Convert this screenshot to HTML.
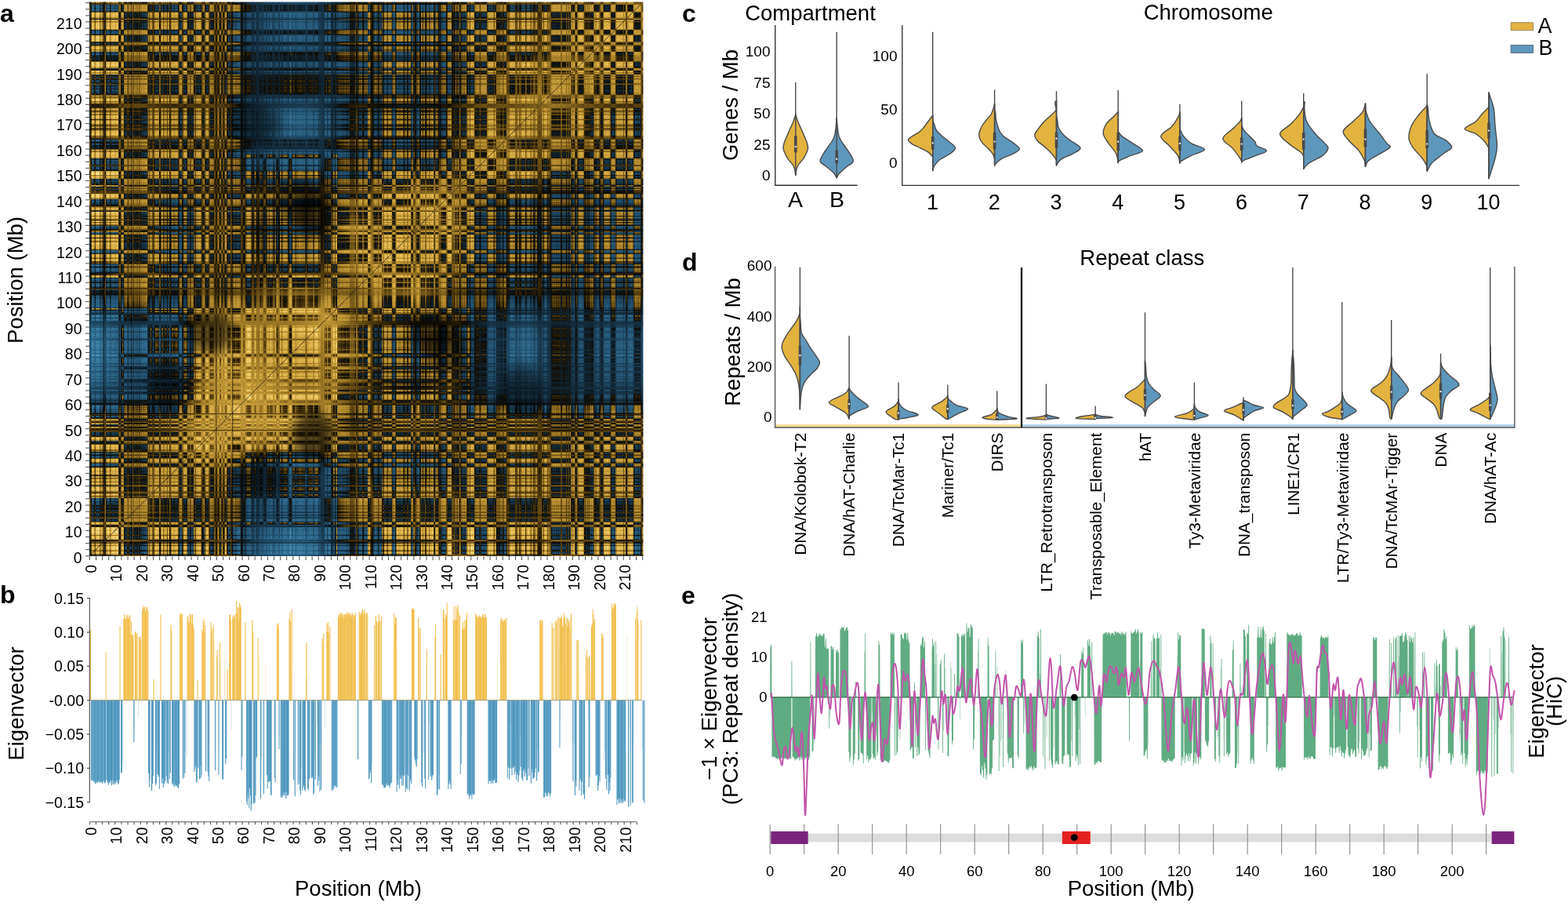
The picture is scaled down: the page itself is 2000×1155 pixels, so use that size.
<!DOCTYPE html><html><head><meta charset="utf-8"><title>Figure</title><style>html,body{margin:0;padding:0;background:#fff;}svg{display:block;}text{font-family:"Liberation Sans", Arial, Helvetica, sans-serif;}</style></head><body>
<svg width="2000" height="1155" viewBox="0 0 2000 1155">
<defs><filter id="f1" filterUnits="userSpaceOnUse" x="83.9" y="-27.4" width="766.5" height="766.5" color-interpolation-filters="sRGB">
<feColorMatrix in="SourceGraphic" type="matrix" values="1 0 0 0 0 1 0 0 0 0 1 0 0 0 0 0 0 0 0 1" result="R"/>
<feColorMatrix in="SourceGraphic" type="matrix" values="0 1 0 0 0 0 1 0 0 0 0 1 0 0 0 0 0 0 0 1" result="C"/>
<feColorMatrix in="SourceGraphic" type="matrix" values="0 0 1 0 0 0 0 1 0 0 0 0 1 0 0 0 0 0 0 1" result="H0"/>
<feGaussianBlur in="H0" stdDeviation="14" result="H"/>
<feComposite in="R" in2="C" operator="arithmetic" k1="2" k2="-1" k3="-1" k4="1" result="P"/>
<feComposite in="P" in2="H" operator="arithmetic" k1="2" k2="-1" k3="-1" k4="1" result="V"/>
<feColorMatrix in="V" type="matrix" values="1 0 0 0 0 0 0 0 0 0 0 0 0 0 0 0 0 0 0 1"/>
</filter>
<filter id="f2" filterUnits="userSpaceOnUse" x="83.9" y="-27.4" width="766.5" height="766.5" color-interpolation-filters="sRGB">
<feColorMatrix in="SourceGraphic" type="matrix" values="1 0 0 0 0 1 0 0 0 0 1 0 0 0 0 0 0 0 0 1" result="V"/>
<feColorMatrix in="SourceGraphic" type="matrix" values="0 1 0 0 0 0 1 0 0 0 0 1 0 0 0 0 0 0 0 1" result="G0"/>
<feGaussianBlur in="G0" stdDeviation="14" result="G"/>
<feComposite in="V" in2="G" operator="arithmetic" k1="0" k2="1" k3="1" k4="-0.5" result="VV"/>
<feComponentTransfer in="VV" result="CM">
<feFuncR type="table" tableValues="0.267 0.256 0.246 0.235 0.225 0.214 0.204 0.193 0.183 0.173 0.162 0.152 0.141 0.127 0.113 0.099 0.085 0.071 0.063 0.055 0.047 0.136 0.225 0.314 0.388 0.463 0.537 0.612 0.686 0.719 0.752 0.784 0.817 0.850 0.882 0.899 0.915 0.931 0.948 0.964 0.980"/>
<feFuncG type="table" tableValues="0.557 0.540 0.523 0.506 0.489 0.472 0.455 0.434 0.413 0.392 0.371 0.350 0.329 0.295 0.260 0.226 0.191 0.157 0.118 0.078 0.039 0.102 0.165 0.227 0.288 0.348 0.409 0.469 0.529 0.560 0.591 0.622 0.652 0.683 0.714 0.742 0.770 0.798 0.826 0.854 0.882"/>
<feFuncB type="table" tableValues="0.714 0.694 0.675 0.655 0.635 0.616 0.596 0.572 0.548 0.524 0.499 0.475 0.451 0.404 0.357 0.310 0.263 0.216 0.150 0.085 0.020 0.031 0.043 0.055 0.078 0.102 0.125 0.149 0.173 0.195 0.217 0.239 0.261 0.284 0.306 0.346 0.387 0.427 0.468 0.508 0.549"/>
</feComponentTransfer>
<feTurbulence type="fractalNoise" baseFrequency="0.9" numOctaves="2" seed="5" result="N"/>
<feColorMatrix in="N" type="matrix" values="1 0 0 0 0 1 0 0 0 0 1 0 0 0 0 0 0 0 0 1" result="NG"/>
<feComposite in="CM" in2="NG" operator="arithmetic" k1="0.5" k2="0.75" k3="0" k4="0"/>
</filter>
<filter id="fb" x="-0.1" y="-0.1" width="1.2" height="1.2"><feGaussianBlur stdDeviation="7"/></filter>
<clipPath id="hmclip"><rect x="113.9" y="2.6" width="706.5" height="706.5"/></clipPath></defs>
<rect width="2000" height="1155" fill="#fff"/>
<g clip-path="url(#hmclip)">
<g filter="url(#f2)">
<g filter="url(#f1)">
<rect x="83.9" y="707.5" width="766.5" height="31.9" fill="rgb(164,0,0)"/>
<rect x="83.9" y="705.9" width="766.5" height="1.9" fill="rgb(103,0,0)"/>
<rect x="83.9" y="704.2" width="766.5" height="1.9" fill="rgb(11,0,0)"/>
<rect x="83.9" y="702.6" width="766.5" height="1.9" fill="rgb(32,0,0)"/>
<rect x="83.9" y="701" width="766.5" height="1.9" fill="rgb(96,0,0)"/>
<rect x="83.9" y="699.4" width="766.5" height="1.9" fill="rgb(25,0,0)"/>
<rect x="83.9" y="697.8" width="766.5" height="1.9" fill="rgb(20,0,0)"/>
<rect x="83.9" y="696.1" width="766.5" height="1.9" fill="rgb(4,0,0)"/>
<rect x="83.9" y="694.5" width="766.5" height="1.9" fill="rgb(87,0,0)"/>
<rect x="83.9" y="692.9" width="766.5" height="1.9" fill="rgb(39,0,0)"/>
<rect x="83.9" y="691.3" width="766.5" height="1.9" fill="rgb(80,0,0)"/>
<rect x="83.9" y="689.6" width="766.5" height="1.9" fill="rgb(104,0,0)"/>
<rect x="83.9" y="688" width="766.5" height="1.9" fill="rgb(161,0,0)"/>
<rect x="83.9" y="686.4" width="766.5" height="1.9" fill="rgb(64,0,0)"/>
<rect x="83.9" y="684.8" width="766.5" height="1.9" fill="rgb(20,0,0)"/>
<rect x="83.9" y="683.2" width="766.5" height="1.9" fill="rgb(12,0,0)"/>
<rect x="83.9" y="681.5" width="766.5" height="1.9" fill="rgb(93,0,0)"/>
<rect x="83.9" y="679.9" width="766.5" height="1.9" fill="rgb(28,0,0)"/>
<rect x="83.9" y="678.3" width="766.5" height="1.9" fill="rgb(13,0,0)"/>
<rect x="83.9" y="676.7" width="766.5" height="1.9" fill="rgb(8,0,0)"/>
<rect x="83.9" y="675.1" width="766.5" height="1.9" fill="rgb(34,0,0)"/>
<rect x="83.9" y="673.4" width="766.5" height="1.9" fill="rgb(7,0,0)"/>
<rect x="83.9" y="671.8" width="766.5" height="1.9" fill="rgb(14,0,0)"/>
<rect x="83.9" y="670.2" width="766.5" height="1.9" fill="rgb(167,0,0)"/>
<rect x="83.9" y="668.6" width="766.5" height="1.9" fill="rgb(166,0,0)"/>
<rect x="83.9" y="666.9" width="766.5" height="1.9" fill="rgb(70,0,0)"/>
<rect x="83.9" y="665.3" width="766.5" height="1.9" fill="rgb(21,0,0)"/>
<rect x="83.9" y="663.7" width="766.5" height="1.9" fill="rgb(183,0,0)"/>
<rect x="83.9" y="662.1" width="766.5" height="1.9" fill="rgb(221,0,0)"/>
<rect x="83.9" y="660.5" width="766.5" height="1.9" fill="rgb(210,0,0)"/>
<rect x="83.9" y="658.8" width="766.5" height="1.9" fill="rgb(145,0,0)"/>
<rect x="83.9" y="657.2" width="766.5" height="1.9" fill="rgb(201,0,0)"/>
<rect x="83.9" y="655.6" width="766.5" height="1.9" fill="rgb(226,0,0)"/>
<rect x="83.9" y="654" width="766.5" height="1.9" fill="rgb(216,0,0)"/>
<rect x="83.9" y="652.4" width="766.5" height="1.9" fill="rgb(142,0,0)"/>
<rect x="83.9" y="650.7" width="766.5" height="1.9" fill="rgb(204,0,0)"/>
<rect x="83.9" y="649.1" width="766.5" height="1.9" fill="rgb(211,0,0)"/>
<rect x="83.9" y="647.5" width="766.5" height="1.9" fill="rgb(168,0,0)"/>
<rect x="83.9" y="645.9" width="766.5" height="1.9" fill="rgb(211,0,0)"/>
<rect x="83.9" y="644.2" width="766.5" height="1.9" fill="rgb(160,0,0)"/>
<rect x="83.9" y="642.6" width="766.5" height="1.9" fill="rgb(206,0,0)"/>
<rect x="83.9" y="641" width="766.5" height="1.9" fill="rgb(220,0,0)"/>
<rect x="83.9" y="639.4" width="766.5" height="1.9" fill="rgb(212,0,0)"/>
<rect x="83.9" y="637.8" width="766.5" height="1.9" fill="rgb(222,0,0)"/>
<rect x="83.9" y="636.1" width="766.5" height="1.9" fill="rgb(235,0,0)"/>
<rect x="83.9" y="634.5" width="766.5" height="1.9" fill="rgb(216,0,0)"/>
<rect x="83.9" y="632.9" width="766.5" height="1.9" fill="rgb(64,0,0)"/>
<rect x="83.9" y="631.3" width="766.5" height="1.9" fill="rgb(113,0,0)"/>
<rect x="83.9" y="629.7" width="766.5" height="1.9" fill="rgb(4,0,0)"/>
<rect x="83.9" y="628" width="766.5" height="1.9" fill="rgb(93,0,0)"/>
<rect x="83.9" y="626.4" width="766.5" height="1.9" fill="rgb(128,0,0)"/>
<rect x="83.9" y="624.8" width="766.5" height="1.9" fill="rgb(63,0,0)"/>
<rect x="83.9" y="623.2" width="766.5" height="1.9" fill="rgb(4,0,0)"/>
<rect x="83.9" y="621.6" width="766.5" height="1.9" fill="rgb(27,0,0)"/>
<rect x="83.9" y="619.9" width="766.5" height="1.9" fill="rgb(28,0,0)"/>
<rect x="83.9" y="618.3" width="766.5" height="1.9" fill="rgb(176,0,0)"/>
<rect x="83.9" y="616.7" width="766.5" height="1.9" fill="rgb(66,0,0)"/>
<rect x="83.9" y="615.1" width="766.5" height="1.9" fill="rgb(2,0,0)"/>
<rect x="83.9" y="613.4" width="766.5" height="1.9" fill="rgb(87,0,0)"/>
<rect x="83.9" y="611.8" width="766.5" height="1.9" fill="rgb(27,0,0)"/>
<rect x="83.9" y="610.2" width="766.5" height="1.9" fill="rgb(31,0,0)"/>
<rect x="83.9" y="608.6" width="766.5" height="1.9" fill="rgb(93,0,0)"/>
<rect x="83.9" y="607" width="766.5" height="1.9" fill="rgb(19,0,0)"/>
<rect x="83.9" y="605.3" width="766.5" height="1.9" fill="rgb(143,0,0)"/>
<rect x="83.9" y="603.7" width="766.5" height="1.9" fill="rgb(64,0,0)"/>
<rect x="83.9" y="602.1" width="766.5" height="1.9" fill="rgb(1,0,0)"/>
<rect x="83.9" y="600.5" width="766.5" height="1.9" fill="rgb(37,0,0)"/>
<rect x="83.9" y="598.9" width="766.5" height="1.9" fill="rgb(22,0,0)"/>
<rect x="83.9" y="597.2" width="766.5" height="1.9" fill="rgb(5,0,0)"/>
<rect x="83.9" y="595.6" width="766.5" height="1.9" fill="rgb(27,0,0)"/>
<rect x="83.9" y="594" width="766.5" height="1.9" fill="rgb(144,0,0)"/>
<rect x="83.9" y="592.4" width="766.5" height="1.9" fill="rgb(213,0,0)"/>
<rect x="83.9" y="590.7" width="766.5" height="1.9" fill="rgb(230,0,0)"/>
<rect x="83.9" y="589.1" width="766.5" height="1.9" fill="rgb(110,0,0)"/>
<rect x="83.9" y="587.5" width="766.5" height="1.9" fill="rgb(32,0,0)"/>
<rect x="83.9" y="585.9" width="766.5" height="1.9" fill="rgb(12,0,0)"/>
<rect x="83.9" y="584.3" width="766.5" height="1.9" fill="rgb(20,0,0)"/>
<rect x="83.9" y="582.6" width="766.5" height="1.9" fill="rgb(183,0,0)"/>
<rect x="83.9" y="581" width="766.5" height="1.9" fill="rgb(214,0,0)"/>
<rect x="83.9" y="579.4" width="766.5" height="1.9" fill="rgb(141,0,0)"/>
<rect x="83.9" y="577.8" width="766.5" height="1.9" fill="rgb(210,0,0)"/>
<rect x="83.9" y="576.2" width="766.5" height="1.9" fill="rgb(221,0,0)"/>
<rect x="83.9" y="574.5" width="766.5" height="1.9" fill="rgb(69,0,0)"/>
<rect x="83.9" y="572.9" width="766.5" height="1.9" fill="rgb(108,0,0)"/>
<rect x="83.9" y="571.3" width="766.5" height="1.9" fill="rgb(26,0,0)"/>
<rect x="83.9" y="569.7" width="766.5" height="1.9" fill="rgb(27,0,0)"/>
<rect x="83.9" y="568.1" width="766.5" height="1.9" fill="rgb(15,0,0)"/>
<rect x="83.9" y="566.4" width="766.5" height="1.9" fill="rgb(22,0,0)"/>
<rect x="83.9" y="564.8" width="766.5" height="1.9" fill="rgb(139,0,0)"/>
<rect x="83.9" y="563.2" width="766.5" height="1.9" fill="rgb(169,0,0)"/>
<rect x="83.9" y="561.6" width="766.5" height="1.9" fill="rgb(208,0,0)"/>
<rect x="83.9" y="559.9" width="766.5" height="1.9" fill="rgb(77,0,0)"/>
<rect x="83.9" y="558.3" width="766.5" height="1.9" fill="rgb(22,0,0)"/>
<rect x="83.9" y="556.7" width="766.5" height="1.9" fill="rgb(44,0,0)"/>
<rect x="83.9" y="555.1" width="766.5" height="1.9" fill="rgb(142,0,0)"/>
<rect x="83.9" y="553.5" width="766.5" height="1.9" fill="rgb(214,0,0)"/>
<rect x="83.9" y="551.8" width="766.5" height="1.9" fill="rgb(206,0,0)"/>
<rect x="83.9" y="550.2" width="766.5" height="1.9" fill="rgb(207,0,0)"/>
<rect x="83.9" y="548.6" width="766.5" height="1.9" fill="rgb(112,0,0)"/>
<rect x="83.9" y="547" width="766.5" height="1.9" fill="rgb(132,0,0)"/>
<rect x="83.9" y="545.4" width="766.5" height="1.9" fill="rgb(156,0,0)"/>
<rect x="83.9" y="543.7" width="766.5" height="1.9" fill="rgb(66,0,0)"/>
<rect x="83.9" y="542.1" width="766.5" height="1.9" fill="rgb(167,0,0)"/>
<rect x="83.9" y="540.5" width="766.5" height="1.9" fill="rgb(208,0,0)"/>
<rect x="83.9" y="538.9" width="766.5" height="1.9" fill="rgb(71,0,0)"/>
<rect x="83.9" y="537.2" width="766.5" height="1.9" fill="rgb(163,0,0)"/>
<rect x="83.9" y="535.6" width="766.5" height="1.9" fill="rgb(120,0,0)"/>
<rect x="83.9" y="534" width="766.5" height="1.9" fill="rgb(36,0,0)"/>
<rect x="83.9" y="532.4" width="766.5" height="1.9" fill="rgb(149,0,0)"/>
<rect x="83.9" y="530.8" width="766.5" height="1.9" fill="rgb(222,0,0)"/>
<rect x="83.9" y="529.1" width="766.5" height="1.9" fill="rgb(221,0,0)"/>
<rect x="83.9" y="527.5" width="766.5" height="1.9" fill="rgb(123,0,0)"/>
<rect x="83.9" y="525.9" width="766.5" height="1.9" fill="rgb(182,0,0)"/>
<rect x="83.9" y="524.3" width="766.5" height="1.9" fill="rgb(224,0,0)"/>
<rect x="83.9" y="522.7" width="766.5" height="1.9" fill="rgb(228,0,0)"/>
<rect x="83.9" y="521" width="766.5" height="1.9" fill="rgb(211,0,0)"/>
<rect x="83.9" y="519.4" width="766.5" height="1.9" fill="rgb(220,0,0)"/>
<rect x="83.9" y="517.8" width="766.5" height="1.9" fill="rgb(229,0,0)"/>
<rect x="83.9" y="516.2" width="766.5" height="1.9" fill="rgb(221,0,0)"/>
<rect x="83.9" y="514.5" width="766.5" height="1.9" fill="rgb(120,0,0)"/>
<rect x="83.9" y="512.9" width="766.5" height="1.9" fill="rgb(128,0,0)"/>
<rect x="83.9" y="511.3" width="766.5" height="1.9" fill="rgb(177,0,0)"/>
<rect x="83.9" y="509.7" width="766.5" height="1.9" fill="rgb(146,0,0)"/>
<rect x="83.9" y="508.1" width="766.5" height="1.9" fill="rgb(68,0,0)"/>
<rect x="83.9" y="506.4" width="766.5" height="1.9" fill="rgb(14,0,0)"/>
<rect x="83.9" y="504.8" width="766.5" height="1.9" fill="rgb(11,0,0)"/>
<rect x="83.9" y="503.2" width="766.5" height="1.9" fill="rgb(5,0,0)"/>
<rect x="83.9" y="501.6" width="766.5" height="1.9" fill="rgb(80,0,0)"/>
<rect x="83.9" y="500" width="766.5" height="1.9" fill="rgb(144,0,0)"/>
<rect x="83.9" y="498.3" width="766.5" height="1.9" fill="rgb(118,0,0)"/>
<rect x="83.9" y="496.7" width="766.5" height="1.9" fill="rgb(20,0,0)"/>
<rect x="83.9" y="495.1" width="766.5" height="1.9" fill="rgb(116,0,0)"/>
<rect x="83.9" y="493.5" width="766.5" height="1.9" fill="rgb(128,0,0)"/>
<rect x="83.9" y="491.9" width="766.5" height="1.9" fill="rgb(138,0,0)"/>
<rect x="83.9" y="490.2" width="766.5" height="1.9" fill="rgb(65,0,0)"/>
<rect x="83.9" y="488.6" width="766.5" height="1.9" fill="rgb(80,0,0)"/>
<rect x="83.9" y="487" width="766.5" height="1.9" fill="rgb(107,0,0)"/>
<rect x="83.9" y="485.4" width="766.5" height="1.9" fill="rgb(155,0,0)"/>
<rect x="83.9" y="483.7" width="766.5" height="1.9" fill="rgb(175,0,0)"/>
<rect x="83.9" y="482.1" width="766.5" height="1.9" fill="rgb(112,0,0)"/>
<rect x="83.9" y="480.5" width="766.5" height="1.9" fill="rgb(13,0,0)"/>
<rect x="83.9" y="478.9" width="766.5" height="1.9" fill="rgb(81,0,0)"/>
<rect x="83.9" y="477.3" width="766.5" height="1.9" fill="rgb(26,0,0)"/>
<rect x="83.9" y="475.6" width="766.5" height="1.9" fill="rgb(29,0,0)"/>
<rect x="83.9" y="474" width="766.5" height="1.9" fill="rgb(82,0,0)"/>
<rect x="83.9" y="472.4" width="766.5" height="1.9" fill="rgb(113,0,0)"/>
<rect x="83.9" y="470.8" width="766.5" height="1.9" fill="rgb(28,0,0)"/>
<rect x="83.9" y="469.2" width="766.5" height="1.9" fill="rgb(168,0,0)"/>
<rect x="83.9" y="467.5" width="766.5" height="1.9" fill="rgb(170,0,0)"/>
<rect x="83.9" y="465.9" width="766.5" height="1.9" fill="rgb(116,0,0)"/>
<rect x="83.9" y="464.3" width="766.5" height="1.9" fill="rgb(7,0,0)"/>
<rect x="83.9" y="462.7" width="766.5" height="1.9" fill="rgb(104,0,0)"/>
<rect x="83.9" y="461" width="766.5" height="1.9" fill="rgb(28,0,0)"/>
<rect x="83.9" y="459.4" width="766.5" height="1.9" fill="rgb(11,0,0)"/>
<rect x="83.9" y="457.8" width="766.5" height="1.9" fill="rgb(7,0,0)"/>
<rect x="83.9" y="456.2" width="766.5" height="1.9" fill="rgb(20,0,0)"/>
<rect x="83.9" y="454.6" width="766.5" height="1.9" fill="rgb(95,0,0)"/>
<rect x="83.9" y="452.9" width="766.5" height="1.9" fill="rgb(182,0,0)"/>
<rect x="83.9" y="451.3" width="766.5" height="1.9" fill="rgb(229,0,0)"/>
<rect x="83.9" y="449.7" width="766.5" height="1.9" fill="rgb(102,0,0)"/>
<rect x="83.9" y="448.1" width="766.5" height="1.9" fill="rgb(9,0,0)"/>
<rect x="83.9" y="446.5" width="766.5" height="1.9" fill="rgb(13,0,0)"/>
<rect x="83.9" y="444.8" width="766.5" height="1.9" fill="rgb(78,0,0)"/>
<rect x="83.9" y="443.2" width="766.5" height="1.9" fill="rgb(24,0,0)"/>
<rect x="83.9" y="441.6" width="766.5" height="1.9" fill="rgb(30,0,0)"/>
<rect x="83.9" y="440" width="766.5" height="1.9" fill="rgb(6,0,0)"/>
<rect x="83.9" y="438.4" width="766.5" height="1.9" fill="rgb(14,0,0)"/>
<rect x="83.9" y="436.7" width="766.5" height="1.9" fill="rgb(23,0,0)"/>
<rect x="83.9" y="435.1" width="766.5" height="1.9" fill="rgb(28,0,0)"/>
<rect x="83.9" y="433.5" width="766.5" height="1.9" fill="rgb(23,0,0)"/>
<rect x="83.9" y="431.9" width="766.5" height="1.9" fill="rgb(133,0,0)"/>
<rect x="83.9" y="430.2" width="766.5" height="1.9" fill="rgb(71,0,0)"/>
<rect x="83.9" y="428.6" width="766.5" height="1.9" fill="rgb(30,0,0)"/>
<rect x="83.9" y="425.4" width="766.5" height="3.5" fill="rgb(21,0,0)"/>
<rect x="83.9" y="423.8" width="766.5" height="1.9" fill="rgb(10,0,0)"/>
<rect x="83.9" y="422.1" width="766.5" height="1.9" fill="rgb(100,0,0)"/>
<rect x="83.9" y="420.5" width="766.5" height="1.9" fill="rgb(17,0,0)"/>
<rect x="83.9" y="418.9" width="766.5" height="1.9" fill="rgb(1,0,0)"/>
<rect x="83.9" y="417.3" width="766.5" height="1.9" fill="rgb(5,0,0)"/>
<rect x="83.9" y="415.7" width="766.5" height="1.9" fill="rgb(97,0,0)"/>
<rect x="83.9" y="414" width="766.5" height="1.9" fill="rgb(84,0,0)"/>
<rect x="83.9" y="412.4" width="766.5" height="1.9" fill="rgb(133,0,0)"/>
<rect x="83.9" y="410.8" width="766.5" height="1.9" fill="rgb(137,0,0)"/>
<rect x="83.9" y="409.2" width="766.5" height="1.9" fill="rgb(126,0,0)"/>
<rect x="83.9" y="407.5" width="766.5" height="1.9" fill="rgb(183,0,0)"/>
<rect x="83.9" y="405.9" width="766.5" height="1.9" fill="rgb(206,0,0)"/>
<rect x="83.9" y="404.3" width="766.5" height="1.9" fill="rgb(146,0,0)"/>
<rect x="83.9" y="402.7" width="766.5" height="1.9" fill="rgb(212,0,0)"/>
<rect x="83.9" y="401.1" width="766.5" height="1.9" fill="rgb(214,0,0)"/>
<rect x="83.9" y="399.4" width="766.5" height="1.9" fill="rgb(115,0,0)"/>
<rect x="83.9" y="397.8" width="766.5" height="1.9" fill="rgb(96,0,0)"/>
<rect x="83.9" y="396.2" width="766.5" height="1.9" fill="rgb(9,0,0)"/>
<rect x="83.9" y="394.6" width="766.5" height="1.9" fill="rgb(106,0,0)"/>
<rect x="83.9" y="393" width="766.5" height="1.9" fill="rgb(7,0,0)"/>
<rect x="83.9" y="391.3" width="766.5" height="1.9" fill="rgb(178,0,0)"/>
<rect x="83.9" y="389.7" width="766.5" height="1.9" fill="rgb(216,0,0)"/>
<rect x="83.9" y="388.1" width="766.5" height="1.9" fill="rgb(205,0,0)"/>
<rect x="83.9" y="386.5" width="766.5" height="1.9" fill="rgb(220,0,0)"/>
<rect x="83.9" y="384.9" width="766.5" height="1.9" fill="rgb(214,0,0)"/>
<rect x="83.9" y="383.2" width="766.5" height="1.9" fill="rgb(212,0,0)"/>
<rect x="83.9" y="381.6" width="766.5" height="1.9" fill="rgb(231,0,0)"/>
<rect x="83.9" y="380" width="766.5" height="1.9" fill="rgb(209,0,0)"/>
<rect x="83.9" y="378.4" width="766.5" height="1.9" fill="rgb(206,0,0)"/>
<rect x="83.9" y="376.7" width="766.5" height="1.9" fill="rgb(225,0,0)"/>
<rect x="83.9" y="375.1" width="766.5" height="1.9" fill="rgb(163,0,0)"/>
<rect x="83.9" y="373.5" width="766.5" height="1.9" fill="rgb(158,0,0)"/>
<rect x="83.9" y="371.9" width="766.5" height="1.9" fill="rgb(169,0,0)"/>
<rect x="83.9" y="370.3" width="766.5" height="1.9" fill="rgb(160,0,0)"/>
<rect x="83.9" y="368.6" width="766.5" height="1.9" fill="rgb(206,0,0)"/>
<rect x="83.9" y="367" width="766.5" height="1.9" fill="rgb(121,0,0)"/>
<rect x="83.9" y="365.4" width="766.5" height="1.9" fill="rgb(173,0,0)"/>
<rect x="83.9" y="363.8" width="766.5" height="1.9" fill="rgb(227,0,0)"/>
<rect x="83.9" y="362.2" width="766.5" height="1.9" fill="rgb(234,0,0)"/>
<rect x="83.9" y="360.5" width="766.5" height="1.9" fill="rgb(230,0,0)"/>
<rect x="83.9" y="358.9" width="766.5" height="1.9" fill="rgb(153,0,0)"/>
<rect x="83.9" y="357.3" width="766.5" height="1.9" fill="rgb(211,0,0)"/>
<rect x="83.9" y="355.7" width="766.5" height="1.9" fill="rgb(220,0,0)"/>
<rect x="83.9" y="354" width="766.5" height="1.9" fill="rgb(229,0,0)"/>
<rect x="83.9" y="352.4" width="766.5" height="1.9" fill="rgb(60,0,0)"/>
<rect x="83.9" y="350.8" width="766.5" height="1.9" fill="rgb(19,0,0)"/>
<rect x="83.9" y="349.2" width="766.5" height="1.9" fill="rgb(113,0,0)"/>
<rect x="83.9" y="347.6" width="766.5" height="1.9" fill="rgb(128,0,0)"/>
<rect x="83.9" y="345.9" width="766.5" height="1.9" fill="rgb(176,0,0)"/>
<rect x="83.9" y="344.3" width="766.5" height="1.9" fill="rgb(210,0,0)"/>
<rect x="83.9" y="342.7" width="766.5" height="1.9" fill="rgb(233,0,0)"/>
<rect x="83.9" y="341.1" width="766.5" height="1.9" fill="rgb(215,0,0)"/>
<rect x="83.9" y="339.5" width="766.5" height="1.9" fill="rgb(144,0,0)"/>
<rect x="83.9" y="337.8" width="766.5" height="1.9" fill="rgb(209,0,0)"/>
<rect x="83.9" y="336.2" width="766.5" height="1.9" fill="rgb(230,0,0)"/>
<rect x="83.9" y="334.6" width="766.5" height="1.9" fill="rgb(68,0,0)"/>
<rect x="83.9" y="333" width="766.5" height="1.9" fill="rgb(106,0,0)"/>
<rect x="83.9" y="331.3" width="766.5" height="1.9" fill="rgb(11,0,0)"/>
<rect x="83.9" y="329.7" width="766.5" height="1.9" fill="rgb(9,0,0)"/>
<rect x="83.9" y="328.1" width="766.5" height="1.9" fill="rgb(81,0,0)"/>
<rect x="83.9" y="326.5" width="766.5" height="1.9" fill="rgb(16,0,0)"/>
<rect x="83.9" y="324.9" width="766.5" height="1.9" fill="rgb(10,0,0)"/>
<rect x="83.9" y="323.2" width="766.5" height="1.9" fill="rgb(19,0,0)"/>
<rect x="83.9" y="321.6" width="766.5" height="1.9" fill="rgb(178,0,0)"/>
<rect x="83.9" y="320" width="766.5" height="1.9" fill="rgb(235,0,0)"/>
<rect x="83.9" y="318.4" width="766.5" height="1.9" fill="rgb(222,0,0)"/>
<rect x="83.9" y="316.8" width="766.5" height="1.9" fill="rgb(70,0,0)"/>
<rect x="83.9" y="315.1" width="766.5" height="1.9" fill="rgb(6,0,0)"/>
<rect x="83.9" y="313.5" width="766.5" height="1.9" fill="rgb(29,0,0)"/>
<rect x="83.9" y="311.9" width="766.5" height="1.9" fill="rgb(22,0,0)"/>
<rect x="83.9" y="310.3" width="766.5" height="1.9" fill="rgb(10,0,0)"/>
<rect x="83.9" y="308.7" width="766.5" height="1.9" fill="rgb(6,0,0)"/>
<rect x="83.9" y="307" width="766.5" height="1.9" fill="rgb(90,0,0)"/>
<rect x="83.9" y="305.4" width="766.5" height="1.9" fill="rgb(36,0,0)"/>
<rect x="83.9" y="303.8" width="766.5" height="1.9" fill="rgb(13,0,0)"/>
<rect x="83.9" y="302.2" width="766.5" height="1.9" fill="rgb(111,0,0)"/>
<rect x="83.9" y="300.5" width="766.5" height="1.9" fill="rgb(9,0,0)"/>
<rect x="83.9" y="298.9" width="766.5" height="1.9" fill="rgb(26,0,0)"/>
<rect x="83.9" y="297.3" width="766.5" height="1.9" fill="rgb(183,0,0)"/>
<rect x="83.9" y="295.7" width="766.5" height="1.9" fill="rgb(230,0,0)"/>
<rect x="83.9" y="294.1" width="766.5" height="1.9" fill="rgb(72,0,0)"/>
<rect x="83.9" y="292.4" width="766.5" height="1.9" fill="rgb(115,0,0)"/>
<rect x="83.9" y="290.8" width="766.5" height="1.9" fill="rgb(182,0,0)"/>
<rect x="83.9" y="289.2" width="766.5" height="1.9" fill="rgb(215,0,0)"/>
<rect x="83.9" y="287.6" width="766.5" height="1.9" fill="rgb(229,0,0)"/>
<rect x="83.9" y="286" width="766.5" height="1.9" fill="rgb(110,0,0)"/>
<rect x="83.9" y="284.3" width="766.5" height="1.9" fill="rgb(11,0,0)"/>
<rect x="83.9" y="282.7" width="766.5" height="1.9" fill="rgb(85,0,0)"/>
<rect x="83.9" y="281.1" width="766.5" height="1.9" fill="rgb(7,0,0)"/>
<rect x="83.9" y="279.5" width="766.5" height="1.9" fill="rgb(131,0,0)"/>
<rect x="83.9" y="277.8" width="766.5" height="1.9" fill="rgb(72,0,0)"/>
<rect x="83.9" y="276.2" width="766.5" height="1.9" fill="rgb(2,0,0)"/>
<rect x="83.9" y="274.6" width="766.5" height="1.9" fill="rgb(84,0,0)"/>
<rect x="83.9" y="273" width="766.5" height="1.9" fill="rgb(27,0,0)"/>
<rect x="83.9" y="271.4" width="766.5" height="1.9" fill="rgb(19,0,0)"/>
<rect x="83.9" y="269.7" width="766.5" height="1.9" fill="rgb(6,0,0)"/>
<rect x="83.9" y="268.1" width="766.5" height="1.9" fill="rgb(181,0,0)"/>
<rect x="83.9" y="266.5" width="766.5" height="1.9" fill="rgb(66,0,0)"/>
<rect x="83.9" y="264.9" width="766.5" height="1.9" fill="rgb(29,0,0)"/>
<rect x="83.9" y="263.3" width="766.5" height="1.9" fill="rgb(83,0,0)"/>
<rect x="83.9" y="261.6" width="766.5" height="1.9" fill="rgb(158,0,0)"/>
<rect x="83.9" y="260" width="766.5" height="1.9" fill="rgb(176,0,0)"/>
<rect x="83.9" y="258.4" width="766.5" height="1.9" fill="rgb(210,0,0)"/>
<rect x="83.9" y="255.1" width="766.5" height="3.5" fill="rgb(228,0,0)"/>
<rect x="83.9" y="253.5" width="766.5" height="1.9" fill="rgb(221,0,0)"/>
<rect x="83.9" y="251.9" width="766.5" height="1.9" fill="rgb(101,0,0)"/>
<rect x="83.9" y="250.3" width="766.5" height="1.9" fill="rgb(27,0,0)"/>
<rect x="83.9" y="248.7" width="766.5" height="1.9" fill="rgb(28,0,0)"/>
<rect x="83.9" y="247" width="766.5" height="1.9" fill="rgb(20,0,0)"/>
<rect x="83.9" y="245.4" width="766.5" height="1.9" fill="rgb(142,0,0)"/>
<rect x="83.9" y="243.8" width="766.5" height="1.9" fill="rgb(160,0,0)"/>
<rect x="83.9" y="242.2" width="766.5" height="1.9" fill="rgb(141,0,0)"/>
<rect x="83.9" y="240.6" width="766.5" height="1.9" fill="rgb(226,0,0)"/>
<rect x="83.9" y="238.9" width="766.5" height="1.9" fill="rgb(160,0,0)"/>
<rect x="83.9" y="237.3" width="766.5" height="1.9" fill="rgb(219,0,0)"/>
<rect x="83.9" y="235.7" width="766.5" height="1.9" fill="rgb(73,0,0)"/>
<rect x="83.9" y="234.1" width="766.5" height="1.9" fill="rgb(173,0,0)"/>
<rect x="83.9" y="232.5" width="766.5" height="1.9" fill="rgb(214,0,0)"/>
<rect x="83.9" y="230.8" width="766.5" height="1.9" fill="rgb(226,0,0)"/>
<rect x="83.9" y="229.2" width="766.5" height="1.9" fill="rgb(219,0,0)"/>
<rect x="83.9" y="227.6" width="766.5" height="1.9" fill="rgb(223,0,0)"/>
<rect x="83.9" y="226" width="766.5" height="1.9" fill="rgb(74,0,0)"/>
<rect x="83.9" y="224.3" width="766.5" height="1.9" fill="rgb(22,0,0)"/>
<rect x="83.9" y="222.7" width="766.5" height="1.9" fill="rgb(95,0,0)"/>
<rect x="83.9" y="221.1" width="766.5" height="1.9" fill="rgb(2,0,0)"/>
<rect x="83.9" y="219.5" width="766.5" height="1.9" fill="rgb(6,0,0)"/>
<rect x="83.9" y="217.9" width="766.5" height="1.9" fill="rgb(30,0,0)"/>
<rect x="83.9" y="216.2" width="766.5" height="1.9" fill="rgb(173,0,0)"/>
<rect x="83.9" y="214.6" width="766.5" height="1.9" fill="rgb(215,0,0)"/>
<rect x="83.9" y="213" width="766.5" height="1.9" fill="rgb(225,0,0)"/>
<rect x="83.9" y="211.4" width="766.5" height="1.9" fill="rgb(214,0,0)"/>
<rect x="83.9" y="209.8" width="766.5" height="1.9" fill="rgb(143,0,0)"/>
<rect x="83.9" y="208.1" width="766.5" height="1.9" fill="rgb(213,0,0)"/>
<rect x="83.9" y="206.5" width="766.5" height="1.9" fill="rgb(229,0,0)"/>
<rect x="83.9" y="204.9" width="766.5" height="1.9" fill="rgb(223,0,0)"/>
<rect x="83.9" y="203.3" width="766.5" height="1.9" fill="rgb(227,0,0)"/>
<rect x="83.9" y="201.6" width="766.5" height="1.9" fill="rgb(202,0,0)"/>
<rect x="83.9" y="200" width="766.5" height="1.9" fill="rgb(80,0,0)"/>
<rect x="83.9" y="198.4" width="766.5" height="1.9" fill="rgb(10,0,0)"/>
<rect x="83.9" y="196.8" width="766.5" height="1.9" fill="rgb(35,0,0)"/>
<rect x="83.9" y="195.2" width="766.5" height="1.9" fill="rgb(17,0,0)"/>
<rect x="83.9" y="193.5" width="766.5" height="1.9" fill="rgb(22,0,0)"/>
<rect x="83.9" y="191.9" width="766.5" height="1.9" fill="rgb(108,0,0)"/>
<rect x="83.9" y="190.3" width="766.5" height="1.9" fill="rgb(27,0,0)"/>
<rect x="83.9" y="188.7" width="766.5" height="1.9" fill="rgb(165,0,0)"/>
<rect x="83.9" y="187.1" width="766.5" height="1.9" fill="rgb(177,0,0)"/>
<rect x="83.9" y="185.4" width="766.5" height="1.9" fill="rgb(158,0,0)"/>
<rect x="83.9" y="183.8" width="766.5" height="1.9" fill="rgb(198,0,0)"/>
<rect x="83.9" y="182.2" width="766.5" height="1.9" fill="rgb(212,0,0)"/>
<rect x="83.9" y="180.6" width="766.5" height="1.9" fill="rgb(144,0,0)"/>
<rect x="83.9" y="179" width="766.5" height="1.9" fill="rgb(209,0,0)"/>
<rect x="83.9" y="177.3" width="766.5" height="1.9" fill="rgb(228,0,0)"/>
<rect x="83.9" y="175.7" width="766.5" height="1.9" fill="rgb(115,0,0)"/>
<rect x="83.9" y="174.1" width="766.5" height="1.9" fill="rgb(104,0,0)"/>
<rect x="83.9" y="172.5" width="766.5" height="1.9" fill="rgb(88,0,0)"/>
<rect x="83.9" y="170.8" width="766.5" height="1.9" fill="rgb(17,0,0)"/>
<rect x="83.9" y="169.2" width="766.5" height="1.9" fill="rgb(7,0,0)"/>
<rect x="83.9" y="167.6" width="766.5" height="1.9" fill="rgb(24,0,0)"/>
<rect x="83.9" y="166" width="766.5" height="1.9" fill="rgb(19,0,0)"/>
<rect x="83.9" y="164.4" width="766.5" height="1.9" fill="rgb(110,0,0)"/>
<rect x="83.9" y="162.7" width="766.5" height="1.9" fill="rgb(112,0,0)"/>
<rect x="83.9" y="161.1" width="766.5" height="1.9" fill="rgb(27,0,0)"/>
<rect x="83.9" y="159.5" width="766.5" height="1.9" fill="rgb(111,0,0)"/>
<rect x="83.9" y="157.9" width="766.5" height="1.9" fill="rgb(89,0,0)"/>
<rect x="83.9" y="156.3" width="766.5" height="1.9" fill="rgb(21,0,0)"/>
<rect x="83.9" y="154.6" width="766.5" height="1.9" fill="rgb(9,0,0)"/>
<rect x="83.9" y="153" width="766.5" height="1.9" fill="rgb(19,0,0)"/>
<rect x="83.9" y="151.4" width="766.5" height="1.9" fill="rgb(114,0,0)"/>
<rect x="83.9" y="149.8" width="766.5" height="1.9" fill="rgb(26,0,0)"/>
<rect x="83.9" y="148.1" width="766.5" height="1.9" fill="rgb(6,0,0)"/>
<rect x="83.9" y="146.5" width="766.5" height="1.9" fill="rgb(15,0,0)"/>
<rect x="83.9" y="144.9" width="766.5" height="1.9" fill="rgb(94,0,0)"/>
<rect x="83.9" y="143.3" width="766.5" height="1.9" fill="rgb(15,0,0)"/>
<rect x="83.9" y="141.7" width="766.5" height="1.9" fill="rgb(99,0,0)"/>
<rect x="83.9" y="140" width="766.5" height="1.9" fill="rgb(102,0,0)"/>
<rect x="83.9" y="138.4" width="766.5" height="1.9" fill="rgb(23,0,0)"/>
<rect x="83.9" y="136.8" width="766.5" height="1.9" fill="rgb(102,0,0)"/>
<rect x="83.9" y="135.2" width="766.5" height="1.9" fill="rgb(143,0,0)"/>
<rect x="83.9" y="133.6" width="766.5" height="1.9" fill="rgb(140,0,0)"/>
<rect x="83.9" y="131.9" width="766.5" height="1.9" fill="rgb(149,0,0)"/>
<rect x="83.9" y="130.3" width="766.5" height="1.9" fill="rgb(66,0,0)"/>
<rect x="83.9" y="128.7" width="766.5" height="1.9" fill="rgb(99,0,0)"/>
<rect x="83.9" y="127.1" width="766.5" height="1.9" fill="rgb(26,0,0)"/>
<rect x="83.9" y="125.5" width="766.5" height="1.9" fill="rgb(12,0,0)"/>
<rect x="83.9" y="123.8" width="766.5" height="1.9" fill="rgb(109,0,0)"/>
<rect x="83.9" y="122.2" width="766.5" height="1.9" fill="rgb(95,0,0)"/>
<rect x="83.9" y="120.6" width="766.5" height="1.9" fill="rgb(103,0,0)"/>
<rect x="83.9" y="119" width="766.5" height="1.9" fill="rgb(174,0,0)"/>
<rect x="83.9" y="117.3" width="766.5" height="1.9" fill="rgb(215,0,0)"/>
<rect x="83.9" y="115.7" width="766.5" height="1.9" fill="rgb(220,0,0)"/>
<rect x="83.9" y="114.1" width="766.5" height="1.9" fill="rgb(232,0,0)"/>
<rect x="83.9" y="112.5" width="766.5" height="1.9" fill="rgb(205,0,0)"/>
<rect x="83.9" y="110.9" width="766.5" height="1.9" fill="rgb(224,0,0)"/>
<rect x="83.9" y="109.2" width="766.5" height="1.9" fill="rgb(210,0,0)"/>
<rect x="83.9" y="107.6" width="766.5" height="1.9" fill="rgb(219,0,0)"/>
<rect x="83.9" y="106" width="766.5" height="1.9" fill="rgb(140,0,0)"/>
<rect x="83.9" y="104.4" width="766.5" height="1.9" fill="rgb(213,0,0)"/>
<rect x="83.9" y="102.8" width="766.5" height="1.9" fill="rgb(220,0,0)"/>
<rect x="83.9" y="101.1" width="766.5" height="1.9" fill="rgb(218,0,0)"/>
<rect x="83.9" y="99.5" width="766.5" height="1.9" fill="rgb(143,0,0)"/>
<rect x="83.9" y="97.9" width="766.5" height="1.9" fill="rgb(225,0,0)"/>
<rect x="83.9" y="96.3" width="766.5" height="1.9" fill="rgb(149,0,0)"/>
<rect x="83.9" y="94.6" width="766.5" height="1.9" fill="rgb(229,0,0)"/>
<rect x="83.9" y="93" width="766.5" height="1.9" fill="rgb(71,0,0)"/>
<rect x="83.9" y="91.4" width="766.5" height="1.9" fill="rgb(89,0,0)"/>
<rect x="83.9" y="89.8" width="766.5" height="1.9" fill="rgb(27,0,0)"/>
<rect x="83.9" y="88.2" width="766.5" height="1.9" fill="rgb(172,0,0)"/>
<rect x="83.9" y="86.5" width="766.5" height="1.9" fill="rgb(201,0,0)"/>
<rect x="83.9" y="84.9" width="766.5" height="1.9" fill="rgb(75,0,0)"/>
<rect x="83.9" y="83.3" width="766.5" height="1.9" fill="rgb(29,0,0)"/>
<rect x="83.9" y="81.7" width="766.5" height="1.9" fill="rgb(9,0,0)"/>
<rect x="83.9" y="80.1" width="766.5" height="1.9" fill="rgb(24,0,0)"/>
<rect x="83.9" y="78.4" width="766.5" height="1.9" fill="rgb(23,0,0)"/>
<rect x="83.9" y="76.8" width="766.5" height="1.9" fill="rgb(162,0,0)"/>
<rect x="83.9" y="75.2" width="766.5" height="1.9" fill="rgb(176,0,0)"/>
<rect x="83.9" y="73.6" width="766.5" height="1.9" fill="rgb(191,0,0)"/>
<rect x="83.9" y="71.9" width="766.5" height="1.9" fill="rgb(181,0,0)"/>
<rect x="83.9" y="70.3" width="766.5" height="1.9" fill="rgb(175,0,0)"/>
<rect x="83.9" y="68.7" width="766.5" height="1.9" fill="rgb(233,0,0)"/>
<rect x="83.9" y="67.1" width="766.5" height="1.9" fill="rgb(219,0,0)"/>
<rect x="83.9" y="65.5" width="766.5" height="1.9" fill="rgb(217,0,0)"/>
<rect x="83.9" y="63.8" width="766.5" height="1.9" fill="rgb(63,0,0)"/>
<rect x="83.9" y="62.2" width="766.5" height="1.9" fill="rgb(84,0,0)"/>
<rect x="83.9" y="60.6" width="766.5" height="1.9" fill="rgb(30,0,0)"/>
<rect x="83.9" y="59" width="766.5" height="1.9" fill="rgb(28,0,0)"/>
<rect x="83.9" y="57.4" width="766.5" height="1.9" fill="rgb(96,0,0)"/>
<rect x="83.9" y="55.7" width="766.5" height="1.9" fill="rgb(175,0,0)"/>
<rect x="83.9" y="54.1" width="766.5" height="1.9" fill="rgb(213,0,0)"/>
<rect x="83.9" y="52.5" width="766.5" height="1.9" fill="rgb(120,0,0)"/>
<rect x="83.9" y="50.9" width="766.5" height="1.9" fill="rgb(5,0,0)"/>
<rect x="83.9" y="49.3" width="766.5" height="1.9" fill="rgb(18,0,0)"/>
<rect x="83.9" y="47.6" width="766.5" height="1.9" fill="rgb(10,0,0)"/>
<rect x="83.9" y="46" width="766.5" height="1.9" fill="rgb(15,0,0)"/>
<rect x="83.9" y="44.4" width="766.5" height="1.9" fill="rgb(29,0,0)"/>
<rect x="83.9" y="42.8" width="766.5" height="1.9" fill="rgb(180,0,0)"/>
<rect x="83.9" y="41.1" width="766.5" height="1.9" fill="rgb(232,0,0)"/>
<rect x="83.9" y="39.5" width="766.5" height="1.9" fill="rgb(223,0,0)"/>
<rect x="83.9" y="37.9" width="766.5" height="1.9" fill="rgb(219,0,0)"/>
<rect x="83.9" y="36.3" width="766.5" height="1.9" fill="rgb(74,0,0)"/>
<rect x="83.9" y="34.7" width="766.5" height="1.9" fill="rgb(10,0,0)"/>
<rect x="83.9" y="33" width="766.5" height="1.9" fill="rgb(19,0,0)"/>
<rect x="83.9" y="31.4" width="766.5" height="1.9" fill="rgb(22,0,0)"/>
<rect x="83.9" y="29.8" width="766.5" height="1.9" fill="rgb(20,0,0)"/>
<rect x="83.9" y="28.2" width="766.5" height="1.9" fill="rgb(19,0,0)"/>
<rect x="83.9" y="26.6" width="766.5" height="1.9" fill="rgb(92,0,0)"/>
<rect x="83.9" y="24.9" width="766.5" height="1.9" fill="rgb(23,0,0)"/>
<rect x="83.9" y="23.3" width="766.5" height="1.9" fill="rgb(179,0,0)"/>
<rect x="83.9" y="21.7" width="766.5" height="1.9" fill="rgb(74,0,0)"/>
<rect x="83.9" y="20.1" width="766.5" height="1.9" fill="rgb(25,0,0)"/>
<rect x="83.9" y="18.4" width="766.5" height="1.9" fill="rgb(18,0,0)"/>
<rect x="83.9" y="16.8" width="766.5" height="1.9" fill="rgb(4,0,0)"/>
<rect x="83.9" y="15.2" width="766.5" height="1.9" fill="rgb(18,0,0)"/>
<rect x="83.9" y="13.6" width="766.5" height="1.9" fill="rgb(180,0,0)"/>
<rect x="83.9" y="12" width="766.5" height="1.9" fill="rgb(233,0,0)"/>
<rect x="83.9" y="10.3" width="766.5" height="1.9" fill="rgb(231,0,0)"/>
<rect x="83.9" y="8.7" width="766.5" height="1.9" fill="rgb(228,0,0)"/>
<rect x="83.9" y="7.1" width="766.5" height="1.9" fill="rgb(226,0,0)"/>
<rect x="83.9" y="5.5" width="766.5" height="1.9" fill="rgb(225,0,0)"/>
<rect x="83.9" y="3.9" width="766.5" height="1.9" fill="rgb(119,0,0)"/>
<rect x="83.9" y="-27.8" width="766.5" height="31.9" fill="rgb(80,0,0)"/>
<rect x="600.3" y="525.9" width="250.2" height="1.9" fill="rgb(185,0,0)"/>
<rect x="600.3" y="524.3" width="250.2" height="1.9" fill="rgb(230,0,0)"/>
<rect x="600.3" y="522.7" width="250.2" height="1.9" fill="rgb(234,0,0)"/>
<rect x="600.3" y="521" width="250.2" height="1.9" fill="rgb(216,0,0)"/>
<rect x="600.3" y="519.4" width="250.2" height="1.9" fill="rgb(226,0,0)"/>
<rect x="600.3" y="517.8" width="250.2" height="1.9" fill="rgb(235,0,0)"/>
<rect x="600.3" y="516.2" width="250.2" height="1.9" fill="rgb(226,0,0)"/>
<rect x="600.3" y="514.5" width="250.2" height="1.9" fill="rgb(132,0,0)"/>
<rect x="600.3" y="512.9" width="250.2" height="1.9" fill="rgb(128,0,0)"/>
<rect x="600.3" y="511.3" width="250.2" height="1.9" fill="rgb(180,0,0)"/>
<rect x="600.3" y="509.7" width="250.2" height="1.9" fill="rgb(147,0,0)"/>
<rect x="600.3" y="508.1" width="250.2" height="1.9" fill="rgb(160,0,0)"/>
<rect x="600.3" y="506.4" width="250.2" height="1.9" fill="rgb(189,0,0)"/>
<rect x="600.3" y="504.8" width="250.2" height="1.9" fill="rgb(190,0,0)"/>
<rect x="600.3" y="503.2" width="250.2" height="1.9" fill="rgb(194,0,0)"/>
<rect x="600.3" y="501.6" width="250.2" height="1.9" fill="rgb(153,0,0)"/>
<rect x="600.3" y="500" width="250.2" height="1.9" fill="rgb(145,0,0)"/>
<rect x="600.3" y="498.3" width="250.2" height="1.9" fill="rgb(133,0,0)"/>
<rect x="600.3" y="496.7" width="250.2" height="1.9" fill="rgb(185,0,0)"/>
<rect x="600.3" y="495.1" width="250.2" height="1.9" fill="rgb(134,0,0)"/>
<rect x="600.3" y="493.5" width="250.2" height="1.9" fill="rgb(128,0,0)"/>
<rect x="600.3" y="491.9" width="250.2" height="1.9" fill="rgb(139,0,0)"/>
<rect x="600.3" y="490.2" width="250.2" height="1.9" fill="rgb(161,0,0)"/>
<rect x="600.3" y="488.6" width="250.2" height="1.9" fill="rgb(153,0,0)"/>
<rect x="600.3" y="487" width="250.2" height="1.9" fill="rgb(138,0,0)"/>
<rect x="600.3" y="485.4" width="250.2" height="1.9" fill="rgb(157,0,0)"/>
<rect x="600.3" y="483.7" width="250.2" height="1.9" fill="rgb(178,0,0)"/>
<rect x="600.3" y="482.1" width="250.2" height="1.9" fill="rgb(136,0,0)"/>
<rect x="600.3" y="480.5" width="250.2" height="1.9" fill="rgb(189,0,0)"/>
<rect x="600.3" y="478.9" width="250.2" height="1.9" fill="rgb(152,0,0)"/>
<rect x="600.3" y="477.3" width="250.2" height="1.9" fill="rgb(182,0,0)"/>
<rect x="600.3" y="475.6" width="250.2" height="1.9" fill="rgb(181,0,0)"/>
<rect x="600.3" y="474" width="250.2" height="1.9" fill="rgb(152,0,0)"/>
<rect x="600.3" y="472.4" width="250.2" height="1.9" fill="rgb(135,0,0)"/>
<rect x="600.3" y="470.8" width="250.2" height="1.9" fill="rgb(181,0,0)"/>
<rect x="600.3" y="469.2" width="250.2" height="1.9" fill="rgb(171,0,0)"/>
<rect x="600.3" y="467.5" width="250.2" height="1.9" fill="rgb(172,0,0)"/>
<rect x="600.3" y="465.9" width="250.2" height="1.9" fill="rgb(134,0,0)"/>
<rect x="600.3" y="464.3" width="250.2" height="1.9" fill="rgb(192,0,0)"/>
<rect x="600.3" y="462.7" width="250.2" height="1.9" fill="rgb(140,0,0)"/>
<rect x="600.3" y="461" width="250.2" height="1.9" fill="rgb(181,0,0)"/>
<rect x="600.3" y="459.4" width="250.2" height="1.9" fill="rgb(190,0,0)"/>
<rect x="600.3" y="457.8" width="250.2" height="1.9" fill="rgb(193,0,0)"/>
<rect x="600.3" y="456.2" width="250.2" height="1.9" fill="rgb(185,0,0)"/>
<rect x="600.3" y="454.6" width="250.2" height="1.9" fill="rgb(145,0,0)"/>
<rect x="600.3" y="452.9" width="250.2" height="1.9" fill="rgb(185,0,0)"/>
<rect x="600.3" y="451.3" width="250.2" height="1.9" fill="rgb(235,0,0)"/>
<rect x="600.3" y="449.7" width="250.2" height="1.9" fill="rgb(141,0,0)"/>
<rect x="600.3" y="448.1" width="250.2" height="1.9" fill="rgb(191,0,0)"/>
<rect x="600.3" y="446.5" width="250.2" height="1.9" fill="rgb(189,0,0)"/>
<rect x="600.3" y="444.8" width="250.2" height="1.9" fill="rgb(154,0,0)"/>
<rect x="600.3" y="443.2" width="250.2" height="1.9" fill="rgb(183,0,0)"/>
<rect x="600.3" y="441.6" width="250.2" height="1.9" fill="rgb(180,0,0)"/>
<rect x="600.3" y="440" width="250.2" height="1.9" fill="rgb(193,0,0)"/>
<rect x="600.3" y="438.4" width="250.2" height="1.9" fill="rgb(189,0,0)"/>
<rect x="600.3" y="436.7" width="250.2" height="1.9" fill="rgb(184,0,0)"/>
<rect x="600.3" y="435.1" width="250.2" height="1.9" fill="rgb(181,0,0)"/>
<rect x="600.3" y="433.5" width="250.2" height="1.9" fill="rgb(184,0,0)"/>
<rect x="600.3" y="431.9" width="250.2" height="1.9" fill="rgb(133,0,0)"/>
<rect x="600.3" y="430.2" width="250.2" height="1.9" fill="rgb(158,0,0)"/>
<rect x="600.3" y="428.6" width="250.2" height="1.9" fill="rgb(180,0,0)"/>
<rect x="600.3" y="425.4" width="250.2" height="3.5" fill="rgb(185,0,0)"/>
<rect x="600.3" y="423.8" width="250.2" height="1.9" fill="rgb(191,0,0)"/>
<rect x="600.3" y="422.1" width="250.2" height="1.9" fill="rgb(143,0,0)"/>
<rect x="600.3" y="420.5" width="250.2" height="1.9" fill="rgb(187,0,0)"/>
<rect x="600.3" y="418.9" width="250.2" height="1.9" fill="rgb(196,0,0)"/>
<rect x="600.3" y="417.3" width="250.2" height="1.9" fill="rgb(194,0,0)"/>
<rect x="600.3" y="415.7" width="250.2" height="1.9" fill="rgb(144,0,0)"/>
<rect x="600.3" y="414" width="250.2" height="1.9" fill="rgb(151,0,0)"/>
<rect x="600.3" y="412.4" width="250.2" height="1.9" fill="rgb(133,0,0)"/>
<rect x="600.3" y="410.8" width="250.2" height="1.9" fill="rgb(137,0,0)"/>
<rect x="600.3" y="409.2" width="250.2" height="1.9" fill="rgb(128,0,0)"/>
<rect x="600.3" y="407.5" width="250.2" height="1.9" fill="rgb(187,0,0)"/>
<rect x="600.3" y="405.9" width="250.2" height="1.9" fill="rgb(210,0,0)"/>
<rect x="600.3" y="404.3" width="250.2" height="1.9" fill="rgb(147,0,0)"/>
<rect x="600.3" y="402.7" width="250.2" height="1.9" fill="rgb(217,0,0)"/>
<rect x="600.3" y="401.1" width="250.2" height="1.9" fill="rgb(219,0,0)"/>
<rect x="600.3" y="399.4" width="250.2" height="1.9" fill="rgb(134,0,0)"/>
<rect x="600.3" y="397.8" width="250.2" height="1.9" fill="rgb(144,0,0)"/>
<rect x="600.3" y="396.2" width="250.2" height="1.9" fill="rgb(191,0,0)"/>
<rect x="600.3" y="394.6" width="250.2" height="1.9" fill="rgb(139,0,0)"/>
<rect x="600.3" y="393" width="250.2" height="1.9" fill="rgb(192,0,0)"/>
<rect x="600.3" y="391.3" width="250.2" height="1.9" fill="rgb(181,0,0)"/>
<rect x="600.3" y="389.7" width="250.2" height="1.9" fill="rgb(221,0,0)"/>
<rect x="600.3" y="388.1" width="250.2" height="1.9" fill="rgb(209,0,0)"/>
<rect x="83.9" y="519.4" width="68.9" height="1.9" fill="rgb(226,0,0)"/>
<rect x="83.9" y="517.8" width="68.9" height="1.9" fill="rgb(235,0,0)"/>
<rect x="83.9" y="516.2" width="68.9" height="1.9" fill="rgb(226,0,0)"/>
<rect x="83.9" y="514.5" width="68.9" height="1.9" fill="rgb(132,0,0)"/>
<rect x="83.9" y="512.9" width="68.9" height="1.9" fill="rgb(128,0,0)"/>
<rect x="83.9" y="511.3" width="68.9" height="1.9" fill="rgb(180,0,0)"/>
<rect x="83.9" y="509.7" width="68.9" height="1.9" fill="rgb(147,0,0)"/>
<rect x="83.9" y="508.1" width="68.9" height="1.9" fill="rgb(160,0,0)"/>
<rect x="83.9" y="506.4" width="68.9" height="1.9" fill="rgb(189,0,0)"/>
<rect x="83.9" y="504.8" width="68.9" height="1.9" fill="rgb(190,0,0)"/>
<rect x="83.9" y="503.2" width="68.9" height="1.9" fill="rgb(194,0,0)"/>
<rect x="83.9" y="501.6" width="68.9" height="1.9" fill="rgb(153,0,0)"/>
<rect x="83.9" y="500" width="68.9" height="1.9" fill="rgb(145,0,0)"/>
<rect x="83.9" y="498.3" width="68.9" height="1.9" fill="rgb(133,0,0)"/>
<rect x="83.9" y="496.7" width="68.9" height="1.9" fill="rgb(185,0,0)"/>
<rect x="83.9" y="495.1" width="68.9" height="1.9" fill="rgb(134,0,0)"/>
<rect x="83.9" y="493.5" width="68.9" height="1.9" fill="rgb(128,0,0)"/>
<rect x="83.9" y="491.9" width="68.9" height="1.9" fill="rgb(139,0,0)"/>
<rect x="83.9" y="490.2" width="68.9" height="1.9" fill="rgb(161,0,0)"/>
<rect x="83.9" y="488.6" width="68.9" height="1.9" fill="rgb(153,0,0)"/>
<rect x="83.9" y="487" width="68.9" height="1.9" fill="rgb(138,0,0)"/>
<rect x="83.9" y="485.4" width="68.9" height="1.9" fill="rgb(157,0,0)"/>
<rect x="83.9" y="483.7" width="68.9" height="1.9" fill="rgb(178,0,0)"/>
<rect x="83.9" y="482.1" width="68.9" height="1.9" fill="rgb(136,0,0)"/>
<rect x="83.9" y="480.5" width="68.9" height="1.9" fill="rgb(189,0,0)"/>
<rect x="83.9" y="478.9" width="68.9" height="1.9" fill="rgb(152,0,0)"/>
<rect x="83.9" y="477.3" width="68.9" height="1.9" fill="rgb(182,0,0)"/>
<rect x="83.9" y="475.6" width="68.9" height="1.9" fill="rgb(181,0,0)"/>
<rect x="83.9" y="474" width="68.9" height="1.9" fill="rgb(152,0,0)"/>
<rect x="83.9" y="472.4" width="68.9" height="1.9" fill="rgb(135,0,0)"/>
<rect x="83.9" y="470.8" width="68.9" height="1.9" fill="rgb(181,0,0)"/>
<rect x="83.9" y="469.2" width="68.9" height="1.9" fill="rgb(171,0,0)"/>
<rect x="83.9" y="467.5" width="68.9" height="1.9" fill="rgb(172,0,0)"/>
<rect x="83.9" y="465.9" width="68.9" height="1.9" fill="rgb(134,0,0)"/>
<rect x="83.9" y="464.3" width="68.9" height="1.9" fill="rgb(192,0,0)"/>
<rect x="83.9" y="462.7" width="68.9" height="1.9" fill="rgb(140,0,0)"/>
<rect x="83.9" y="461" width="68.9" height="1.9" fill="rgb(181,0,0)"/>
<rect x="83.9" y="459.4" width="68.9" height="1.9" fill="rgb(190,0,0)"/>
<rect x="83.9" y="457.8" width="68.9" height="1.9" fill="rgb(193,0,0)"/>
<rect x="83.9" y="456.2" width="68.9" height="1.9" fill="rgb(185,0,0)"/>
<rect x="83.9" y="454.6" width="68.9" height="1.9" fill="rgb(145,0,0)"/>
<rect x="83.9" y="452.9" width="68.9" height="1.9" fill="rgb(185,0,0)"/>
<rect x="83.9" y="451.3" width="68.9" height="1.9" fill="rgb(235,0,0)"/>
<rect x="83.9" y="449.7" width="68.9" height="1.9" fill="rgb(141,0,0)"/>
<rect x="83.9" y="448.1" width="68.9" height="1.9" fill="rgb(191,0,0)"/>
<rect x="83.9" y="446.5" width="68.9" height="1.9" fill="rgb(189,0,0)"/>
<rect x="83.9" y="444.8" width="68.9" height="1.9" fill="rgb(154,0,0)"/>
<rect x="83.9" y="443.2" width="68.9" height="1.9" fill="rgb(183,0,0)"/>
<rect x="83.9" y="441.6" width="68.9" height="1.9" fill="rgb(180,0,0)"/>
<rect x="83.9" y="440" width="68.9" height="1.9" fill="rgb(193,0,0)"/>
<rect x="83.9" y="438.4" width="68.9" height="1.9" fill="rgb(189,0,0)"/>
<rect x="83.9" y="436.7" width="68.9" height="1.9" fill="rgb(184,0,0)"/>
<rect x="83.9" y="435.1" width="68.9" height="1.9" fill="rgb(181,0,0)"/>
<rect x="83.9" y="433.5" width="68.9" height="1.9" fill="rgb(184,0,0)"/>
<rect x="83.9" y="431.9" width="68.9" height="1.9" fill="rgb(133,0,0)"/>
<rect x="83.9" y="430.2" width="68.9" height="1.9" fill="rgb(158,0,0)"/>
<rect x="83.9" y="428.6" width="68.9" height="1.9" fill="rgb(180,0,0)"/>
<rect x="83.9" y="425.4" width="68.9" height="3.5" fill="rgb(185,0,0)"/>
<rect x="83.9" y="423.8" width="68.9" height="1.9" fill="rgb(191,0,0)"/>
<rect x="83.9" y="422.1" width="68.9" height="1.9" fill="rgb(143,0,0)"/>
<rect x="83.9" y="420.5" width="68.9" height="1.9" fill="rgb(187,0,0)"/>
<rect x="83.9" y="418.9" width="68.9" height="1.9" fill="rgb(196,0,0)"/>
<rect x="83.9" y="417.3" width="68.9" height="1.9" fill="rgb(194,0,0)"/>
<rect x="83.9" y="415.7" width="68.9" height="1.9" fill="rgb(144,0,0)"/>
<rect x="83.9" y="414" width="68.9" height="1.9" fill="rgb(151,0,0)"/>
<rect x="83.9" y="412.4" width="68.9" height="1.9" fill="rgb(133,0,0)"/>
<rect x="83.9" y="410.8" width="68.9" height="1.9" fill="rgb(137,0,0)"/>
<rect x="83.9" y="409.2" width="68.9" height="1.9" fill="rgb(128,0,0)"/>
<rect x="83.9" y="407.5" width="68.9" height="1.9" fill="rgb(187,0,0)"/>
<rect x="83.9" y="405.9" width="68.9" height="1.9" fill="rgb(210,0,0)"/>
<rect x="83.9" y="404.3" width="68.9" height="1.9" fill="rgb(147,0,0)"/>
<rect x="83.9" y="402.7" width="68.9" height="1.9" fill="rgb(217,0,0)"/>
<rect x="83.9" y="401.1" width="68.9" height="1.9" fill="rgb(219,0,0)"/>
<rect x="83.9" y="399.4" width="68.9" height="1.9" fill="rgb(134,0,0)"/>
<rect x="83.9" y="397.8" width="68.9" height="1.9" fill="rgb(144,0,0)"/>
<rect x="83.9" y="396.2" width="68.9" height="1.9" fill="rgb(191,0,0)"/>
<rect x="83.9" y="394.6" width="68.9" height="1.9" fill="rgb(139,0,0)"/>
<g style="mix-blend-mode:lighten">
<rect x="83.9" y="-27.4" width="31.9" height="766.5" fill="rgb(0,164,0)"/>
<rect x="115.5" y="-27.4" width="1.9" height="766.5" fill="rgb(0,103,0)"/>
<rect x="117.1" y="-27.4" width="1.9" height="766.5" fill="rgb(0,11,0)"/>
<rect x="118.8" y="-27.4" width="1.9" height="766.5" fill="rgb(0,32,0)"/>
<rect x="120.4" y="-27.4" width="1.9" height="766.5" fill="rgb(0,96,0)"/>
<rect x="122" y="-27.4" width="1.9" height="766.5" fill="rgb(0,25,0)"/>
<rect x="123.6" y="-27.4" width="1.9" height="766.5" fill="rgb(0,20,0)"/>
<rect x="125.2" y="-27.4" width="1.9" height="766.5" fill="rgb(0,4,0)"/>
<rect x="126.9" y="-27.4" width="1.9" height="766.5" fill="rgb(0,87,0)"/>
<rect x="128.5" y="-27.4" width="1.9" height="766.5" fill="rgb(0,39,0)"/>
<rect x="130.1" y="-27.4" width="1.9" height="766.5" fill="rgb(0,80,0)"/>
<rect x="131.7" y="-27.4" width="1.9" height="766.5" fill="rgb(0,104,0)"/>
<rect x="133.4" y="-27.4" width="1.9" height="766.5" fill="rgb(0,161,0)"/>
<rect x="135" y="-27.4" width="1.9" height="766.5" fill="rgb(0,64,0)"/>
<rect x="136.6" y="-27.4" width="1.9" height="766.5" fill="rgb(0,20,0)"/>
<rect x="138.2" y="-27.4" width="1.9" height="766.5" fill="rgb(0,12,0)"/>
<rect x="139.8" y="-27.4" width="1.9" height="766.5" fill="rgb(0,93,0)"/>
<rect x="141.5" y="-27.4" width="1.9" height="766.5" fill="rgb(0,28,0)"/>
<rect x="143.1" y="-27.4" width="1.9" height="766.5" fill="rgb(0,13,0)"/>
<rect x="144.7" y="-27.4" width="1.9" height="766.5" fill="rgb(0,8,0)"/>
<rect x="146.3" y="-27.4" width="1.9" height="766.5" fill="rgb(0,34,0)"/>
<rect x="147.9" y="-27.4" width="1.9" height="766.5" fill="rgb(0,7,0)"/>
<rect x="149.6" y="-27.4" width="1.9" height="766.5" fill="rgb(0,14,0)"/>
<rect x="151.2" y="-27.4" width="1.9" height="766.5" fill="rgb(0,167,0)"/>
<rect x="152.8" y="-27.4" width="1.9" height="766.5" fill="rgb(0,166,0)"/>
<rect x="154.4" y="-27.4" width="1.9" height="766.5" fill="rgb(0,70,0)"/>
<rect x="156.1" y="-27.4" width="1.9" height="766.5" fill="rgb(0,21,0)"/>
<rect x="157.7" y="-27.4" width="1.9" height="766.5" fill="rgb(0,183,0)"/>
<rect x="159.3" y="-27.4" width="1.9" height="766.5" fill="rgb(0,221,0)"/>
<rect x="160.9" y="-27.4" width="1.9" height="766.5" fill="rgb(0,210,0)"/>
<rect x="162.5" y="-27.4" width="1.9" height="766.5" fill="rgb(0,145,0)"/>
<rect x="164.2" y="-27.4" width="1.9" height="766.5" fill="rgb(0,201,0)"/>
<rect x="165.8" y="-27.4" width="1.9" height="766.5" fill="rgb(0,226,0)"/>
<rect x="167.4" y="-27.4" width="1.9" height="766.5" fill="rgb(0,216,0)"/>
<rect x="169" y="-27.4" width="1.9" height="766.5" fill="rgb(0,142,0)"/>
<rect x="170.6" y="-27.4" width="1.9" height="766.5" fill="rgb(0,204,0)"/>
<rect x="172.3" y="-27.4" width="1.9" height="766.5" fill="rgb(0,211,0)"/>
<rect x="173.9" y="-27.4" width="1.9" height="766.5" fill="rgb(0,168,0)"/>
<rect x="175.5" y="-27.4" width="1.9" height="766.5" fill="rgb(0,211,0)"/>
<rect x="177.1" y="-27.4" width="1.9" height="766.5" fill="rgb(0,160,0)"/>
<rect x="178.8" y="-27.4" width="1.9" height="766.5" fill="rgb(0,206,0)"/>
<rect x="180.4" y="-27.4" width="1.9" height="766.5" fill="rgb(0,220,0)"/>
<rect x="182" y="-27.4" width="1.9" height="766.5" fill="rgb(0,212,0)"/>
<rect x="183.6" y="-27.4" width="1.9" height="766.5" fill="rgb(0,222,0)"/>
<rect x="185.2" y="-27.4" width="1.9" height="766.5" fill="rgb(0,235,0)"/>
<rect x="186.9" y="-27.4" width="1.9" height="766.5" fill="rgb(0,216,0)"/>
<rect x="188.5" y="-27.4" width="1.9" height="766.5" fill="rgb(0,64,0)"/>
<rect x="190.1" y="-27.4" width="1.9" height="766.5" fill="rgb(0,113,0)"/>
<rect x="191.7" y="-27.4" width="1.9" height="766.5" fill="rgb(0,4,0)"/>
<rect x="193.3" y="-27.4" width="1.9" height="766.5" fill="rgb(0,93,0)"/>
<rect x="195" y="-27.4" width="1.9" height="766.5" fill="rgb(0,128,0)"/>
<rect x="196.6" y="-27.4" width="1.9" height="766.5" fill="rgb(0,63,0)"/>
<rect x="198.2" y="-27.4" width="1.9" height="766.5" fill="rgb(0,4,0)"/>
<rect x="199.8" y="-27.4" width="1.9" height="766.5" fill="rgb(0,27,0)"/>
<rect x="201.4" y="-27.4" width="1.9" height="766.5" fill="rgb(0,28,0)"/>
<rect x="203.1" y="-27.4" width="1.9" height="766.5" fill="rgb(0,176,0)"/>
<rect x="204.7" y="-27.4" width="1.9" height="766.5" fill="rgb(0,66,0)"/>
<rect x="206.3" y="-27.4" width="1.9" height="766.5" fill="rgb(0,2,0)"/>
<rect x="207.9" y="-27.4" width="1.9" height="766.5" fill="rgb(0,87,0)"/>
<rect x="209.6" y="-27.4" width="1.9" height="766.5" fill="rgb(0,27,0)"/>
<rect x="211.2" y="-27.4" width="1.9" height="766.5" fill="rgb(0,31,0)"/>
<rect x="212.8" y="-27.4" width="1.9" height="766.5" fill="rgb(0,93,0)"/>
<rect x="214.4" y="-27.4" width="1.9" height="766.5" fill="rgb(0,19,0)"/>
<rect x="216" y="-27.4" width="1.9" height="766.5" fill="rgb(0,143,0)"/>
<rect x="217.7" y="-27.4" width="1.9" height="766.5" fill="rgb(0,64,0)"/>
<rect x="219.3" y="-27.4" width="1.9" height="766.5" fill="rgb(0,1,0)"/>
<rect x="220.9" y="-27.4" width="1.9" height="766.5" fill="rgb(0,37,0)"/>
<rect x="222.5" y="-27.4" width="1.9" height="766.5" fill="rgb(0,22,0)"/>
<rect x="224.1" y="-27.4" width="1.9" height="766.5" fill="rgb(0,5,0)"/>
<rect x="225.8" y="-27.4" width="1.9" height="766.5" fill="rgb(0,27,0)"/>
<rect x="227.4" y="-27.4" width="1.9" height="766.5" fill="rgb(0,144,0)"/>
<rect x="229" y="-27.4" width="1.9" height="766.5" fill="rgb(0,213,0)"/>
<rect x="230.6" y="-27.4" width="1.9" height="766.5" fill="rgb(0,230,0)"/>
<rect x="232.3" y="-27.4" width="1.9" height="766.5" fill="rgb(0,110,0)"/>
<rect x="233.9" y="-27.4" width="1.9" height="766.5" fill="rgb(0,32,0)"/>
<rect x="235.5" y="-27.4" width="1.9" height="766.5" fill="rgb(0,12,0)"/>
<rect x="237.1" y="-27.4" width="1.9" height="766.5" fill="rgb(0,20,0)"/>
<rect x="238.7" y="-27.4" width="1.9" height="766.5" fill="rgb(0,183,0)"/>
<rect x="240.4" y="-27.4" width="1.9" height="766.5" fill="rgb(0,214,0)"/>
<rect x="242" y="-27.4" width="1.9" height="766.5" fill="rgb(0,141,0)"/>
<rect x="243.6" y="-27.4" width="1.9" height="766.5" fill="rgb(0,210,0)"/>
<rect x="245.2" y="-27.4" width="1.9" height="766.5" fill="rgb(0,221,0)"/>
<rect x="246.8" y="-27.4" width="1.9" height="766.5" fill="rgb(0,69,0)"/>
<rect x="248.5" y="-27.4" width="1.9" height="766.5" fill="rgb(0,108,0)"/>
<rect x="250.1" y="-27.4" width="1.9" height="766.5" fill="rgb(0,26,0)"/>
<rect x="251.7" y="-27.4" width="1.9" height="766.5" fill="rgb(0,27,0)"/>
<rect x="253.3" y="-27.4" width="1.9" height="766.5" fill="rgb(0,15,0)"/>
<rect x="254.9" y="-27.4" width="1.9" height="766.5" fill="rgb(0,22,0)"/>
<rect x="256.6" y="-27.4" width="1.9" height="766.5" fill="rgb(0,139,0)"/>
<rect x="258.2" y="-27.4" width="1.9" height="766.5" fill="rgb(0,169,0)"/>
<rect x="259.8" y="-27.4" width="1.9" height="766.5" fill="rgb(0,208,0)"/>
<rect x="261.4" y="-27.4" width="1.9" height="766.5" fill="rgb(0,77,0)"/>
<rect x="263.1" y="-27.4" width="1.9" height="766.5" fill="rgb(0,22,0)"/>
<rect x="264.7" y="-27.4" width="1.9" height="766.5" fill="rgb(0,44,0)"/>
<rect x="266.3" y="-27.4" width="1.9" height="766.5" fill="rgb(0,142,0)"/>
<rect x="267.9" y="-27.4" width="1.9" height="766.5" fill="rgb(0,214,0)"/>
<rect x="269.5" y="-27.4" width="1.9" height="766.5" fill="rgb(0,206,0)"/>
<rect x="271.2" y="-27.4" width="1.9" height="766.5" fill="rgb(0,207,0)"/>
<rect x="272.8" y="-27.4" width="1.9" height="766.5" fill="rgb(0,112,0)"/>
<rect x="274.4" y="-27.4" width="1.9" height="766.5" fill="rgb(0,132,0)"/>
<rect x="276" y="-27.4" width="1.9" height="766.5" fill="rgb(0,156,0)"/>
<rect x="277.6" y="-27.4" width="1.9" height="766.5" fill="rgb(0,66,0)"/>
<rect x="279.3" y="-27.4" width="1.9" height="766.5" fill="rgb(0,167,0)"/>
<rect x="280.9" y="-27.4" width="1.9" height="766.5" fill="rgb(0,208,0)"/>
<rect x="282.5" y="-27.4" width="1.9" height="766.5" fill="rgb(0,71,0)"/>
<rect x="284.1" y="-27.4" width="1.9" height="766.5" fill="rgb(0,163,0)"/>
<rect x="285.8" y="-27.4" width="1.9" height="766.5" fill="rgb(0,120,0)"/>
<rect x="287.4" y="-27.4" width="1.9" height="766.5" fill="rgb(0,36,0)"/>
<rect x="289" y="-27.4" width="1.9" height="766.5" fill="rgb(0,149,0)"/>
<rect x="290.6" y="-27.4" width="1.9" height="766.5" fill="rgb(0,222,0)"/>
<rect x="292.2" y="-27.4" width="1.9" height="766.5" fill="rgb(0,221,0)"/>
<rect x="293.9" y="-27.4" width="1.9" height="766.5" fill="rgb(0,123,0)"/>
<rect x="295.5" y="-27.4" width="1.9" height="766.5" fill="rgb(0,182,0)"/>
<rect x="297.1" y="-27.4" width="1.9" height="766.5" fill="rgb(0,224,0)"/>
<rect x="298.7" y="-27.4" width="1.9" height="766.5" fill="rgb(0,228,0)"/>
<rect x="300.3" y="-27.4" width="1.9" height="766.5" fill="rgb(0,211,0)"/>
<rect x="302" y="-27.4" width="1.9" height="766.5" fill="rgb(0,220,0)"/>
<rect x="303.6" y="-27.4" width="1.9" height="766.5" fill="rgb(0,229,0)"/>
<rect x="305.2" y="-27.4" width="1.9" height="766.5" fill="rgb(0,221,0)"/>
<rect x="306.8" y="-27.4" width="1.9" height="766.5" fill="rgb(0,120,0)"/>
<rect x="308.5" y="-27.4" width="1.9" height="766.5" fill="rgb(0,128,0)"/>
<rect x="310.1" y="-27.4" width="1.9" height="766.5" fill="rgb(0,177,0)"/>
<rect x="311.7" y="-27.4" width="1.9" height="766.5" fill="rgb(0,146,0)"/>
<rect x="313.3" y="-27.4" width="1.9" height="766.5" fill="rgb(0,68,0)"/>
<rect x="314.9" y="-27.4" width="1.9" height="766.5" fill="rgb(0,14,0)"/>
<rect x="316.6" y="-27.4" width="1.9" height="766.5" fill="rgb(0,11,0)"/>
<rect x="318.2" y="-27.4" width="1.9" height="766.5" fill="rgb(0,5,0)"/>
<rect x="319.8" y="-27.4" width="1.9" height="766.5" fill="rgb(0,80,0)"/>
<rect x="321.4" y="-27.4" width="1.9" height="766.5" fill="rgb(0,144,0)"/>
<rect x="323" y="-27.4" width="1.9" height="766.5" fill="rgb(0,118,0)"/>
<rect x="324.7" y="-27.4" width="1.9" height="766.5" fill="rgb(0,20,0)"/>
<rect x="326.3" y="-27.4" width="1.9" height="766.5" fill="rgb(0,116,0)"/>
<rect x="327.9" y="-27.4" width="1.9" height="766.5" fill="rgb(0,128,0)"/>
<rect x="329.5" y="-27.4" width="1.9" height="766.5" fill="rgb(0,138,0)"/>
<rect x="331.1" y="-27.4" width="1.9" height="766.5" fill="rgb(0,65,0)"/>
<rect x="332.8" y="-27.4" width="1.9" height="766.5" fill="rgb(0,80,0)"/>
<rect x="334.4" y="-27.4" width="1.9" height="766.5" fill="rgb(0,107,0)"/>
<rect x="336" y="-27.4" width="1.9" height="766.5" fill="rgb(0,155,0)"/>
<rect x="337.6" y="-27.4" width="1.9" height="766.5" fill="rgb(0,175,0)"/>
<rect x="339.3" y="-27.4" width="1.9" height="766.5" fill="rgb(0,112,0)"/>
<rect x="340.9" y="-27.4" width="1.9" height="766.5" fill="rgb(0,13,0)"/>
<rect x="342.5" y="-27.4" width="1.9" height="766.5" fill="rgb(0,81,0)"/>
<rect x="344.1" y="-27.4" width="1.9" height="766.5" fill="rgb(0,26,0)"/>
<rect x="345.7" y="-27.4" width="1.9" height="766.5" fill="rgb(0,29,0)"/>
<rect x="347.4" y="-27.4" width="1.9" height="766.5" fill="rgb(0,82,0)"/>
<rect x="349" y="-27.4" width="1.9" height="766.5" fill="rgb(0,113,0)"/>
<rect x="350.6" y="-27.4" width="1.9" height="766.5" fill="rgb(0,28,0)"/>
<rect x="352.2" y="-27.4" width="1.9" height="766.5" fill="rgb(0,168,0)"/>
<rect x="353.8" y="-27.4" width="1.9" height="766.5" fill="rgb(0,170,0)"/>
<rect x="355.5" y="-27.4" width="1.9" height="766.5" fill="rgb(0,116,0)"/>
<rect x="357.1" y="-27.4" width="1.9" height="766.5" fill="rgb(0,7,0)"/>
<rect x="358.7" y="-27.4" width="1.9" height="766.5" fill="rgb(0,104,0)"/>
<rect x="360.3" y="-27.4" width="1.9" height="766.5" fill="rgb(0,28,0)"/>
<rect x="362" y="-27.4" width="1.9" height="766.5" fill="rgb(0,11,0)"/>
<rect x="363.6" y="-27.4" width="1.9" height="766.5" fill="rgb(0,7,0)"/>
<rect x="365.2" y="-27.4" width="1.9" height="766.5" fill="rgb(0,20,0)"/>
<rect x="366.8" y="-27.4" width="1.9" height="766.5" fill="rgb(0,95,0)"/>
<rect x="368.4" y="-27.4" width="1.9" height="766.5" fill="rgb(0,182,0)"/>
<rect x="370.1" y="-27.4" width="1.9" height="766.5" fill="rgb(0,229,0)"/>
<rect x="371.7" y="-27.4" width="1.9" height="766.5" fill="rgb(0,102,0)"/>
<rect x="373.3" y="-27.4" width="1.9" height="766.5" fill="rgb(0,9,0)"/>
<rect x="374.9" y="-27.4" width="1.9" height="766.5" fill="rgb(0,13,0)"/>
<rect x="376.5" y="-27.4" width="1.9" height="766.5" fill="rgb(0,78,0)"/>
<rect x="378.2" y="-27.4" width="1.9" height="766.5" fill="rgb(0,24,0)"/>
<rect x="379.8" y="-27.4" width="1.9" height="766.5" fill="rgb(0,30,0)"/>
<rect x="381.4" y="-27.4" width="1.9" height="766.5" fill="rgb(0,6,0)"/>
<rect x="383" y="-27.4" width="1.9" height="766.5" fill="rgb(0,14,0)"/>
<rect x="384.6" y="-27.4" width="1.9" height="766.5" fill="rgb(0,23,0)"/>
<rect x="386.3" y="-27.4" width="1.9" height="766.5" fill="rgb(0,28,0)"/>
<rect x="387.9" y="-27.4" width="1.9" height="766.5" fill="rgb(0,23,0)"/>
<rect x="389.5" y="-27.4" width="1.9" height="766.5" fill="rgb(0,133,0)"/>
<rect x="391.1" y="-27.4" width="1.9" height="766.5" fill="rgb(0,71,0)"/>
<rect x="392.8" y="-27.4" width="1.9" height="766.5" fill="rgb(0,30,0)"/>
<rect x="394.4" y="-27.4" width="3.5" height="766.5" fill="rgb(0,21,0)"/>
<rect x="397.6" y="-27.4" width="1.9" height="766.5" fill="rgb(0,10,0)"/>
<rect x="399.2" y="-27.4" width="1.9" height="766.5" fill="rgb(0,100,0)"/>
<rect x="400.9" y="-27.4" width="1.9" height="766.5" fill="rgb(0,17,0)"/>
<rect x="402.5" y="-27.4" width="1.9" height="766.5" fill="rgb(0,1,0)"/>
<rect x="404.1" y="-27.4" width="1.9" height="766.5" fill="rgb(0,5,0)"/>
<rect x="405.7" y="-27.4" width="1.9" height="766.5" fill="rgb(0,97,0)"/>
<rect x="407.3" y="-27.4" width="1.9" height="766.5" fill="rgb(0,84,0)"/>
<rect x="409" y="-27.4" width="1.9" height="766.5" fill="rgb(0,133,0)"/>
<rect x="410.6" y="-27.4" width="1.9" height="766.5" fill="rgb(0,137,0)"/>
<rect x="412.2" y="-27.4" width="1.9" height="766.5" fill="rgb(0,126,0)"/>
<rect x="413.8" y="-27.4" width="1.9" height="766.5" fill="rgb(0,183,0)"/>
<rect x="415.5" y="-27.4" width="1.9" height="766.5" fill="rgb(0,206,0)"/>
<rect x="417.1" y="-27.4" width="1.9" height="766.5" fill="rgb(0,146,0)"/>
<rect x="418.7" y="-27.4" width="1.9" height="766.5" fill="rgb(0,212,0)"/>
<rect x="420.3" y="-27.4" width="1.9" height="766.5" fill="rgb(0,214,0)"/>
<rect x="421.9" y="-27.4" width="1.9" height="766.5" fill="rgb(0,115,0)"/>
<rect x="423.6" y="-27.4" width="1.9" height="766.5" fill="rgb(0,96,0)"/>
<rect x="425.2" y="-27.4" width="1.9" height="766.5" fill="rgb(0,9,0)"/>
<rect x="426.8" y="-27.4" width="1.9" height="766.5" fill="rgb(0,106,0)"/>
<rect x="428.4" y="-27.4" width="1.9" height="766.5" fill="rgb(0,7,0)"/>
<rect x="430" y="-27.4" width="1.9" height="766.5" fill="rgb(0,178,0)"/>
<rect x="431.7" y="-27.4" width="1.9" height="766.5" fill="rgb(0,216,0)"/>
<rect x="433.3" y="-27.4" width="1.9" height="766.5" fill="rgb(0,205,0)"/>
<rect x="434.9" y="-27.4" width="1.9" height="766.5" fill="rgb(0,220,0)"/>
<rect x="436.5" y="-27.4" width="1.9" height="766.5" fill="rgb(0,214,0)"/>
<rect x="438.1" y="-27.4" width="1.9" height="766.5" fill="rgb(0,212,0)"/>
<rect x="439.8" y="-27.4" width="1.9" height="766.5" fill="rgb(0,231,0)"/>
<rect x="441.4" y="-27.4" width="1.9" height="766.5" fill="rgb(0,209,0)"/>
<rect x="443" y="-27.4" width="1.9" height="766.5" fill="rgb(0,206,0)"/>
<rect x="444.6" y="-27.4" width="1.9" height="766.5" fill="rgb(0,225,0)"/>
<rect x="446.3" y="-27.4" width="1.9" height="766.5" fill="rgb(0,163,0)"/>
<rect x="447.9" y="-27.4" width="1.9" height="766.5" fill="rgb(0,158,0)"/>
<rect x="449.5" y="-27.4" width="1.9" height="766.5" fill="rgb(0,169,0)"/>
<rect x="451.1" y="-27.4" width="1.9" height="766.5" fill="rgb(0,160,0)"/>
<rect x="452.7" y="-27.4" width="1.9" height="766.5" fill="rgb(0,206,0)"/>
<rect x="454.4" y="-27.4" width="1.9" height="766.5" fill="rgb(0,121,0)"/>
<rect x="456" y="-27.4" width="1.9" height="766.5" fill="rgb(0,173,0)"/>
<rect x="457.6" y="-27.4" width="1.9" height="766.5" fill="rgb(0,227,0)"/>
<rect x="459.2" y="-27.4" width="1.9" height="766.5" fill="rgb(0,234,0)"/>
<rect x="460.8" y="-27.4" width="1.9" height="766.5" fill="rgb(0,230,0)"/>
<rect x="462.5" y="-27.4" width="1.9" height="766.5" fill="rgb(0,153,0)"/>
<rect x="464.1" y="-27.4" width="1.9" height="766.5" fill="rgb(0,211,0)"/>
<rect x="465.7" y="-27.4" width="1.9" height="766.5" fill="rgb(0,220,0)"/>
<rect x="467.3" y="-27.4" width="1.9" height="766.5" fill="rgb(0,229,0)"/>
<rect x="469" y="-27.4" width="1.9" height="766.5" fill="rgb(0,60,0)"/>
<rect x="470.6" y="-27.4" width="1.9" height="766.5" fill="rgb(0,19,0)"/>
<rect x="472.2" y="-27.4" width="1.9" height="766.5" fill="rgb(0,113,0)"/>
<rect x="473.8" y="-27.4" width="1.9" height="766.5" fill="rgb(0,128,0)"/>
<rect x="475.4" y="-27.4" width="1.9" height="766.5" fill="rgb(0,176,0)"/>
<rect x="477.1" y="-27.4" width="1.9" height="766.5" fill="rgb(0,210,0)"/>
<rect x="478.7" y="-27.4" width="1.9" height="766.5" fill="rgb(0,233,0)"/>
<rect x="480.3" y="-27.4" width="1.9" height="766.5" fill="rgb(0,215,0)"/>
<rect x="481.9" y="-27.4" width="1.9" height="766.5" fill="rgb(0,144,0)"/>
<rect x="483.5" y="-27.4" width="1.9" height="766.5" fill="rgb(0,209,0)"/>
<rect x="485.2" y="-27.4" width="1.9" height="766.5" fill="rgb(0,230,0)"/>
<rect x="486.8" y="-27.4" width="1.9" height="766.5" fill="rgb(0,68,0)"/>
<rect x="488.4" y="-27.4" width="1.9" height="766.5" fill="rgb(0,106,0)"/>
<rect x="490" y="-27.4" width="1.9" height="766.5" fill="rgb(0,11,0)"/>
<rect x="491.7" y="-27.4" width="1.9" height="766.5" fill="rgb(0,9,0)"/>
<rect x="493.3" y="-27.4" width="1.9" height="766.5" fill="rgb(0,81,0)"/>
<rect x="494.9" y="-27.4" width="1.9" height="766.5" fill="rgb(0,16,0)"/>
<rect x="496.5" y="-27.4" width="1.9" height="766.5" fill="rgb(0,10,0)"/>
<rect x="498.1" y="-27.4" width="1.9" height="766.5" fill="rgb(0,19,0)"/>
<rect x="499.8" y="-27.4" width="1.9" height="766.5" fill="rgb(0,178,0)"/>
<rect x="501.4" y="-27.4" width="1.9" height="766.5" fill="rgb(0,235,0)"/>
<rect x="503" y="-27.4" width="1.9" height="766.5" fill="rgb(0,222,0)"/>
<rect x="504.6" y="-27.4" width="1.9" height="766.5" fill="rgb(0,70,0)"/>
<rect x="506.2" y="-27.4" width="1.9" height="766.5" fill="rgb(0,6,0)"/>
<rect x="507.9" y="-27.4" width="1.9" height="766.5" fill="rgb(0,29,0)"/>
<rect x="509.5" y="-27.4" width="1.9" height="766.5" fill="rgb(0,22,0)"/>
<rect x="511.1" y="-27.4" width="1.9" height="766.5" fill="rgb(0,10,0)"/>
<rect x="512.7" y="-27.4" width="1.9" height="766.5" fill="rgb(0,6,0)"/>
<rect x="514.3" y="-27.4" width="1.9" height="766.5" fill="rgb(0,90,0)"/>
<rect x="516" y="-27.4" width="1.9" height="766.5" fill="rgb(0,36,0)"/>
<rect x="517.6" y="-27.4" width="1.9" height="766.5" fill="rgb(0,13,0)"/>
<rect x="519.2" y="-27.4" width="1.9" height="766.5" fill="rgb(0,111,0)"/>
<rect x="520.8" y="-27.4" width="1.9" height="766.5" fill="rgb(0,9,0)"/>
<rect x="522.5" y="-27.4" width="1.9" height="766.5" fill="rgb(0,26,0)"/>
<rect x="524.1" y="-27.4" width="1.9" height="766.5" fill="rgb(0,183,0)"/>
<rect x="525.7" y="-27.4" width="1.9" height="766.5" fill="rgb(0,230,0)"/>
<rect x="527.3" y="-27.4" width="1.9" height="766.5" fill="rgb(0,72,0)"/>
<rect x="528.9" y="-27.4" width="1.9" height="766.5" fill="rgb(0,115,0)"/>
<rect x="530.6" y="-27.4" width="1.9" height="766.5" fill="rgb(0,182,0)"/>
<rect x="532.2" y="-27.4" width="1.9" height="766.5" fill="rgb(0,215,0)"/>
<rect x="533.8" y="-27.4" width="1.9" height="766.5" fill="rgb(0,229,0)"/>
<rect x="535.4" y="-27.4" width="1.9" height="766.5" fill="rgb(0,110,0)"/>
<rect x="537" y="-27.4" width="1.9" height="766.5" fill="rgb(0,11,0)"/>
<rect x="538.7" y="-27.4" width="1.9" height="766.5" fill="rgb(0,85,0)"/>
<rect x="540.3" y="-27.4" width="1.9" height="766.5" fill="rgb(0,7,0)"/>
<rect x="541.9" y="-27.4" width="1.9" height="766.5" fill="rgb(0,131,0)"/>
<rect x="543.5" y="-27.4" width="1.9" height="766.5" fill="rgb(0,72,0)"/>
<rect x="545.2" y="-27.4" width="1.9" height="766.5" fill="rgb(0,2,0)"/>
<rect x="546.8" y="-27.4" width="1.9" height="766.5" fill="rgb(0,84,0)"/>
<rect x="548.4" y="-27.4" width="1.9" height="766.5" fill="rgb(0,27,0)"/>
<rect x="550" y="-27.4" width="1.9" height="766.5" fill="rgb(0,19,0)"/>
<rect x="551.6" y="-27.4" width="1.9" height="766.5" fill="rgb(0,6,0)"/>
<rect x="553.3" y="-27.4" width="1.9" height="766.5" fill="rgb(0,181,0)"/>
<rect x="554.9" y="-27.4" width="1.9" height="766.5" fill="rgb(0,66,0)"/>
<rect x="556.5" y="-27.4" width="1.9" height="766.5" fill="rgb(0,29,0)"/>
<rect x="558.1" y="-27.4" width="1.9" height="766.5" fill="rgb(0,83,0)"/>
<rect x="559.7" y="-27.4" width="1.9" height="766.5" fill="rgb(0,158,0)"/>
<rect x="561.4" y="-27.4" width="1.9" height="766.5" fill="rgb(0,176,0)"/>
<rect x="563" y="-27.4" width="1.9" height="766.5" fill="rgb(0,210,0)"/>
<rect x="564.6" y="-27.4" width="3.5" height="766.5" fill="rgb(0,228,0)"/>
<rect x="567.9" y="-27.4" width="1.9" height="766.5" fill="rgb(0,221,0)"/>
<rect x="569.5" y="-27.4" width="1.9" height="766.5" fill="rgb(0,101,0)"/>
<rect x="571.1" y="-27.4" width="1.9" height="766.5" fill="rgb(0,27,0)"/>
<rect x="572.7" y="-27.4" width="1.9" height="766.5" fill="rgb(0,28,0)"/>
<rect x="574.3" y="-27.4" width="1.9" height="766.5" fill="rgb(0,20,0)"/>
<rect x="576" y="-27.4" width="1.9" height="766.5" fill="rgb(0,142,0)"/>
<rect x="577.6" y="-27.4" width="1.9" height="766.5" fill="rgb(0,160,0)"/>
<rect x="579.2" y="-27.4" width="1.9" height="766.5" fill="rgb(0,141,0)"/>
<rect x="580.8" y="-27.4" width="1.9" height="766.5" fill="rgb(0,226,0)"/>
<rect x="582.4" y="-27.4" width="1.9" height="766.5" fill="rgb(0,160,0)"/>
<rect x="584.1" y="-27.4" width="1.9" height="766.5" fill="rgb(0,219,0)"/>
<rect x="585.7" y="-27.4" width="1.9" height="766.5" fill="rgb(0,73,0)"/>
<rect x="587.3" y="-27.4" width="1.9" height="766.5" fill="rgb(0,173,0)"/>
<rect x="588.9" y="-27.4" width="1.9" height="766.5" fill="rgb(0,214,0)"/>
<rect x="590.5" y="-27.4" width="1.9" height="766.5" fill="rgb(0,226,0)"/>
<rect x="592.2" y="-27.4" width="1.9" height="766.5" fill="rgb(0,219,0)"/>
<rect x="593.8" y="-27.4" width="1.9" height="766.5" fill="rgb(0,223,0)"/>
<rect x="595.4" y="-27.4" width="1.9" height="766.5" fill="rgb(0,74,0)"/>
<rect x="597" y="-27.4" width="1.9" height="766.5" fill="rgb(0,22,0)"/>
<rect x="598.7" y="-27.4" width="1.9" height="766.5" fill="rgb(0,95,0)"/>
<rect x="600.3" y="-27.4" width="1.9" height="766.5" fill="rgb(0,2,0)"/>
<rect x="601.9" y="-27.4" width="1.9" height="766.5" fill="rgb(0,6,0)"/>
<rect x="603.5" y="-27.4" width="1.9" height="766.5" fill="rgb(0,30,0)"/>
<rect x="605.1" y="-27.4" width="1.9" height="766.5" fill="rgb(0,173,0)"/>
<rect x="606.8" y="-27.4" width="1.9" height="766.5" fill="rgb(0,215,0)"/>
<rect x="608.4" y="-27.4" width="1.9" height="766.5" fill="rgb(0,225,0)"/>
<rect x="610" y="-27.4" width="1.9" height="766.5" fill="rgb(0,214,0)"/>
<rect x="611.6" y="-27.4" width="1.9" height="766.5" fill="rgb(0,143,0)"/>
<rect x="613.2" y="-27.4" width="1.9" height="766.5" fill="rgb(0,213,0)"/>
<rect x="614.9" y="-27.4" width="1.9" height="766.5" fill="rgb(0,229,0)"/>
<rect x="616.5" y="-27.4" width="1.9" height="766.5" fill="rgb(0,223,0)"/>
<rect x="618.1" y="-27.4" width="1.9" height="766.5" fill="rgb(0,227,0)"/>
<rect x="619.7" y="-27.4" width="1.9" height="766.5" fill="rgb(0,202,0)"/>
<rect x="621.4" y="-27.4" width="1.9" height="766.5" fill="rgb(0,80,0)"/>
<rect x="623" y="-27.4" width="1.9" height="766.5" fill="rgb(0,10,0)"/>
<rect x="624.6" y="-27.4" width="1.9" height="766.5" fill="rgb(0,35,0)"/>
<rect x="626.2" y="-27.4" width="1.9" height="766.5" fill="rgb(0,17,0)"/>
<rect x="627.8" y="-27.4" width="1.9" height="766.5" fill="rgb(0,22,0)"/>
<rect x="629.5" y="-27.4" width="1.9" height="766.5" fill="rgb(0,108,0)"/>
<rect x="631.1" y="-27.4" width="1.9" height="766.5" fill="rgb(0,27,0)"/>
<rect x="632.7" y="-27.4" width="1.9" height="766.5" fill="rgb(0,165,0)"/>
<rect x="634.3" y="-27.4" width="1.9" height="766.5" fill="rgb(0,177,0)"/>
<rect x="635.9" y="-27.4" width="1.9" height="766.5" fill="rgb(0,158,0)"/>
<rect x="637.6" y="-27.4" width="1.9" height="766.5" fill="rgb(0,198,0)"/>
<rect x="639.2" y="-27.4" width="1.9" height="766.5" fill="rgb(0,212,0)"/>
<rect x="640.8" y="-27.4" width="1.9" height="766.5" fill="rgb(0,144,0)"/>
<rect x="642.4" y="-27.4" width="1.9" height="766.5" fill="rgb(0,209,0)"/>
<rect x="644" y="-27.4" width="1.9" height="766.5" fill="rgb(0,228,0)"/>
<rect x="645.7" y="-27.4" width="1.9" height="766.5" fill="rgb(0,115,0)"/>
<rect x="647.3" y="-27.4" width="1.9" height="766.5" fill="rgb(0,104,0)"/>
<rect x="648.9" y="-27.4" width="1.9" height="766.5" fill="rgb(0,88,0)"/>
<rect x="650.5" y="-27.4" width="1.9" height="766.5" fill="rgb(0,17,0)"/>
<rect x="652.2" y="-27.4" width="1.9" height="766.5" fill="rgb(0,7,0)"/>
<rect x="653.8" y="-27.4" width="1.9" height="766.5" fill="rgb(0,24,0)"/>
<rect x="655.4" y="-27.4" width="1.9" height="766.5" fill="rgb(0,19,0)"/>
<rect x="657" y="-27.4" width="1.9" height="766.5" fill="rgb(0,110,0)"/>
<rect x="658.6" y="-27.4" width="1.9" height="766.5" fill="rgb(0,112,0)"/>
<rect x="660.3" y="-27.4" width="1.9" height="766.5" fill="rgb(0,27,0)"/>
<rect x="661.9" y="-27.4" width="1.9" height="766.5" fill="rgb(0,111,0)"/>
<rect x="663.5" y="-27.4" width="1.9" height="766.5" fill="rgb(0,89,0)"/>
<rect x="665.1" y="-27.4" width="1.9" height="766.5" fill="rgb(0,21,0)"/>
<rect x="666.7" y="-27.4" width="1.9" height="766.5" fill="rgb(0,9,0)"/>
<rect x="668.4" y="-27.4" width="1.9" height="766.5" fill="rgb(0,19,0)"/>
<rect x="670" y="-27.4" width="1.9" height="766.5" fill="rgb(0,114,0)"/>
<rect x="671.6" y="-27.4" width="1.9" height="766.5" fill="rgb(0,26,0)"/>
<rect x="673.2" y="-27.4" width="1.9" height="766.5" fill="rgb(0,6,0)"/>
<rect x="674.9" y="-27.4" width="1.9" height="766.5" fill="rgb(0,15,0)"/>
<rect x="676.5" y="-27.4" width="1.9" height="766.5" fill="rgb(0,94,0)"/>
<rect x="678.1" y="-27.4" width="1.9" height="766.5" fill="rgb(0,15,0)"/>
<rect x="679.7" y="-27.4" width="1.9" height="766.5" fill="rgb(0,99,0)"/>
<rect x="681.3" y="-27.4" width="1.9" height="766.5" fill="rgb(0,102,0)"/>
<rect x="683" y="-27.4" width="1.9" height="766.5" fill="rgb(0,23,0)"/>
<rect x="684.6" y="-27.4" width="1.9" height="766.5" fill="rgb(0,102,0)"/>
<rect x="686.2" y="-27.4" width="1.9" height="766.5" fill="rgb(0,143,0)"/>
<rect x="687.8" y="-27.4" width="1.9" height="766.5" fill="rgb(0,140,0)"/>
<rect x="689.4" y="-27.4" width="1.9" height="766.5" fill="rgb(0,149,0)"/>
<rect x="691.1" y="-27.4" width="1.9" height="766.5" fill="rgb(0,66,0)"/>
<rect x="692.7" y="-27.4" width="1.9" height="766.5" fill="rgb(0,99,0)"/>
<rect x="694.3" y="-27.4" width="1.9" height="766.5" fill="rgb(0,26,0)"/>
<rect x="695.9" y="-27.4" width="1.9" height="766.5" fill="rgb(0,12,0)"/>
<rect x="697.5" y="-27.4" width="1.9" height="766.5" fill="rgb(0,109,0)"/>
<rect x="699.2" y="-27.4" width="1.9" height="766.5" fill="rgb(0,95,0)"/>
<rect x="700.8" y="-27.4" width="1.9" height="766.5" fill="rgb(0,103,0)"/>
<rect x="702.4" y="-27.4" width="1.9" height="766.5" fill="rgb(0,174,0)"/>
<rect x="704" y="-27.4" width="1.9" height="766.5" fill="rgb(0,215,0)"/>
<rect x="705.7" y="-27.4" width="1.9" height="766.5" fill="rgb(0,220,0)"/>
<rect x="707.3" y="-27.4" width="1.9" height="766.5" fill="rgb(0,232,0)"/>
<rect x="708.9" y="-27.4" width="1.9" height="766.5" fill="rgb(0,205,0)"/>
<rect x="710.5" y="-27.4" width="1.9" height="766.5" fill="rgb(0,224,0)"/>
<rect x="712.1" y="-27.4" width="1.9" height="766.5" fill="rgb(0,210,0)"/>
<rect x="713.8" y="-27.4" width="1.9" height="766.5" fill="rgb(0,219,0)"/>
<rect x="715.4" y="-27.4" width="1.9" height="766.5" fill="rgb(0,140,0)"/>
<rect x="717" y="-27.4" width="1.9" height="766.5" fill="rgb(0,213,0)"/>
<rect x="718.6" y="-27.4" width="1.9" height="766.5" fill="rgb(0,220,0)"/>
<rect x="720.2" y="-27.4" width="1.9" height="766.5" fill="rgb(0,218,0)"/>
<rect x="721.9" y="-27.4" width="1.9" height="766.5" fill="rgb(0,143,0)"/>
<rect x="723.5" y="-27.4" width="1.9" height="766.5" fill="rgb(0,225,0)"/>
<rect x="725.1" y="-27.4" width="1.9" height="766.5" fill="rgb(0,149,0)"/>
<rect x="726.7" y="-27.4" width="1.9" height="766.5" fill="rgb(0,229,0)"/>
<rect x="728.4" y="-27.4" width="1.9" height="766.5" fill="rgb(0,71,0)"/>
<rect x="730" y="-27.4" width="1.9" height="766.5" fill="rgb(0,89,0)"/>
<rect x="731.6" y="-27.4" width="1.9" height="766.5" fill="rgb(0,27,0)"/>
<rect x="733.2" y="-27.4" width="1.9" height="766.5" fill="rgb(0,172,0)"/>
<rect x="734.8" y="-27.4" width="1.9" height="766.5" fill="rgb(0,201,0)"/>
<rect x="736.5" y="-27.4" width="1.9" height="766.5" fill="rgb(0,75,0)"/>
<rect x="738.1" y="-27.4" width="1.9" height="766.5" fill="rgb(0,29,0)"/>
<rect x="739.7" y="-27.4" width="1.9" height="766.5" fill="rgb(0,9,0)"/>
<rect x="741.3" y="-27.4" width="1.9" height="766.5" fill="rgb(0,24,0)"/>
<rect x="742.9" y="-27.4" width="1.9" height="766.5" fill="rgb(0,23,0)"/>
<rect x="744.6" y="-27.4" width="1.9" height="766.5" fill="rgb(0,162,0)"/>
<rect x="746.2" y="-27.4" width="1.9" height="766.5" fill="rgb(0,176,0)"/>
<rect x="747.8" y="-27.4" width="1.9" height="766.5" fill="rgb(0,191,0)"/>
<rect x="749.4" y="-27.4" width="1.9" height="766.5" fill="rgb(0,181,0)"/>
<rect x="751.1" y="-27.4" width="1.9" height="766.5" fill="rgb(0,175,0)"/>
<rect x="752.7" y="-27.4" width="1.9" height="766.5" fill="rgb(0,233,0)"/>
<rect x="754.3" y="-27.4" width="1.9" height="766.5" fill="rgb(0,219,0)"/>
<rect x="755.9" y="-27.4" width="1.9" height="766.5" fill="rgb(0,217,0)"/>
<rect x="757.5" y="-27.4" width="1.9" height="766.5" fill="rgb(0,63,0)"/>
<rect x="759.2" y="-27.4" width="1.9" height="766.5" fill="rgb(0,84,0)"/>
<rect x="760.8" y="-27.4" width="1.9" height="766.5" fill="rgb(0,30,0)"/>
<rect x="762.4" y="-27.4" width="1.9" height="766.5" fill="rgb(0,28,0)"/>
<rect x="764" y="-27.4" width="1.9" height="766.5" fill="rgb(0,96,0)"/>
<rect x="765.6" y="-27.4" width="1.9" height="766.5" fill="rgb(0,175,0)"/>
<rect x="767.3" y="-27.4" width="1.9" height="766.5" fill="rgb(0,213,0)"/>
<rect x="768.9" y="-27.4" width="1.9" height="766.5" fill="rgb(0,120,0)"/>
<rect x="770.5" y="-27.4" width="1.9" height="766.5" fill="rgb(0,5,0)"/>
<rect x="772.1" y="-27.4" width="1.9" height="766.5" fill="rgb(0,18,0)"/>
<rect x="773.7" y="-27.4" width="1.9" height="766.5" fill="rgb(0,10,0)"/>
<rect x="775.4" y="-27.4" width="1.9" height="766.5" fill="rgb(0,15,0)"/>
<rect x="777" y="-27.4" width="1.9" height="766.5" fill="rgb(0,29,0)"/>
<rect x="778.6" y="-27.4" width="1.9" height="766.5" fill="rgb(0,180,0)"/>
<rect x="780.2" y="-27.4" width="1.9" height="766.5" fill="rgb(0,232,0)"/>
<rect x="781.9" y="-27.4" width="1.9" height="766.5" fill="rgb(0,223,0)"/>
<rect x="783.5" y="-27.4" width="1.9" height="766.5" fill="rgb(0,219,0)"/>
<rect x="785.1" y="-27.4" width="1.9" height="766.5" fill="rgb(0,74,0)"/>
<rect x="786.7" y="-27.4" width="1.9" height="766.5" fill="rgb(0,10,0)"/>
<rect x="788.3" y="-27.4" width="1.9" height="766.5" fill="rgb(0,19,0)"/>
<rect x="790" y="-27.4" width="1.9" height="766.5" fill="rgb(0,22,0)"/>
<rect x="791.6" y="-27.4" width="1.9" height="766.5" fill="rgb(0,20,0)"/>
<rect x="793.2" y="-27.4" width="1.9" height="766.5" fill="rgb(0,19,0)"/>
<rect x="794.8" y="-27.4" width="1.9" height="766.5" fill="rgb(0,92,0)"/>
<rect x="796.4" y="-27.4" width="1.9" height="766.5" fill="rgb(0,23,0)"/>
<rect x="798.1" y="-27.4" width="1.9" height="766.5" fill="rgb(0,179,0)"/>
<rect x="799.7" y="-27.4" width="1.9" height="766.5" fill="rgb(0,74,0)"/>
<rect x="801.3" y="-27.4" width="1.9" height="766.5" fill="rgb(0,25,0)"/>
<rect x="802.9" y="-27.4" width="1.9" height="766.5" fill="rgb(0,18,0)"/>
<rect x="804.6" y="-27.4" width="1.9" height="766.5" fill="rgb(0,4,0)"/>
<rect x="806.2" y="-27.4" width="1.9" height="766.5" fill="rgb(0,18,0)"/>
<rect x="807.8" y="-27.4" width="1.9" height="766.5" fill="rgb(0,180,0)"/>
<rect x="809.4" y="-27.4" width="1.9" height="766.5" fill="rgb(0,233,0)"/>
<rect x="811" y="-27.4" width="1.9" height="766.5" fill="rgb(0,231,0)"/>
<rect x="812.7" y="-27.4" width="1.9" height="766.5" fill="rgb(0,228,0)"/>
<rect x="814.3" y="-27.4" width="1.9" height="766.5" fill="rgb(0,226,0)"/>
<rect x="815.9" y="-27.4" width="1.9" height="766.5" fill="rgb(0,225,0)"/>
<rect x="817.5" y="-27.4" width="1.9" height="766.5" fill="rgb(0,119,0)"/>
<rect x="819.1" y="-27.4" width="31.9" height="766.5" fill="rgb(0,80,0)"/>
<rect x="295.5" y="-27.4" width="1.9" height="224.2" fill="rgb(0,185,0)"/>
<rect x="297.1" y="-27.4" width="1.9" height="224.2" fill="rgb(0,230,0)"/>
<rect x="298.7" y="-27.4" width="1.9" height="224.2" fill="rgb(0,234,0)"/>
<rect x="300.3" y="-27.4" width="1.9" height="224.2" fill="rgb(0,216,0)"/>
<rect x="302" y="-27.4" width="1.9" height="224.2" fill="rgb(0,226,0)"/>
<rect x="303.6" y="-27.4" width="1.9" height="224.2" fill="rgb(0,235,0)"/>
<rect x="305.2" y="-27.4" width="1.9" height="224.2" fill="rgb(0,226,0)"/>
<rect x="306.8" y="-27.4" width="1.9" height="224.2" fill="rgb(0,132,0)"/>
<rect x="308.5" y="-27.4" width="1.9" height="224.2" fill="rgb(0,128,0)"/>
<rect x="310.1" y="-27.4" width="1.9" height="224.2" fill="rgb(0,180,0)"/>
<rect x="311.7" y="-27.4" width="1.9" height="224.2" fill="rgb(0,147,0)"/>
<rect x="313.3" y="-27.4" width="1.9" height="224.2" fill="rgb(0,160,0)"/>
<rect x="314.9" y="-27.4" width="1.9" height="224.2" fill="rgb(0,189,0)"/>
<rect x="316.6" y="-27.4" width="1.9" height="224.2" fill="rgb(0,190,0)"/>
<rect x="318.2" y="-27.4" width="1.9" height="224.2" fill="rgb(0,194,0)"/>
<rect x="319.8" y="-27.4" width="1.9" height="224.2" fill="rgb(0,153,0)"/>
<rect x="321.4" y="-27.4" width="1.9" height="224.2" fill="rgb(0,145,0)"/>
<rect x="323" y="-27.4" width="1.9" height="224.2" fill="rgb(0,133,0)"/>
<rect x="324.7" y="-27.4" width="1.9" height="224.2" fill="rgb(0,185,0)"/>
<rect x="326.3" y="-27.4" width="1.9" height="224.2" fill="rgb(0,134,0)"/>
<rect x="327.9" y="-27.4" width="1.9" height="224.2" fill="rgb(0,128,0)"/>
<rect x="329.5" y="-27.4" width="1.9" height="224.2" fill="rgb(0,139,0)"/>
<rect x="331.1" y="-27.4" width="1.9" height="224.2" fill="rgb(0,161,0)"/>
<rect x="332.8" y="-27.4" width="1.9" height="224.2" fill="rgb(0,153,0)"/>
<rect x="334.4" y="-27.4" width="1.9" height="224.2" fill="rgb(0,138,0)"/>
<rect x="336" y="-27.4" width="1.9" height="224.2" fill="rgb(0,157,0)"/>
<rect x="337.6" y="-27.4" width="1.9" height="224.2" fill="rgb(0,178,0)"/>
<rect x="339.3" y="-27.4" width="1.9" height="224.2" fill="rgb(0,136,0)"/>
<rect x="340.9" y="-27.4" width="1.9" height="224.2" fill="rgb(0,189,0)"/>
<rect x="342.5" y="-27.4" width="1.9" height="224.2" fill="rgb(0,152,0)"/>
<rect x="344.1" y="-27.4" width="1.9" height="224.2" fill="rgb(0,182,0)"/>
<rect x="345.7" y="-27.4" width="1.9" height="224.2" fill="rgb(0,181,0)"/>
<rect x="347.4" y="-27.4" width="1.9" height="224.2" fill="rgb(0,152,0)"/>
<rect x="349" y="-27.4" width="1.9" height="224.2" fill="rgb(0,135,0)"/>
<rect x="350.6" y="-27.4" width="1.9" height="224.2" fill="rgb(0,181,0)"/>
<rect x="352.2" y="-27.4" width="1.9" height="224.2" fill="rgb(0,171,0)"/>
<rect x="353.8" y="-27.4" width="1.9" height="224.2" fill="rgb(0,172,0)"/>
<rect x="355.5" y="-27.4" width="1.9" height="224.2" fill="rgb(0,134,0)"/>
<rect x="357.1" y="-27.4" width="1.9" height="224.2" fill="rgb(0,192,0)"/>
<rect x="358.7" y="-27.4" width="1.9" height="224.2" fill="rgb(0,140,0)"/>
<rect x="360.3" y="-27.4" width="1.9" height="224.2" fill="rgb(0,181,0)"/>
<rect x="362" y="-27.4" width="1.9" height="224.2" fill="rgb(0,190,0)"/>
<rect x="363.6" y="-27.4" width="1.9" height="224.2" fill="rgb(0,193,0)"/>
<rect x="365.2" y="-27.4" width="1.9" height="224.2" fill="rgb(0,185,0)"/>
<rect x="366.8" y="-27.4" width="1.9" height="224.2" fill="rgb(0,145,0)"/>
<rect x="368.4" y="-27.4" width="1.9" height="224.2" fill="rgb(0,185,0)"/>
<rect x="370.1" y="-27.4" width="1.9" height="224.2" fill="rgb(0,235,0)"/>
<rect x="371.7" y="-27.4" width="1.9" height="224.2" fill="rgb(0,141,0)"/>
<rect x="373.3" y="-27.4" width="1.9" height="224.2" fill="rgb(0,191,0)"/>
<rect x="374.9" y="-27.4" width="1.9" height="224.2" fill="rgb(0,189,0)"/>
<rect x="376.5" y="-27.4" width="1.9" height="224.2" fill="rgb(0,154,0)"/>
<rect x="378.2" y="-27.4" width="1.9" height="224.2" fill="rgb(0,183,0)"/>
<rect x="379.8" y="-27.4" width="1.9" height="224.2" fill="rgb(0,180,0)"/>
<rect x="381.4" y="-27.4" width="1.9" height="224.2" fill="rgb(0,193,0)"/>
<rect x="383" y="-27.4" width="1.9" height="224.2" fill="rgb(0,189,0)"/>
<rect x="384.6" y="-27.4" width="1.9" height="224.2" fill="rgb(0,184,0)"/>
<rect x="386.3" y="-27.4" width="1.9" height="224.2" fill="rgb(0,181,0)"/>
<rect x="387.9" y="-27.4" width="1.9" height="224.2" fill="rgb(0,184,0)"/>
<rect x="389.5" y="-27.4" width="1.9" height="224.2" fill="rgb(0,133,0)"/>
<rect x="391.1" y="-27.4" width="1.9" height="224.2" fill="rgb(0,158,0)"/>
<rect x="392.8" y="-27.4" width="1.9" height="224.2" fill="rgb(0,180,0)"/>
<rect x="394.4" y="-27.4" width="3.5" height="224.2" fill="rgb(0,185,0)"/>
<rect x="397.6" y="-27.4" width="1.9" height="224.2" fill="rgb(0,191,0)"/>
<rect x="399.2" y="-27.4" width="1.9" height="224.2" fill="rgb(0,143,0)"/>
<rect x="400.9" y="-27.4" width="1.9" height="224.2" fill="rgb(0,187,0)"/>
<rect x="402.5" y="-27.4" width="1.9" height="224.2" fill="rgb(0,196,0)"/>
<rect x="404.1" y="-27.4" width="1.9" height="224.2" fill="rgb(0,194,0)"/>
<rect x="405.7" y="-27.4" width="1.9" height="224.2" fill="rgb(0,144,0)"/>
<rect x="407.3" y="-27.4" width="1.9" height="224.2" fill="rgb(0,151,0)"/>
<rect x="409" y="-27.4" width="1.9" height="224.2" fill="rgb(0,133,0)"/>
<rect x="410.6" y="-27.4" width="1.9" height="224.2" fill="rgb(0,137,0)"/>
<rect x="412.2" y="-27.4" width="1.9" height="224.2" fill="rgb(0,128,0)"/>
<rect x="413.8" y="-27.4" width="1.9" height="224.2" fill="rgb(0,187,0)"/>
<rect x="415.5" y="-27.4" width="1.9" height="224.2" fill="rgb(0,210,0)"/>
<rect x="417.1" y="-27.4" width="1.9" height="224.2" fill="rgb(0,147,0)"/>
<rect x="418.7" y="-27.4" width="1.9" height="224.2" fill="rgb(0,217,0)"/>
<rect x="420.3" y="-27.4" width="1.9" height="224.2" fill="rgb(0,219,0)"/>
<rect x="421.9" y="-27.4" width="1.9" height="224.2" fill="rgb(0,134,0)"/>
<rect x="423.6" y="-27.4" width="1.9" height="224.2" fill="rgb(0,144,0)"/>
<rect x="425.2" y="-27.4" width="1.9" height="224.2" fill="rgb(0,191,0)"/>
<rect x="426.8" y="-27.4" width="1.9" height="224.2" fill="rgb(0,139,0)"/>
<rect x="428.4" y="-27.4" width="1.9" height="224.2" fill="rgb(0,192,0)"/>
<rect x="430" y="-27.4" width="1.9" height="224.2" fill="rgb(0,181,0)"/>
<rect x="431.7" y="-27.4" width="1.9" height="224.2" fill="rgb(0,221,0)"/>
<rect x="433.3" y="-27.4" width="1.9" height="224.2" fill="rgb(0,209,0)"/>
<rect x="302" y="670.2" width="1.9" height="68.9" fill="rgb(0,226,0)"/>
<rect x="303.6" y="670.2" width="1.9" height="68.9" fill="rgb(0,235,0)"/>
<rect x="305.2" y="670.2" width="1.9" height="68.9" fill="rgb(0,226,0)"/>
<rect x="306.8" y="670.2" width="1.9" height="68.9" fill="rgb(0,132,0)"/>
<rect x="308.5" y="670.2" width="1.9" height="68.9" fill="rgb(0,128,0)"/>
<rect x="310.1" y="670.2" width="1.9" height="68.9" fill="rgb(0,180,0)"/>
<rect x="311.7" y="670.2" width="1.9" height="68.9" fill="rgb(0,147,0)"/>
<rect x="313.3" y="670.2" width="1.9" height="68.9" fill="rgb(0,160,0)"/>
<rect x="314.9" y="670.2" width="1.9" height="68.9" fill="rgb(0,189,0)"/>
<rect x="316.6" y="670.2" width="1.9" height="68.9" fill="rgb(0,190,0)"/>
<rect x="318.2" y="670.2" width="1.9" height="68.9" fill="rgb(0,194,0)"/>
<rect x="319.8" y="670.2" width="1.9" height="68.9" fill="rgb(0,153,0)"/>
<rect x="321.4" y="670.2" width="1.9" height="68.9" fill="rgb(0,145,0)"/>
<rect x="323" y="670.2" width="1.9" height="68.9" fill="rgb(0,133,0)"/>
<rect x="324.7" y="670.2" width="1.9" height="68.9" fill="rgb(0,185,0)"/>
<rect x="326.3" y="670.2" width="1.9" height="68.9" fill="rgb(0,134,0)"/>
<rect x="327.9" y="670.2" width="1.9" height="68.9" fill="rgb(0,128,0)"/>
<rect x="329.5" y="670.2" width="1.9" height="68.9" fill="rgb(0,139,0)"/>
<rect x="331.1" y="670.2" width="1.9" height="68.9" fill="rgb(0,161,0)"/>
<rect x="332.8" y="670.2" width="1.9" height="68.9" fill="rgb(0,153,0)"/>
<rect x="334.4" y="670.2" width="1.9" height="68.9" fill="rgb(0,138,0)"/>
<rect x="336" y="670.2" width="1.9" height="68.9" fill="rgb(0,157,0)"/>
<rect x="337.6" y="670.2" width="1.9" height="68.9" fill="rgb(0,178,0)"/>
<rect x="339.3" y="670.2" width="1.9" height="68.9" fill="rgb(0,136,0)"/>
<rect x="340.9" y="670.2" width="1.9" height="68.9" fill="rgb(0,189,0)"/>
<rect x="342.5" y="670.2" width="1.9" height="68.9" fill="rgb(0,152,0)"/>
<rect x="344.1" y="670.2" width="1.9" height="68.9" fill="rgb(0,182,0)"/>
<rect x="345.7" y="670.2" width="1.9" height="68.9" fill="rgb(0,181,0)"/>
<rect x="347.4" y="670.2" width="1.9" height="68.9" fill="rgb(0,152,0)"/>
<rect x="349" y="670.2" width="1.9" height="68.9" fill="rgb(0,135,0)"/>
<rect x="350.6" y="670.2" width="1.9" height="68.9" fill="rgb(0,181,0)"/>
<rect x="352.2" y="670.2" width="1.9" height="68.9" fill="rgb(0,171,0)"/>
<rect x="353.8" y="670.2" width="1.9" height="68.9" fill="rgb(0,172,0)"/>
<rect x="355.5" y="670.2" width="1.9" height="68.9" fill="rgb(0,134,0)"/>
<rect x="357.1" y="670.2" width="1.9" height="68.9" fill="rgb(0,192,0)"/>
<rect x="358.7" y="670.2" width="1.9" height="68.9" fill="rgb(0,140,0)"/>
<rect x="360.3" y="670.2" width="1.9" height="68.9" fill="rgb(0,181,0)"/>
<rect x="362" y="670.2" width="1.9" height="68.9" fill="rgb(0,190,0)"/>
<rect x="363.6" y="670.2" width="1.9" height="68.9" fill="rgb(0,193,0)"/>
<rect x="365.2" y="670.2" width="1.9" height="68.9" fill="rgb(0,185,0)"/>
<rect x="366.8" y="670.2" width="1.9" height="68.9" fill="rgb(0,145,0)"/>
<rect x="368.4" y="670.2" width="1.9" height="68.9" fill="rgb(0,185,0)"/>
<rect x="370.1" y="670.2" width="1.9" height="68.9" fill="rgb(0,235,0)"/>
<rect x="371.7" y="670.2" width="1.9" height="68.9" fill="rgb(0,141,0)"/>
<rect x="373.3" y="670.2" width="1.9" height="68.9" fill="rgb(0,191,0)"/>
<rect x="374.9" y="670.2" width="1.9" height="68.9" fill="rgb(0,189,0)"/>
<rect x="376.5" y="670.2" width="1.9" height="68.9" fill="rgb(0,154,0)"/>
<rect x="378.2" y="670.2" width="1.9" height="68.9" fill="rgb(0,183,0)"/>
<rect x="379.8" y="670.2" width="1.9" height="68.9" fill="rgb(0,180,0)"/>
<rect x="381.4" y="670.2" width="1.9" height="68.9" fill="rgb(0,193,0)"/>
<rect x="383" y="670.2" width="1.9" height="68.9" fill="rgb(0,189,0)"/>
<rect x="384.6" y="670.2" width="1.9" height="68.9" fill="rgb(0,184,0)"/>
<rect x="386.3" y="670.2" width="1.9" height="68.9" fill="rgb(0,181,0)"/>
<rect x="387.9" y="670.2" width="1.9" height="68.9" fill="rgb(0,184,0)"/>
<rect x="389.5" y="670.2" width="1.9" height="68.9" fill="rgb(0,133,0)"/>
<rect x="391.1" y="670.2" width="1.9" height="68.9" fill="rgb(0,158,0)"/>
<rect x="392.8" y="670.2" width="1.9" height="68.9" fill="rgb(0,180,0)"/>
<rect x="394.4" y="670.2" width="3.5" height="68.9" fill="rgb(0,185,0)"/>
<rect x="397.6" y="670.2" width="1.9" height="68.9" fill="rgb(0,191,0)"/>
<rect x="399.2" y="670.2" width="1.9" height="68.9" fill="rgb(0,143,0)"/>
<rect x="400.9" y="670.2" width="1.9" height="68.9" fill="rgb(0,187,0)"/>
<rect x="402.5" y="670.2" width="1.9" height="68.9" fill="rgb(0,196,0)"/>
<rect x="404.1" y="670.2" width="1.9" height="68.9" fill="rgb(0,194,0)"/>
<rect x="405.7" y="670.2" width="1.9" height="68.9" fill="rgb(0,144,0)"/>
<rect x="407.3" y="670.2" width="1.9" height="68.9" fill="rgb(0,151,0)"/>
<rect x="409" y="670.2" width="1.9" height="68.9" fill="rgb(0,133,0)"/>
<rect x="410.6" y="670.2" width="1.9" height="68.9" fill="rgb(0,137,0)"/>
<rect x="412.2" y="670.2" width="1.9" height="68.9" fill="rgb(0,128,0)"/>
<rect x="413.8" y="670.2" width="1.9" height="68.9" fill="rgb(0,187,0)"/>
<rect x="415.5" y="670.2" width="1.9" height="68.9" fill="rgb(0,210,0)"/>
<rect x="417.1" y="670.2" width="1.9" height="68.9" fill="rgb(0,147,0)"/>
<rect x="418.7" y="670.2" width="1.9" height="68.9" fill="rgb(0,217,0)"/>
<rect x="420.3" y="670.2" width="1.9" height="68.9" fill="rgb(0,219,0)"/>
<rect x="421.9" y="670.2" width="1.9" height="68.9" fill="rgb(0,134,0)"/>
<rect x="423.6" y="670.2" width="1.9" height="68.9" fill="rgb(0,144,0)"/>
<rect x="425.2" y="670.2" width="1.9" height="68.9" fill="rgb(0,191,0)"/>
<rect x="426.8" y="670.2" width="1.9" height="68.9" fill="rgb(0,139,0)"/>
</g>
<g style="mix-blend-mode:lighten">
<rect x="83.9" y="677" width="62.5" height="62.5" fill="rgb(0,0,249)"/>
<rect x="146" y="677" width="32.5" height="62.5" fill="rgb(0,0,249)"/>
<rect x="178.1" y="677" width="32.5" height="62.5" fill="rgb(0,0,249)"/>
<rect x="210.2" y="677" width="32.5" height="62.5" fill="rgb(0,0,249)"/>
<rect x="242.4" y="677" width="32.5" height="62.5" fill="rgb(0,0,249)"/>
<rect x="274.5" y="677" width="32.5" height="62.5" fill="rgb(0,0,249)"/>
<rect x="306.6" y="677" width="32.5" height="62.5" fill="rgb(0,0,249)"/>
<rect x="338.7" y="677" width="32.5" height="62.5" fill="rgb(0,0,249)"/>
<rect x="370.8" y="677" width="32.5" height="62.5" fill="rgb(0,0,249)"/>
<rect x="402.9" y="677" width="32.5" height="62.5" fill="rgb(0,0,249)"/>
<rect x="435.1" y="677" width="32.5" height="62.5" fill="rgb(0,0,249)"/>
<rect x="467.2" y="677" width="32.5" height="62.5" fill="rgb(0,0,249)"/>
<rect x="499.3" y="677" width="32.5" height="62.5" fill="rgb(0,0,249)"/>
<rect x="531.4" y="677" width="32.5" height="62.5" fill="rgb(0,0,249)"/>
<rect x="563.5" y="677" width="32.5" height="62.5" fill="rgb(0,0,249)"/>
<rect x="595.6" y="677" width="32.5" height="62.5" fill="rgb(0,0,249)"/>
<rect x="627.7" y="677" width="32.5" height="62.5" fill="rgb(0,0,249)"/>
<rect x="659.9" y="677" width="32.5" height="62.5" fill="rgb(0,0,249)"/>
<rect x="692" y="677" width="32.5" height="62.5" fill="rgb(0,0,249)"/>
<rect x="724.1" y="677" width="32.5" height="62.5" fill="rgb(0,0,249)"/>
<rect x="756.2" y="677" width="32.5" height="62.5" fill="rgb(0,0,249)"/>
<rect x="788.3" y="677" width="62.5" height="62.5" fill="rgb(0,0,249)"/>
<rect x="83.9" y="644.9" width="62.5" height="32.5" fill="rgb(0,0,249)"/>
<rect x="146" y="644.9" width="32.5" height="32.5" fill="rgb(0,0,191)"/>
<rect x="178.1" y="644.9" width="32.5" height="32.5" fill="rgb(0,0,197)"/>
<rect x="210.2" y="644.9" width="32.5" height="32.5" fill="rgb(0,0,201)"/>
<rect x="242.4" y="644.9" width="32.5" height="32.5" fill="rgb(0,0,202)"/>
<rect x="274.5" y="644.9" width="32.5" height="32.5" fill="rgb(0,0,203)"/>
<rect x="306.6" y="644.9" width="32.5" height="32.5" fill="rgb(0,0,204)"/>
<rect x="338.7" y="644.9" width="32.5" height="32.5" fill="rgb(0,0,204)"/>
<rect x="370.8" y="644.9" width="32.5" height="32.5" fill="rgb(0,0,204)"/>
<rect x="402.9" y="644.9" width="32.5" height="32.5" fill="rgb(0,0,204)"/>
<rect x="435.1" y="644.9" width="32.5" height="32.5" fill="rgb(0,0,204)"/>
<rect x="467.2" y="644.9" width="32.5" height="32.5" fill="rgb(0,0,204)"/>
<rect x="499.3" y="644.9" width="32.5" height="32.5" fill="rgb(0,0,204)"/>
<rect x="531.4" y="644.9" width="32.5" height="32.5" fill="rgb(0,0,204)"/>
<rect x="563.5" y="644.9" width="32.5" height="32.5" fill="rgb(0,0,204)"/>
<rect x="595.6" y="644.9" width="32.5" height="32.5" fill="rgb(0,0,204)"/>
<rect x="627.7" y="644.9" width="32.5" height="32.5" fill="rgb(0,0,204)"/>
<rect x="659.9" y="644.9" width="32.5" height="32.5" fill="rgb(0,0,204)"/>
<rect x="692" y="644.9" width="32.5" height="32.5" fill="rgb(0,0,204)"/>
<rect x="724.1" y="644.9" width="32.5" height="32.5" fill="rgb(0,0,204)"/>
<rect x="756.2" y="644.9" width="32.5" height="32.5" fill="rgb(0,0,204)"/>
<rect x="788.3" y="644.9" width="62.5" height="32.5" fill="rgb(0,0,204)"/>
<rect x="83.9" y="612.8" width="62.5" height="32.5" fill="rgb(0,0,249)"/>
<rect x="146" y="612.8" width="32.5" height="32.5" fill="rgb(0,0,197)"/>
<rect x="178.1" y="612.8" width="32.5" height="32.5" fill="rgb(0,0,191)"/>
<rect x="210.2" y="612.8" width="32.5" height="32.5" fill="rgb(0,0,197)"/>
<rect x="242.4" y="612.8" width="32.5" height="32.5" fill="rgb(0,0,201)"/>
<rect x="274.5" y="612.8" width="32.5" height="32.5" fill="rgb(0,0,202)"/>
<rect x="306.6" y="612.8" width="32.5" height="32.5" fill="rgb(0,0,203)"/>
<rect x="338.7" y="612.8" width="32.5" height="32.5" fill="rgb(0,0,204)"/>
<rect x="370.8" y="612.8" width="32.5" height="32.5" fill="rgb(0,0,204)"/>
<rect x="402.9" y="612.8" width="32.5" height="32.5" fill="rgb(0,0,204)"/>
<rect x="435.1" y="612.8" width="32.5" height="32.5" fill="rgb(0,0,204)"/>
<rect x="467.2" y="612.8" width="32.5" height="32.5" fill="rgb(0,0,204)"/>
<rect x="499.3" y="612.8" width="32.5" height="32.5" fill="rgb(0,0,204)"/>
<rect x="531.4" y="612.8" width="32.5" height="32.5" fill="rgb(0,0,204)"/>
<rect x="563.5" y="612.8" width="32.5" height="32.5" fill="rgb(0,0,204)"/>
<rect x="595.6" y="612.8" width="32.5" height="32.5" fill="rgb(0,0,204)"/>
<rect x="627.7" y="612.8" width="32.5" height="32.5" fill="rgb(0,0,204)"/>
<rect x="659.9" y="612.8" width="32.5" height="32.5" fill="rgb(0,0,204)"/>
<rect x="692" y="612.8" width="32.5" height="32.5" fill="rgb(0,0,204)"/>
<rect x="724.1" y="612.8" width="32.5" height="32.5" fill="rgb(0,0,204)"/>
<rect x="756.2" y="612.8" width="32.5" height="32.5" fill="rgb(0,0,204)"/>
<rect x="788.3" y="612.8" width="62.5" height="32.5" fill="rgb(0,0,204)"/>
<rect x="83.9" y="580.6" width="62.5" height="32.5" fill="rgb(0,0,249)"/>
<rect x="146" y="580.6" width="32.5" height="32.5" fill="rgb(0,0,201)"/>
<rect x="178.1" y="580.6" width="32.5" height="32.5" fill="rgb(0,0,197)"/>
<rect x="210.2" y="580.6" width="32.5" height="32.5" fill="rgb(0,0,191)"/>
<rect x="242.4" y="580.6" width="32.5" height="32.5" fill="rgb(0,0,197)"/>
<rect x="274.5" y="580.6" width="32.5" height="32.5" fill="rgb(0,0,201)"/>
<rect x="306.6" y="580.6" width="32.5" height="32.5" fill="rgb(0,0,202)"/>
<rect x="338.7" y="580.6" width="32.5" height="32.5" fill="rgb(0,0,203)"/>
<rect x="370.8" y="580.6" width="32.5" height="32.5" fill="rgb(0,0,204)"/>
<rect x="402.9" y="580.6" width="32.5" height="32.5" fill="rgb(0,0,204)"/>
<rect x="435.1" y="580.6" width="32.5" height="32.5" fill="rgb(0,0,204)"/>
<rect x="467.2" y="580.6" width="32.5" height="32.5" fill="rgb(0,0,204)"/>
<rect x="499.3" y="580.6" width="32.5" height="32.5" fill="rgb(0,0,204)"/>
<rect x="531.4" y="580.6" width="32.5" height="32.5" fill="rgb(0,0,204)"/>
<rect x="563.5" y="580.6" width="32.5" height="32.5" fill="rgb(0,0,204)"/>
<rect x="595.6" y="580.6" width="32.5" height="32.5" fill="rgb(0,0,204)"/>
<rect x="627.7" y="580.6" width="32.5" height="32.5" fill="rgb(0,0,204)"/>
<rect x="659.9" y="580.6" width="32.5" height="32.5" fill="rgb(0,0,204)"/>
<rect x="692" y="580.6" width="32.5" height="32.5" fill="rgb(0,0,204)"/>
<rect x="724.1" y="580.6" width="32.5" height="32.5" fill="rgb(0,0,204)"/>
<rect x="756.2" y="580.6" width="32.5" height="32.5" fill="rgb(0,0,204)"/>
<rect x="788.3" y="580.6" width="62.5" height="32.5" fill="rgb(0,0,204)"/>
<rect x="83.9" y="548.5" width="62.5" height="32.5" fill="rgb(0,0,249)"/>
<rect x="146" y="548.5" width="32.5" height="32.5" fill="rgb(0,0,202)"/>
<rect x="178.1" y="548.5" width="32.5" height="32.5" fill="rgb(0,0,201)"/>
<rect x="210.2" y="548.5" width="32.5" height="32.5" fill="rgb(0,0,197)"/>
<rect x="242.4" y="548.5" width="32.5" height="32.5" fill="rgb(0,0,191)"/>
<rect x="274.5" y="548.5" width="32.5" height="32.5" fill="rgb(0,0,197)"/>
<rect x="306.6" y="548.5" width="32.5" height="32.5" fill="rgb(0,0,201)"/>
<rect x="338.7" y="548.5" width="32.5" height="32.5" fill="rgb(0,0,202)"/>
<rect x="370.8" y="548.5" width="32.5" height="32.5" fill="rgb(0,0,203)"/>
<rect x="402.9" y="548.5" width="32.5" height="32.5" fill="rgb(0,0,204)"/>
<rect x="435.1" y="548.5" width="32.5" height="32.5" fill="rgb(0,0,204)"/>
<rect x="467.2" y="548.5" width="32.5" height="32.5" fill="rgb(0,0,204)"/>
<rect x="499.3" y="548.5" width="32.5" height="32.5" fill="rgb(0,0,204)"/>
<rect x="531.4" y="548.5" width="32.5" height="32.5" fill="rgb(0,0,204)"/>
<rect x="563.5" y="548.5" width="32.5" height="32.5" fill="rgb(0,0,204)"/>
<rect x="595.6" y="548.5" width="32.5" height="32.5" fill="rgb(0,0,204)"/>
<rect x="627.7" y="548.5" width="32.5" height="32.5" fill="rgb(0,0,204)"/>
<rect x="659.9" y="548.5" width="32.5" height="32.5" fill="rgb(0,0,204)"/>
<rect x="692" y="548.5" width="32.5" height="32.5" fill="rgb(0,0,204)"/>
<rect x="724.1" y="548.5" width="32.5" height="32.5" fill="rgb(0,0,204)"/>
<rect x="756.2" y="548.5" width="32.5" height="32.5" fill="rgb(0,0,204)"/>
<rect x="788.3" y="548.5" width="62.5" height="32.5" fill="rgb(0,0,204)"/>
<rect x="83.9" y="516.4" width="62.5" height="32.5" fill="rgb(0,0,249)"/>
<rect x="146" y="516.4" width="32.5" height="32.5" fill="rgb(0,0,203)"/>
<rect x="178.1" y="516.4" width="32.5" height="32.5" fill="rgb(0,0,202)"/>
<rect x="210.2" y="516.4" width="32.5" height="32.5" fill="rgb(0,0,201)"/>
<rect x="242.4" y="516.4" width="32.5" height="32.5" fill="rgb(0,0,197)"/>
<rect x="274.5" y="516.4" width="32.5" height="32.5" fill="rgb(0,0,191)"/>
<rect x="306.6" y="516.4" width="32.5" height="32.5" fill="rgb(0,0,197)"/>
<rect x="338.7" y="516.4" width="32.5" height="32.5" fill="rgb(0,0,201)"/>
<rect x="370.8" y="516.4" width="32.5" height="32.5" fill="rgb(0,0,202)"/>
<rect x="402.9" y="516.4" width="32.5" height="32.5" fill="rgb(0,0,203)"/>
<rect x="435.1" y="516.4" width="32.5" height="32.5" fill="rgb(0,0,204)"/>
<rect x="467.2" y="516.4" width="32.5" height="32.5" fill="rgb(0,0,204)"/>
<rect x="499.3" y="516.4" width="32.5" height="32.5" fill="rgb(0,0,204)"/>
<rect x="531.4" y="516.4" width="32.5" height="32.5" fill="rgb(0,0,204)"/>
<rect x="563.5" y="516.4" width="32.5" height="32.5" fill="rgb(0,0,204)"/>
<rect x="595.6" y="516.4" width="32.5" height="32.5" fill="rgb(0,0,204)"/>
<rect x="627.7" y="516.4" width="32.5" height="32.5" fill="rgb(0,0,204)"/>
<rect x="659.9" y="516.4" width="32.5" height="32.5" fill="rgb(0,0,204)"/>
<rect x="692" y="516.4" width="32.5" height="32.5" fill="rgb(0,0,204)"/>
<rect x="724.1" y="516.4" width="32.5" height="32.5" fill="rgb(0,0,204)"/>
<rect x="756.2" y="516.4" width="32.5" height="32.5" fill="rgb(0,0,204)"/>
<rect x="788.3" y="516.4" width="62.5" height="32.5" fill="rgb(0,0,204)"/>
<rect x="83.9" y="484.3" width="62.5" height="32.5" fill="rgb(0,0,249)"/>
<rect x="146" y="484.3" width="32.5" height="32.5" fill="rgb(0,0,204)"/>
<rect x="178.1" y="484.3" width="32.5" height="32.5" fill="rgb(0,0,203)"/>
<rect x="210.2" y="484.3" width="32.5" height="32.5" fill="rgb(0,0,202)"/>
<rect x="242.4" y="484.3" width="32.5" height="32.5" fill="rgb(0,0,201)"/>
<rect x="274.5" y="484.3" width="32.5" height="32.5" fill="rgb(0,0,197)"/>
<rect x="306.6" y="484.3" width="32.5" height="32.5" fill="rgb(0,0,191)"/>
<rect x="338.7" y="484.3" width="32.5" height="32.5" fill="rgb(0,0,197)"/>
<rect x="370.8" y="484.3" width="32.5" height="32.5" fill="rgb(0,0,201)"/>
<rect x="402.9" y="484.3" width="32.5" height="32.5" fill="rgb(0,0,202)"/>
<rect x="435.1" y="484.3" width="32.5" height="32.5" fill="rgb(0,0,203)"/>
<rect x="467.2" y="484.3" width="32.5" height="32.5" fill="rgb(0,0,204)"/>
<rect x="499.3" y="484.3" width="32.5" height="32.5" fill="rgb(0,0,204)"/>
<rect x="531.4" y="484.3" width="32.5" height="32.5" fill="rgb(0,0,204)"/>
<rect x="563.5" y="484.3" width="32.5" height="32.5" fill="rgb(0,0,204)"/>
<rect x="595.6" y="484.3" width="32.5" height="32.5" fill="rgb(0,0,204)"/>
<rect x="627.7" y="484.3" width="32.5" height="32.5" fill="rgb(0,0,204)"/>
<rect x="659.9" y="484.3" width="32.5" height="32.5" fill="rgb(0,0,204)"/>
<rect x="692" y="484.3" width="32.5" height="32.5" fill="rgb(0,0,204)"/>
<rect x="724.1" y="484.3" width="32.5" height="32.5" fill="rgb(0,0,204)"/>
<rect x="756.2" y="484.3" width="32.5" height="32.5" fill="rgb(0,0,204)"/>
<rect x="788.3" y="484.3" width="62.5" height="32.5" fill="rgb(0,0,204)"/>
<rect x="83.9" y="452.2" width="62.5" height="32.5" fill="rgb(0,0,249)"/>
<rect x="146" y="452.2" width="32.5" height="32.5" fill="rgb(0,0,204)"/>
<rect x="178.1" y="452.2" width="32.5" height="32.5" fill="rgb(0,0,204)"/>
<rect x="210.2" y="452.2" width="32.5" height="32.5" fill="rgb(0,0,203)"/>
<rect x="242.4" y="452.2" width="32.5" height="32.5" fill="rgb(0,0,202)"/>
<rect x="274.5" y="452.2" width="32.5" height="32.5" fill="rgb(0,0,201)"/>
<rect x="306.6" y="452.2" width="32.5" height="32.5" fill="rgb(0,0,197)"/>
<rect x="338.7" y="452.2" width="32.5" height="32.5" fill="rgb(0,0,191)"/>
<rect x="370.8" y="452.2" width="32.5" height="32.5" fill="rgb(0,0,197)"/>
<rect x="402.9" y="452.2" width="32.5" height="32.5" fill="rgb(0,0,201)"/>
<rect x="435.1" y="452.2" width="32.5" height="32.5" fill="rgb(0,0,202)"/>
<rect x="467.2" y="452.2" width="32.5" height="32.5" fill="rgb(0,0,203)"/>
<rect x="499.3" y="452.2" width="32.5" height="32.5" fill="rgb(0,0,204)"/>
<rect x="531.4" y="452.2" width="32.5" height="32.5" fill="rgb(0,0,204)"/>
<rect x="563.5" y="452.2" width="32.5" height="32.5" fill="rgb(0,0,204)"/>
<rect x="595.6" y="452.2" width="32.5" height="32.5" fill="rgb(0,0,204)"/>
<rect x="627.7" y="452.2" width="32.5" height="32.5" fill="rgb(0,0,204)"/>
<rect x="659.9" y="452.2" width="32.5" height="32.5" fill="rgb(0,0,204)"/>
<rect x="692" y="452.2" width="32.5" height="32.5" fill="rgb(0,0,204)"/>
<rect x="724.1" y="452.2" width="32.5" height="32.5" fill="rgb(0,0,204)"/>
<rect x="756.2" y="452.2" width="32.5" height="32.5" fill="rgb(0,0,204)"/>
<rect x="788.3" y="452.2" width="62.5" height="32.5" fill="rgb(0,0,204)"/>
<rect x="83.9" y="420.1" width="62.5" height="32.5" fill="rgb(0,0,249)"/>
<rect x="146" y="420.1" width="32.5" height="32.5" fill="rgb(0,0,204)"/>
<rect x="178.1" y="420.1" width="32.5" height="32.5" fill="rgb(0,0,204)"/>
<rect x="210.2" y="420.1" width="32.5" height="32.5" fill="rgb(0,0,204)"/>
<rect x="242.4" y="420.1" width="32.5" height="32.5" fill="rgb(0,0,203)"/>
<rect x="274.5" y="420.1" width="32.5" height="32.5" fill="rgb(0,0,202)"/>
<rect x="306.6" y="420.1" width="32.5" height="32.5" fill="rgb(0,0,201)"/>
<rect x="338.7" y="420.1" width="32.5" height="32.5" fill="rgb(0,0,197)"/>
<rect x="370.8" y="420.1" width="32.5" height="32.5" fill="rgb(0,0,191)"/>
<rect x="402.9" y="420.1" width="32.5" height="32.5" fill="rgb(0,0,197)"/>
<rect x="435.1" y="420.1" width="32.5" height="32.5" fill="rgb(0,0,201)"/>
<rect x="467.2" y="420.1" width="32.5" height="32.5" fill="rgb(0,0,202)"/>
<rect x="499.3" y="420.1" width="32.5" height="32.5" fill="rgb(0,0,203)"/>
<rect x="531.4" y="420.1" width="32.5" height="32.5" fill="rgb(0,0,204)"/>
<rect x="563.5" y="420.1" width="32.5" height="32.5" fill="rgb(0,0,204)"/>
<rect x="595.6" y="420.1" width="32.5" height="32.5" fill="rgb(0,0,204)"/>
<rect x="627.7" y="420.1" width="32.5" height="32.5" fill="rgb(0,0,204)"/>
<rect x="659.9" y="420.1" width="32.5" height="32.5" fill="rgb(0,0,204)"/>
<rect x="692" y="420.1" width="32.5" height="32.5" fill="rgb(0,0,204)"/>
<rect x="724.1" y="420.1" width="32.5" height="32.5" fill="rgb(0,0,204)"/>
<rect x="756.2" y="420.1" width="32.5" height="32.5" fill="rgb(0,0,204)"/>
<rect x="788.3" y="420.1" width="62.5" height="32.5" fill="rgb(0,0,204)"/>
<rect x="83.9" y="387.9" width="62.5" height="32.5" fill="rgb(0,0,249)"/>
<rect x="146" y="387.9" width="32.5" height="32.5" fill="rgb(0,0,204)"/>
<rect x="178.1" y="387.9" width="32.5" height="32.5" fill="rgb(0,0,204)"/>
<rect x="210.2" y="387.9" width="32.5" height="32.5" fill="rgb(0,0,204)"/>
<rect x="242.4" y="387.9" width="32.5" height="32.5" fill="rgb(0,0,204)"/>
<rect x="274.5" y="387.9" width="32.5" height="32.5" fill="rgb(0,0,203)"/>
<rect x="306.6" y="387.9" width="32.5" height="32.5" fill="rgb(0,0,202)"/>
<rect x="338.7" y="387.9" width="32.5" height="32.5" fill="rgb(0,0,201)"/>
<rect x="370.8" y="387.9" width="32.5" height="32.5" fill="rgb(0,0,197)"/>
<rect x="402.9" y="387.9" width="32.5" height="32.5" fill="rgb(0,0,191)"/>
<rect x="435.1" y="387.9" width="32.5" height="32.5" fill="rgb(0,0,197)"/>
<rect x="467.2" y="387.9" width="32.5" height="32.5" fill="rgb(0,0,201)"/>
<rect x="499.3" y="387.9" width="32.5" height="32.5" fill="rgb(0,0,202)"/>
<rect x="531.4" y="387.9" width="32.5" height="32.5" fill="rgb(0,0,203)"/>
<rect x="563.5" y="387.9" width="32.5" height="32.5" fill="rgb(0,0,204)"/>
<rect x="595.6" y="387.9" width="32.5" height="32.5" fill="rgb(0,0,204)"/>
<rect x="627.7" y="387.9" width="32.5" height="32.5" fill="rgb(0,0,204)"/>
<rect x="659.9" y="387.9" width="32.5" height="32.5" fill="rgb(0,0,204)"/>
<rect x="692" y="387.9" width="32.5" height="32.5" fill="rgb(0,0,204)"/>
<rect x="724.1" y="387.9" width="32.5" height="32.5" fill="rgb(0,0,204)"/>
<rect x="756.2" y="387.9" width="32.5" height="32.5" fill="rgb(0,0,204)"/>
<rect x="788.3" y="387.9" width="62.5" height="32.5" fill="rgb(0,0,204)"/>
<rect x="83.9" y="355.8" width="62.5" height="32.5" fill="rgb(0,0,249)"/>
<rect x="146" y="355.8" width="32.5" height="32.5" fill="rgb(0,0,204)"/>
<rect x="178.1" y="355.8" width="32.5" height="32.5" fill="rgb(0,0,204)"/>
<rect x="210.2" y="355.8" width="32.5" height="32.5" fill="rgb(0,0,204)"/>
<rect x="242.4" y="355.8" width="32.5" height="32.5" fill="rgb(0,0,204)"/>
<rect x="274.5" y="355.8" width="32.5" height="32.5" fill="rgb(0,0,204)"/>
<rect x="306.6" y="355.8" width="32.5" height="32.5" fill="rgb(0,0,203)"/>
<rect x="338.7" y="355.8" width="32.5" height="32.5" fill="rgb(0,0,202)"/>
<rect x="370.8" y="355.8" width="32.5" height="32.5" fill="rgb(0,0,201)"/>
<rect x="402.9" y="355.8" width="32.5" height="32.5" fill="rgb(0,0,197)"/>
<rect x="435.1" y="355.8" width="32.5" height="32.5" fill="rgb(0,0,191)"/>
<rect x="467.2" y="355.8" width="32.5" height="32.5" fill="rgb(0,0,197)"/>
<rect x="499.3" y="355.8" width="32.5" height="32.5" fill="rgb(0,0,201)"/>
<rect x="531.4" y="355.8" width="32.5" height="32.5" fill="rgb(0,0,202)"/>
<rect x="563.5" y="355.8" width="32.5" height="32.5" fill="rgb(0,0,203)"/>
<rect x="595.6" y="355.8" width="32.5" height="32.5" fill="rgb(0,0,204)"/>
<rect x="627.7" y="355.8" width="32.5" height="32.5" fill="rgb(0,0,204)"/>
<rect x="659.9" y="355.8" width="32.5" height="32.5" fill="rgb(0,0,204)"/>
<rect x="692" y="355.8" width="32.5" height="32.5" fill="rgb(0,0,204)"/>
<rect x="724.1" y="355.8" width="32.5" height="32.5" fill="rgb(0,0,204)"/>
<rect x="756.2" y="355.8" width="32.5" height="32.5" fill="rgb(0,0,204)"/>
<rect x="788.3" y="355.8" width="62.5" height="32.5" fill="rgb(0,0,204)"/>
<rect x="83.9" y="323.7" width="62.5" height="32.5" fill="rgb(0,0,249)"/>
<rect x="146" y="323.7" width="32.5" height="32.5" fill="rgb(0,0,204)"/>
<rect x="178.1" y="323.7" width="32.5" height="32.5" fill="rgb(0,0,204)"/>
<rect x="210.2" y="323.7" width="32.5" height="32.5" fill="rgb(0,0,204)"/>
<rect x="242.4" y="323.7" width="32.5" height="32.5" fill="rgb(0,0,204)"/>
<rect x="274.5" y="323.7" width="32.5" height="32.5" fill="rgb(0,0,204)"/>
<rect x="306.6" y="323.7" width="32.5" height="32.5" fill="rgb(0,0,204)"/>
<rect x="338.7" y="323.7" width="32.5" height="32.5" fill="rgb(0,0,203)"/>
<rect x="370.8" y="323.7" width="32.5" height="32.5" fill="rgb(0,0,202)"/>
<rect x="402.9" y="323.7" width="32.5" height="32.5" fill="rgb(0,0,201)"/>
<rect x="435.1" y="323.7" width="32.5" height="32.5" fill="rgb(0,0,197)"/>
<rect x="467.2" y="323.7" width="32.5" height="32.5" fill="rgb(0,0,191)"/>
<rect x="499.3" y="323.7" width="32.5" height="32.5" fill="rgb(0,0,197)"/>
<rect x="531.4" y="323.7" width="32.5" height="32.5" fill="rgb(0,0,201)"/>
<rect x="563.5" y="323.7" width="32.5" height="32.5" fill="rgb(0,0,202)"/>
<rect x="595.6" y="323.7" width="32.5" height="32.5" fill="rgb(0,0,203)"/>
<rect x="627.7" y="323.7" width="32.5" height="32.5" fill="rgb(0,0,204)"/>
<rect x="659.9" y="323.7" width="32.5" height="32.5" fill="rgb(0,0,204)"/>
<rect x="692" y="323.7" width="32.5" height="32.5" fill="rgb(0,0,204)"/>
<rect x="724.1" y="323.7" width="32.5" height="32.5" fill="rgb(0,0,204)"/>
<rect x="756.2" y="323.7" width="32.5" height="32.5" fill="rgb(0,0,204)"/>
<rect x="788.3" y="323.7" width="62.5" height="32.5" fill="rgb(0,0,204)"/>
<rect x="83.9" y="291.6" width="62.5" height="32.5" fill="rgb(0,0,249)"/>
<rect x="146" y="291.6" width="32.5" height="32.5" fill="rgb(0,0,204)"/>
<rect x="178.1" y="291.6" width="32.5" height="32.5" fill="rgb(0,0,204)"/>
<rect x="210.2" y="291.6" width="32.5" height="32.5" fill="rgb(0,0,204)"/>
<rect x="242.4" y="291.6" width="32.5" height="32.5" fill="rgb(0,0,204)"/>
<rect x="274.5" y="291.6" width="32.5" height="32.5" fill="rgb(0,0,204)"/>
<rect x="306.6" y="291.6" width="32.5" height="32.5" fill="rgb(0,0,204)"/>
<rect x="338.7" y="291.6" width="32.5" height="32.5" fill="rgb(0,0,204)"/>
<rect x="370.8" y="291.6" width="32.5" height="32.5" fill="rgb(0,0,203)"/>
<rect x="402.9" y="291.6" width="32.5" height="32.5" fill="rgb(0,0,202)"/>
<rect x="435.1" y="291.6" width="32.5" height="32.5" fill="rgb(0,0,201)"/>
<rect x="467.2" y="291.6" width="32.5" height="32.5" fill="rgb(0,0,197)"/>
<rect x="499.3" y="291.6" width="32.5" height="32.5" fill="rgb(0,0,191)"/>
<rect x="531.4" y="291.6" width="32.5" height="32.5" fill="rgb(0,0,197)"/>
<rect x="563.5" y="291.6" width="32.5" height="32.5" fill="rgb(0,0,201)"/>
<rect x="595.6" y="291.6" width="32.5" height="32.5" fill="rgb(0,0,202)"/>
<rect x="627.7" y="291.6" width="32.5" height="32.5" fill="rgb(0,0,203)"/>
<rect x="659.9" y="291.6" width="32.5" height="32.5" fill="rgb(0,0,204)"/>
<rect x="692" y="291.6" width="32.5" height="32.5" fill="rgb(0,0,204)"/>
<rect x="724.1" y="291.6" width="32.5" height="32.5" fill="rgb(0,0,204)"/>
<rect x="756.2" y="291.6" width="32.5" height="32.5" fill="rgb(0,0,204)"/>
<rect x="788.3" y="291.6" width="62.5" height="32.5" fill="rgb(0,0,204)"/>
<rect x="83.9" y="259.5" width="62.5" height="32.5" fill="rgb(0,0,249)"/>
<rect x="146" y="259.5" width="32.5" height="32.5" fill="rgb(0,0,204)"/>
<rect x="178.1" y="259.5" width="32.5" height="32.5" fill="rgb(0,0,204)"/>
<rect x="210.2" y="259.5" width="32.5" height="32.5" fill="rgb(0,0,204)"/>
<rect x="242.4" y="259.5" width="32.5" height="32.5" fill="rgb(0,0,204)"/>
<rect x="274.5" y="259.5" width="32.5" height="32.5" fill="rgb(0,0,204)"/>
<rect x="306.6" y="259.5" width="32.5" height="32.5" fill="rgb(0,0,204)"/>
<rect x="338.7" y="259.5" width="32.5" height="32.5" fill="rgb(0,0,204)"/>
<rect x="370.8" y="259.5" width="32.5" height="32.5" fill="rgb(0,0,204)"/>
<rect x="402.9" y="259.5" width="32.5" height="32.5" fill="rgb(0,0,203)"/>
<rect x="435.1" y="259.5" width="32.5" height="32.5" fill="rgb(0,0,202)"/>
<rect x="467.2" y="259.5" width="32.5" height="32.5" fill="rgb(0,0,201)"/>
<rect x="499.3" y="259.5" width="32.5" height="32.5" fill="rgb(0,0,197)"/>
<rect x="531.4" y="259.5" width="32.5" height="32.5" fill="rgb(0,0,191)"/>
<rect x="563.5" y="259.5" width="32.5" height="32.5" fill="rgb(0,0,197)"/>
<rect x="595.6" y="259.5" width="32.5" height="32.5" fill="rgb(0,0,201)"/>
<rect x="627.7" y="259.5" width="32.5" height="32.5" fill="rgb(0,0,202)"/>
<rect x="659.9" y="259.5" width="32.5" height="32.5" fill="rgb(0,0,203)"/>
<rect x="692" y="259.5" width="32.5" height="32.5" fill="rgb(0,0,204)"/>
<rect x="724.1" y="259.5" width="32.5" height="32.5" fill="rgb(0,0,204)"/>
<rect x="756.2" y="259.5" width="32.5" height="32.5" fill="rgb(0,0,204)"/>
<rect x="788.3" y="259.5" width="62.5" height="32.5" fill="rgb(0,0,204)"/>
<rect x="83.9" y="227.4" width="62.5" height="32.5" fill="rgb(0,0,249)"/>
<rect x="146" y="227.4" width="32.5" height="32.5" fill="rgb(0,0,204)"/>
<rect x="178.1" y="227.4" width="32.5" height="32.5" fill="rgb(0,0,204)"/>
<rect x="210.2" y="227.4" width="32.5" height="32.5" fill="rgb(0,0,204)"/>
<rect x="242.4" y="227.4" width="32.5" height="32.5" fill="rgb(0,0,204)"/>
<rect x="274.5" y="227.4" width="32.5" height="32.5" fill="rgb(0,0,204)"/>
<rect x="306.6" y="227.4" width="32.5" height="32.5" fill="rgb(0,0,204)"/>
<rect x="338.7" y="227.4" width="32.5" height="32.5" fill="rgb(0,0,204)"/>
<rect x="370.8" y="227.4" width="32.5" height="32.5" fill="rgb(0,0,204)"/>
<rect x="402.9" y="227.4" width="32.5" height="32.5" fill="rgb(0,0,204)"/>
<rect x="435.1" y="227.4" width="32.5" height="32.5" fill="rgb(0,0,203)"/>
<rect x="467.2" y="227.4" width="32.5" height="32.5" fill="rgb(0,0,202)"/>
<rect x="499.3" y="227.4" width="32.5" height="32.5" fill="rgb(0,0,201)"/>
<rect x="531.4" y="227.4" width="32.5" height="32.5" fill="rgb(0,0,197)"/>
<rect x="563.5" y="227.4" width="32.5" height="32.5" fill="rgb(0,0,191)"/>
<rect x="595.6" y="227.4" width="32.5" height="32.5" fill="rgb(0,0,197)"/>
<rect x="627.7" y="227.4" width="32.5" height="32.5" fill="rgb(0,0,201)"/>
<rect x="659.9" y="227.4" width="32.5" height="32.5" fill="rgb(0,0,202)"/>
<rect x="692" y="227.4" width="32.5" height="32.5" fill="rgb(0,0,203)"/>
<rect x="724.1" y="227.4" width="32.5" height="32.5" fill="rgb(0,0,204)"/>
<rect x="756.2" y="227.4" width="32.5" height="32.5" fill="rgb(0,0,204)"/>
<rect x="788.3" y="227.4" width="62.5" height="32.5" fill="rgb(0,0,204)"/>
<rect x="83.9" y="195.3" width="62.5" height="32.5" fill="rgb(0,0,249)"/>
<rect x="146" y="195.3" width="32.5" height="32.5" fill="rgb(0,0,204)"/>
<rect x="178.1" y="195.3" width="32.5" height="32.5" fill="rgb(0,0,204)"/>
<rect x="210.2" y="195.3" width="32.5" height="32.5" fill="rgb(0,0,204)"/>
<rect x="242.4" y="195.3" width="32.5" height="32.5" fill="rgb(0,0,204)"/>
<rect x="274.5" y="195.3" width="32.5" height="32.5" fill="rgb(0,0,204)"/>
<rect x="306.6" y="195.3" width="32.5" height="32.5" fill="rgb(0,0,204)"/>
<rect x="338.7" y="195.3" width="32.5" height="32.5" fill="rgb(0,0,204)"/>
<rect x="370.8" y="195.3" width="32.5" height="32.5" fill="rgb(0,0,204)"/>
<rect x="402.9" y="195.3" width="32.5" height="32.5" fill="rgb(0,0,204)"/>
<rect x="435.1" y="195.3" width="32.5" height="32.5" fill="rgb(0,0,204)"/>
<rect x="467.2" y="195.3" width="32.5" height="32.5" fill="rgb(0,0,203)"/>
<rect x="499.3" y="195.3" width="32.5" height="32.5" fill="rgb(0,0,202)"/>
<rect x="531.4" y="195.3" width="32.5" height="32.5" fill="rgb(0,0,201)"/>
<rect x="563.5" y="195.3" width="32.5" height="32.5" fill="rgb(0,0,197)"/>
<rect x="595.6" y="195.3" width="32.5" height="32.5" fill="rgb(0,0,191)"/>
<rect x="627.7" y="195.3" width="32.5" height="32.5" fill="rgb(0,0,197)"/>
<rect x="659.9" y="195.3" width="32.5" height="32.5" fill="rgb(0,0,201)"/>
<rect x="692" y="195.3" width="32.5" height="32.5" fill="rgb(0,0,202)"/>
<rect x="724.1" y="195.3" width="32.5" height="32.5" fill="rgb(0,0,203)"/>
<rect x="756.2" y="195.3" width="32.5" height="32.5" fill="rgb(0,0,204)"/>
<rect x="788.3" y="195.3" width="62.5" height="32.5" fill="rgb(0,0,204)"/>
<rect x="83.9" y="163.1" width="62.5" height="32.5" fill="rgb(0,0,249)"/>
<rect x="146" y="163.1" width="32.5" height="32.5" fill="rgb(0,0,204)"/>
<rect x="178.1" y="163.1" width="32.5" height="32.5" fill="rgb(0,0,204)"/>
<rect x="210.2" y="163.1" width="32.5" height="32.5" fill="rgb(0,0,204)"/>
<rect x="242.4" y="163.1" width="32.5" height="32.5" fill="rgb(0,0,204)"/>
<rect x="274.5" y="163.1" width="32.5" height="32.5" fill="rgb(0,0,204)"/>
<rect x="306.6" y="163.1" width="32.5" height="32.5" fill="rgb(0,0,204)"/>
<rect x="338.7" y="163.1" width="32.5" height="32.5" fill="rgb(0,0,204)"/>
<rect x="370.8" y="163.1" width="32.5" height="32.5" fill="rgb(0,0,204)"/>
<rect x="402.9" y="163.1" width="32.5" height="32.5" fill="rgb(0,0,204)"/>
<rect x="435.1" y="163.1" width="32.5" height="32.5" fill="rgb(0,0,204)"/>
<rect x="467.2" y="163.1" width="32.5" height="32.5" fill="rgb(0,0,204)"/>
<rect x="499.3" y="163.1" width="32.5" height="32.5" fill="rgb(0,0,203)"/>
<rect x="531.4" y="163.1" width="32.5" height="32.5" fill="rgb(0,0,202)"/>
<rect x="563.5" y="163.1" width="32.5" height="32.5" fill="rgb(0,0,201)"/>
<rect x="595.6" y="163.1" width="32.5" height="32.5" fill="rgb(0,0,197)"/>
<rect x="627.7" y="163.1" width="32.5" height="32.5" fill="rgb(0,0,191)"/>
<rect x="659.9" y="163.1" width="32.5" height="32.5" fill="rgb(0,0,197)"/>
<rect x="692" y="163.1" width="32.5" height="32.5" fill="rgb(0,0,201)"/>
<rect x="724.1" y="163.1" width="32.5" height="32.5" fill="rgb(0,0,202)"/>
<rect x="756.2" y="163.1" width="32.5" height="32.5" fill="rgb(0,0,203)"/>
<rect x="788.3" y="163.1" width="62.5" height="32.5" fill="rgb(0,0,204)"/>
<rect x="83.9" y="131" width="62.5" height="32.5" fill="rgb(0,0,249)"/>
<rect x="146" y="131" width="32.5" height="32.5" fill="rgb(0,0,204)"/>
<rect x="178.1" y="131" width="32.5" height="32.5" fill="rgb(0,0,204)"/>
<rect x="210.2" y="131" width="32.5" height="32.5" fill="rgb(0,0,204)"/>
<rect x="242.4" y="131" width="32.5" height="32.5" fill="rgb(0,0,204)"/>
<rect x="274.5" y="131" width="32.5" height="32.5" fill="rgb(0,0,204)"/>
<rect x="306.6" y="131" width="32.5" height="32.5" fill="rgb(0,0,204)"/>
<rect x="338.7" y="131" width="32.5" height="32.5" fill="rgb(0,0,204)"/>
<rect x="370.8" y="131" width="32.5" height="32.5" fill="rgb(0,0,204)"/>
<rect x="402.9" y="131" width="32.5" height="32.5" fill="rgb(0,0,204)"/>
<rect x="435.1" y="131" width="32.5" height="32.5" fill="rgb(0,0,204)"/>
<rect x="467.2" y="131" width="32.5" height="32.5" fill="rgb(0,0,204)"/>
<rect x="499.3" y="131" width="32.5" height="32.5" fill="rgb(0,0,204)"/>
<rect x="531.4" y="131" width="32.5" height="32.5" fill="rgb(0,0,203)"/>
<rect x="563.5" y="131" width="32.5" height="32.5" fill="rgb(0,0,202)"/>
<rect x="595.6" y="131" width="32.5" height="32.5" fill="rgb(0,0,201)"/>
<rect x="627.7" y="131" width="32.5" height="32.5" fill="rgb(0,0,197)"/>
<rect x="659.9" y="131" width="32.5" height="32.5" fill="rgb(0,0,191)"/>
<rect x="692" y="131" width="32.5" height="32.5" fill="rgb(0,0,197)"/>
<rect x="724.1" y="131" width="32.5" height="32.5" fill="rgb(0,0,201)"/>
<rect x="756.2" y="131" width="32.5" height="32.5" fill="rgb(0,0,202)"/>
<rect x="788.3" y="131" width="62.5" height="32.5" fill="rgb(0,0,203)"/>
<rect x="83.9" y="98.9" width="62.5" height="32.5" fill="rgb(0,0,249)"/>
<rect x="146" y="98.9" width="32.5" height="32.5" fill="rgb(0,0,204)"/>
<rect x="178.1" y="98.9" width="32.5" height="32.5" fill="rgb(0,0,204)"/>
<rect x="210.2" y="98.9" width="32.5" height="32.5" fill="rgb(0,0,204)"/>
<rect x="242.4" y="98.9" width="32.5" height="32.5" fill="rgb(0,0,204)"/>
<rect x="274.5" y="98.9" width="32.5" height="32.5" fill="rgb(0,0,204)"/>
<rect x="306.6" y="98.9" width="32.5" height="32.5" fill="rgb(0,0,204)"/>
<rect x="338.7" y="98.9" width="32.5" height="32.5" fill="rgb(0,0,204)"/>
<rect x="370.8" y="98.9" width="32.5" height="32.5" fill="rgb(0,0,204)"/>
<rect x="402.9" y="98.9" width="32.5" height="32.5" fill="rgb(0,0,204)"/>
<rect x="435.1" y="98.9" width="32.5" height="32.5" fill="rgb(0,0,204)"/>
<rect x="467.2" y="98.9" width="32.5" height="32.5" fill="rgb(0,0,204)"/>
<rect x="499.3" y="98.9" width="32.5" height="32.5" fill="rgb(0,0,204)"/>
<rect x="531.4" y="98.9" width="32.5" height="32.5" fill="rgb(0,0,204)"/>
<rect x="563.5" y="98.9" width="32.5" height="32.5" fill="rgb(0,0,203)"/>
<rect x="595.6" y="98.9" width="32.5" height="32.5" fill="rgb(0,0,202)"/>
<rect x="627.7" y="98.9" width="32.5" height="32.5" fill="rgb(0,0,201)"/>
<rect x="659.9" y="98.9" width="32.5" height="32.5" fill="rgb(0,0,197)"/>
<rect x="692" y="98.9" width="32.5" height="32.5" fill="rgb(0,0,191)"/>
<rect x="724.1" y="98.9" width="32.5" height="32.5" fill="rgb(0,0,197)"/>
<rect x="756.2" y="98.9" width="32.5" height="32.5" fill="rgb(0,0,201)"/>
<rect x="788.3" y="98.9" width="62.5" height="32.5" fill="rgb(0,0,202)"/>
<rect x="83.9" y="66.8" width="62.5" height="32.5" fill="rgb(0,0,249)"/>
<rect x="146" y="66.8" width="32.5" height="32.5" fill="rgb(0,0,204)"/>
<rect x="178.1" y="66.8" width="32.5" height="32.5" fill="rgb(0,0,204)"/>
<rect x="210.2" y="66.8" width="32.5" height="32.5" fill="rgb(0,0,204)"/>
<rect x="242.4" y="66.8" width="32.5" height="32.5" fill="rgb(0,0,204)"/>
<rect x="274.5" y="66.8" width="32.5" height="32.5" fill="rgb(0,0,204)"/>
<rect x="306.6" y="66.8" width="32.5" height="32.5" fill="rgb(0,0,204)"/>
<rect x="338.7" y="66.8" width="32.5" height="32.5" fill="rgb(0,0,204)"/>
<rect x="370.8" y="66.8" width="32.5" height="32.5" fill="rgb(0,0,204)"/>
<rect x="402.9" y="66.8" width="32.5" height="32.5" fill="rgb(0,0,204)"/>
<rect x="435.1" y="66.8" width="32.5" height="32.5" fill="rgb(0,0,204)"/>
<rect x="467.2" y="66.8" width="32.5" height="32.5" fill="rgb(0,0,204)"/>
<rect x="499.3" y="66.8" width="32.5" height="32.5" fill="rgb(0,0,204)"/>
<rect x="531.4" y="66.8" width="32.5" height="32.5" fill="rgb(0,0,204)"/>
<rect x="563.5" y="66.8" width="32.5" height="32.5" fill="rgb(0,0,204)"/>
<rect x="595.6" y="66.8" width="32.5" height="32.5" fill="rgb(0,0,203)"/>
<rect x="627.7" y="66.8" width="32.5" height="32.5" fill="rgb(0,0,202)"/>
<rect x="659.9" y="66.8" width="32.5" height="32.5" fill="rgb(0,0,201)"/>
<rect x="692" y="66.8" width="32.5" height="32.5" fill="rgb(0,0,197)"/>
<rect x="724.1" y="66.8" width="32.5" height="32.5" fill="rgb(0,0,191)"/>
<rect x="756.2" y="66.8" width="32.5" height="32.5" fill="rgb(0,0,197)"/>
<rect x="788.3" y="66.8" width="62.5" height="32.5" fill="rgb(0,0,201)"/>
<rect x="83.9" y="34.7" width="62.5" height="32.5" fill="rgb(0,0,249)"/>
<rect x="146" y="34.7" width="32.5" height="32.5" fill="rgb(0,0,204)"/>
<rect x="178.1" y="34.7" width="32.5" height="32.5" fill="rgb(0,0,204)"/>
<rect x="210.2" y="34.7" width="32.5" height="32.5" fill="rgb(0,0,204)"/>
<rect x="242.4" y="34.7" width="32.5" height="32.5" fill="rgb(0,0,204)"/>
<rect x="274.5" y="34.7" width="32.5" height="32.5" fill="rgb(0,0,204)"/>
<rect x="306.6" y="34.7" width="32.5" height="32.5" fill="rgb(0,0,204)"/>
<rect x="338.7" y="34.7" width="32.5" height="32.5" fill="rgb(0,0,204)"/>
<rect x="370.8" y="34.7" width="32.5" height="32.5" fill="rgb(0,0,204)"/>
<rect x="402.9" y="34.7" width="32.5" height="32.5" fill="rgb(0,0,204)"/>
<rect x="435.1" y="34.7" width="32.5" height="32.5" fill="rgb(0,0,204)"/>
<rect x="467.2" y="34.7" width="32.5" height="32.5" fill="rgb(0,0,204)"/>
<rect x="499.3" y="34.7" width="32.5" height="32.5" fill="rgb(0,0,204)"/>
<rect x="531.4" y="34.7" width="32.5" height="32.5" fill="rgb(0,0,204)"/>
<rect x="563.5" y="34.7" width="32.5" height="32.5" fill="rgb(0,0,204)"/>
<rect x="595.6" y="34.7" width="32.5" height="32.5" fill="rgb(0,0,204)"/>
<rect x="627.7" y="34.7" width="32.5" height="32.5" fill="rgb(0,0,203)"/>
<rect x="659.9" y="34.7" width="32.5" height="32.5" fill="rgb(0,0,202)"/>
<rect x="692" y="34.7" width="32.5" height="32.5" fill="rgb(0,0,201)"/>
<rect x="724.1" y="34.7" width="32.5" height="32.5" fill="rgb(0,0,197)"/>
<rect x="756.2" y="34.7" width="32.5" height="32.5" fill="rgb(0,0,191)"/>
<rect x="788.3" y="34.7" width="62.5" height="32.5" fill="rgb(0,0,197)"/>
<rect x="83.9" y="-27.4" width="62.5" height="62.5" fill="rgb(0,0,249)"/>
<rect x="146" y="-27.4" width="32.5" height="62.5" fill="rgb(0,0,204)"/>
<rect x="178.1" y="-27.4" width="32.5" height="62.5" fill="rgb(0,0,204)"/>
<rect x="210.2" y="-27.4" width="32.5" height="62.5" fill="rgb(0,0,204)"/>
<rect x="242.4" y="-27.4" width="32.5" height="62.5" fill="rgb(0,0,204)"/>
<rect x="274.5" y="-27.4" width="32.5" height="62.5" fill="rgb(0,0,204)"/>
<rect x="306.6" y="-27.4" width="32.5" height="62.5" fill="rgb(0,0,204)"/>
<rect x="338.7" y="-27.4" width="32.5" height="62.5" fill="rgb(0,0,204)"/>
<rect x="370.8" y="-27.4" width="32.5" height="62.5" fill="rgb(0,0,204)"/>
<rect x="402.9" y="-27.4" width="32.5" height="62.5" fill="rgb(0,0,204)"/>
<rect x="435.1" y="-27.4" width="32.5" height="62.5" fill="rgb(0,0,204)"/>
<rect x="467.2" y="-27.4" width="32.5" height="62.5" fill="rgb(0,0,204)"/>
<rect x="499.3" y="-27.4" width="32.5" height="62.5" fill="rgb(0,0,204)"/>
<rect x="531.4" y="-27.4" width="32.5" height="62.5" fill="rgb(0,0,204)"/>
<rect x="563.5" y="-27.4" width="32.5" height="62.5" fill="rgb(0,0,204)"/>
<rect x="595.6" y="-27.4" width="32.5" height="62.5" fill="rgb(0,0,204)"/>
<rect x="627.7" y="-27.4" width="32.5" height="62.5" fill="rgb(0,0,204)"/>
<rect x="659.9" y="-27.4" width="32.5" height="62.5" fill="rgb(0,0,203)"/>
<rect x="692" y="-27.4" width="32.5" height="62.5" fill="rgb(0,0,202)"/>
<rect x="724.1" y="-27.4" width="32.5" height="62.5" fill="rgb(0,0,201)"/>
<rect x="756.2" y="-27.4" width="32.5" height="62.5" fill="rgb(0,0,197)"/>
<rect x="788.3" y="-27.4" width="62.5" height="62.5" fill="rgb(0,0,191)"/>
</g>
</g>
<g style="mix-blend-mode:lighten">
<rect x="83.9" y="677" width="62.5" height="62.5" fill="rgb(0,130,0)"/>
<rect x="146" y="677" width="32.5" height="62.5" fill="rgb(0,158,0)"/>
<rect x="178.1" y="677" width="32.5" height="62.5" fill="rgb(0,139,0)"/>
<rect x="210.2" y="677" width="32.5" height="62.5" fill="rgb(0,118,0)"/>
<rect x="242.4" y="677" width="32.5" height="62.5" fill="rgb(0,139,0)"/>
<rect x="274.5" y="677" width="32.5" height="62.5" fill="rgb(0,163,0)"/>
<rect x="306.6" y="677" width="32.5" height="62.5" fill="rgb(0,87,0)"/>
<rect x="338.7" y="677" width="32.5" height="62.5" fill="rgb(0,74,0)"/>
<rect x="370.8" y="677" width="32.5" height="62.5" fill="rgb(0,59,0)"/>
<rect x="402.9" y="677" width="32.5" height="62.5" fill="rgb(0,98,0)"/>
<rect x="435.1" y="677" width="32.5" height="62.5" fill="rgb(0,150,0)"/>
<rect x="467.2" y="677" width="32.5" height="62.5" fill="rgb(0,112,0)"/>
<rect x="499.3" y="677" width="32.5" height="62.5" fill="rgb(0,126,0)"/>
<rect x="531.4" y="677" width="32.5" height="62.5" fill="rgb(0,131,0)"/>
<rect x="563.5" y="677" width="32.5" height="62.5" fill="rgb(0,167,0)"/>
<rect x="595.6" y="677" width="32.5" height="62.5" fill="rgb(0,149,0)"/>
<rect x="627.7" y="677" width="32.5" height="62.5" fill="rgb(0,138,0)"/>
<rect x="659.9" y="677" width="32.5" height="62.5" fill="rgb(0,119,0)"/>
<rect x="692" y="677" width="32.5" height="62.5" fill="rgb(0,164,0)"/>
<rect x="724.1" y="677" width="32.5" height="62.5" fill="rgb(0,152,0)"/>
<rect x="756.2" y="677" width="32.5" height="62.5" fill="rgb(0,138,0)"/>
<rect x="788.3" y="677" width="62.5" height="62.5" fill="rgb(0,134,0)"/>
<rect x="83.9" y="644.9" width="62.5" height="32.5" fill="rgb(0,158,0)"/>
<rect x="146" y="644.9" width="32.5" height="32.5" fill="rgb(0,164,0)"/>
<rect x="178.1" y="644.9" width="32.5" height="32.5" fill="rgb(0,152,0)"/>
<rect x="210.2" y="644.9" width="32.5" height="32.5" fill="rgb(0,150,0)"/>
<rect x="242.4" y="644.9" width="32.5" height="32.5" fill="rgb(0,146,0)"/>
<rect x="274.5" y="644.9" width="32.5" height="32.5" fill="rgb(0,140,0)"/>
<rect x="306.6" y="644.9" width="32.5" height="32.5" fill="rgb(0,103,0)"/>
<rect x="338.7" y="644.9" width="32.5" height="32.5" fill="rgb(0,105,0)"/>
<rect x="370.8" y="644.9" width="32.5" height="32.5" fill="rgb(0,108,0)"/>
<rect x="402.9" y="644.9" width="32.5" height="32.5" fill="rgb(0,100,0)"/>
<rect x="435.1" y="644.9" width="32.5" height="32.5" fill="rgb(0,142,0)"/>
<rect x="467.2" y="644.9" width="32.5" height="32.5" fill="rgb(0,149,0)"/>
<rect x="499.3" y="644.9" width="32.5" height="32.5" fill="rgb(0,154,0)"/>
<rect x="531.4" y="644.9" width="32.5" height="32.5" fill="rgb(0,153,0)"/>
<rect x="563.5" y="644.9" width="32.5" height="32.5" fill="rgb(0,145,0)"/>
<rect x="595.6" y="644.9" width="32.5" height="32.5" fill="rgb(0,149,0)"/>
<rect x="627.7" y="644.9" width="32.5" height="32.5" fill="rgb(0,151,0)"/>
<rect x="659.9" y="644.9" width="32.5" height="32.5" fill="rgb(0,155,0)"/>
<rect x="692" y="644.9" width="32.5" height="32.5" fill="rgb(0,146,0)"/>
<rect x="724.1" y="644.9" width="32.5" height="32.5" fill="rgb(0,148,0)"/>
<rect x="756.2" y="644.9" width="32.5" height="32.5" fill="rgb(0,151,0)"/>
<rect x="788.3" y="644.9" width="62.5" height="32.5" fill="rgb(0,152,0)"/>
<rect x="83.9" y="612.8" width="62.5" height="32.5" fill="rgb(0,139,0)"/>
<rect x="146" y="612.8" width="32.5" height="32.5" fill="rgb(0,152,0)"/>
<rect x="178.1" y="612.8" width="32.5" height="32.5" fill="rgb(0,164,0)"/>
<rect x="210.2" y="612.8" width="32.5" height="32.5" fill="rgb(0,147,0)"/>
<rect x="242.4" y="612.8" width="32.5" height="32.5" fill="rgb(0,147,0)"/>
<rect x="274.5" y="612.8" width="32.5" height="32.5" fill="rgb(0,148,0)"/>
<rect x="306.6" y="612.8" width="32.5" height="32.5" fill="rgb(0,99,0)"/>
<rect x="338.7" y="612.8" width="32.5" height="32.5" fill="rgb(0,96,0)"/>
<rect x="370.8" y="612.8" width="32.5" height="32.5" fill="rgb(0,93,0)"/>
<rect x="402.9" y="612.8" width="32.5" height="32.5" fill="rgb(0,100,0)"/>
<rect x="435.1" y="612.8" width="32.5" height="32.5" fill="rgb(0,155,0)"/>
<rect x="467.2" y="612.8" width="32.5" height="32.5" fill="rgb(0,149,0)"/>
<rect x="499.3" y="612.8" width="32.5" height="32.5" fill="rgb(0,145,0)"/>
<rect x="531.4" y="612.8" width="32.5" height="32.5" fill="rgb(0,146,0)"/>
<rect x="563.5" y="612.8" width="32.5" height="32.5" fill="rgb(0,152,0)"/>
<rect x="595.6" y="612.8" width="32.5" height="32.5" fill="rgb(0,149,0)"/>
<rect x="627.7" y="612.8" width="32.5" height="32.5" fill="rgb(0,147,0)"/>
<rect x="659.9" y="612.8" width="32.5" height="32.5" fill="rgb(0,144,0)"/>
<rect x="692" y="612.8" width="32.5" height="32.5" fill="rgb(0,152,0)"/>
<rect x="724.1" y="612.8" width="32.5" height="32.5" fill="rgb(0,149,0)"/>
<rect x="756.2" y="612.8" width="32.5" height="32.5" fill="rgb(0,147,0)"/>
<rect x="788.3" y="612.8" width="62.5" height="32.5" fill="rgb(0,146,0)"/>
<rect x="83.9" y="580.6" width="62.5" height="32.5" fill="rgb(0,118,0)"/>
<rect x="146" y="580.6" width="32.5" height="32.5" fill="rgb(0,150,0)"/>
<rect x="178.1" y="580.6" width="32.5" height="32.5" fill="rgb(0,147,0)"/>
<rect x="210.2" y="580.6" width="32.5" height="32.5" fill="rgb(0,149,0)"/>
<rect x="242.4" y="580.6" width="32.5" height="32.5" fill="rgb(0,151,0)"/>
<rect x="274.5" y="580.6" width="32.5" height="32.5" fill="rgb(0,161,0)"/>
<rect x="306.6" y="580.6" width="32.5" height="32.5" fill="rgb(0,93,0)"/>
<rect x="338.7" y="580.6" width="32.5" height="32.5" fill="rgb(0,83,0)"/>
<rect x="370.8" y="580.6" width="32.5" height="32.5" fill="rgb(0,72,0)"/>
<rect x="402.9" y="580.6" width="32.5" height="32.5" fill="rgb(0,99,0)"/>
<rect x="435.1" y="580.6" width="32.5" height="32.5" fill="rgb(0,143,0)"/>
<rect x="467.2" y="580.6" width="32.5" height="32.5" fill="rgb(0,117,0)"/>
<rect x="499.3" y="580.6" width="32.5" height="32.5" fill="rgb(0,103,0)"/>
<rect x="531.4" y="580.6" width="32.5" height="32.5" fill="rgb(0,106,0)"/>
<rect x="563.5" y="580.6" width="32.5" height="32.5" fill="rgb(0,131,0)"/>
<rect x="595.6" y="580.6" width="32.5" height="32.5" fill="rgb(0,149,0)"/>
<rect x="627.7" y="580.6" width="32.5" height="32.5" fill="rgb(0,142,0)"/>
<rect x="659.9" y="580.6" width="32.5" height="32.5" fill="rgb(0,128,0)"/>
<rect x="692" y="580.6" width="32.5" height="32.5" fill="rgb(0,160,0)"/>
<rect x="724.1" y="580.6" width="32.5" height="32.5" fill="rgb(0,151,0)"/>
<rect x="756.2" y="580.6" width="32.5" height="32.5" fill="rgb(0,141,0)"/>
<rect x="788.3" y="580.6" width="62.5" height="32.5" fill="rgb(0,138,0)"/>
<rect x="83.9" y="548.5" width="62.5" height="32.5" fill="rgb(0,139,0)"/>
<rect x="146" y="548.5" width="32.5" height="32.5" fill="rgb(0,146,0)"/>
<rect x="178.1" y="548.5" width="32.5" height="32.5" fill="rgb(0,147,0)"/>
<rect x="210.2" y="548.5" width="32.5" height="32.5" fill="rgb(0,151,0)"/>
<rect x="242.4" y="548.5" width="32.5" height="32.5" fill="rgb(0,198,0)"/>
<rect x="274.5" y="548.5" width="32.5" height="32.5" fill="rgb(0,187,0)"/>
<rect x="306.6" y="548.5" width="32.5" height="32.5" fill="rgb(0,177,0)"/>
<rect x="338.7" y="548.5" width="32.5" height="32.5" fill="rgb(0,172,0)"/>
<rect x="370.8" y="548.5" width="32.5" height="32.5" fill="rgb(0,169,0)"/>
<rect x="402.9" y="548.5" width="32.5" height="32.5" fill="rgb(0,174,0)"/>
<rect x="435.1" y="548.5" width="32.5" height="32.5" fill="rgb(0,154,0)"/>
<rect x="467.2" y="548.5" width="32.5" height="32.5" fill="rgb(0,149,0)"/>
<rect x="499.3" y="548.5" width="32.5" height="32.5" fill="rgb(0,146,0)"/>
<rect x="531.4" y="548.5" width="32.5" height="32.5" fill="rgb(0,147,0)"/>
<rect x="563.5" y="548.5" width="32.5" height="32.5" fill="rgb(0,151,0)"/>
<rect x="595.6" y="548.5" width="32.5" height="32.5" fill="rgb(0,149,0)"/>
<rect x="627.7" y="548.5" width="32.5" height="32.5" fill="rgb(0,148,0)"/>
<rect x="659.9" y="548.5" width="32.5" height="32.5" fill="rgb(0,145,0)"/>
<rect x="692" y="548.5" width="32.5" height="32.5" fill="rgb(0,151,0)"/>
<rect x="724.1" y="548.5" width="32.5" height="32.5" fill="rgb(0,149,0)"/>
<rect x="756.2" y="548.5" width="32.5" height="32.5" fill="rgb(0,148,0)"/>
<rect x="788.3" y="548.5" width="62.5" height="32.5" fill="rgb(0,147,0)"/>
<rect x="83.9" y="516.4" width="62.5" height="32.5" fill="rgb(0,163,0)"/>
<rect x="146" y="516.4" width="32.5" height="32.5" fill="rgb(0,140,0)"/>
<rect x="178.1" y="516.4" width="32.5" height="32.5" fill="rgb(0,148,0)"/>
<rect x="210.2" y="516.4" width="32.5" height="32.5" fill="rgb(0,161,0)"/>
<rect x="242.4" y="516.4" width="32.5" height="32.5" fill="rgb(0,187,0)"/>
<rect x="274.5" y="516.4" width="32.5" height="32.5" fill="rgb(0,188,0)"/>
<rect x="306.6" y="516.4" width="32.5" height="32.5" fill="rgb(0,192,0)"/>
<rect x="338.7" y="516.4" width="32.5" height="32.5" fill="rgb(0,193,0)"/>
<rect x="370.8" y="516.4" width="32.5" height="32.5" fill="rgb(0,198,0)"/>
<rect x="402.9" y="516.4" width="32.5" height="32.5" fill="rgb(0,175,0)"/>
<rect x="435.1" y="516.4" width="32.5" height="32.5" fill="rgb(0,123,0)"/>
<rect x="467.2" y="516.4" width="32.5" height="32.5" fill="rgb(0,144,0)"/>
<rect x="499.3" y="516.4" width="32.5" height="32.5" fill="rgb(0,156,0)"/>
<rect x="531.4" y="516.4" width="32.5" height="32.5" fill="rgb(0,153,0)"/>
<rect x="563.5" y="516.4" width="32.5" height="32.5" fill="rgb(0,133,0)"/>
<rect x="595.6" y="516.4" width="32.5" height="32.5" fill="rgb(0,143,0)"/>
<rect x="627.7" y="516.4" width="32.5" height="32.5" fill="rgb(0,149,0)"/>
<rect x="659.9" y="516.4" width="32.5" height="32.5" fill="rgb(0,159,0)"/>
<rect x="692" y="516.4" width="32.5" height="32.5" fill="rgb(0,134,0)"/>
<rect x="724.1" y="516.4" width="32.5" height="32.5" fill="rgb(0,141,0)"/>
<rect x="756.2" y="516.4" width="32.5" height="32.5" fill="rgb(0,149,0)"/>
<rect x="788.3" y="516.4" width="62.5" height="32.5" fill="rgb(0,151,0)"/>
<rect x="83.9" y="484.3" width="62.5" height="32.5" fill="rgb(0,87,0)"/>
<rect x="146" y="484.3" width="32.5" height="32.5" fill="rgb(0,103,0)"/>
<rect x="178.1" y="484.3" width="32.5" height="32.5" fill="rgb(0,99,0)"/>
<rect x="210.2" y="484.3" width="32.5" height="32.5" fill="rgb(0,93,0)"/>
<rect x="242.4" y="484.3" width="32.5" height="32.5" fill="rgb(0,177,0)"/>
<rect x="274.5" y="484.3" width="32.5" height="32.5" fill="rgb(0,192,0)"/>
<rect x="306.6" y="484.3" width="32.5" height="32.5" fill="rgb(0,194,0)"/>
<rect x="338.7" y="484.3" width="32.5" height="32.5" fill="rgb(0,175,0)"/>
<rect x="370.8" y="484.3" width="32.5" height="32.5" fill="rgb(0,163,0)"/>
<rect x="402.9" y="484.3" width="32.5" height="32.5" fill="rgb(0,175,0)"/>
<rect x="435.1" y="484.3" width="32.5" height="32.5" fill="rgb(0,151,0)"/>
<rect x="467.2" y="484.3" width="32.5" height="32.5" fill="rgb(0,136,0)"/>
<rect x="499.3" y="484.3" width="32.5" height="32.5" fill="rgb(0,128,0)"/>
<rect x="531.4" y="484.3" width="32.5" height="32.5" fill="rgb(0,130,0)"/>
<rect x="563.5" y="484.3" width="32.5" height="32.5" fill="rgb(0,144,0)"/>
<rect x="595.6" y="484.3" width="32.5" height="32.5" fill="rgb(0,105,0)"/>
<rect x="627.7" y="484.3" width="32.5" height="32.5" fill="rgb(0,101,0)"/>
<rect x="659.9" y="484.3" width="32.5" height="32.5" fill="rgb(0,93,0)"/>
<rect x="692" y="484.3" width="32.5" height="32.5" fill="rgb(0,110,0)"/>
<rect x="724.1" y="484.3" width="32.5" height="32.5" fill="rgb(0,106,0)"/>
<rect x="756.2" y="484.3" width="32.5" height="32.5" fill="rgb(0,100,0)"/>
<rect x="788.3" y="484.3" width="62.5" height="32.5" fill="rgb(0,99,0)"/>
<rect x="83.9" y="452.2" width="62.5" height="32.5" fill="rgb(0,74,0)"/>
<rect x="146" y="452.2" width="32.5" height="32.5" fill="rgb(0,105,0)"/>
<rect x="178.1" y="452.2" width="32.5" height="32.5" fill="rgb(0,96,0)"/>
<rect x="210.2" y="452.2" width="32.5" height="32.5" fill="rgb(0,83,0)"/>
<rect x="242.4" y="452.2" width="32.5" height="32.5" fill="rgb(0,172,0)"/>
<rect x="274.5" y="452.2" width="32.5" height="32.5" fill="rgb(0,193,0)"/>
<rect x="306.6" y="452.2" width="32.5" height="32.5" fill="rgb(0,175,0)"/>
<rect x="338.7" y="452.2" width="32.5" height="32.5" fill="rgb(0,180,0)"/>
<rect x="370.8" y="452.2" width="32.5" height="32.5" fill="rgb(0,154,0)"/>
<rect x="402.9" y="452.2" width="32.5" height="32.5" fill="rgb(0,177,0)"/>
<rect x="435.1" y="452.2" width="32.5" height="32.5" fill="rgb(0,165,0)"/>
<rect x="467.2" y="452.2" width="32.5" height="32.5" fill="rgb(0,136,0)"/>
<rect x="499.3" y="452.2" width="32.5" height="32.5" fill="rgb(0,120,0)"/>
<rect x="531.4" y="452.2" width="32.5" height="32.5" fill="rgb(0,124,0)"/>
<rect x="563.5" y="452.2" width="32.5" height="32.5" fill="rgb(0,150,0)"/>
<rect x="595.6" y="452.2" width="32.5" height="32.5" fill="rgb(0,104,0)"/>
<rect x="627.7" y="452.2" width="32.5" height="32.5" fill="rgb(0,97,0)"/>
<rect x="659.9" y="452.2" width="32.5" height="32.5" fill="rgb(0,83,0)"/>
<rect x="692" y="452.2" width="32.5" height="32.5" fill="rgb(0,116,0)"/>
<rect x="724.1" y="452.2" width="32.5" height="32.5" fill="rgb(0,107,0)"/>
<rect x="756.2" y="452.2" width="32.5" height="32.5" fill="rgb(0,97,0)"/>
<rect x="788.3" y="452.2" width="62.5" height="32.5" fill="rgb(0,93,0)"/>
<rect x="83.9" y="420.1" width="62.5" height="32.5" fill="rgb(0,59,0)"/>
<rect x="146" y="420.1" width="32.5" height="32.5" fill="rgb(0,108,0)"/>
<rect x="178.1" y="420.1" width="32.5" height="32.5" fill="rgb(0,93,0)"/>
<rect x="210.2" y="420.1" width="32.5" height="32.5" fill="rgb(0,72,0)"/>
<rect x="242.4" y="420.1" width="32.5" height="32.5" fill="rgb(0,169,0)"/>
<rect x="274.5" y="420.1" width="32.5" height="32.5" fill="rgb(0,198,0)"/>
<rect x="306.6" y="420.1" width="32.5" height="32.5" fill="rgb(0,163,0)"/>
<rect x="338.7" y="420.1" width="32.5" height="32.5" fill="rgb(0,154,0)"/>
<rect x="370.8" y="420.1" width="32.5" height="32.5" fill="rgb(0,151,0)"/>
<rect x="402.9" y="420.1" width="32.5" height="32.5" fill="rgb(0,182,0)"/>
<rect x="435.1" y="420.1" width="32.5" height="32.5" fill="rgb(0,184,0)"/>
<rect x="467.2" y="420.1" width="32.5" height="32.5" fill="rgb(0,137,0)"/>
<rect x="499.3" y="420.1" width="32.5" height="32.5" fill="rgb(0,111,0)"/>
<rect x="531.4" y="420.1" width="32.5" height="32.5" fill="rgb(0,116,0)"/>
<rect x="563.5" y="420.1" width="32.5" height="32.5" fill="rgb(0,158,0)"/>
<rect x="595.6" y="420.1" width="32.5" height="32.5" fill="rgb(0,104,0)"/>
<rect x="627.7" y="420.1" width="32.5" height="32.5" fill="rgb(0,92,0)"/>
<rect x="659.9" y="420.1" width="32.5" height="32.5" fill="rgb(0,70,0)"/>
<rect x="692" y="420.1" width="32.5" height="32.5" fill="rgb(0,123,0)"/>
<rect x="724.1" y="420.1" width="32.5" height="32.5" fill="rgb(0,108,0)"/>
<rect x="756.2" y="420.1" width="32.5" height="32.5" fill="rgb(0,92,0)"/>
<rect x="788.3" y="420.1" width="62.5" height="32.5" fill="rgb(0,86,0)"/>
<rect x="83.9" y="387.9" width="62.5" height="32.5" fill="rgb(0,98,0)"/>
<rect x="146" y="387.9" width="32.5" height="32.5" fill="rgb(0,100,0)"/>
<rect x="178.1" y="387.9" width="32.5" height="32.5" fill="rgb(0,100,0)"/>
<rect x="210.2" y="387.9" width="32.5" height="32.5" fill="rgb(0,99,0)"/>
<rect x="242.4" y="387.9" width="32.5" height="32.5" fill="rgb(0,174,0)"/>
<rect x="274.5" y="387.9" width="32.5" height="32.5" fill="rgb(0,175,0)"/>
<rect x="306.6" y="387.9" width="32.5" height="32.5" fill="rgb(0,175,0)"/>
<rect x="338.7" y="387.9" width="32.5" height="32.5" fill="rgb(0,177,0)"/>
<rect x="370.8" y="387.9" width="32.5" height="32.5" fill="rgb(0,182,0)"/>
<rect x="402.9" y="387.9" width="32.5" height="32.5" fill="rgb(0,199,0)"/>
<rect x="435.1" y="387.9" width="32.5" height="32.5" fill="rgb(0,150,0)"/>
<rect x="467.2" y="387.9" width="32.5" height="32.5" fill="rgb(0,141,0)"/>
<rect x="499.3" y="387.9" width="32.5" height="32.5" fill="rgb(0,138,0)"/>
<rect x="531.4" y="387.9" width="32.5" height="32.5" fill="rgb(0,137,0)"/>
<rect x="563.5" y="387.9" width="32.5" height="32.5" fill="rgb(0,138,0)"/>
<rect x="595.6" y="387.9" width="32.5" height="32.5" fill="rgb(0,105,0)"/>
<rect x="627.7" y="387.9" width="32.5" height="32.5" fill="rgb(0,104,0)"/>
<rect x="659.9" y="387.9" width="32.5" height="32.5" fill="rgb(0,103,0)"/>
<rect x="692" y="387.9" width="32.5" height="32.5" fill="rgb(0,105,0)"/>
<rect x="724.1" y="387.9" width="32.5" height="32.5" fill="rgb(0,105,0)"/>
<rect x="756.2" y="387.9" width="32.5" height="32.5" fill="rgb(0,104,0)"/>
<rect x="788.3" y="387.9" width="62.5" height="32.5" fill="rgb(0,104,0)"/>
<rect x="83.9" y="355.8" width="62.5" height="32.5" fill="rgb(0,150,0)"/>
<rect x="146" y="355.8" width="32.5" height="32.5" fill="rgb(0,142,0)"/>
<rect x="178.1" y="355.8" width="32.5" height="32.5" fill="rgb(0,155,0)"/>
<rect x="210.2" y="355.8" width="32.5" height="32.5" fill="rgb(0,143,0)"/>
<rect x="242.4" y="355.8" width="32.5" height="32.5" fill="rgb(0,154,0)"/>
<rect x="274.5" y="355.8" width="32.5" height="32.5" fill="rgb(0,123,0)"/>
<rect x="306.6" y="355.8" width="32.5" height="32.5" fill="rgb(0,151,0)"/>
<rect x="338.7" y="355.8" width="32.5" height="32.5" fill="rgb(0,165,0)"/>
<rect x="370.8" y="355.8" width="32.5" height="32.5" fill="rgb(0,184,0)"/>
<rect x="402.9" y="355.8" width="32.5" height="32.5" fill="rgb(0,150,0)"/>
<rect x="435.1" y="355.8" width="32.5" height="32.5" fill="rgb(0,144,0)"/>
<rect x="467.2" y="355.8" width="32.5" height="32.5" fill="rgb(0,168,0)"/>
<rect x="499.3" y="355.8" width="32.5" height="32.5" fill="rgb(0,183,0)"/>
<rect x="531.4" y="355.8" width="32.5" height="32.5" fill="rgb(0,175,0)"/>
<rect x="563.5" y="355.8" width="32.5" height="32.5" fill="rgb(0,137,0)"/>
<rect x="595.6" y="355.8" width="32.5" height="32.5" fill="rgb(0,128,0)"/>
<rect x="627.7" y="355.8" width="32.5" height="32.5" fill="rgb(0,138,0)"/>
<rect x="659.9" y="355.8" width="32.5" height="32.5" fill="rgb(0,158,0)"/>
<rect x="692" y="355.8" width="32.5" height="32.5" fill="rgb(0,112,0)"/>
<rect x="724.1" y="355.8" width="32.5" height="32.5" fill="rgb(0,125,0)"/>
<rect x="756.2" y="355.8" width="32.5" height="32.5" fill="rgb(0,139,0)"/>
<rect x="788.3" y="355.8" width="62.5" height="32.5" fill="rgb(0,143,0)"/>
<rect x="83.9" y="323.7" width="62.5" height="32.5" fill="rgb(0,112,0)"/>
<rect x="146" y="323.7" width="32.5" height="32.5" fill="rgb(0,149,0)"/>
<rect x="178.1" y="323.7" width="32.5" height="32.5" fill="rgb(0,149,0)"/>
<rect x="210.2" y="323.7" width="32.5" height="32.5" fill="rgb(0,117,0)"/>
<rect x="242.4" y="323.7" width="32.5" height="32.5" fill="rgb(0,149,0)"/>
<rect x="274.5" y="323.7" width="32.5" height="32.5" fill="rgb(0,144,0)"/>
<rect x="306.6" y="323.7" width="32.5" height="32.5" fill="rgb(0,136,0)"/>
<rect x="338.7" y="323.7" width="32.5" height="32.5" fill="rgb(0,136,0)"/>
<rect x="370.8" y="323.7" width="32.5" height="32.5" fill="rgb(0,137,0)"/>
<rect x="402.9" y="323.7" width="32.5" height="32.5" fill="rgb(0,141,0)"/>
<rect x="435.1" y="323.7" width="32.5" height="32.5" fill="rgb(0,168,0)"/>
<rect x="467.2" y="323.7" width="32.5" height="32.5" fill="rgb(0,180,0)"/>
<rect x="499.3" y="323.7" width="32.5" height="32.5" fill="rgb(0,165,0)"/>
<rect x="531.4" y="323.7" width="32.5" height="32.5" fill="rgb(0,159,0)"/>
<rect x="563.5" y="323.7" width="32.5" height="32.5" fill="rgb(0,158,0)"/>
<rect x="595.6" y="323.7" width="32.5" height="32.5" fill="rgb(0,128,0)"/>
<rect x="627.7" y="323.7" width="32.5" height="32.5" fill="rgb(0,127,0)"/>
<rect x="659.9" y="323.7" width="32.5" height="32.5" fill="rgb(0,126,0)"/>
<rect x="692" y="323.7" width="32.5" height="32.5" fill="rgb(0,128,0)"/>
<rect x="724.1" y="323.7" width="32.5" height="32.5" fill="rgb(0,128,0)"/>
<rect x="756.2" y="323.7" width="32.5" height="32.5" fill="rgb(0,127,0)"/>
<rect x="788.3" y="323.7" width="62.5" height="32.5" fill="rgb(0,127,0)"/>
<rect x="83.9" y="291.6" width="62.5" height="32.5" fill="rgb(0,126,0)"/>
<rect x="146" y="291.6" width="32.5" height="32.5" fill="rgb(0,154,0)"/>
<rect x="178.1" y="291.6" width="32.5" height="32.5" fill="rgb(0,145,0)"/>
<rect x="210.2" y="291.6" width="32.5" height="32.5" fill="rgb(0,103,0)"/>
<rect x="242.4" y="291.6" width="32.5" height="32.5" fill="rgb(0,146,0)"/>
<rect x="274.5" y="291.6" width="32.5" height="32.5" fill="rgb(0,156,0)"/>
<rect x="306.6" y="291.6" width="32.5" height="32.5" fill="rgb(0,128,0)"/>
<rect x="338.7" y="291.6" width="32.5" height="32.5" fill="rgb(0,120,0)"/>
<rect x="370.8" y="291.6" width="32.5" height="32.5" fill="rgb(0,111,0)"/>
<rect x="402.9" y="291.6" width="32.5" height="32.5" fill="rgb(0,138,0)"/>
<rect x="435.1" y="291.6" width="32.5" height="32.5" fill="rgb(0,183,0)"/>
<rect x="467.2" y="291.6" width="32.5" height="32.5" fill="rgb(0,165,0)"/>
<rect x="499.3" y="291.6" width="32.5" height="32.5" fill="rgb(0,166,0)"/>
<rect x="531.4" y="291.6" width="32.5" height="32.5" fill="rgb(0,155,0)"/>
<rect x="563.5" y="291.6" width="32.5" height="32.5" fill="rgb(0,172,0)"/>
<rect x="595.6" y="291.6" width="32.5" height="32.5" fill="rgb(0,129,0)"/>
<rect x="627.7" y="291.6" width="32.5" height="32.5" fill="rgb(0,122,0)"/>
<rect x="659.9" y="291.6" width="32.5" height="32.5" fill="rgb(0,109,0)"/>
<rect x="692" y="291.6" width="32.5" height="32.5" fill="rgb(0,138,0)"/>
<rect x="724.1" y="291.6" width="32.5" height="32.5" fill="rgb(0,129,0)"/>
<rect x="756.2" y="291.6" width="32.5" height="32.5" fill="rgb(0,121,0)"/>
<rect x="788.3" y="291.6" width="62.5" height="32.5" fill="rgb(0,118,0)"/>
<rect x="83.9" y="259.5" width="62.5" height="32.5" fill="rgb(0,131,0)"/>
<rect x="146" y="259.5" width="32.5" height="32.5" fill="rgb(0,153,0)"/>
<rect x="178.1" y="259.5" width="32.5" height="32.5" fill="rgb(0,146,0)"/>
<rect x="210.2" y="259.5" width="32.5" height="32.5" fill="rgb(0,106,0)"/>
<rect x="242.4" y="259.5" width="32.5" height="32.5" fill="rgb(0,147,0)"/>
<rect x="274.5" y="259.5" width="32.5" height="32.5" fill="rgb(0,153,0)"/>
<rect x="306.6" y="259.5" width="32.5" height="32.5" fill="rgb(0,130,0)"/>
<rect x="338.7" y="259.5" width="32.5" height="32.5" fill="rgb(0,124,0)"/>
<rect x="370.8" y="259.5" width="32.5" height="32.5" fill="rgb(0,116,0)"/>
<rect x="402.9" y="259.5" width="32.5" height="32.5" fill="rgb(0,137,0)"/>
<rect x="435.1" y="259.5" width="32.5" height="32.5" fill="rgb(0,175,0)"/>
<rect x="467.2" y="259.5" width="32.5" height="32.5" fill="rgb(0,159,0)"/>
<rect x="499.3" y="259.5" width="32.5" height="32.5" fill="rgb(0,155,0)"/>
<rect x="531.4" y="259.5" width="32.5" height="32.5" fill="rgb(0,172,0)"/>
<rect x="563.5" y="259.5" width="32.5" height="32.5" fill="rgb(0,175,0)"/>
<rect x="595.6" y="259.5" width="32.5" height="32.5" fill="rgb(0,132,0)"/>
<rect x="627.7" y="259.5" width="32.5" height="32.5" fill="rgb(0,124,0)"/>
<rect x="659.9" y="259.5" width="32.5" height="32.5" fill="rgb(0,113,0)"/>
<rect x="692" y="259.5" width="32.5" height="32.5" fill="rgb(0,136,0)"/>
<rect x="724.1" y="259.5" width="32.5" height="32.5" fill="rgb(0,129,0)"/>
<rect x="756.2" y="259.5" width="32.5" height="32.5" fill="rgb(0,122,0)"/>
<rect x="788.3" y="259.5" width="62.5" height="32.5" fill="rgb(0,120,0)"/>
<rect x="83.9" y="227.4" width="62.5" height="32.5" fill="rgb(0,167,0)"/>
<rect x="146" y="227.4" width="32.5" height="32.5" fill="rgb(0,145,0)"/>
<rect x="178.1" y="227.4" width="32.5" height="32.5" fill="rgb(0,152,0)"/>
<rect x="210.2" y="227.4" width="32.5" height="32.5" fill="rgb(0,131,0)"/>
<rect x="242.4" y="227.4" width="32.5" height="32.5" fill="rgb(0,151,0)"/>
<rect x="274.5" y="227.4" width="32.5" height="32.5" fill="rgb(0,133,0)"/>
<rect x="306.6" y="227.4" width="32.5" height="32.5" fill="rgb(0,144,0)"/>
<rect x="338.7" y="227.4" width="32.5" height="32.5" fill="rgb(0,150,0)"/>
<rect x="370.8" y="227.4" width="32.5" height="32.5" fill="rgb(0,158,0)"/>
<rect x="402.9" y="227.4" width="32.5" height="32.5" fill="rgb(0,138,0)"/>
<rect x="435.1" y="227.4" width="32.5" height="32.5" fill="rgb(0,137,0)"/>
<rect x="467.2" y="227.4" width="32.5" height="32.5" fill="rgb(0,158,0)"/>
<rect x="499.3" y="227.4" width="32.5" height="32.5" fill="rgb(0,172,0)"/>
<rect x="531.4" y="227.4" width="32.5" height="32.5" fill="rgb(0,175,0)"/>
<rect x="563.5" y="227.4" width="32.5" height="32.5" fill="rgb(0,171,0)"/>
<rect x="595.6" y="227.4" width="32.5" height="32.5" fill="rgb(0,139,0)"/>
<rect x="627.7" y="227.4" width="32.5" height="32.5" fill="rgb(0,138,0)"/>
<rect x="659.9" y="227.4" width="32.5" height="32.5" fill="rgb(0,145,0)"/>
<rect x="692" y="227.4" width="32.5" height="32.5" fill="rgb(0,120,0)"/>
<rect x="724.1" y="227.4" width="32.5" height="32.5" fill="rgb(0,126,0)"/>
<rect x="756.2" y="227.4" width="32.5" height="32.5" fill="rgb(0,133,0)"/>
<rect x="788.3" y="227.4" width="62.5" height="32.5" fill="rgb(0,136,0)"/>
<rect x="83.9" y="195.3" width="62.5" height="32.5" fill="rgb(0,149,0)"/>
<rect x="146" y="195.3" width="32.5" height="32.5" fill="rgb(0,149,0)"/>
<rect x="178.1" y="195.3" width="32.5" height="32.5" fill="rgb(0,149,0)"/>
<rect x="210.2" y="195.3" width="32.5" height="32.5" fill="rgb(0,149,0)"/>
<rect x="242.4" y="195.3" width="32.5" height="32.5" fill="rgb(0,149,0)"/>
<rect x="274.5" y="195.3" width="32.5" height="32.5" fill="rgb(0,143,0)"/>
<rect x="306.6" y="195.3" width="32.5" height="32.5" fill="rgb(0,105,0)"/>
<rect x="338.7" y="195.3" width="32.5" height="32.5" fill="rgb(0,104,0)"/>
<rect x="370.8" y="195.3" width="32.5" height="32.5" fill="rgb(0,104,0)"/>
<rect x="402.9" y="195.3" width="32.5" height="32.5" fill="rgb(0,105,0)"/>
<rect x="435.1" y="195.3" width="32.5" height="32.5" fill="rgb(0,128,0)"/>
<rect x="467.2" y="195.3" width="32.5" height="32.5" fill="rgb(0,128,0)"/>
<rect x="499.3" y="195.3" width="32.5" height="32.5" fill="rgb(0,129,0)"/>
<rect x="531.4" y="195.3" width="32.5" height="32.5" fill="rgb(0,132,0)"/>
<rect x="563.5" y="195.3" width="32.5" height="32.5" fill="rgb(0,139,0)"/>
<rect x="595.6" y="195.3" width="32.5" height="32.5" fill="rgb(0,174,0)"/>
<rect x="627.7" y="195.3" width="32.5" height="32.5" fill="rgb(0,160,0)"/>
<rect x="659.9" y="195.3" width="32.5" height="32.5" fill="rgb(0,154,0)"/>
<rect x="692" y="195.3" width="32.5" height="32.5" fill="rgb(0,151,0)"/>
<rect x="724.1" y="195.3" width="32.5" height="32.5" fill="rgb(0,150,0)"/>
<rect x="756.2" y="195.3" width="32.5" height="32.5" fill="rgb(0,149,0)"/>
<rect x="788.3" y="195.3" width="62.5" height="32.5" fill="rgb(0,149,0)"/>
<rect x="83.9" y="163.1" width="62.5" height="32.5" fill="rgb(0,138,0)"/>
<rect x="146" y="163.1" width="32.5" height="32.5" fill="rgb(0,151,0)"/>
<rect x="178.1" y="163.1" width="32.5" height="32.5" fill="rgb(0,147,0)"/>
<rect x="210.2" y="163.1" width="32.5" height="32.5" fill="rgb(0,142,0)"/>
<rect x="242.4" y="163.1" width="32.5" height="32.5" fill="rgb(0,148,0)"/>
<rect x="274.5" y="163.1" width="32.5" height="32.5" fill="rgb(0,149,0)"/>
<rect x="306.6" y="163.1" width="32.5" height="32.5" fill="rgb(0,101,0)"/>
<rect x="338.7" y="163.1" width="32.5" height="32.5" fill="rgb(0,97,0)"/>
<rect x="370.8" y="163.1" width="32.5" height="32.5" fill="rgb(0,92,0)"/>
<rect x="402.9" y="163.1" width="32.5" height="32.5" fill="rgb(0,104,0)"/>
<rect x="435.1" y="163.1" width="32.5" height="32.5" fill="rgb(0,138,0)"/>
<rect x="467.2" y="163.1" width="32.5" height="32.5" fill="rgb(0,127,0)"/>
<rect x="499.3" y="163.1" width="32.5" height="32.5" fill="rgb(0,122,0)"/>
<rect x="531.4" y="163.1" width="32.5" height="32.5" fill="rgb(0,124,0)"/>
<rect x="563.5" y="163.1" width="32.5" height="32.5" fill="rgb(0,138,0)"/>
<rect x="595.6" y="163.1" width="32.5" height="32.5" fill="rgb(0,160,0)"/>
<rect x="627.7" y="163.1" width="32.5" height="32.5" fill="rgb(0,171,0)"/>
<rect x="659.9" y="163.1" width="32.5" height="32.5" fill="rgb(0,151,0)"/>
<rect x="692" y="163.1" width="32.5" height="32.5" fill="rgb(0,158,0)"/>
<rect x="724.1" y="163.1" width="32.5" height="32.5" fill="rgb(0,152,0)"/>
<rect x="756.2" y="163.1" width="32.5" height="32.5" fill="rgb(0,147,0)"/>
<rect x="788.3" y="163.1" width="62.5" height="32.5" fill="rgb(0,145,0)"/>
<rect x="83.9" y="131" width="62.5" height="32.5" fill="rgb(0,119,0)"/>
<rect x="146" y="131" width="32.5" height="32.5" fill="rgb(0,155,0)"/>
<rect x="178.1" y="131" width="32.5" height="32.5" fill="rgb(0,144,0)"/>
<rect x="210.2" y="131" width="32.5" height="32.5" fill="rgb(0,128,0)"/>
<rect x="242.4" y="131" width="32.5" height="32.5" fill="rgb(0,145,0)"/>
<rect x="274.5" y="131" width="32.5" height="32.5" fill="rgb(0,159,0)"/>
<rect x="306.6" y="131" width="32.5" height="32.5" fill="rgb(0,93,0)"/>
<rect x="338.7" y="131" width="32.5" height="32.5" fill="rgb(0,83,0)"/>
<rect x="370.8" y="131" width="32.5" height="32.5" fill="rgb(0,70,0)"/>
<rect x="402.9" y="131" width="32.5" height="32.5" fill="rgb(0,103,0)"/>
<rect x="435.1" y="131" width="32.5" height="32.5" fill="rgb(0,158,0)"/>
<rect x="467.2" y="131" width="32.5" height="32.5" fill="rgb(0,126,0)"/>
<rect x="499.3" y="131" width="32.5" height="32.5" fill="rgb(0,109,0)"/>
<rect x="531.4" y="131" width="32.5" height="32.5" fill="rgb(0,113,0)"/>
<rect x="563.5" y="131" width="32.5" height="32.5" fill="rgb(0,145,0)"/>
<rect x="595.6" y="131" width="32.5" height="32.5" fill="rgb(0,154,0)"/>
<rect x="627.7" y="131" width="32.5" height="32.5" fill="rgb(0,151,0)"/>
<rect x="659.9" y="131" width="32.5" height="32.5" fill="rgb(0,149,0)"/>
<rect x="692" y="131" width="32.5" height="32.5" fill="rgb(0,173,0)"/>
<rect x="724.1" y="131" width="32.5" height="32.5" fill="rgb(0,156,0)"/>
<rect x="756.2" y="131" width="32.5" height="32.5" fill="rgb(0,142,0)"/>
<rect x="788.3" y="131" width="62.5" height="32.5" fill="rgb(0,137,0)"/>
<rect x="83.9" y="98.9" width="62.5" height="32.5" fill="rgb(0,164,0)"/>
<rect x="146" y="98.9" width="32.5" height="32.5" fill="rgb(0,146,0)"/>
<rect x="178.1" y="98.9" width="32.5" height="32.5" fill="rgb(0,152,0)"/>
<rect x="210.2" y="98.9" width="32.5" height="32.5" fill="rgb(0,160,0)"/>
<rect x="242.4" y="98.9" width="32.5" height="32.5" fill="rgb(0,151,0)"/>
<rect x="274.5" y="98.9" width="32.5" height="32.5" fill="rgb(0,134,0)"/>
<rect x="306.6" y="98.9" width="32.5" height="32.5" fill="rgb(0,110,0)"/>
<rect x="338.7" y="98.9" width="32.5" height="32.5" fill="rgb(0,116,0)"/>
<rect x="370.8" y="98.9" width="32.5" height="32.5" fill="rgb(0,123,0)"/>
<rect x="402.9" y="98.9" width="32.5" height="32.5" fill="rgb(0,105,0)"/>
<rect x="435.1" y="98.9" width="32.5" height="32.5" fill="rgb(0,112,0)"/>
<rect x="467.2" y="98.9" width="32.5" height="32.5" fill="rgb(0,128,0)"/>
<rect x="499.3" y="98.9" width="32.5" height="32.5" fill="rgb(0,138,0)"/>
<rect x="531.4" y="98.9" width="32.5" height="32.5" fill="rgb(0,136,0)"/>
<rect x="563.5" y="98.9" width="32.5" height="32.5" fill="rgb(0,120,0)"/>
<rect x="595.6" y="98.9" width="32.5" height="32.5" fill="rgb(0,151,0)"/>
<rect x="627.7" y="98.9" width="32.5" height="32.5" fill="rgb(0,158,0)"/>
<rect x="659.9" y="98.9" width="32.5" height="32.5" fill="rgb(0,173,0)"/>
<rect x="692" y="98.9" width="32.5" height="32.5" fill="rgb(0,168,0)"/>
<rect x="724.1" y="98.9" width="32.5" height="32.5" fill="rgb(0,159,0)"/>
<rect x="756.2" y="98.9" width="32.5" height="32.5" fill="rgb(0,159,0)"/>
<rect x="788.3" y="98.9" width="62.5" height="32.5" fill="rgb(0,158,0)"/>
<rect x="83.9" y="66.8" width="62.5" height="32.5" fill="rgb(0,152,0)"/>
<rect x="146" y="66.8" width="32.5" height="32.5" fill="rgb(0,148,0)"/>
<rect x="178.1" y="66.8" width="32.5" height="32.5" fill="rgb(0,149,0)"/>
<rect x="210.2" y="66.8" width="32.5" height="32.5" fill="rgb(0,151,0)"/>
<rect x="242.4" y="66.8" width="32.5" height="32.5" fill="rgb(0,149,0)"/>
<rect x="274.5" y="66.8" width="32.5" height="32.5" fill="rgb(0,141,0)"/>
<rect x="306.6" y="66.8" width="32.5" height="32.5" fill="rgb(0,106,0)"/>
<rect x="338.7" y="66.8" width="32.5" height="32.5" fill="rgb(0,107,0)"/>
<rect x="370.8" y="66.8" width="32.5" height="32.5" fill="rgb(0,108,0)"/>
<rect x="402.9" y="66.8" width="32.5" height="32.5" fill="rgb(0,105,0)"/>
<rect x="435.1" y="66.8" width="32.5" height="32.5" fill="rgb(0,125,0)"/>
<rect x="467.2" y="66.8" width="32.5" height="32.5" fill="rgb(0,128,0)"/>
<rect x="499.3" y="66.8" width="32.5" height="32.5" fill="rgb(0,129,0)"/>
<rect x="531.4" y="66.8" width="32.5" height="32.5" fill="rgb(0,129,0)"/>
<rect x="563.5" y="66.8" width="32.5" height="32.5" fill="rgb(0,126,0)"/>
<rect x="595.6" y="66.8" width="32.5" height="32.5" fill="rgb(0,150,0)"/>
<rect x="627.7" y="66.8" width="32.5" height="32.5" fill="rgb(0,152,0)"/>
<rect x="659.9" y="66.8" width="32.5" height="32.5" fill="rgb(0,156,0)"/>
<rect x="692" y="66.8" width="32.5" height="32.5" fill="rgb(0,159,0)"/>
<rect x="724.1" y="66.8" width="32.5" height="32.5" fill="rgb(0,174,0)"/>
<rect x="756.2" y="66.8" width="32.5" height="32.5" fill="rgb(0,161,0)"/>
<rect x="788.3" y="66.8" width="62.5" height="32.5" fill="rgb(0,155,0)"/>
<rect x="83.9" y="34.7" width="62.5" height="32.5" fill="rgb(0,138,0)"/>
<rect x="146" y="34.7" width="32.5" height="32.5" fill="rgb(0,151,0)"/>
<rect x="178.1" y="34.7" width="32.5" height="32.5" fill="rgb(0,147,0)"/>
<rect x="210.2" y="34.7" width="32.5" height="32.5" fill="rgb(0,141,0)"/>
<rect x="242.4" y="34.7" width="32.5" height="32.5" fill="rgb(0,148,0)"/>
<rect x="274.5" y="34.7" width="32.5" height="32.5" fill="rgb(0,149,0)"/>
<rect x="306.6" y="34.7" width="32.5" height="32.5" fill="rgb(0,100,0)"/>
<rect x="338.7" y="34.7" width="32.5" height="32.5" fill="rgb(0,97,0)"/>
<rect x="370.8" y="34.7" width="32.5" height="32.5" fill="rgb(0,92,0)"/>
<rect x="402.9" y="34.7" width="32.5" height="32.5" fill="rgb(0,104,0)"/>
<rect x="435.1" y="34.7" width="32.5" height="32.5" fill="rgb(0,139,0)"/>
<rect x="467.2" y="34.7" width="32.5" height="32.5" fill="rgb(0,127,0)"/>
<rect x="499.3" y="34.7" width="32.5" height="32.5" fill="rgb(0,121,0)"/>
<rect x="531.4" y="34.7" width="32.5" height="32.5" fill="rgb(0,122,0)"/>
<rect x="563.5" y="34.7" width="32.5" height="32.5" fill="rgb(0,133,0)"/>
<rect x="595.6" y="34.7" width="32.5" height="32.5" fill="rgb(0,149,0)"/>
<rect x="627.7" y="34.7" width="32.5" height="32.5" fill="rgb(0,147,0)"/>
<rect x="659.9" y="34.7" width="32.5" height="32.5" fill="rgb(0,142,0)"/>
<rect x="692" y="34.7" width="32.5" height="32.5" fill="rgb(0,159,0)"/>
<rect x="724.1" y="34.7" width="32.5" height="32.5" fill="rgb(0,161,0)"/>
<rect x="756.2" y="34.7" width="32.5" height="32.5" fill="rgb(0,171,0)"/>
<rect x="788.3" y="34.7" width="62.5" height="32.5" fill="rgb(0,155,0)"/>
<rect x="83.9" y="-27.4" width="62.5" height="62.5" fill="rgb(0,134,0)"/>
<rect x="146" y="-27.4" width="32.5" height="62.5" fill="rgb(0,152,0)"/>
<rect x="178.1" y="-27.4" width="32.5" height="62.5" fill="rgb(0,146,0)"/>
<rect x="210.2" y="-27.4" width="32.5" height="62.5" fill="rgb(0,138,0)"/>
<rect x="242.4" y="-27.4" width="32.5" height="62.5" fill="rgb(0,147,0)"/>
<rect x="274.5" y="-27.4" width="32.5" height="62.5" fill="rgb(0,151,0)"/>
<rect x="306.6" y="-27.4" width="32.5" height="62.5" fill="rgb(0,99,0)"/>
<rect x="338.7" y="-27.4" width="32.5" height="62.5" fill="rgb(0,93,0)"/>
<rect x="370.8" y="-27.4" width="32.5" height="62.5" fill="rgb(0,86,0)"/>
<rect x="402.9" y="-27.4" width="32.5" height="62.5" fill="rgb(0,104,0)"/>
<rect x="435.1" y="-27.4" width="32.5" height="62.5" fill="rgb(0,143,0)"/>
<rect x="467.2" y="-27.4" width="32.5" height="62.5" fill="rgb(0,127,0)"/>
<rect x="499.3" y="-27.4" width="32.5" height="62.5" fill="rgb(0,118,0)"/>
<rect x="531.4" y="-27.4" width="32.5" height="62.5" fill="rgb(0,120,0)"/>
<rect x="563.5" y="-27.4" width="32.5" height="62.5" fill="rgb(0,136,0)"/>
<rect x="595.6" y="-27.4" width="32.5" height="62.5" fill="rgb(0,149,0)"/>
<rect x="627.7" y="-27.4" width="32.5" height="62.5" fill="rgb(0,145,0)"/>
<rect x="659.9" y="-27.4" width="32.5" height="62.5" fill="rgb(0,137,0)"/>
<rect x="692" y="-27.4" width="32.5" height="62.5" fill="rgb(0,158,0)"/>
<rect x="724.1" y="-27.4" width="32.5" height="62.5" fill="rgb(0,155,0)"/>
<rect x="756.2" y="-27.4" width="32.5" height="62.5" fill="rgb(0,155,0)"/>
<rect x="788.3" y="-27.4" width="62.5" height="62.5" fill="rgb(0,168,0)"/>
</g>
</g>
<g filter="url(#fb)">
<ellipse cx="399.2" cy="553.5" rx="25.9" ry="29.2" fill="#000" opacity="0.65"/>
<ellipse cx="269.5" cy="423.8" rx="29.2" ry="25.9" fill="#000" opacity="0.6"/>
<ellipse cx="399.2" cy="271.4" rx="25.9" ry="29.2" fill="#000" opacity="0.6"/>
<ellipse cx="551.6" cy="423.8" rx="29.2" ry="25.9" fill="#000" opacity="0.55"/>
<ellipse cx="211.2" cy="488.6" rx="22.7" ry="32.4" fill="#000" opacity="0.55"/>
<ellipse cx="334.4" cy="611.8" rx="32.4" ry="22.7" fill="#000" opacity="0.5"/>
<ellipse cx="567.9" cy="443.2" rx="25.9" ry="29.2" fill="#000" opacity="0.5"/>
<ellipse cx="379.8" cy="255.1" rx="29.2" ry="25.9" fill="#000" opacity="0.5"/>
<ellipse cx="324.7" cy="157.9" rx="32.4" ry="25.9" fill="#000" opacity="0.45"/>
<ellipse cx="665.1" cy="498.3" rx="25.9" ry="32.4" fill="#000" opacity="0.45"/>
</g>
<rect x="131.7" y="2.6" width="1.2" height="706.5" fill="#000" opacity="0.55"/>
<rect x="113.9" y="691.3" width="706.5" height="1.2" fill="#000" opacity="0.55"/>
<rect x="166.8" y="2.6" width="1.2" height="706.5" fill="#000" opacity="0.55"/>
<rect x="113.9" y="656.2" width="706.5" height="1.2" fill="#000" opacity="0.55"/>
<rect x="275.1" y="2.6" width="1.2" height="706.5" fill="#000" opacity="0.55"/>
<rect x="113.9" y="547.9" width="706.5" height="1.2" fill="#000" opacity="0.55"/>
<rect x="296.1" y="2.6" width="1.2" height="706.5" fill="#000" opacity="0.55"/>
<rect x="113.9" y="526.9" width="706.5" height="1.2" fill="#000" opacity="0.55"/>
<line x1="113.9" y1="709.1" x2="820.4" y2="2.6" stroke="#1a1a1a" stroke-width="0.9" opacity="0.8"/>
</g>
<g stroke="#4a4a4a" stroke-width="1"><line x1="109.1" y1="708.8" x2="113.9" y2="708.8"/>
<line x1="114.4" y1="709.3" x2="114.4" y2="714.1"/>
<line x1="109.1" y1="700.7" x2="113.9" y2="700.7"/>
<line x1="122.5" y1="709.3" x2="122.5" y2="714.1"/>
<line x1="109.1" y1="692.6" x2="113.9" y2="692.6"/>
<line x1="130.6" y1="709.3" x2="130.6" y2="714.1"/>
<line x1="109.1" y1="684.5" x2="113.9" y2="684.5"/>
<line x1="138.7" y1="709.3" x2="138.7" y2="714.1"/>
<line x1="109.1" y1="676.4" x2="113.9" y2="676.4"/>
<line x1="146.8" y1="709.3" x2="146.8" y2="714.1"/>
<line x1="109.1" y1="668.3" x2="113.9" y2="668.3"/>
<line x1="154.9" y1="709.3" x2="154.9" y2="714.1"/>
<line x1="109.1" y1="660.2" x2="113.9" y2="660.2"/>
<line x1="163" y1="709.3" x2="163" y2="714.1"/>
<line x1="109.1" y1="652.1" x2="113.9" y2="652.1"/>
<line x1="171.1" y1="709.3" x2="171.1" y2="714.1"/>
<line x1="109.1" y1="644" x2="113.9" y2="644"/>
<line x1="179.2" y1="709.3" x2="179.2" y2="714.1"/>
<line x1="109.1" y1="635.8" x2="113.9" y2="635.8"/>
<line x1="187.4" y1="709.3" x2="187.4" y2="714.1"/>
<line x1="109.1" y1="627.7" x2="113.9" y2="627.7"/>
<line x1="195.5" y1="709.3" x2="195.5" y2="714.1"/>
<line x1="109.1" y1="619.6" x2="113.9" y2="619.6"/>
<line x1="203.6" y1="709.3" x2="203.6" y2="714.1"/>
<line x1="109.1" y1="611.5" x2="113.9" y2="611.5"/>
<line x1="211.7" y1="709.3" x2="211.7" y2="714.1"/>
<line x1="109.1" y1="603.4" x2="113.9" y2="603.4"/>
<line x1="219.8" y1="709.3" x2="219.8" y2="714.1"/>
<line x1="109.1" y1="595.3" x2="113.9" y2="595.3"/>
<line x1="227.9" y1="709.3" x2="227.9" y2="714.1"/>
<line x1="109.1" y1="587.2" x2="113.9" y2="587.2"/>
<line x1="236" y1="709.3" x2="236" y2="714.1"/>
<line x1="109.1" y1="579.1" x2="113.9" y2="579.1"/>
<line x1="244.1" y1="709.3" x2="244.1" y2="714.1"/>
<line x1="109.1" y1="571" x2="113.9" y2="571"/>
<line x1="252.2" y1="709.3" x2="252.2" y2="714.1"/>
<line x1="109.1" y1="562.9" x2="113.9" y2="562.9"/>
<line x1="260.3" y1="709.3" x2="260.3" y2="714.1"/>
<line x1="109.1" y1="554.8" x2="113.9" y2="554.8"/>
<line x1="268.4" y1="709.3" x2="268.4" y2="714.1"/>
<line x1="109.1" y1="546.7" x2="113.9" y2="546.7"/>
<line x1="276.5" y1="709.3" x2="276.5" y2="714.1"/>
<line x1="109.1" y1="538.6" x2="113.9" y2="538.6"/>
<line x1="284.6" y1="709.3" x2="284.6" y2="714.1"/>
<line x1="109.1" y1="530.5" x2="113.9" y2="530.5"/>
<line x1="292.7" y1="709.3" x2="292.7" y2="714.1"/>
<line x1="109.1" y1="522.4" x2="113.9" y2="522.4"/>
<line x1="300.8" y1="709.3" x2="300.8" y2="714.1"/>
<line x1="109.1" y1="514.2" x2="113.9" y2="514.2"/>
<line x1="309" y1="709.3" x2="309" y2="714.1"/>
<line x1="109.1" y1="506.1" x2="113.9" y2="506.1"/>
<line x1="317.1" y1="709.3" x2="317.1" y2="714.1"/>
<line x1="109.1" y1="498" x2="113.9" y2="498"/>
<line x1="325.2" y1="709.3" x2="325.2" y2="714.1"/>
<line x1="109.1" y1="489.9" x2="113.9" y2="489.9"/>
<line x1="333.3" y1="709.3" x2="333.3" y2="714.1"/>
<line x1="109.1" y1="481.8" x2="113.9" y2="481.8"/>
<line x1="341.4" y1="709.3" x2="341.4" y2="714.1"/>
<line x1="109.1" y1="473.7" x2="113.9" y2="473.7"/>
<line x1="349.5" y1="709.3" x2="349.5" y2="714.1"/>
<line x1="109.1" y1="465.6" x2="113.9" y2="465.6"/>
<line x1="357.6" y1="709.3" x2="357.6" y2="714.1"/>
<line x1="109.1" y1="457.5" x2="113.9" y2="457.5"/>
<line x1="365.7" y1="709.3" x2="365.7" y2="714.1"/>
<line x1="109.1" y1="449.4" x2="113.9" y2="449.4"/>
<line x1="373.8" y1="709.3" x2="373.8" y2="714.1"/>
<line x1="109.1" y1="441.3" x2="113.9" y2="441.3"/>
<line x1="381.9" y1="709.3" x2="381.9" y2="714.1"/>
<line x1="109.1" y1="433.2" x2="113.9" y2="433.2"/>
<line x1="390" y1="709.3" x2="390" y2="714.1"/>
<line x1="109.1" y1="425.1" x2="113.9" y2="425.1"/>
<line x1="398.1" y1="709.3" x2="398.1" y2="714.1"/>
<line x1="109.1" y1="417" x2="113.9" y2="417"/>
<line x1="406.2" y1="709.3" x2="406.2" y2="714.1"/>
<line x1="109.1" y1="408.9" x2="113.9" y2="408.9"/>
<line x1="414.3" y1="709.3" x2="414.3" y2="714.1"/>
<line x1="109.1" y1="400.8" x2="113.9" y2="400.8"/>
<line x1="422.4" y1="709.3" x2="422.4" y2="714.1"/>
<line x1="109.1" y1="392.7" x2="113.9" y2="392.7"/>
<line x1="430.5" y1="709.3" x2="430.5" y2="714.1"/>
<line x1="109.1" y1="384.6" x2="113.9" y2="384.6"/>
<line x1="438.6" y1="709.3" x2="438.6" y2="714.1"/>
<line x1="109.1" y1="376.4" x2="113.9" y2="376.4"/>
<line x1="446.8" y1="709.3" x2="446.8" y2="714.1"/>
<line x1="109.1" y1="368.3" x2="113.9" y2="368.3"/>
<line x1="454.9" y1="709.3" x2="454.9" y2="714.1"/>
<line x1="109.1" y1="360.2" x2="113.9" y2="360.2"/>
<line x1="463" y1="709.3" x2="463" y2="714.1"/>
<line x1="109.1" y1="352.1" x2="113.9" y2="352.1"/>
<line x1="471.1" y1="709.3" x2="471.1" y2="714.1"/>
<line x1="109.1" y1="344" x2="113.9" y2="344"/>
<line x1="479.2" y1="709.3" x2="479.2" y2="714.1"/>
<line x1="109.1" y1="335.9" x2="113.9" y2="335.9"/>
<line x1="487.3" y1="709.3" x2="487.3" y2="714.1"/>
<line x1="109.1" y1="327.8" x2="113.9" y2="327.8"/>
<line x1="495.4" y1="709.3" x2="495.4" y2="714.1"/>
<line x1="109.1" y1="319.7" x2="113.9" y2="319.7"/>
<line x1="503.5" y1="709.3" x2="503.5" y2="714.1"/>
<line x1="109.1" y1="311.6" x2="113.9" y2="311.6"/>
<line x1="511.6" y1="709.3" x2="511.6" y2="714.1"/>
<line x1="109.1" y1="303.5" x2="113.9" y2="303.5"/>
<line x1="519.7" y1="709.3" x2="519.7" y2="714.1"/>
<line x1="109.1" y1="295.4" x2="113.9" y2="295.4"/>
<line x1="527.8" y1="709.3" x2="527.8" y2="714.1"/>
<line x1="109.1" y1="287.3" x2="113.9" y2="287.3"/>
<line x1="535.9" y1="709.3" x2="535.9" y2="714.1"/>
<line x1="109.1" y1="279.2" x2="113.9" y2="279.2"/>
<line x1="544" y1="709.3" x2="544" y2="714.1"/>
<line x1="109.1" y1="271.1" x2="113.9" y2="271.1"/>
<line x1="552.1" y1="709.3" x2="552.1" y2="714.1"/>
<line x1="109.1" y1="263" x2="113.9" y2="263"/>
<line x1="560.2" y1="709.3" x2="560.2" y2="714.1"/>
<line x1="109.1" y1="254.8" x2="113.9" y2="254.8"/>
<line x1="568.4" y1="709.3" x2="568.4" y2="714.1"/>
<line x1="109.1" y1="246.7" x2="113.9" y2="246.7"/>
<line x1="576.5" y1="709.3" x2="576.5" y2="714.1"/>
<line x1="109.1" y1="238.6" x2="113.9" y2="238.6"/>
<line x1="584.6" y1="709.3" x2="584.6" y2="714.1"/>
<line x1="109.1" y1="230.5" x2="113.9" y2="230.5"/>
<line x1="592.7" y1="709.3" x2="592.7" y2="714.1"/>
<line x1="109.1" y1="222.4" x2="113.9" y2="222.4"/>
<line x1="600.8" y1="709.3" x2="600.8" y2="714.1"/>
<line x1="109.1" y1="214.3" x2="113.9" y2="214.3"/>
<line x1="608.9" y1="709.3" x2="608.9" y2="714.1"/>
<line x1="109.1" y1="206.2" x2="113.9" y2="206.2"/>
<line x1="617" y1="709.3" x2="617" y2="714.1"/>
<line x1="109.1" y1="198.1" x2="113.9" y2="198.1"/>
<line x1="625.1" y1="709.3" x2="625.1" y2="714.1"/>
<line x1="109.1" y1="190" x2="113.9" y2="190"/>
<line x1="633.2" y1="709.3" x2="633.2" y2="714.1"/>
<line x1="109.1" y1="181.9" x2="113.9" y2="181.9"/>
<line x1="641.3" y1="709.3" x2="641.3" y2="714.1"/>
<line x1="109.1" y1="173.8" x2="113.9" y2="173.8"/>
<line x1="649.4" y1="709.3" x2="649.4" y2="714.1"/>
<line x1="109.1" y1="165.7" x2="113.9" y2="165.7"/>
<line x1="657.5" y1="709.3" x2="657.5" y2="714.1"/>
<line x1="109.1" y1="157.6" x2="113.9" y2="157.6"/>
<line x1="665.6" y1="709.3" x2="665.6" y2="714.1"/>
<line x1="109.1" y1="149.5" x2="113.9" y2="149.5"/>
<line x1="673.7" y1="709.3" x2="673.7" y2="714.1"/>
<line x1="109.1" y1="141.4" x2="113.9" y2="141.4"/>
<line x1="681.8" y1="709.3" x2="681.8" y2="714.1"/>
<line x1="109.1" y1="133.3" x2="113.9" y2="133.3"/>
<line x1="689.9" y1="709.3" x2="689.9" y2="714.1"/>
<line x1="109.1" y1="125.2" x2="113.9" y2="125.2"/>
<line x1="698" y1="709.3" x2="698" y2="714.1"/>
<line x1="109.1" y1="117" x2="113.9" y2="117"/>
<line x1="706.2" y1="709.3" x2="706.2" y2="714.1"/>
<line x1="109.1" y1="108.9" x2="113.9" y2="108.9"/>
<line x1="714.3" y1="709.3" x2="714.3" y2="714.1"/>
<line x1="109.1" y1="100.8" x2="113.9" y2="100.8"/>
<line x1="722.4" y1="709.3" x2="722.4" y2="714.1"/>
<line x1="109.1" y1="92.7" x2="113.9" y2="92.7"/>
<line x1="730.5" y1="709.3" x2="730.5" y2="714.1"/>
<line x1="109.1" y1="84.6" x2="113.9" y2="84.6"/>
<line x1="738.6" y1="709.3" x2="738.6" y2="714.1"/>
<line x1="109.1" y1="76.5" x2="113.9" y2="76.5"/>
<line x1="746.7" y1="709.3" x2="746.7" y2="714.1"/>
<line x1="109.1" y1="68.4" x2="113.9" y2="68.4"/>
<line x1="754.8" y1="709.3" x2="754.8" y2="714.1"/>
<line x1="109.1" y1="60.3" x2="113.9" y2="60.3"/>
<line x1="762.9" y1="709.3" x2="762.9" y2="714.1"/>
<line x1="109.1" y1="52.2" x2="113.9" y2="52.2"/>
<line x1="771" y1="709.3" x2="771" y2="714.1"/>
<line x1="109.1" y1="44.1" x2="113.9" y2="44.1"/>
<line x1="779.1" y1="709.3" x2="779.1" y2="714.1"/>
<line x1="109.1" y1="36" x2="113.9" y2="36"/>
<line x1="787.2" y1="709.3" x2="787.2" y2="714.1"/>
<line x1="109.1" y1="27.9" x2="113.9" y2="27.9"/>
<line x1="795.3" y1="709.3" x2="795.3" y2="714.1"/>
<line x1="109.1" y1="19.8" x2="113.9" y2="19.8"/>
<line x1="803.4" y1="709.3" x2="803.4" y2="714.1"/>
<line x1="109.1" y1="11.7" x2="113.9" y2="11.7"/>
<line x1="811.5" y1="709.3" x2="811.5" y2="714.1"/>
<line x1="109.1" y1="3.6" x2="113.9" y2="3.6"/>
<line x1="819.6" y1="709.3" x2="819.6" y2="714.1"/></g>
<text x="104.5" y="717.6" font-size="19.5" text-anchor="end">0</text>
<text x="123" y="720" font-size="19.5" text-anchor="end" transform="rotate(-90 123 720)">0</text>
<text x="104.5" y="685.2" font-size="19.5" text-anchor="end">10</text>
<text x="155.4" y="720" font-size="19.5" text-anchor="end" transform="rotate(-90 155.4 720)">10</text>
<text x="104.5" y="652.8" font-size="19.5" text-anchor="end">20</text>
<text x="187.8" y="720" font-size="19.5" text-anchor="end" transform="rotate(-90 187.8 720)">20</text>
<text x="104.5" y="620.3" font-size="19.5" text-anchor="end">30</text>
<text x="220.3" y="720" font-size="19.5" text-anchor="end" transform="rotate(-90 220.3 720)">30</text>
<text x="104.5" y="587.9" font-size="19.5" text-anchor="end">40</text>
<text x="252.7" y="720" font-size="19.5" text-anchor="end" transform="rotate(-90 252.7 720)">40</text>
<text x="104.5" y="555.5" font-size="19.5" text-anchor="end">50</text>
<text x="285.1" y="720" font-size="19.5" text-anchor="end" transform="rotate(-90 285.1 720)">50</text>
<text x="104.5" y="523" font-size="19.5" text-anchor="end">60</text>
<text x="317.6" y="720" font-size="19.5" text-anchor="end" transform="rotate(-90 317.6 720)">60</text>
<text x="104.5" y="490.6" font-size="19.5" text-anchor="end">70</text>
<text x="350" y="720" font-size="19.5" text-anchor="end" transform="rotate(-90 350 720)">70</text>
<text x="104.5" y="458.2" font-size="19.5" text-anchor="end">80</text>
<text x="382.4" y="720" font-size="19.5" text-anchor="end" transform="rotate(-90 382.4 720)">80</text>
<text x="104.5" y="425.8" font-size="19.5" text-anchor="end">90</text>
<text x="414.8" y="720" font-size="19.5" text-anchor="end" transform="rotate(-90 414.8 720)">90</text>
<text x="104.5" y="393.4" font-size="19.5" text-anchor="end">100</text>
<text x="447.2" y="720" font-size="19.5" text-anchor="end" transform="rotate(-90 447.2 720)">100</text>
<text x="104.5" y="360.9" font-size="19.5" text-anchor="end">110</text>
<text x="479.7" y="720" font-size="19.5" text-anchor="end" transform="rotate(-90 479.7 720)">110</text>
<text x="104.5" y="328.5" font-size="19.5" text-anchor="end">120</text>
<text x="512.1" y="720" font-size="19.5" text-anchor="end" transform="rotate(-90 512.1 720)">120</text>
<text x="104.5" y="296.1" font-size="19.5" text-anchor="end">130</text>
<text x="544.5" y="720" font-size="19.5" text-anchor="end" transform="rotate(-90 544.5 720)">130</text>
<text x="104.5" y="263.6" font-size="19.5" text-anchor="end">140</text>
<text x="577" y="720" font-size="19.5" text-anchor="end" transform="rotate(-90 577 720)">140</text>
<text x="104.5" y="231.2" font-size="19.5" text-anchor="end">150</text>
<text x="609.4" y="720" font-size="19.5" text-anchor="end" transform="rotate(-90 609.4 720)">150</text>
<text x="104.5" y="198.8" font-size="19.5" text-anchor="end">160</text>
<text x="641.8" y="720" font-size="19.5" text-anchor="end" transform="rotate(-90 641.8 720)">160</text>
<text x="104.5" y="166.4" font-size="19.5" text-anchor="end">170</text>
<text x="674.2" y="720" font-size="19.5" text-anchor="end" transform="rotate(-90 674.2 720)">170</text>
<text x="104.5" y="134" font-size="19.5" text-anchor="end">180</text>
<text x="706.6" y="720" font-size="19.5" text-anchor="end" transform="rotate(-90 706.6 720)">180</text>
<text x="104.5" y="101.5" font-size="19.5" text-anchor="end">190</text>
<text x="739.1" y="720" font-size="19.5" text-anchor="end" transform="rotate(-90 739.1 720)">190</text>
<text x="104.5" y="69.1" font-size="19.5" text-anchor="end">200</text>
<text x="771.5" y="720" font-size="19.5" text-anchor="end" transform="rotate(-90 771.5 720)">200</text>
<text x="104.5" y="36.7" font-size="19.5" text-anchor="end">210</text>
<text x="803.9" y="720" font-size="19.5" text-anchor="end" transform="rotate(-90 803.9 720)">210</text>
<text x="0" y="28" font-size="32" text-anchor="start" font-weight="bold">a</text>
<text x="29.2" y="357" font-size="27.5" text-anchor="middle" transform="rotate(-90 29.2 357)">Position (Mb)</text>
<g><rect x="114.3" y="806.3" width="1.1" height="86.4" fill="#F1BD47" opacity="0.9"/>
<rect x="115.1" y="802.6" width="1.1" height="90.1" fill="#F1BD47" opacity="1"/>
<rect x="115.9" y="892.7" width="1.1" height="102.4" fill="#4893BC" opacity="0.9"/>
<rect x="116.7" y="892.7" width="1.1" height="101" fill="#4893BC" opacity="0.9"/>
<rect x="117.5" y="892.7" width="1.1" height="102.9" fill="#4893BC" opacity="1"/>
<rect x="118.4" y="892.7" width="1.1" height="101" fill="#4893BC" opacity="1"/>
<rect x="119.2" y="892.7" width="1.1" height="103.9" fill="#4893BC" opacity="0.9"/>
<rect x="120" y="892.7" width="1.1" height="104.1" fill="#4893BC" opacity="0.9"/>
<rect x="120.8" y="892.7" width="1.1" height="106.7" fill="#4893BC" opacity="0.9"/>
<rect x="121.6" y="892.7" width="1.1" height="103.7" fill="#4893BC" opacity="1"/>
<rect x="122.4" y="892.7" width="1.1" height="105.9" fill="#4893BC" opacity="1"/>
<rect x="123.2" y="892.7" width="1.1" height="103.7" fill="#4893BC" opacity="0.9"/>
<rect x="124" y="892.7" width="1.1" height="105" fill="#4893BC" opacity="0.9"/>
<rect x="124.9" y="892.7" width="1.1" height="103.9" fill="#4893BC" opacity="0.9"/>
<rect x="125.7" y="892.7" width="1.1" height="103" fill="#4893BC" opacity="0.9"/>
<rect x="126.5" y="892.7" width="1.1" height="105.2" fill="#4893BC" opacity="0.9"/>
<rect x="127.3" y="892.7" width="1.1" height="104.2" fill="#4893BC" opacity="0.9"/>
<rect x="128.1" y="892.7" width="1.1" height="104.7" fill="#4893BC" opacity="0.9"/>
<rect x="128.9" y="892.7" width="1.1" height="103.5" fill="#4893BC" opacity="1"/>
<rect x="129.7" y="892.7" width="1.1" height="106" fill="#4893BC" opacity="1"/>
<rect x="130.5" y="892.7" width="1.1" height="105.9" fill="#4893BC" opacity="0.9"/>
<rect x="131.3" y="892.7" width="1.1" height="103.3" fill="#4893BC" opacity="0.9"/>
<rect x="132.2" y="892.7" width="1.1" height="102.6" fill="#4893BC" opacity="1"/>
<rect x="133" y="892.7" width="1.1" height="106" fill="#4893BC" opacity="1"/>
<rect x="133.8" y="892.7" width="1.1" height="104.4" fill="#4893BC" opacity="1"/>
<rect x="134.6" y="830.9" width="1.1" height="61.8" fill="#F1BD47" opacity="0.9"/>
<rect x="135.4" y="892.7" width="1.1" height="101.5" fill="#4893BC" opacity="0.9"/>
<rect x="136.2" y="892.7" width="1.1" height="102.2" fill="#4893BC" opacity="1"/>
<rect x="137" y="892.7" width="1.1" height="104.9" fill="#4893BC" opacity="1"/>
<rect x="137.8" y="892.7" width="1.1" height="107.8" fill="#4893BC" opacity="1"/>
<rect x="138.7" y="892.7" width="1.1" height="104.4" fill="#4893BC" opacity="1"/>
<rect x="139.5" y="892.7" width="1.1" height="105.8" fill="#4893BC" opacity="1"/>
<rect x="140.3" y="892.7" width="1.1" height="103.6" fill="#4893BC" opacity="1"/>
<rect x="141.1" y="892.7" width="1.1" height="102.2" fill="#4893BC" opacity="1"/>
<rect x="141.9" y="892.7" width="1.1" height="108.2" fill="#4893BC" opacity="1"/>
<rect x="142.7" y="892.7" width="1.1" height="101.5" fill="#4893BC" opacity="0.9"/>
<rect x="143.5" y="892.7" width="1.1" height="106.8" fill="#4893BC" opacity="0.9"/>
<rect x="144.3" y="892.7" width="1.1" height="102.4" fill="#4893BC" opacity="0.9"/>
<rect x="145.1" y="892.7" width="1.1" height="107.6" fill="#4893BC" opacity="1"/>
<rect x="146" y="892.7" width="1.1" height="103.9" fill="#4893BC" opacity="0.9"/>
<rect x="146.8" y="892.7" width="1.1" height="106.3" fill="#4893BC" opacity="1"/>
<rect x="147.6" y="892.7" width="1.1" height="102.9" fill="#4893BC" opacity="1"/>
<rect x="148.4" y="892.7" width="1.1" height="104.1" fill="#4893BC" opacity="0.9"/>
<rect x="149.2" y="892.7" width="1.1" height="101.4" fill="#4893BC" opacity="1"/>
<rect x="150" y="892.7" width="1.1" height="107.1" fill="#4893BC" opacity="0.9"/>
<rect x="150.8" y="892.7" width="1.1" height="106" fill="#4893BC" opacity="1"/>
<rect x="151.6" y="892.7" width="1.1" height="101.3" fill="#4893BC" opacity="1"/>
<rect x="152.5" y="798.1" width="1.1" height="94.6" fill="#F1BD47" opacity="0.9"/>
<rect x="154.1" y="892.7" width="1.1" height="93.1" fill="#4893BC" opacity="1"/>
<rect x="154.9" y="892.7" width="1.1" height="92" fill="#4893BC" opacity="0.9"/>
<rect x="156" y="892.7" width="0.5" height="78.9" fill="#4893BC" opacity="0.5"/>
<rect x="157.3" y="789.1" width="1.1" height="103.6" fill="#F1BD47" opacity="0.9"/>
<rect x="158.1" y="783.3" width="1.1" height="109.4" fill="#F1BD47" opacity="1"/>
<rect x="158.9" y="788.5" width="1.1" height="104.2" fill="#F1BD47" opacity="1"/>
<rect x="159.8" y="790" width="1.1" height="102.7" fill="#F1BD47" opacity="0.9"/>
<rect x="160.6" y="784.2" width="1.1" height="108.5" fill="#F1BD47" opacity="0.9"/>
<rect x="161.4" y="787.4" width="1.1" height="105.3" fill="#F1BD47" opacity="1"/>
<rect x="162.2" y="784.2" width="1.1" height="108.5" fill="#F1BD47" opacity="1"/>
<rect x="163" y="788.9" width="1.1" height="103.8" fill="#F1BD47" opacity="1"/>
<rect x="163.8" y="788" width="1.1" height="104.7" fill="#F1BD47" opacity="1"/>
<rect x="164.6" y="784.2" width="1.1" height="108.5" fill="#F1BD47" opacity="0.9"/>
<rect x="165.4" y="785" width="1.1" height="107.7" fill="#F1BD47" opacity="0.9"/>
<rect x="166.3" y="807.7" width="1.1" height="85" fill="#F1BD47" opacity="1"/>
<rect x="167.1" y="792.3" width="1.1" height="100.4" fill="#F1BD47" opacity="0.9"/>
<rect x="167.9" y="809.9" width="1.1" height="82.8" fill="#F1BD47" opacity="1"/>
<rect x="168.7" y="809.7" width="1.1" height="83" fill="#F1BD47" opacity="0.9"/>
<rect x="169.5" y="809.6" width="1.1" height="83.1" fill="#F1BD47" opacity="0.9"/>
<rect x="170.3" y="892.7" width="1.1" height="53.6" fill="#4893BC" opacity="1"/>
<rect x="171.4" y="892.7" width="0.5" height="34.4" fill="#4893BC" opacity="0.5"/>
<rect x="171.9" y="805" width="1.1" height="87.7" fill="#F1BD47" opacity="1"/>
<rect x="172.7" y="806.2" width="1.1" height="86.5" fill="#F1BD47" opacity="0.9"/>
<rect x="173.6" y="811.3" width="1.1" height="81.4" fill="#F1BD47" opacity="0.9"/>
<rect x="174.4" y="807.6" width="1.1" height="85.1" fill="#F1BD47" opacity="1"/>
<rect x="176.3" y="892.7" width="0.5" height="22.9" fill="#4893BC" opacity="0.5"/>
<rect x="176.8" y="812" width="1.1" height="80.7" fill="#F1BD47" opacity="1"/>
<rect x="177.6" y="815" width="1.1" height="77.7" fill="#F1BD47" opacity="1"/>
<rect x="178.4" y="811.2" width="1.1" height="81.5" fill="#F1BD47" opacity="1"/>
<rect x="179.2" y="816.7" width="1.1" height="76" fill="#F1BD47" opacity="1"/>
<rect x="180.9" y="777.2" width="1.1" height="115.5" fill="#F1BD47" opacity="0.9"/>
<rect x="181.7" y="774.8" width="1.1" height="117.9" fill="#F1BD47" opacity="0.9"/>
<rect x="182.5" y="772.4" width="1.1" height="120.3" fill="#F1BD47" opacity="1"/>
<rect x="183.3" y="774.5" width="1.1" height="118.2" fill="#F1BD47" opacity="1"/>
<rect x="184.1" y="773.5" width="1.1" height="119.2" fill="#F1BD47" opacity="0.9"/>
<rect x="184.9" y="780.4" width="1.1" height="112.3" fill="#F1BD47" opacity="1"/>
<rect x="185.7" y="777" width="1.1" height="115.7" fill="#F1BD47" opacity="1"/>
<rect x="186.5" y="774.1" width="1.1" height="118.6" fill="#F1BD47" opacity="0.9"/>
<rect x="187.4" y="773.4" width="1.1" height="119.3" fill="#F1BD47" opacity="1"/>
<rect x="188.2" y="778.6" width="1.1" height="114.1" fill="#F1BD47" opacity="1"/>
<rect x="189" y="892.7" width="1.1" height="93.3" fill="#4893BC" opacity="1"/>
<rect x="189.8" y="892.7" width="1.1" height="110.9" fill="#4893BC" opacity="0.9"/>
<rect x="190.6" y="892.7" width="1.1" height="102.7" fill="#4893BC" opacity="0.9"/>
<rect x="193" y="892.7" width="1.1" height="115.7" fill="#4893BC" opacity="1"/>
<rect x="193.9" y="892.7" width="1.1" height="106.5" fill="#4893BC" opacity="0.9"/>
<rect x="194.7" y="892.7" width="1.1" height="96.3" fill="#4893BC" opacity="1"/>
<rect x="195.5" y="866.1" width="1.1" height="26.6" fill="#F1BD47" opacity="1"/>
<rect x="197.9" y="892.7" width="1.1" height="108.2" fill="#4893BC" opacity="1"/>
<rect x="198.7" y="892.7" width="1.1" height="105.9" fill="#4893BC" opacity="1"/>
<rect x="199.8" y="892.7" width="0.5" height="61.3" fill="#4893BC" opacity="0.5"/>
<rect x="200.3" y="892.7" width="1.1" height="94.2" fill="#4893BC" opacity="0.9"/>
<rect x="201.2" y="892.7" width="1.1" height="95.4" fill="#4893BC" opacity="0.9"/>
<rect x="202" y="892.7" width="1.1" height="97.4" fill="#4893BC" opacity="1"/>
<rect x="202.8" y="892.7" width="1.1" height="113.2" fill="#4893BC" opacity="0.9"/>
<rect x="203.9" y="815.7" width="0.5" height="77" fill="#F1BD47" opacity="0.5"/>
<rect x="204.4" y="783.5" width="1.1" height="109.2" fill="#F1BD47" opacity="0.9"/>
<rect x="206" y="892.7" width="1.1" height="105.8" fill="#4893BC" opacity="1"/>
<rect x="206.8" y="892.7" width="1.1" height="99.7" fill="#4893BC" opacity="1"/>
<rect x="207.7" y="892.7" width="1.1" height="111.2" fill="#4893BC" opacity="1"/>
<rect x="208.5" y="892.7" width="1.1" height="106.1" fill="#4893BC" opacity="1"/>
<rect x="209.3" y="892.7" width="1.1" height="106.7" fill="#4893BC" opacity="0.9"/>
<rect x="210.1" y="892.7" width="1.1" height="102.7" fill="#4893BC" opacity="1"/>
<rect x="211.2" y="892.7" width="0.5" height="26.5" fill="#4893BC" opacity="0.5"/>
<rect x="211.7" y="892.7" width="1.1" height="96.8" fill="#4893BC" opacity="1"/>
<rect x="212.5" y="892.7" width="1.1" height="105.7" fill="#4893BC" opacity="0.9"/>
<rect x="213.3" y="892.7" width="1.1" height="102" fill="#4893BC" opacity="1"/>
<rect x="214.1" y="892.7" width="1.1" height="106.7" fill="#4893BC" opacity="0.9"/>
<rect x="215.2" y="892.7" width="0.5" height="67.3" fill="#4893BC" opacity="0.5"/>
<rect x="215.8" y="892.7" width="1.1" height="100.3" fill="#4893BC" opacity="0.9"/>
<rect x="216.6" y="892.7" width="1.1" height="92.4" fill="#4893BC" opacity="1"/>
<rect x="217.4" y="796.2" width="1.1" height="96.5" fill="#F1BD47" opacity="1"/>
<rect x="218.2" y="803.5" width="1.1" height="89.2" fill="#F1BD47" opacity="0.9"/>
<rect x="219" y="892.7" width="1.1" height="107.6" fill="#4893BC" opacity="0.9"/>
<rect x="219.8" y="892.7" width="1.1" height="104.6" fill="#4893BC" opacity="1"/>
<rect x="220.6" y="892.7" width="1.1" height="107.5" fill="#4893BC" opacity="1"/>
<rect x="221.5" y="892.7" width="1.1" height="110.2" fill="#4893BC" opacity="0.9"/>
<rect x="222.3" y="892.7" width="1.1" height="110.2" fill="#4893BC" opacity="0.9"/>
<rect x="223.1" y="892.7" width="1.1" height="107.4" fill="#4893BC" opacity="0.9"/>
<rect x="223.9" y="892.7" width="1.1" height="108.7" fill="#4893BC" opacity="0.9"/>
<rect x="224.7" y="892.7" width="1.1" height="108.7" fill="#4893BC" opacity="1"/>
<rect x="225.5" y="892.7" width="1.1" height="110.3" fill="#4893BC" opacity="0.9"/>
<rect x="226.3" y="892.7" width="1.1" height="111.4" fill="#4893BC" opacity="0.9"/>
<rect x="227.1" y="892.7" width="1.1" height="112.3" fill="#4893BC" opacity="1"/>
<rect x="227.9" y="892.7" width="1.1" height="106.9" fill="#4893BC" opacity="1"/>
<rect x="228.8" y="782.7" width="1.1" height="110" fill="#F1BD47" opacity="0.9"/>
<rect x="229.6" y="786.3" width="1.1" height="106.4" fill="#F1BD47" opacity="0.9"/>
<rect x="230.4" y="781.6" width="1.1" height="111.1" fill="#F1BD47" opacity="1"/>
<rect x="231.2" y="786.7" width="1.1" height="106" fill="#F1BD47" opacity="1"/>
<rect x="232" y="782.9" width="1.1" height="109.8" fill="#F1BD47" opacity="0.9"/>
<rect x="232.8" y="892.7" width="1.1" height="99.9" fill="#4893BC" opacity="1"/>
<rect x="234.4" y="892.7" width="1.1" height="98.1" fill="#4893BC" opacity="0.9"/>
<rect x="235.3" y="892.7" width="1.1" height="92.7" fill="#4893BC" opacity="1"/>
<rect x="236.3" y="892.7" width="0.5" height="66.2" fill="#4893BC" opacity="0.5"/>
<rect x="237.9" y="892.7" width="0.5" height="73.1" fill="#4893BC" opacity="0.5"/>
<rect x="238.5" y="785.6" width="1.1" height="107.1" fill="#F1BD47" opacity="0.9"/>
<rect x="239.3" y="785.4" width="1.1" height="107.3" fill="#F1BD47" opacity="0.9"/>
<rect x="240.1" y="791.5" width="1.1" height="101.2" fill="#F1BD47" opacity="0.9"/>
<rect x="240.9" y="794.2" width="1.1" height="98.5" fill="#F1BD47" opacity="0.9"/>
<rect x="241.7" y="782.5" width="1.1" height="110.2" fill="#F1BD47" opacity="0.9"/>
<rect x="242.6" y="783.9" width="1.1" height="108.8" fill="#F1BD47" opacity="0.9"/>
<rect x="243.4" y="784.3" width="1.1" height="108.4" fill="#F1BD47" opacity="0.9"/>
<rect x="244.2" y="794.5" width="1.1" height="98.2" fill="#F1BD47" opacity="1"/>
<rect x="245" y="782.9" width="1.1" height="109.8" fill="#F1BD47" opacity="1"/>
<rect x="245.8" y="795.9" width="1.1" height="96.8" fill="#F1BD47" opacity="0.9"/>
<rect x="246.6" y="800.8" width="1.1" height="91.9" fill="#F1BD47" opacity="1"/>
<rect x="247.4" y="892.7" width="1.1" height="91.5" fill="#4893BC" opacity="0.9"/>
<rect x="248.2" y="892.7" width="1.1" height="87.6" fill="#4893BC" opacity="0.9"/>
<rect x="249.1" y="892.7" width="1.1" height="83.8" fill="#4893BC" opacity="0.9"/>
<rect x="249.9" y="892.7" width="1.1" height="104.7" fill="#4893BC" opacity="0.9"/>
<rect x="250.7" y="892.7" width="1.1" height="103.9" fill="#4893BC" opacity="1"/>
<rect x="251.5" y="866.8" width="1.1" height="25.9" fill="#F1BD47" opacity="0.9"/>
<rect x="252.3" y="892.7" width="1.1" height="86" fill="#4893BC" opacity="1"/>
<rect x="253.9" y="892.7" width="1.1" height="100.6" fill="#4893BC" opacity="1"/>
<rect x="254.7" y="892.7" width="1.1" height="84.8" fill="#4893BC" opacity="1"/>
<rect x="255.5" y="892.7" width="1.1" height="99.5" fill="#4893BC" opacity="1"/>
<rect x="256.4" y="892.7" width="1.1" height="95.9" fill="#4893BC" opacity="1"/>
<rect x="257.2" y="802.3" width="1.1" height="90.4" fill="#F1BD47" opacity="0.9"/>
<rect x="258" y="805.4" width="1.1" height="87.3" fill="#F1BD47" opacity="0.9"/>
<rect x="258.8" y="791.6" width="1.1" height="101.1" fill="#F1BD47" opacity="1"/>
<rect x="259.6" y="789.2" width="1.1" height="103.5" fill="#F1BD47" opacity="0.9"/>
<rect x="260.4" y="807.7" width="1.1" height="85" fill="#F1BD47" opacity="0.9"/>
<rect x="261.2" y="796.9" width="1.1" height="95.8" fill="#F1BD47" opacity="0.9"/>
<rect x="262" y="892.7" width="1.1" height="90.4" fill="#4893BC" opacity="1"/>
<rect x="264.5" y="892.7" width="1.1" height="91.4" fill="#4893BC" opacity="1"/>
<rect x="265.3" y="892.7" width="1.1" height="97" fill="#4893BC" opacity="0.9"/>
<rect x="266.1" y="892.7" width="1.1" height="103.4" fill="#4893BC" opacity="0.9"/>
<rect x="268" y="810.4" width="0.5" height="82.3" fill="#F1BD47" opacity="0.5"/>
<rect x="268.5" y="792.7" width="1.1" height="100" fill="#F1BD47" opacity="0.9"/>
<rect x="269.3" y="805.6" width="1.1" height="87.1" fill="#F1BD47" opacity="1"/>
<rect x="270.2" y="800.7" width="1.1" height="92" fill="#F1BD47" opacity="1"/>
<rect x="271.2" y="836.6" width="0.5" height="56.1" fill="#F1BD47" opacity="0.5"/>
<rect x="271.8" y="796.8" width="1.1" height="95.9" fill="#F1BD47" opacity="0.9"/>
<rect x="272.9" y="818.9" width="0.5" height="73.8" fill="#F1BD47" opacity="0.5"/>
<rect x="273.7" y="892.7" width="0.5" height="65" fill="#4893BC" opacity="0.5"/>
<rect x="274.2" y="892.7" width="1.1" height="89.4" fill="#4893BC" opacity="1"/>
<rect x="275.8" y="836.4" width="1.1" height="56.3" fill="#F1BD47" opacity="0.9"/>
<rect x="276.6" y="828.4" width="1.1" height="64.3" fill="#F1BD47" opacity="0.9"/>
<rect x="278.3" y="892.7" width="1.1" height="94.8" fill="#4893BC" opacity="0.9"/>
<rect x="279.3" y="892.7" width="0.5" height="57.1" fill="#4893BC" opacity="0.5"/>
<rect x="279.9" y="818.4" width="1.1" height="74.3" fill="#F1BD47" opacity="0.9"/>
<rect x="281" y="843.1" width="0.5" height="49.6" fill="#F1BD47" opacity="0.5"/>
<rect x="283.1" y="892.7" width="1.1" height="100.6" fill="#4893BC" opacity="0.9"/>
<rect x="284" y="892.7" width="1.1" height="100.9" fill="#4893BC" opacity="1"/>
<rect x="285.8" y="832.3" width="0.5" height="60.4" fill="#F1BD47" opacity="0.5"/>
<rect x="286.7" y="842.4" width="0.5" height="50.3" fill="#F1BD47" opacity="0.5"/>
<rect x="287.2" y="892.7" width="1.1" height="81" fill="#4893BC" opacity="1"/>
<rect x="288" y="892.7" width="1.1" height="74.3" fill="#4893BC" opacity="1"/>
<rect x="289.6" y="852.8" width="1.1" height="39.9" fill="#F1BD47" opacity="1"/>
<rect x="292.1" y="783.6" width="1.1" height="109.1" fill="#F1BD47" opacity="0.9"/>
<rect x="292.9" y="783.6" width="1.1" height="109.1" fill="#F1BD47" opacity="1"/>
<rect x="293.7" y="789.5" width="1.1" height="103.2" fill="#F1BD47" opacity="0.9"/>
<rect x="294.8" y="892.7" width="0.5" height="37.4" fill="#4893BC" opacity="0.5"/>
<rect x="296.1" y="785.8" width="1.1" height="106.9" fill="#F1BD47" opacity="0.9"/>
<rect x="296.9" y="789" width="1.1" height="103.7" fill="#F1BD47" opacity="0.9"/>
<rect x="297.8" y="784.6" width="1.1" height="108.1" fill="#F1BD47" opacity="1"/>
<rect x="298.6" y="787.9" width="1.1" height="104.8" fill="#F1BD47" opacity="1"/>
<rect x="299.4" y="783.2" width="1.1" height="109.5" fill="#F1BD47" opacity="1"/>
<rect x="301" y="766.3" width="1.1" height="126.4" fill="#F1BD47" opacity="0.9"/>
<rect x="301.8" y="782" width="1.1" height="110.7" fill="#F1BD47" opacity="1"/>
<rect x="302.6" y="774.2" width="1.1" height="118.5" fill="#F1BD47" opacity="1"/>
<rect x="303.4" y="774.4" width="1.1" height="118.3" fill="#F1BD47" opacity="1"/>
<rect x="304.2" y="790.3" width="1.1" height="102.4" fill="#F1BD47" opacity="1"/>
<rect x="305.1" y="768.4" width="1.1" height="124.3" fill="#F1BD47" opacity="1"/>
<rect x="305.9" y="771.5" width="1.1" height="121.2" fill="#F1BD47" opacity="1"/>
<rect x="306.7" y="774.5" width="1.1" height="118.2" fill="#F1BD47" opacity="0.9"/>
<rect x="307.5" y="892.7" width="1.1" height="89.2" fill="#4893BC" opacity="0.9"/>
<rect x="308.3" y="892.7" width="1.1" height="72" fill="#4893BC" opacity="1"/>
<rect x="311.8" y="813.5" width="0.5" height="79.2" fill="#F1BD47" opacity="0.5"/>
<rect x="312.4" y="793.2" width="1.1" height="99.5" fill="#F1BD47" opacity="0.9"/>
<rect x="314" y="892.7" width="1.1" height="129.3" fill="#4893BC" opacity="0.9"/>
<rect x="314.8" y="892.7" width="1.1" height="133.4" fill="#4893BC" opacity="0.9"/>
<rect x="315.6" y="892.7" width="1.1" height="117.5" fill="#4893BC" opacity="0.9"/>
<rect x="316.4" y="892.7" width="1.1" height="125" fill="#4893BC" opacity="1"/>
<rect x="317.2" y="892.7" width="1.1" height="137.6" fill="#4893BC" opacity="0.9"/>
<rect x="318" y="892.7" width="1.1" height="112.1" fill="#4893BC" opacity="1"/>
<rect x="318.9" y="892.7" width="1.1" height="121.7" fill="#4893BC" opacity="1"/>
<rect x="319.7" y="892.7" width="1.1" height="140.8" fill="#4893BC" opacity="1"/>
<rect x="320.5" y="892.7" width="1.1" height="132.3" fill="#4893BC" opacity="0.9"/>
<rect x="321.3" y="790.6" width="1.1" height="102.1" fill="#F1BD47" opacity="1"/>
<rect x="322.1" y="805.2" width="1.1" height="87.5" fill="#F1BD47" opacity="1"/>
<rect x="322.9" y="892.7" width="1.1" height="132.1" fill="#4893BC" opacity="0.9"/>
<rect x="323.7" y="892.7" width="1.1" height="129.8" fill="#4893BC" opacity="0.9"/>
<rect x="324.5" y="892.7" width="1.1" height="131.2" fill="#4893BC" opacity="1"/>
<rect x="325.4" y="892.7" width="1.1" height="121" fill="#4893BC" opacity="1"/>
<rect x="326.2" y="892.7" width="1.1" height="73.9" fill="#4893BC" opacity="0.9"/>
<rect x="327" y="892.7" width="1.1" height="71.7" fill="#4893BC" opacity="1"/>
<rect x="328.6" y="813.8" width="1.1" height="78.9" fill="#F1BD47" opacity="0.9"/>
<rect x="330.5" y="839.1" width="0.5" height="53.6" fill="#F1BD47" opacity="0.5"/>
<rect x="331.8" y="892.7" width="1.1" height="125.9" fill="#4893BC" opacity="1"/>
<rect x="332.9" y="892.7" width="0.5" height="100.9" fill="#4893BC" opacity="0.5"/>
<rect x="333.7" y="892.7" width="0.5" height="76.7" fill="#4893BC" opacity="0.5"/>
<rect x="334.5" y="892.7" width="0.5" height="71.7" fill="#4893BC" opacity="0.5"/>
<rect x="335.9" y="892.7" width="1.1" height="119.3" fill="#4893BC" opacity="1"/>
<rect x="338.6" y="846.9" width="0.5" height="45.8" fill="#F1BD47" opacity="0.5"/>
<rect x="340" y="892.7" width="1.1" height="95.5" fill="#4893BC" opacity="1"/>
<rect x="340.8" y="892.7" width="1.1" height="112.6" fill="#4893BC" opacity="0.9"/>
<rect x="341.6" y="892.7" width="1.1" height="104" fill="#4893BC" opacity="1"/>
<rect x="342.4" y="892.7" width="1.1" height="104" fill="#4893BC" opacity="0.9"/>
<rect x="343.2" y="892.7" width="1.1" height="103.6" fill="#4893BC" opacity="1"/>
<rect x="344" y="892.7" width="1.1" height="102.9" fill="#4893BC" opacity="1"/>
<rect x="344.8" y="892.7" width="1.1" height="121" fill="#4893BC" opacity="0.9"/>
<rect x="345.6" y="892.7" width="1.1" height="120.9" fill="#4893BC" opacity="0.9"/>
<rect x="349.7" y="892.7" width="1.1" height="99.5" fill="#4893BC" opacity="0.9"/>
<rect x="350.5" y="892.7" width="1.1" height="104.9" fill="#4893BC" opacity="0.9"/>
<rect x="353" y="795.1" width="1.1" height="97.6" fill="#F1BD47" opacity="1"/>
<rect x="353.8" y="800.9" width="1.1" height="91.8" fill="#F1BD47" opacity="1"/>
<rect x="354.6" y="794.6" width="1.1" height="98.1" fill="#F1BD47" opacity="1"/>
<rect x="355.4" y="892.7" width="1.1" height="62.3" fill="#4893BC" opacity="0.9"/>
<rect x="356.5" y="892.7" width="0.5" height="45.3" fill="#4893BC" opacity="0.5"/>
<rect x="357.8" y="892.7" width="1.1" height="123.3" fill="#4893BC" opacity="1"/>
<rect x="358.6" y="892.7" width="1.1" height="121.5" fill="#4893BC" opacity="1"/>
<rect x="359.4" y="892.7" width="1.1" height="124.5" fill="#4893BC" opacity="1"/>
<rect x="360.3" y="892.7" width="1.1" height="121.4" fill="#4893BC" opacity="1"/>
<rect x="361.1" y="892.7" width="1.1" height="117.8" fill="#4893BC" opacity="0.9"/>
<rect x="361.9" y="892.7" width="1.1" height="121.6" fill="#4893BC" opacity="1"/>
<rect x="362.7" y="892.7" width="1.1" height="117.2" fill="#4893BC" opacity="1"/>
<rect x="363.5" y="892.7" width="1.1" height="121.1" fill="#4893BC" opacity="0.9"/>
<rect x="364.3" y="892.7" width="1.1" height="125.4" fill="#4893BC" opacity="1"/>
<rect x="365.1" y="892.7" width="1.1" height="117.4" fill="#4893BC" opacity="0.9"/>
<rect x="365.9" y="892.7" width="1.1" height="121.2" fill="#4893BC" opacity="1"/>
<rect x="366.8" y="892.7" width="1.1" height="121.3" fill="#4893BC" opacity="1"/>
<rect x="367.6" y="892.7" width="1.1" height="119.7" fill="#4893BC" opacity="0.9"/>
<rect x="368.4" y="789.3" width="1.1" height="103.4" fill="#F1BD47" opacity="0.9"/>
<rect x="369.2" y="780.4" width="1.1" height="112.3" fill="#F1BD47" opacity="0.9"/>
<rect x="370" y="792.3" width="1.1" height="100.4" fill="#F1BD47" opacity="1"/>
<rect x="371.1" y="853.3" width="0.5" height="39.4" fill="#F1BD47" opacity="0.5"/>
<rect x="371.6" y="776.7" width="1.1" height="116" fill="#F1BD47" opacity="1"/>
<rect x="374.1" y="892.7" width="1.1" height="101.7" fill="#4893BC" opacity="1"/>
<rect x="375.7" y="892.7" width="1.1" height="122.5" fill="#4893BC" opacity="1"/>
<rect x="377.6" y="892.7" width="0.5" height="67.8" fill="#4893BC" opacity="0.5"/>
<rect x="379.7" y="892.7" width="1.1" height="107.8" fill="#4893BC" opacity="0.9"/>
<rect x="381.4" y="892.7" width="1.1" height="106" fill="#4893BC" opacity="0.9"/>
<rect x="382.2" y="892.7" width="1.1" height="115.3" fill="#4893BC" opacity="0.9"/>
<rect x="383" y="892.7" width="1.1" height="120.2" fill="#4893BC" opacity="0.9"/>
<rect x="384.1" y="892.7" width="0.5" height="86.7" fill="#4893BC" opacity="0.5"/>
<rect x="385.4" y="892.7" width="1.1" height="115" fill="#4893BC" opacity="0.9"/>
<rect x="386.2" y="892.7" width="1.1" height="111.3" fill="#4893BC" opacity="1"/>
<rect x="387" y="892.7" width="1.1" height="108.2" fill="#4893BC" opacity="0.9"/>
<rect x="387.9" y="892.7" width="1.1" height="114.1" fill="#4893BC" opacity="1"/>
<rect x="388.7" y="892.7" width="1.1" height="115" fill="#4893BC" opacity="1"/>
<rect x="389.7" y="865.5" width="0.5" height="27.2" fill="#F1BD47" opacity="0.5"/>
<rect x="390.3" y="819.2" width="1.1" height="73.5" fill="#F1BD47" opacity="1"/>
<rect x="391.4" y="860.2" width="0.5" height="32.5" fill="#F1BD47" opacity="0.5"/>
<rect x="391.9" y="892.7" width="1.1" height="112.1" fill="#4893BC" opacity="0.9"/>
<rect x="392.7" y="892.7" width="1.1" height="114.9" fill="#4893BC" opacity="1"/>
<rect x="393.5" y="892.7" width="1.1" height="100.9" fill="#4893BC" opacity="1"/>
<rect x="394.4" y="892.7" width="1.1" height="99.2" fill="#4893BC" opacity="1"/>
<rect x="396.8" y="892.7" width="1.1" height="99.4" fill="#4893BC" opacity="1"/>
<rect x="397.6" y="892.7" width="1.1" height="96.8" fill="#4893BC" opacity="1"/>
<rect x="398.4" y="892.7" width="1.1" height="99" fill="#4893BC" opacity="1"/>
<rect x="399.2" y="892.7" width="1.1" height="120.2" fill="#4893BC" opacity="0.9"/>
<rect x="400" y="892.7" width="1.1" height="118" fill="#4893BC" opacity="0.9"/>
<rect x="401.1" y="892.7" width="0.5" height="74.2" fill="#4893BC" opacity="0.5"/>
<rect x="401.7" y="892.7" width="1.1" height="100.9" fill="#4893BC" opacity="1"/>
<rect x="404.4" y="892.7" width="0.5" height="32.9" fill="#4893BC" opacity="0.5"/>
<rect x="404.9" y="892.7" width="1.1" height="109.3" fill="#4893BC" opacity="0.9"/>
<rect x="405.7" y="892.7" width="1.1" height="97.2" fill="#4893BC" opacity="0.9"/>
<rect x="406.5" y="892.7" width="1.1" height="102.3" fill="#4893BC" opacity="1"/>
<rect x="407.3" y="892.7" width="1.1" height="116.3" fill="#4893BC" opacity="0.9"/>
<rect x="408.4" y="892.7" width="0.5" height="54.7" fill="#4893BC" opacity="0.5"/>
<rect x="409" y="892.7" width="1.1" height="114.2" fill="#4893BC" opacity="1"/>
<rect x="410.6" y="813.7" width="1.1" height="79" fill="#F1BD47" opacity="0.9"/>
<rect x="411.4" y="819.2" width="1.1" height="73.5" fill="#F1BD47" opacity="0.9"/>
<rect x="412.2" y="807.6" width="1.1" height="85.1" fill="#F1BD47" opacity="1"/>
<rect x="414.1" y="892.7" width="0.5" height="34.3" fill="#4893BC" opacity="0.5"/>
<rect x="416.3" y="794.5" width="1.1" height="98.2" fill="#F1BD47" opacity="0.9"/>
<rect x="417.1" y="805.1" width="1.1" height="87.6" fill="#F1BD47" opacity="1"/>
<rect x="417.9" y="793.4" width="1.1" height="99.3" fill="#F1BD47" opacity="1"/>
<rect x="418.7" y="806.5" width="1.1" height="86.2" fill="#F1BD47" opacity="1"/>
<rect x="420.3" y="798.7" width="1.1" height="94" fill="#F1BD47" opacity="1"/>
<rect x="422.8" y="892.7" width="1.1" height="115" fill="#4893BC" opacity="0.9"/>
<rect x="423.6" y="892.7" width="1.1" height="114.8" fill="#4893BC" opacity="1"/>
<rect x="424.4" y="892.7" width="1.1" height="110.5" fill="#4893BC" opacity="0.9"/>
<rect x="425.2" y="892.7" width="1.1" height="113.1" fill="#4893BC" opacity="0.9"/>
<rect x="426" y="892.7" width="1.1" height="108.6" fill="#4893BC" opacity="0.9"/>
<rect x="426.8" y="892.7" width="1.1" height="109.2" fill="#4893BC" opacity="0.9"/>
<rect x="427.6" y="892.7" width="1.1" height="109.4" fill="#4893BC" opacity="1"/>
<rect x="428.4" y="892.7" width="1.1" height="111.8" fill="#4893BC" opacity="0.9"/>
<rect x="429.3" y="892.7" width="1.1" height="110.6" fill="#4893BC" opacity="1"/>
<rect x="430.9" y="786.4" width="1.1" height="106.3" fill="#F1BD47" opacity="1"/>
<rect x="431.7" y="783.7" width="1.1" height="109" fill="#F1BD47" opacity="0.9"/>
<rect x="432.5" y="784" width="1.1" height="108.7" fill="#F1BD47" opacity="0.9"/>
<rect x="433.3" y="782.1" width="1.1" height="110.6" fill="#F1BD47" opacity="1"/>
<rect x="434.1" y="781.2" width="1.1" height="111.5" fill="#F1BD47" opacity="1"/>
<rect x="434.9" y="786.3" width="1.1" height="106.4" fill="#F1BD47" opacity="0.9"/>
<rect x="435.8" y="782.2" width="1.1" height="110.5" fill="#F1BD47" opacity="1"/>
<rect x="436.6" y="782.7" width="1.1" height="110" fill="#F1BD47" opacity="1"/>
<rect x="437.4" y="783.9" width="1.1" height="108.8" fill="#F1BD47" opacity="0.9"/>
<rect x="438.2" y="788" width="1.1" height="104.7" fill="#F1BD47" opacity="0.9"/>
<rect x="439" y="783.2" width="1.1" height="109.5" fill="#F1BD47" opacity="0.9"/>
<rect x="439.8" y="783.2" width="1.1" height="109.5" fill="#F1BD47" opacity="1"/>
<rect x="440.6" y="783" width="1.1" height="109.7" fill="#F1BD47" opacity="1"/>
<rect x="441.4" y="787.1" width="1.1" height="105.6" fill="#F1BD47" opacity="0.9"/>
<rect x="442.2" y="780.4" width="1.1" height="112.3" fill="#F1BD47" opacity="1"/>
<rect x="443.1" y="780.9" width="1.1" height="111.8" fill="#F1BD47" opacity="0.9"/>
<rect x="443.9" y="784.1" width="1.1" height="108.6" fill="#F1BD47" opacity="0.9"/>
<rect x="444.7" y="781.9" width="1.1" height="110.8" fill="#F1BD47" opacity="1"/>
<rect x="445.5" y="781.5" width="1.1" height="111.2" fill="#F1BD47" opacity="0.9"/>
<rect x="446.3" y="784.4" width="1.1" height="108.3" fill="#F1BD47" opacity="1"/>
<rect x="447.1" y="783.3" width="1.1" height="109.4" fill="#F1BD47" opacity="1"/>
<rect x="447.9" y="786.5" width="1.1" height="106.2" fill="#F1BD47" opacity="1"/>
<rect x="448.7" y="780.6" width="1.1" height="112.1" fill="#F1BD47" opacity="0.9"/>
<rect x="449.6" y="783.8" width="1.1" height="108.9" fill="#F1BD47" opacity="0.9"/>
<rect x="450.4" y="783.6" width="1.1" height="109.1" fill="#F1BD47" opacity="0.9"/>
<rect x="451.2" y="787.3" width="1.1" height="105.4" fill="#F1BD47" opacity="1"/>
<rect x="452" y="784.3" width="1.1" height="108.4" fill="#F1BD47" opacity="0.9"/>
<rect x="452.8" y="781.2" width="1.1" height="111.5" fill="#F1BD47" opacity="0.9"/>
<rect x="456" y="892.7" width="1.1" height="75.4" fill="#4893BC" opacity="1"/>
<rect x="457.7" y="779.7" width="1.1" height="113" fill="#F1BD47" opacity="1"/>
<rect x="458.5" y="783.9" width="1.1" height="108.8" fill="#F1BD47" opacity="1"/>
<rect x="459.3" y="784.2" width="1.1" height="108.5" fill="#F1BD47" opacity="1"/>
<rect x="460.1" y="781.8" width="1.1" height="110.9" fill="#F1BD47" opacity="1"/>
<rect x="460.9" y="779.7" width="1.1" height="113" fill="#F1BD47" opacity="1"/>
<rect x="461.7" y="776.4" width="1.1" height="116.3" fill="#F1BD47" opacity="1"/>
<rect x="462.5" y="784.3" width="1.1" height="108.4" fill="#F1BD47" opacity="1"/>
<rect x="463.4" y="781.2" width="1.1" height="111.5" fill="#F1BD47" opacity="1"/>
<rect x="464.2" y="776.8" width="1.1" height="115.9" fill="#F1BD47" opacity="1"/>
<rect x="465" y="782.6" width="1.1" height="110.1" fill="#F1BD47" opacity="0.9"/>
<rect x="466" y="834.8" width="0.5" height="57.9" fill="#F1BD47" opacity="0.5"/>
<rect x="466.6" y="780.5" width="1.1" height="112.2" fill="#F1BD47" opacity="1"/>
<rect x="467.4" y="784.3" width="1.1" height="108.4" fill="#F1BD47" opacity="1"/>
<rect x="468.2" y="781.6" width="1.1" height="111.1" fill="#F1BD47" opacity="0.9"/>
<rect x="469.8" y="892.7" width="1.1" height="100.8" fill="#4893BC" opacity="0.9"/>
<rect x="470.7" y="892.7" width="1.1" height="98.7" fill="#4893BC" opacity="0.9"/>
<rect x="471.5" y="892.7" width="1.1" height="92.3" fill="#4893BC" opacity="0.9"/>
<rect x="472.3" y="892.7" width="1.1" height="88.7" fill="#4893BC" opacity="1"/>
<rect x="473.1" y="892.7" width="1.1" height="105.6" fill="#4893BC" opacity="1"/>
<rect x="474.2" y="892.7" width="0.5" height="81.6" fill="#4893BC" opacity="0.5"/>
<rect x="476.6" y="852.8" width="0.5" height="39.9" fill="#F1BD47" opacity="0.5"/>
<rect x="477.2" y="796.6" width="1.1" height="96.1" fill="#F1BD47" opacity="1"/>
<rect x="478.8" y="785.4" width="1.1" height="107.3" fill="#F1BD47" opacity="1"/>
<rect x="479.6" y="791.7" width="1.1" height="101" fill="#F1BD47" opacity="0.9"/>
<rect x="480.4" y="793" width="1.1" height="99.7" fill="#F1BD47" opacity="0.9"/>
<rect x="482" y="792.6" width="1.1" height="100.1" fill="#F1BD47" opacity="1"/>
<rect x="482.8" y="782.8" width="1.1" height="109.9" fill="#F1BD47" opacity="1"/>
<rect x="483.6" y="793.1" width="1.1" height="99.6" fill="#F1BD47" opacity="0.9"/>
<rect x="484.5" y="790.9" width="1.1" height="101.8" fill="#F1BD47" opacity="0.9"/>
<rect x="486.1" y="785.5" width="1.1" height="107.2" fill="#F1BD47" opacity="0.9"/>
<rect x="486.9" y="892.7" width="1.1" height="107" fill="#4893BC" opacity="0.9"/>
<rect x="487.7" y="892.7" width="1.1" height="108.7" fill="#4893BC" opacity="0.9"/>
<rect x="488.5" y="892.7" width="1.1" height="107.8" fill="#4893BC" opacity="1"/>
<rect x="489.3" y="892.7" width="1.1" height="111.8" fill="#4893BC" opacity="1"/>
<rect x="490.1" y="892.7" width="1.1" height="111.1" fill="#4893BC" opacity="1"/>
<rect x="491" y="892.7" width="1.1" height="111.4" fill="#4893BC" opacity="0.9"/>
<rect x="491.8" y="892.7" width="1.1" height="106.5" fill="#4893BC" opacity="0.9"/>
<rect x="492.6" y="892.7" width="1.1" height="108.9" fill="#4893BC" opacity="1"/>
<rect x="493.4" y="892.7" width="1.1" height="104.6" fill="#4893BC" opacity="0.9"/>
<rect x="494.2" y="892.7" width="1.1" height="108.9" fill="#4893BC" opacity="0.9"/>
<rect x="495" y="892.7" width="1.1" height="107.8" fill="#4893BC" opacity="0.9"/>
<rect x="495.8" y="892.7" width="1.1" height="108.5" fill="#4893BC" opacity="0.9"/>
<rect x="496.6" y="892.7" width="1.1" height="111.4" fill="#4893BC" opacity="1"/>
<rect x="497.4" y="892.7" width="1.1" height="107.6" fill="#4893BC" opacity="1"/>
<rect x="498.3" y="892.7" width="1.1" height="105.5" fill="#4893BC" opacity="0.9"/>
<rect x="499.1" y="892.7" width="1.1" height="104.8" fill="#4893BC" opacity="0.9"/>
<rect x="501.8" y="821.5" width="0.5" height="71.2" fill="#F1BD47" opacity="0.5"/>
<rect x="502.3" y="782.2" width="1.1" height="110.5" fill="#F1BD47" opacity="0.9"/>
<rect x="503.1" y="794.5" width="1.1" height="98.2" fill="#F1BD47" opacity="0.9"/>
<rect x="503.9" y="786.3" width="1.1" height="106.4" fill="#F1BD47" opacity="0.9"/>
<rect x="504.8" y="787.5" width="1.1" height="105.2" fill="#F1BD47" opacity="1"/>
<rect x="505.6" y="892.7" width="1.1" height="116.7" fill="#4893BC" opacity="0.9"/>
<rect x="506.4" y="892.7" width="1.1" height="101.9" fill="#4893BC" opacity="1"/>
<rect x="507.2" y="892.7" width="1.1" height="107.9" fill="#4893BC" opacity="1"/>
<rect x="508.3" y="892.7" width="0.5" height="92.8" fill="#4893BC" opacity="0.5"/>
<rect x="508.8" y="892.7" width="1.1" height="112.7" fill="#4893BC" opacity="0.9"/>
<rect x="509.6" y="892.7" width="1.1" height="100.4" fill="#4893BC" opacity="0.9"/>
<rect x="510.4" y="892.7" width="1.1" height="96.3" fill="#4893BC" opacity="1"/>
<rect x="511.2" y="892.7" width="1.1" height="100" fill="#4893BC" opacity="1"/>
<rect x="512.1" y="892.7" width="1.1" height="109.2" fill="#4893BC" opacity="0.9"/>
<rect x="512.9" y="892.7" width="1.1" height="95.5" fill="#4893BC" opacity="0.9"/>
<rect x="513.7" y="892.7" width="1.1" height="108.5" fill="#4893BC" opacity="0.9"/>
<rect x="514.5" y="892.7" width="1.1" height="97" fill="#4893BC" opacity="0.9"/>
<rect x="515.3" y="892.7" width="1.1" height="95.4" fill="#4893BC" opacity="1"/>
<rect x="516.9" y="892.7" width="1.1" height="117" fill="#4893BC" opacity="0.9"/>
<rect x="517.7" y="892.7" width="1.1" height="111.8" fill="#4893BC" opacity="1"/>
<rect x="518.6" y="892.7" width="1.1" height="94.3" fill="#4893BC" opacity="1"/>
<rect x="519.4" y="892.7" width="1.1" height="113.9" fill="#4893BC" opacity="0.9"/>
<rect x="520.2" y="892.7" width="1.1" height="96.2" fill="#4893BC" opacity="1"/>
<rect x="521.8" y="892.7" width="1.1" height="114.6" fill="#4893BC" opacity="1"/>
<rect x="522.6" y="892.7" width="1.1" height="100.4" fill="#4893BC" opacity="1"/>
<rect x="523.4" y="892.7" width="1.1" height="102.8" fill="#4893BC" opacity="1"/>
<rect x="524.2" y="892.7" width="1.1" height="106.7" fill="#4893BC" opacity="0.9"/>
<rect x="525" y="776.1" width="1.1" height="116.6" fill="#F1BD47" opacity="1"/>
<rect x="525.9" y="775.4" width="1.1" height="117.3" fill="#F1BD47" opacity="1"/>
<rect x="526.7" y="776.8" width="1.1" height="115.9" fill="#F1BD47" opacity="0.9"/>
<rect x="527.5" y="776.8" width="1.1" height="115.9" fill="#F1BD47" opacity="1"/>
<rect x="528.3" y="892.7" width="1.1" height="73.6" fill="#4893BC" opacity="0.9"/>
<rect x="529.1" y="892.7" width="1.1" height="76.5" fill="#4893BC" opacity="1"/>
<rect x="529.9" y="892.7" width="1.1" height="81.9" fill="#4893BC" opacity="0.9"/>
<rect x="530.7" y="892.7" width="1.1" height="84.9" fill="#4893BC" opacity="0.9"/>
<rect x="531.5" y="892.7" width="1.1" height="75.3" fill="#4893BC" opacity="0.9"/>
<rect x="533.2" y="787.4" width="1.1" height="105.3" fill="#F1BD47" opacity="0.9"/>
<rect x="534" y="799.8" width="1.1" height="92.9" fill="#F1BD47" opacity="0.9"/>
<rect x="535.6" y="801.4" width="1.1" height="91.3" fill="#F1BD47" opacity="1"/>
<rect x="537.2" y="892.7" width="1.1" height="105.2" fill="#4893BC" opacity="0.9"/>
<rect x="538" y="892.7" width="1.1" height="110.1" fill="#4893BC" opacity="1"/>
<rect x="539.9" y="892.7" width="0.5" height="71.9" fill="#4893BC" opacity="0.5"/>
<rect x="540.7" y="892.7" width="0.5" height="66.7" fill="#4893BC" opacity="0.5"/>
<rect x="541.3" y="892.7" width="1.1" height="100" fill="#4893BC" opacity="1"/>
<rect x="542.1" y="892.7" width="1.1" height="112.6" fill="#4893BC" opacity="0.9"/>
<rect x="543.2" y="844.1" width="0.5" height="48.6" fill="#F1BD47" opacity="0.5"/>
<rect x="543.7" y="827.5" width="1.1" height="65.2" fill="#F1BD47" opacity="0.9"/>
<rect x="546.2" y="892.7" width="1.1" height="101.1" fill="#4893BC" opacity="0.9"/>
<rect x="547.2" y="892.7" width="0.5" height="28.1" fill="#4893BC" opacity="0.5"/>
<rect x="548.6" y="892.7" width="1.1" height="97.4" fill="#4893BC" opacity="1"/>
<rect x="549.4" y="892.7" width="1.1" height="93.7" fill="#4893BC" opacity="1"/>
<rect x="550.2" y="892.7" width="1.1" height="102" fill="#4893BC" opacity="1"/>
<rect x="551" y="892.7" width="1.1" height="97.5" fill="#4893BC" opacity="0.9"/>
<rect x="551.8" y="892.7" width="1.1" height="95.2" fill="#4893BC" opacity="1"/>
<rect x="554.3" y="812.2" width="1.1" height="80.5" fill="#F1BD47" opacity="0.9"/>
<rect x="555.1" y="795.6" width="1.1" height="97.1" fill="#F1BD47" opacity="0.9"/>
<rect x="556.7" y="892.7" width="1.1" height="120.9" fill="#4893BC" opacity="0.9"/>
<rect x="557.5" y="892.7" width="1.1" height="120.8" fill="#4893BC" opacity="0.9"/>
<rect x="558.3" y="892.7" width="1.1" height="112.9" fill="#4893BC" opacity="1"/>
<rect x="559.4" y="892.7" width="0.5" height="95.3" fill="#4893BC" opacity="0.5"/>
<rect x="560" y="892.7" width="1.1" height="113.6" fill="#4893BC" opacity="0.9"/>
<rect x="561.6" y="834.7" width="1.1" height="58" fill="#F1BD47" opacity="1"/>
<rect x="562.6" y="876.2" width="0.5" height="16.5" fill="#F1BD47" opacity="0.5"/>
<rect x="564.8" y="777.4" width="1.1" height="115.3" fill="#F1BD47" opacity="0.9"/>
<rect x="565.6" y="777.6" width="1.1" height="115.1" fill="#F1BD47" opacity="0.9"/>
<rect x="566.4" y="788.7" width="1.1" height="104" fill="#F1BD47" opacity="0.9"/>
<rect x="568.1" y="782.9" width="1.1" height="109.8" fill="#F1BD47" opacity="1"/>
<rect x="568.9" y="785.7" width="1.1" height="107" fill="#F1BD47" opacity="1"/>
<rect x="569.7" y="769" width="1.1" height="123.7" fill="#F1BD47" opacity="0.9"/>
<rect x="571.3" y="892.7" width="1.1" height="113.4" fill="#4893BC" opacity="0.9"/>
<rect x="572.1" y="892.7" width="1.1" height="107.1" fill="#4893BC" opacity="0.9"/>
<rect x="572.9" y="892.7" width="1.1" height="103" fill="#4893BC" opacity="1"/>
<rect x="573.8" y="892.7" width="1.1" height="107.2" fill="#4893BC" opacity="0.9"/>
<rect x="574.6" y="892.7" width="1.1" height="113.6" fill="#4893BC" opacity="0.9"/>
<rect x="577.8" y="791" width="1.1" height="101.7" fill="#F1BD47" opacity="1"/>
<rect x="578.6" y="772.7" width="1.1" height="120" fill="#F1BD47" opacity="0.9"/>
<rect x="579.4" y="790" width="1.1" height="102.7" fill="#F1BD47" opacity="0.9"/>
<rect x="580.2" y="791.3" width="1.1" height="101.4" fill="#F1BD47" opacity="0.9"/>
<rect x="581.1" y="772.7" width="1.1" height="120" fill="#F1BD47" opacity="0.9"/>
<rect x="581.9" y="791.1" width="1.1" height="101.6" fill="#F1BD47" opacity="1"/>
<rect x="582.7" y="775.7" width="1.1" height="117" fill="#F1BD47" opacity="1"/>
<rect x="583.5" y="771.3" width="1.1" height="121.4" fill="#F1BD47" opacity="1"/>
<rect x="584.3" y="779.7" width="1.1" height="113" fill="#F1BD47" opacity="1"/>
<rect x="585.4" y="851.1" width="0.5" height="41.6" fill="#F1BD47" opacity="0.5"/>
<rect x="585.9" y="784.4" width="1.1" height="108.3" fill="#F1BD47" opacity="1"/>
<rect x="586.7" y="892.7" width="1.1" height="93.9" fill="#4893BC" opacity="0.9"/>
<rect x="587.6" y="892.7" width="1.1" height="80.8" fill="#4893BC" opacity="0.9"/>
<rect x="588.6" y="892.7" width="0.5" height="47.9" fill="#4893BC" opacity="0.5"/>
<rect x="589.2" y="800.7" width="1.1" height="92" fill="#F1BD47" opacity="1"/>
<rect x="590" y="793" width="1.1" height="99.7" fill="#F1BD47" opacity="0.9"/>
<rect x="590.8" y="803.2" width="1.1" height="89.5" fill="#F1BD47" opacity="0.9"/>
<rect x="591.6" y="801.2" width="1.1" height="91.5" fill="#F1BD47" opacity="0.9"/>
<rect x="592.4" y="790.5" width="1.1" height="102.2" fill="#F1BD47" opacity="1"/>
<rect x="593.2" y="799.6" width="1.1" height="93.1" fill="#F1BD47" opacity="0.9"/>
<rect x="594" y="790.4" width="1.1" height="102.3" fill="#F1BD47" opacity="0.9"/>
<rect x="594.9" y="781.2" width="1.1" height="111.5" fill="#F1BD47" opacity="1"/>
<rect x="595.7" y="892.7" width="1.1" height="119.7" fill="#4893BC" opacity="1"/>
<rect x="596.5" y="892.7" width="1.1" height="121.1" fill="#4893BC" opacity="0.9"/>
<rect x="597.3" y="892.7" width="1.1" height="118.3" fill="#4893BC" opacity="1"/>
<rect x="598.1" y="892.7" width="1.1" height="125.8" fill="#4893BC" opacity="0.9"/>
<rect x="598.9" y="892.7" width="1.1" height="121.8" fill="#4893BC" opacity="1"/>
<rect x="599.7" y="892.7" width="1.1" height="120.8" fill="#4893BC" opacity="1"/>
<rect x="600.5" y="892.7" width="1.1" height="119.7" fill="#4893BC" opacity="0.9"/>
<rect x="601.3" y="892.7" width="1.1" height="126.2" fill="#4893BC" opacity="0.9"/>
<rect x="602.2" y="892.7" width="1.1" height="119.4" fill="#4893BC" opacity="1"/>
<rect x="603" y="892.7" width="1.1" height="119.7" fill="#4893BC" opacity="0.9"/>
<rect x="603.8" y="892.7" width="1.1" height="120.8" fill="#4893BC" opacity="0.9"/>
<rect x="604.6" y="892.7" width="1.1" height="119.5" fill="#4893BC" opacity="0.9"/>
<rect x="606.2" y="781.9" width="1.1" height="110.8" fill="#F1BD47" opacity="0.9"/>
<rect x="607" y="784.5" width="1.1" height="108.2" fill="#F1BD47" opacity="1"/>
<rect x="607.8" y="786.7" width="1.1" height="106" fill="#F1BD47" opacity="1"/>
<rect x="608.7" y="787.1" width="1.1" height="105.6" fill="#F1BD47" opacity="0.9"/>
<rect x="609.5" y="785.7" width="1.1" height="107" fill="#F1BD47" opacity="0.9"/>
<rect x="610.3" y="787.7" width="1.1" height="105" fill="#F1BD47" opacity="0.9"/>
<rect x="611.1" y="784.4" width="1.1" height="108.3" fill="#F1BD47" opacity="1"/>
<rect x="611.9" y="786.2" width="1.1" height="106.5" fill="#F1BD47" opacity="1"/>
<rect x="612.7" y="787.8" width="1.1" height="104.9" fill="#F1BD47" opacity="1"/>
<rect x="613.5" y="786.6" width="1.1" height="106.1" fill="#F1BD47" opacity="1"/>
<rect x="614.3" y="786.7" width="1.1" height="106" fill="#F1BD47" opacity="0.9"/>
<rect x="615.1" y="783.1" width="1.1" height="109.6" fill="#F1BD47" opacity="0.9"/>
<rect x="616" y="783.8" width="1.1" height="108.9" fill="#F1BD47" opacity="1"/>
<rect x="616.8" y="787.9" width="1.1" height="104.8" fill="#F1BD47" opacity="1"/>
<rect x="617.6" y="786.8" width="1.1" height="105.9" fill="#F1BD47" opacity="1"/>
<rect x="618.4" y="782.2" width="1.1" height="110.5" fill="#F1BD47" opacity="1"/>
<rect x="619.2" y="787.6" width="1.1" height="105.1" fill="#F1BD47" opacity="0.9"/>
<rect x="620" y="787.1" width="1.1" height="105.6" fill="#F1BD47" opacity="0.9"/>
<rect x="622.5" y="892.7" width="1.1" height="106.5" fill="#4893BC" opacity="1"/>
<rect x="623.3" y="892.7" width="1.1" height="102.4" fill="#4893BC" opacity="0.9"/>
<rect x="624.1" y="892.7" width="1.1" height="102.8" fill="#4893BC" opacity="0.9"/>
<rect x="624.9" y="892.7" width="1.1" height="102.9" fill="#4893BC" opacity="1"/>
<rect x="625.7" y="892.7" width="1.1" height="106.9" fill="#4893BC" opacity="0.9"/>
<rect x="626.5" y="892.7" width="1.1" height="100.5" fill="#4893BC" opacity="0.9"/>
<rect x="627.3" y="892.7" width="1.1" height="103.7" fill="#4893BC" opacity="0.9"/>
<rect x="628.1" y="892.7" width="1.1" height="106.1" fill="#4893BC" opacity="1"/>
<rect x="628.9" y="892.7" width="1.1" height="102.3" fill="#4893BC" opacity="1"/>
<rect x="629.8" y="892.7" width="1.1" height="100.2" fill="#4893BC" opacity="1"/>
<rect x="630.6" y="892.7" width="1.1" height="102.1" fill="#4893BC" opacity="0.9"/>
<rect x="631.4" y="892.7" width="1.1" height="105.4" fill="#4893BC" opacity="1"/>
<rect x="632.2" y="892.7" width="1.1" height="105.4" fill="#4893BC" opacity="1"/>
<rect x="633" y="892.7" width="1.1" height="104.6" fill="#4893BC" opacity="1"/>
<rect x="634.1" y="842.4" width="0.5" height="50.3" fill="#F1BD47" opacity="0.5"/>
<rect x="637.9" y="791.3" width="1.1" height="101.4" fill="#F1BD47" opacity="0.9"/>
<rect x="638.7" y="787.3" width="1.1" height="105.4" fill="#F1BD47" opacity="0.9"/>
<rect x="639.5" y="790.1" width="1.1" height="102.6" fill="#F1BD47" opacity="1"/>
<rect x="640.3" y="792.8" width="1.1" height="99.9" fill="#F1BD47" opacity="0.9"/>
<rect x="641.1" y="790.2" width="1.1" height="102.5" fill="#F1BD47" opacity="0.9"/>
<rect x="641.9" y="793" width="1.1" height="99.7" fill="#F1BD47" opacity="0.9"/>
<rect x="642.7" y="790.3" width="1.1" height="102.4" fill="#F1BD47" opacity="1"/>
<rect x="643.6" y="789.9" width="1.1" height="102.8" fill="#F1BD47" opacity="0.9"/>
<rect x="644.4" y="792.1" width="1.1" height="100.6" fill="#F1BD47" opacity="0.9"/>
<rect x="645.2" y="787.5" width="1.1" height="105.2" fill="#F1BD47" opacity="1"/>
<rect x="646.8" y="892.7" width="1.1" height="99.4" fill="#4893BC" opacity="0.9"/>
<rect x="647.6" y="892.7" width="1.1" height="84.7" fill="#4893BC" opacity="0.9"/>
<rect x="648.4" y="892.7" width="1.1" height="86.2" fill="#4893BC" opacity="0.9"/>
<rect x="649.2" y="892.7" width="1.1" height="101.2" fill="#4893BC" opacity="1"/>
<rect x="650.1" y="892.7" width="1.1" height="86.7" fill="#4893BC" opacity="0.9"/>
<rect x="651.1" y="892.7" width="0.5" height="31.5" fill="#4893BC" opacity="0.5"/>
<rect x="651.7" y="892.7" width="1.1" height="87.2" fill="#4893BC" opacity="1"/>
<rect x="652.5" y="892.7" width="1.1" height="95.6" fill="#4893BC" opacity="1"/>
<rect x="653.3" y="892.7" width="1.1" height="85.1" fill="#4893BC" opacity="0.9"/>
<rect x="654.1" y="892.7" width="1.1" height="86.2" fill="#4893BC" opacity="1"/>
<rect x="654.9" y="892.7" width="1.1" height="84.2" fill="#4893BC" opacity="1"/>
<rect x="655.7" y="892.7" width="1.1" height="94.9" fill="#4893BC" opacity="1"/>
<rect x="656.5" y="892.7" width="1.1" height="83.6" fill="#4893BC" opacity="0.9"/>
<rect x="657.4" y="892.7" width="1.1" height="90.9" fill="#4893BC" opacity="1"/>
<rect x="658.2" y="892.7" width="1.1" height="101.6" fill="#4893BC" opacity="1"/>
<rect x="659" y="892.7" width="1.1" height="93.5" fill="#4893BC" opacity="0.9"/>
<rect x="659.8" y="892.7" width="1.1" height="95.3" fill="#4893BC" opacity="0.9"/>
<rect x="660.6" y="892.7" width="1.1" height="104.2" fill="#4893BC" opacity="1"/>
<rect x="661.4" y="892.7" width="1.1" height="95.9" fill="#4893BC" opacity="1"/>
<rect x="662.2" y="892.7" width="1.1" height="89.6" fill="#4893BC" opacity="1"/>
<rect x="663.3" y="892.7" width="0.5" height="44.3" fill="#4893BC" opacity="0.5"/>
<rect x="663.9" y="892.7" width="1.1" height="84.9" fill="#4893BC" opacity="1"/>
<rect x="664.7" y="892.7" width="1.1" height="98.4" fill="#4893BC" opacity="0.9"/>
<rect x="665.5" y="892.7" width="1.1" height="100.6" fill="#4893BC" opacity="1"/>
<rect x="666.3" y="892.7" width="1.1" height="102.7" fill="#4893BC" opacity="0.9"/>
<rect x="667.1" y="892.7" width="1.1" height="89.7" fill="#4893BC" opacity="1"/>
<rect x="667.9" y="892.7" width="1.1" height="87.2" fill="#4893BC" opacity="1"/>
<rect x="668.7" y="892.7" width="1.1" height="97.4" fill="#4893BC" opacity="1"/>
<rect x="669.5" y="892.7" width="1.1" height="92.9" fill="#4893BC" opacity="1"/>
<rect x="670.3" y="892.7" width="1.1" height="89.1" fill="#4893BC" opacity="0.9"/>
<rect x="671.2" y="892.7" width="1.1" height="101.7" fill="#4893BC" opacity="1"/>
<rect x="672" y="892.7" width="1.1" height="101.8" fill="#4893BC" opacity="0.9"/>
<rect x="673.6" y="892.7" width="1.1" height="86.8" fill="#4893BC" opacity="0.9"/>
<rect x="674.4" y="892.7" width="1.1" height="96.2" fill="#4893BC" opacity="1"/>
<rect x="675.5" y="892.7" width="0.5" height="77.3" fill="#4893BC" opacity="0.5"/>
<rect x="676.8" y="892.7" width="1.1" height="106" fill="#4893BC" opacity="1"/>
<rect x="677.7" y="892.7" width="1.1" height="88" fill="#4893BC" opacity="1"/>
<rect x="678.5" y="892.7" width="1.1" height="92.7" fill="#4893BC" opacity="0.9"/>
<rect x="679.3" y="892.7" width="1.1" height="100.1" fill="#4893BC" opacity="1"/>
<rect x="680.1" y="892.7" width="1.1" height="99.3" fill="#4893BC" opacity="0.9"/>
<rect x="680.9" y="892.7" width="1.1" height="98.1" fill="#4893BC" opacity="1"/>
<rect x="681.7" y="892.7" width="1.1" height="92" fill="#4893BC" opacity="0.9"/>
<rect x="682.5" y="892.7" width="1.1" height="86.9" fill="#4893BC" opacity="0.9"/>
<rect x="684.1" y="892.7" width="1.1" height="102.7" fill="#4893BC" opacity="1"/>
<rect x="685.2" y="892.7" width="0.5" height="62.3" fill="#4893BC" opacity="0.5"/>
<rect x="685.8" y="892.7" width="1.1" height="92.2" fill="#4893BC" opacity="1"/>
<rect x="686.6" y="892.7" width="1.1" height="90.5" fill="#4893BC" opacity="1"/>
<rect x="688.2" y="791.5" width="1.1" height="101.2" fill="#F1BD47" opacity="0.9"/>
<rect x="689" y="790.4" width="1.1" height="102.3" fill="#F1BD47" opacity="1"/>
<rect x="689.8" y="795.2" width="1.1" height="97.5" fill="#F1BD47" opacity="0.9"/>
<rect x="690.6" y="790.4" width="1.1" height="102.3" fill="#F1BD47" opacity="1"/>
<rect x="691.5" y="791.3" width="1.1" height="101.4" fill="#F1BD47" opacity="1"/>
<rect x="693.1" y="892.7" width="1.1" height="124.1" fill="#4893BC" opacity="0.9"/>
<rect x="693.9" y="892.7" width="1.1" height="123.3" fill="#4893BC" opacity="1"/>
<rect x="694.7" y="892.7" width="1.1" height="117.8" fill="#4893BC" opacity="0.9"/>
<rect x="695.5" y="892.7" width="1.1" height="117.7" fill="#4893BC" opacity="1"/>
<rect x="696.3" y="892.7" width="1.1" height="122.5" fill="#4893BC" opacity="1"/>
<rect x="697.1" y="892.7" width="1.1" height="119.6" fill="#4893BC" opacity="0.9"/>
<rect x="697.9" y="892.7" width="1.1" height="122.6" fill="#4893BC" opacity="0.9"/>
<rect x="698.8" y="892.7" width="1.1" height="117.9" fill="#4893BC" opacity="0.9"/>
<rect x="699.6" y="892.7" width="1.1" height="116.6" fill="#4893BC" opacity="1"/>
<rect x="700.4" y="892.7" width="1.1" height="120.1" fill="#4893BC" opacity="1"/>
<rect x="701.2" y="892.7" width="1.1" height="123.1" fill="#4893BC" opacity="0.9"/>
<rect x="702" y="892.7" width="1.1" height="118.5" fill="#4893BC" opacity="0.9"/>
<rect x="703.6" y="794" width="1.1" height="98.7" fill="#F1BD47" opacity="1"/>
<rect x="705.3" y="800.4" width="1.1" height="92.3" fill="#F1BD47" opacity="1"/>
<rect x="707.7" y="792" width="1.1" height="100.7" fill="#F1BD47" opacity="1"/>
<rect x="709.3" y="792.9" width="1.1" height="99.8" fill="#F1BD47" opacity="0.9"/>
<rect x="710.1" y="789.8" width="1.1" height="102.9" fill="#F1BD47" opacity="1"/>
<rect x="711.7" y="786.2" width="1.1" height="106.5" fill="#F1BD47" opacity="0.9"/>
<rect x="712.8" y="822.7" width="0.5" height="70" fill="#F1BD47" opacity="0.5"/>
<rect x="713.4" y="788.2" width="1.1" height="104.5" fill="#F1BD47" opacity="1"/>
<rect x="714.2" y="788.4" width="1.1" height="104.3" fill="#F1BD47" opacity="0.9"/>
<rect x="715" y="787.6" width="1.1" height="105.1" fill="#F1BD47" opacity="1"/>
<rect x="715.8" y="783.9" width="1.1" height="108.8" fill="#F1BD47" opacity="1"/>
<rect x="716.6" y="798.9" width="1.1" height="93.8" fill="#F1BD47" opacity="1"/>
<rect x="717.4" y="797.3" width="1.1" height="95.4" fill="#F1BD47" opacity="0.9"/>
<rect x="718.2" y="787.8" width="1.1" height="104.9" fill="#F1BD47" opacity="0.9"/>
<rect x="719.1" y="781.5" width="1.1" height="111.2" fill="#F1BD47" opacity="0.9"/>
<rect x="719.9" y="786.2" width="1.1" height="106.5" fill="#F1BD47" opacity="0.9"/>
<rect x="720.7" y="795.4" width="1.1" height="97.3" fill="#F1BD47" opacity="1"/>
<rect x="721.7" y="850.1" width="0.5" height="42.6" fill="#F1BD47" opacity="0.5"/>
<rect x="722.3" y="787.6" width="1.1" height="105.1" fill="#F1BD47" opacity="1"/>
<rect x="723.1" y="799" width="1.1" height="93.7" fill="#F1BD47" opacity="1"/>
<rect x="723.9" y="789.2" width="1.1" height="103.5" fill="#F1BD47" opacity="1"/>
<rect x="724.7" y="792.9" width="1.1" height="99.8" fill="#F1BD47" opacity="1"/>
<rect x="725.5" y="799.2" width="1.1" height="93.5" fill="#F1BD47" opacity="1"/>
<rect x="726.4" y="789.6" width="1.1" height="103.1" fill="#F1BD47" opacity="0.9"/>
<rect x="727.4" y="802.3" width="0.5" height="90.4" fill="#F1BD47" opacity="0.5"/>
<rect x="728" y="781.8" width="1.1" height="110.9" fill="#F1BD47" opacity="1"/>
<rect x="713.4" y="892.7" width="1.1" height="60.4" fill="#4893BC" opacity="0.9"/>
<rect x="714.4" y="892.7" width="0.5" height="25.5" fill="#4893BC" opacity="0.5"/>
<rect x="729.9" y="892.7" width="0.5" height="49.6" fill="#4893BC" opacity="0.5"/>
<rect x="730.4" y="892.7" width="1.1" height="103.7" fill="#4893BC" opacity="1"/>
<rect x="732.3" y="892.7" width="0.5" height="55.9" fill="#4893BC" opacity="0.5"/>
<rect x="732.9" y="892.7" width="1.1" height="121.4" fill="#4893BC" opacity="1"/>
<rect x="733.7" y="892.7" width="1.1" height="101.8" fill="#4893BC" opacity="0.9"/>
<rect x="734.5" y="892.7" width="1.1" height="109.8" fill="#4893BC" opacity="0.9"/>
<rect x="735.3" y="815.6" width="1.1" height="77.1" fill="#F1BD47" opacity="1"/>
<rect x="736.4" y="857.4" width="0.5" height="35.3" fill="#F1BD47" opacity="0.5"/>
<rect x="736.9" y="816.5" width="1.1" height="76.2" fill="#F1BD47" opacity="1"/>
<rect x="738.5" y="892.7" width="1.1" height="115.4" fill="#4893BC" opacity="0.9"/>
<rect x="739.3" y="892.7" width="1.1" height="103.1" fill="#4893BC" opacity="0.9"/>
<rect x="740.2" y="892.7" width="1.1" height="100.2" fill="#4893BC" opacity="0.9"/>
<rect x="741" y="892.7" width="1.1" height="121.3" fill="#4893BC" opacity="0.9"/>
<rect x="741.8" y="892.7" width="1.1" height="104" fill="#4893BC" opacity="1"/>
<rect x="743.4" y="892.7" width="1.1" height="119.5" fill="#4893BC" opacity="0.9"/>
<rect x="744.2" y="892.7" width="1.1" height="120.5" fill="#4893BC" opacity="0.9"/>
<rect x="745" y="892.7" width="1.1" height="125.9" fill="#4893BC" opacity="1"/>
<rect x="746.7" y="834.7" width="1.1" height="58" fill="#F1BD47" opacity="0.9"/>
<rect x="747.7" y="874.1" width="0.5" height="18.6" fill="#F1BD47" opacity="0.5"/>
<rect x="748.3" y="828.3" width="1.1" height="64.4" fill="#F1BD47" opacity="0.9"/>
<rect x="749.1" y="838.9" width="1.1" height="53.8" fill="#F1BD47" opacity="1"/>
<rect x="750.7" y="836.9" width="1.1" height="55.8" fill="#F1BD47" opacity="0.9"/>
<rect x="751.5" y="835.4" width="1.1" height="57.3" fill="#F1BD47" opacity="0.9"/>
<rect x="752.6" y="873.1" width="0.5" height="19.6" fill="#F1BD47" opacity="0.5"/>
<rect x="753.4" y="857" width="0.5" height="35.7" fill="#F1BD47" opacity="0.5"/>
<rect x="750.2" y="892.7" width="0.5" height="25.7" fill="#4893BC" opacity="0.5"/>
<rect x="750.7" y="892.7" width="1.1" height="110.9" fill="#4893BC" opacity="1"/>
<rect x="751.5" y="892.7" width="1.1" height="97.7" fill="#4893BC" opacity="0.9"/>
<rect x="754" y="798.6" width="1.1" height="94.1" fill="#F1BD47" opacity="1"/>
<rect x="754.8" y="795" width="1.1" height="97.7" fill="#F1BD47" opacity="1"/>
<rect x="755.6" y="776.6" width="1.1" height="116.1" fill="#F1BD47" opacity="0.9"/>
<rect x="756.4" y="782.2" width="1.1" height="110.5" fill="#F1BD47" opacity="1"/>
<rect x="757.2" y="794" width="1.1" height="98.7" fill="#F1BD47" opacity="0.9"/>
<rect x="758" y="789.2" width="1.1" height="103.5" fill="#F1BD47" opacity="0.9"/>
<rect x="759.6" y="892.7" width="1.1" height="96.6" fill="#4893BC" opacity="1"/>
<rect x="760.5" y="892.7" width="1.1" height="94.9" fill="#4893BC" opacity="1"/>
<rect x="761.3" y="892.7" width="1.1" height="95.1" fill="#4893BC" opacity="1"/>
<rect x="762.1" y="892.7" width="1.1" height="115.5" fill="#4893BC" opacity="1"/>
<rect x="762.9" y="892.7" width="1.1" height="108.3" fill="#4893BC" opacity="0.9"/>
<rect x="763.7" y="892.7" width="1.1" height="96.8" fill="#4893BC" opacity="0.9"/>
<rect x="764.5" y="892.7" width="1.1" height="103.7" fill="#4893BC" opacity="0.9"/>
<rect x="766.9" y="807.2" width="1.1" height="85.5" fill="#F1BD47" opacity="0.9"/>
<rect x="767.8" y="813.4" width="1.1" height="79.3" fill="#F1BD47" opacity="0.9"/>
<rect x="768.6" y="809.1" width="1.1" height="83.6" fill="#F1BD47" opacity="0.9"/>
<rect x="770.5" y="892.7" width="0.5" height="75.5" fill="#4893BC" opacity="0.5"/>
<rect x="771.3" y="892.7" width="0.5" height="64.1" fill="#4893BC" opacity="0.5"/>
<rect x="771.8" y="892.7" width="1.1" height="100.1" fill="#4893BC" opacity="0.9"/>
<rect x="772.6" y="892.7" width="1.1" height="95" fill="#4893BC" opacity="0.9"/>
<rect x="773.4" y="892.7" width="1.1" height="114.3" fill="#4893BC" opacity="1"/>
<rect x="775.1" y="892.7" width="1.1" height="95.4" fill="#4893BC" opacity="1"/>
<rect x="775.9" y="892.7" width="1.1" height="119.6" fill="#4893BC" opacity="1"/>
<rect x="776.7" y="892.7" width="1.1" height="104.9" fill="#4893BC" opacity="1"/>
<rect x="777.5" y="892.7" width="1.1" height="115.7" fill="#4893BC" opacity="0.9"/>
<rect x="778.3" y="892.7" width="1.1" height="98.4" fill="#4893BC" opacity="0.9"/>
<rect x="779.9" y="769.8" width="1.1" height="122.9" fill="#F1BD47" opacity="0.9"/>
<rect x="780.7" y="776.4" width="1.1" height="116.3" fill="#F1BD47" opacity="1"/>
<rect x="781.6" y="775.3" width="1.1" height="117.4" fill="#F1BD47" opacity="1"/>
<rect x="782.4" y="769.6" width="1.1" height="123.1" fill="#F1BD47" opacity="1"/>
<rect x="783.2" y="773.7" width="1.1" height="119" fill="#F1BD47" opacity="0.9"/>
<rect x="784" y="769" width="1.1" height="123.7" fill="#F1BD47" opacity="1"/>
<rect x="784.8" y="771.4" width="1.1" height="121.3" fill="#F1BD47" opacity="0.9"/>
<rect x="786.4" y="892.7" width="1.1" height="133.3" fill="#4893BC" opacity="0.9"/>
<rect x="787.2" y="892.7" width="1.1" height="127" fill="#4893BC" opacity="1"/>
<rect x="788.1" y="892.7" width="1.1" height="124.8" fill="#4893BC" opacity="1"/>
<rect x="788.9" y="892.7" width="1.1" height="131.6" fill="#4893BC" opacity="1"/>
<rect x="789.7" y="892.7" width="1.1" height="126" fill="#4893BC" opacity="0.9"/>
<rect x="790.5" y="892.7" width="1.1" height="130.3" fill="#4893BC" opacity="0.9"/>
<rect x="791.3" y="892.7" width="1.1" height="125.2" fill="#4893BC" opacity="1"/>
<rect x="792.1" y="892.7" width="1.1" height="131" fill="#4893BC" opacity="0.9"/>
<rect x="792.9" y="892.7" width="1.1" height="127.4" fill="#4893BC" opacity="1"/>
<rect x="793.7" y="892.7" width="1.1" height="131.3" fill="#4893BC" opacity="0.9"/>
<rect x="794.5" y="892.7" width="1.1" height="125.2" fill="#4893BC" opacity="0.9"/>
<rect x="795.4" y="892.7" width="1.1" height="129.5" fill="#4893BC" opacity="1"/>
<rect x="796.2" y="892.7" width="1.1" height="126.7" fill="#4893BC" opacity="0.9"/>
<rect x="797" y="892.7" width="1.1" height="128.8" fill="#4893BC" opacity="1"/>
<rect x="799.7" y="809.6" width="0.5" height="83.1" fill="#F1BD47" opacity="0.5"/>
<rect x="801" y="892.7" width="1.1" height="136.1" fill="#4893BC" opacity="1"/>
<rect x="802.9" y="892.7" width="0.5" height="37.2" fill="#4893BC" opacity="0.5"/>
<rect x="803.5" y="892.7" width="1.1" height="134.2" fill="#4893BC" opacity="0.9"/>
<rect x="804.5" y="892.7" width="0.5" height="63.5" fill="#4893BC" opacity="0.5"/>
<rect x="805.9" y="892.7" width="1.1" height="130.6" fill="#4893BC" opacity="0.9"/>
<rect x="806.7" y="892.7" width="1.1" height="130.5" fill="#4893BC" opacity="0.9"/>
<rect x="807.8" y="892.7" width="0.5" height="53.8" fill="#4893BC" opacity="0.5"/>
<rect x="810" y="788.3" width="1.1" height="104.4" fill="#F1BD47" opacity="0.9"/>
<rect x="811" y="815.6" width="0.5" height="77.1" fill="#F1BD47" opacity="0.5"/>
<rect x="811.6" y="780.2" width="1.1" height="112.5" fill="#F1BD47" opacity="0.9"/>
<rect x="812.4" y="773.9" width="1.1" height="118.8" fill="#F1BD47" opacity="0.9"/>
<rect x="813.2" y="790.8" width="1.1" height="101.9" fill="#F1BD47" opacity="1"/>
<rect x="814.3" y="796.3" width="0.5" height="96.4" fill="#F1BD47" opacity="0.5"/>
<rect x="817.3" y="790.9" width="1.1" height="101.8" fill="#F1BD47" opacity="1"/>
<rect x="819.2" y="892.7" width="0.5" height="62.7" fill="#4893BC" opacity="0.5"/>
<rect x="819.7" y="892.7" width="1.1" height="127.6" fill="#4893BC" opacity="0.9"/>
<rect x="821.3" y="892.7" width="1.1" height="130.9" fill="#4893BC" opacity="1"/></g>
<line x1="114.3" y1="892.7" x2="819" y2="892.7" stroke="#9a9a7a" stroke-width="1"/>
<g stroke="#555" stroke-width="1.2"><line x1="114.3" y1="762" x2="114.3" y2="1023.3"/>
<line x1="110.8" y1="762.6" x2="114.3" y2="762.6"/>
<line x1="110.8" y1="806" x2="114.3" y2="806"/>
<line x1="110.8" y1="849.3" x2="114.3" y2="849.3"/>
<line x1="110.8" y1="892.7" x2="114.3" y2="892.7"/>
<line x1="110.8" y1="936" x2="114.3" y2="936"/>
<line x1="110.8" y1="979.4" x2="114.3" y2="979.4"/>
<line x1="110.8" y1="1022.7" x2="114.3" y2="1022.7"/>
</g>
<text x="107" y="769.6" font-size="19.5" text-anchor="end">0.15</text>
<text x="107" y="813" font-size="19.5" text-anchor="end">0.10</text>
<text x="107" y="856.3" font-size="19.5" text-anchor="end">0.05</text>
<text x="107" y="899.7" font-size="19.5" text-anchor="end">-0.00</text>
<text x="107" y="943" font-size="19.5" text-anchor="end">−0.05</text>
<text x="107" y="986.4" font-size="19.5" text-anchor="end">−0.10</text>
<text x="107" y="1029.7" font-size="19.5" text-anchor="end">−0.15</text>
<g stroke="#555" stroke-width="1.1"><line x1="114.3" y1="1047.8" x2="811.6" y2="1047.8"/><line x1="114.3" y1="1047.8" x2="114.3" y2="1051.3"/><line x1="122.4" y1="1047.8" x2="122.4" y2="1051.3"/><line x1="130.5" y1="1047.8" x2="130.5" y2="1051.3"/><line x1="138.7" y1="1047.8" x2="138.7" y2="1051.3"/><line x1="146.8" y1="1047.8" x2="146.8" y2="1051.3"/><line x1="154.9" y1="1047.8" x2="154.9" y2="1051.3"/><line x1="163" y1="1047.8" x2="163" y2="1051.3"/><line x1="171.1" y1="1047.8" x2="171.1" y2="1051.3"/><line x1="179.2" y1="1047.8" x2="179.2" y2="1051.3"/><line x1="187.4" y1="1047.8" x2="187.4" y2="1051.3"/><line x1="195.5" y1="1047.8" x2="195.5" y2="1051.3"/><line x1="203.6" y1="1047.8" x2="203.6" y2="1051.3"/><line x1="211.7" y1="1047.8" x2="211.7" y2="1051.3"/><line x1="219.8" y1="1047.8" x2="219.8" y2="1051.3"/><line x1="227.9" y1="1047.8" x2="227.9" y2="1051.3"/><line x1="236.1" y1="1047.8" x2="236.1" y2="1051.3"/><line x1="244.2" y1="1047.8" x2="244.2" y2="1051.3"/><line x1="252.3" y1="1047.8" x2="252.3" y2="1051.3"/><line x1="260.4" y1="1047.8" x2="260.4" y2="1051.3"/><line x1="268.5" y1="1047.8" x2="268.5" y2="1051.3"/><line x1="276.6" y1="1047.8" x2="276.6" y2="1051.3"/><line x1="284.8" y1="1047.8" x2="284.8" y2="1051.3"/><line x1="292.9" y1="1047.8" x2="292.9" y2="1051.3"/><line x1="301" y1="1047.8" x2="301" y2="1051.3"/><line x1="309.1" y1="1047.8" x2="309.1" y2="1051.3"/><line x1="317.2" y1="1047.8" x2="317.2" y2="1051.3"/><line x1="325.4" y1="1047.8" x2="325.4" y2="1051.3"/><line x1="333.5" y1="1047.8" x2="333.5" y2="1051.3"/><line x1="341.6" y1="1047.8" x2="341.6" y2="1051.3"/><line x1="349.7" y1="1047.8" x2="349.7" y2="1051.3"/><line x1="357.8" y1="1047.8" x2="357.8" y2="1051.3"/><line x1="365.9" y1="1047.8" x2="365.9" y2="1051.3"/><line x1="374.1" y1="1047.8" x2="374.1" y2="1051.3"/><line x1="382.2" y1="1047.8" x2="382.2" y2="1051.3"/><line x1="390.3" y1="1047.8" x2="390.3" y2="1051.3"/><line x1="398.4" y1="1047.8" x2="398.4" y2="1051.3"/><line x1="406.5" y1="1047.8" x2="406.5" y2="1051.3"/><line x1="414.6" y1="1047.8" x2="414.6" y2="1051.3"/><line x1="422.8" y1="1047.8" x2="422.8" y2="1051.3"/><line x1="430.9" y1="1047.8" x2="430.9" y2="1051.3"/><line x1="439" y1="1047.8" x2="439" y2="1051.3"/><line x1="447.1" y1="1047.8" x2="447.1" y2="1051.3"/><line x1="455.2" y1="1047.8" x2="455.2" y2="1051.3"/><line x1="463.4" y1="1047.8" x2="463.4" y2="1051.3"/><line x1="471.5" y1="1047.8" x2="471.5" y2="1051.3"/><line x1="479.6" y1="1047.8" x2="479.6" y2="1051.3"/><line x1="487.7" y1="1047.8" x2="487.7" y2="1051.3"/><line x1="495.8" y1="1047.8" x2="495.8" y2="1051.3"/><line x1="503.9" y1="1047.8" x2="503.9" y2="1051.3"/><line x1="512.1" y1="1047.8" x2="512.1" y2="1051.3"/><line x1="520.2" y1="1047.8" x2="520.2" y2="1051.3"/><line x1="528.3" y1="1047.8" x2="528.3" y2="1051.3"/><line x1="536.4" y1="1047.8" x2="536.4" y2="1051.3"/><line x1="544.5" y1="1047.8" x2="544.5" y2="1051.3"/><line x1="552.6" y1="1047.8" x2="552.6" y2="1051.3"/><line x1="560.8" y1="1047.8" x2="560.8" y2="1051.3"/><line x1="568.9" y1="1047.8" x2="568.9" y2="1051.3"/><line x1="577" y1="1047.8" x2="577" y2="1051.3"/><line x1="585.1" y1="1047.8" x2="585.1" y2="1051.3"/><line x1="593.2" y1="1047.8" x2="593.2" y2="1051.3"/><line x1="601.3" y1="1047.8" x2="601.3" y2="1051.3"/><line x1="609.5" y1="1047.8" x2="609.5" y2="1051.3"/><line x1="617.6" y1="1047.8" x2="617.6" y2="1051.3"/><line x1="625.7" y1="1047.8" x2="625.7" y2="1051.3"/><line x1="633.8" y1="1047.8" x2="633.8" y2="1051.3"/><line x1="641.9" y1="1047.8" x2="641.9" y2="1051.3"/><line x1="650.1" y1="1047.8" x2="650.1" y2="1051.3"/><line x1="658.2" y1="1047.8" x2="658.2" y2="1051.3"/><line x1="666.3" y1="1047.8" x2="666.3" y2="1051.3"/><line x1="674.4" y1="1047.8" x2="674.4" y2="1051.3"/><line x1="682.5" y1="1047.8" x2="682.5" y2="1051.3"/><line x1="690.6" y1="1047.8" x2="690.6" y2="1051.3"/><line x1="698.8" y1="1047.8" x2="698.8" y2="1051.3"/><line x1="706.9" y1="1047.8" x2="706.9" y2="1051.3"/><line x1="715" y1="1047.8" x2="715" y2="1051.3"/><line x1="723.1" y1="1047.8" x2="723.1" y2="1051.3"/><line x1="731.2" y1="1047.8" x2="731.2" y2="1051.3"/><line x1="739.3" y1="1047.8" x2="739.3" y2="1051.3"/><line x1="747.5" y1="1047.8" x2="747.5" y2="1051.3"/><line x1="755.6" y1="1047.8" x2="755.6" y2="1051.3"/><line x1="763.7" y1="1047.8" x2="763.7" y2="1051.3"/><line x1="771.8" y1="1047.8" x2="771.8" y2="1051.3"/><line x1="779.9" y1="1047.8" x2="779.9" y2="1051.3"/><line x1="788.1" y1="1047.8" x2="788.1" y2="1051.3"/><line x1="796.2" y1="1047.8" x2="796.2" y2="1051.3"/><line x1="804.3" y1="1047.8" x2="804.3" y2="1051.3"/><line x1="812.4" y1="1047.8" x2="812.4" y2="1051.3"/></g>
<text x="122.6" y="1054.5" font-size="19.5" text-anchor="end" transform="rotate(-90 122.6 1054.5)">0</text>
<text x="155.1" y="1054.5" font-size="19.5" text-anchor="end" transform="rotate(-90 155.1 1054.5)">10</text>
<text x="187.5" y="1054.5" font-size="19.5" text-anchor="end" transform="rotate(-90 187.5 1054.5)">20</text>
<text x="220" y="1054.5" font-size="19.5" text-anchor="end" transform="rotate(-90 220 1054.5)">30</text>
<text x="252.5" y="1054.5" font-size="19.5" text-anchor="end" transform="rotate(-90 252.5 1054.5)">40</text>
<text x="284.9" y="1054.5" font-size="19.5" text-anchor="end" transform="rotate(-90 284.9 1054.5)">50</text>
<text x="317.4" y="1054.5" font-size="19.5" text-anchor="end" transform="rotate(-90 317.4 1054.5)">60</text>
<text x="349.9" y="1054.5" font-size="19.5" text-anchor="end" transform="rotate(-90 349.9 1054.5)">70</text>
<text x="382.4" y="1054.5" font-size="19.5" text-anchor="end" transform="rotate(-90 382.4 1054.5)">80</text>
<text x="414.8" y="1054.5" font-size="19.5" text-anchor="end" transform="rotate(-90 414.8 1054.5)">90</text>
<text x="447.3" y="1054.5" font-size="19.5" text-anchor="end" transform="rotate(-90 447.3 1054.5)">100</text>
<text x="479.8" y="1054.5" font-size="19.5" text-anchor="end" transform="rotate(-90 479.8 1054.5)">110</text>
<text x="512.2" y="1054.5" font-size="19.5" text-anchor="end" transform="rotate(-90 512.2 1054.5)">120</text>
<text x="544.7" y="1054.5" font-size="19.5" text-anchor="end" transform="rotate(-90 544.7 1054.5)">130</text>
<text x="577.2" y="1054.5" font-size="19.5" text-anchor="end" transform="rotate(-90 577.2 1054.5)">140</text>
<text x="609.6" y="1054.5" font-size="19.5" text-anchor="end" transform="rotate(-90 609.6 1054.5)">150</text>
<text x="642.1" y="1054.5" font-size="19.5" text-anchor="end" transform="rotate(-90 642.1 1054.5)">160</text>
<text x="674.6" y="1054.5" font-size="19.5" text-anchor="end" transform="rotate(-90 674.6 1054.5)">170</text>
<text x="707.1" y="1054.5" font-size="19.5" text-anchor="end" transform="rotate(-90 707.1 1054.5)">180</text>
<text x="739.5" y="1054.5" font-size="19.5" text-anchor="end" transform="rotate(-90 739.5 1054.5)">190</text>
<text x="772" y="1054.5" font-size="19.5" text-anchor="end" transform="rotate(-90 772 1054.5)">200</text>
<text x="804.5" y="1054.5" font-size="19.5" text-anchor="end" transform="rotate(-90 804.5 1054.5)">210</text>
<text x="0" y="769" font-size="32" text-anchor="start" font-weight="bold">b</text>
<text x="30" y="897" font-size="27.5" text-anchor="middle" transform="rotate(-90 30 897)">Eigenvector</text>
<text x="457" y="1142" font-size="27.5" text-anchor="middle">Position (Mb)</text>
<g><line x1="1014.8" y1="105" x2="1014.8" y2="223.7" stroke="#4a4a4a" stroke-width="1.4"/>
<path d="M1014.8 146C1014.3 147.6 1013 152.3 1011.8 155.3C1010.6 158.3 1009.2 160.9 1007.8 164C1006.4 167.1 1004.8 171.1 1003.6 173.9C1002.4 176.7 1001.4 178.5 1000.6 181C999.8 183.5 998.9 186.5 999 188.8C999.1 191.1 1000.1 192.8 1001 195C1001.9 197.2 1003.4 199.9 1004.6 201.8C1005.8 203.7 1007.1 205 1008.3 206.5C1009.5 208 1010.9 209.3 1011.8 211C1012.7 212.7 1013.3 214.6 1013.8 216.7C1014.3 218.8 1014.6 222.5 1014.8 223.7L1014.8 223.7C1015 222.5 1015.3 218.8 1015.8 216.7C1016.3 214.6 1016.9 212.7 1017.8 211C1018.7 209.3 1020.1 208 1021.3 206.5C1022.5 205 1023.8 203.7 1025 201.8C1026.2 199.9 1027.7 197.2 1028.6 195C1029.5 192.8 1030.5 191.1 1030.6 188.8C1030.7 186.5 1029.8 183.5 1029 181C1028.2 178.5 1027.2 176.7 1026 173.9C1024.8 171.1 1023.2 167.1 1021.8 164C1020.4 160.9 1019 158.3 1017.8 155.3C1016.6 152.3 1015.3 147.6 1014.8 146Z" fill="#E3B33F" stroke="#4a4a4a" stroke-width="1.4"/>
<line x1="1014.8" y1="146" x2="1014.8" y2="223.7" stroke="#4a4a4a" stroke-width="1.4"/>
<rect x="1013" y="173" width="3.6" height="21.3" fill="#4a4a4a" rx="0.6"/><circle cx="1014.8" cy="186.9" r="1.1" fill="#fff"/>
<line x1="1067.2" y1="40.8" x2="1067.2" y2="226.9" stroke="#4a4a4a" stroke-width="1.4"/>
<path d="M1067.2 150C1067 152.7 1066.2 162.4 1065.7 166.4C1065.2 170.4 1065 171.6 1064.2 173.9C1063.5 176.2 1062.5 177.8 1061.2 180C1059.9 182.2 1057.9 184.7 1056.4 186.9C1054.9 189.1 1053.4 191.2 1052.2 193C1051 194.8 1050 196.1 1049 198C1048 199.9 1046.2 202.9 1046 204.6C1045.8 206.3 1046.7 206.9 1047.7 208C1048.7 209.1 1050.6 209.8 1052.2 211C1053.8 212.2 1055.7 213.8 1057.2 215C1058.7 216.2 1060 217.3 1061.2 218.5C1062.5 219.7 1063.7 220.6 1064.7 222C1065.7 223.4 1066.8 226.1 1067.2 226.9L1067.2 226.9C1067.6 226.1 1068.7 223.4 1069.7 222C1070.7 220.6 1072 219.7 1073.2 218.5C1074.5 217.3 1075.7 216.2 1077.2 215C1078.7 213.8 1080.6 212.2 1082.2 211C1083.8 209.8 1085.7 209.1 1086.7 208C1087.7 206.9 1088.6 206.3 1088.4 204.6C1088.2 202.9 1086.4 199.9 1085.4 198C1084.4 196.1 1083.4 194.8 1082.2 193C1081 191.2 1079.5 189.1 1078 186.9C1076.5 184.7 1074.5 182.2 1073.2 180C1071.9 177.8 1071 176.2 1070.2 173.9C1069.5 171.6 1069.2 170.4 1068.7 166.4C1068.2 162.4 1067.5 152.7 1067.2 150Z" fill="#5E97BC" stroke="#4a4a4a" stroke-width="1.4"/>
<line x1="1067.2" y1="150" x2="1067.2" y2="226.9" stroke="#4a4a4a" stroke-width="1.4"/>
<rect x="1065.4" y="191.5" width="3.6" height="16.8" fill="#4a4a4a" rx="0.6"/><circle cx="1067.2" cy="202.7" r="1.1" fill="#fff"/>
<line x1="1189.7" y1="40.8" x2="1189.7" y2="217.7" stroke="#4a4a4a" stroke-width="1.4"/><path d="M1189.7 147C1188.7 148.3 1185.7 152.4 1183.7 155C1181.8 157.6 1179.9 160.6 1178 162.8C1176.1 165 1174.9 166.5 1172.4 168.4C1169.9 170.3 1165.4 172.3 1163.1 174C1160.8 175.7 1158.4 177 1158.4 178.6C1158.4 180.2 1160.5 181.6 1163.1 183.3C1165.7 185 1170.6 187 1174.2 188.8C1177.8 190.7 1181.9 192.5 1184.5 194.4C1187.1 196.3 1188.8 199.1 1189.7 200L1189.7 200 L1189.7 147 Z" fill="#E3B33F" stroke="#4a4a4a" stroke-width="1.4" stroke-linejoin="round"/><path d="M1189.7 153.5C1190.1 154.6 1191.4 157.8 1192.2 160C1193 162.2 1193 164.2 1194.7 166.5C1196.4 168.8 1199.4 171.5 1202.2 174C1205 176.5 1208.8 178.9 1211.5 181.4C1214.2 183.9 1218.6 186.3 1218.6 188.8C1218.6 191.3 1214.9 193.8 1211.5 196.3C1208.1 198.8 1201.7 201.2 1198.5 203.7C1195.2 206.2 1193.4 208.9 1191.9 211.2C1190.4 213.5 1190.1 216.6 1189.7 217.7L1189.7 217.7 L1189.7 153.5 Z" fill="#5E97BC" stroke="#4a4a4a" stroke-width="1.4" stroke-linejoin="round"/><line x1="1189.7" y1="147" x2="1189.7" y2="217.7" stroke="#4a4a4a" stroke-width="1.4"/><rect x="1187.9" y="174" width="3.6" height="16.7" fill="#4a4a4a" rx="0.6"/><circle cx="1189.7" cy="182.3" r="1.1" fill="#fff"/>
<line x1="1268.6" y1="114.4" x2="1268.6" y2="211.2" stroke="#4a4a4a" stroke-width="1.4"/><path d="M1268.6 132C1268.4 132.8 1268.4 134.4 1267.6 136.7C1266.8 139 1265.8 142.9 1263.9 146C1262 149.1 1258.2 152.5 1256.1 155.3C1254 158.1 1252.7 160 1251.5 162.8C1250.3 165.6 1248.5 169 1248.7 172.1C1248.8 175.2 1250.5 178.6 1252.4 181.4C1254.3 184.2 1257.5 186.3 1259.8 188.8C1262.2 191.3 1264.9 193.9 1266.4 196.3C1267.9 198.7 1268.2 201.9 1268.6 203L1268.6 203 L1268.6 132 Z" fill="#E3B33F" stroke="#4a4a4a" stroke-width="1.4" stroke-linejoin="round"/><path d="M1268.6 140C1268.8 140.7 1269.5 142.3 1269.8 144C1270 145.7 1269.9 148.1 1270.1 150C1270.3 151.9 1270.2 152.6 1271 155.3C1271.8 158.1 1273.1 163.4 1274.7 166.5C1276.2 169.6 1277.5 171.5 1280.3 174C1283.1 176.5 1288.2 178.8 1291.5 181.4C1294.8 184 1300.4 187.3 1300.4 189.8C1300.4 192.3 1295.2 194.3 1291.5 196.3C1287.8 198.3 1281.9 200 1278.5 201.9C1275.1 203.8 1272.7 205.9 1271 207.5C1269.3 209.1 1269 210.6 1268.6 211.2L1268.6 211.2 L1268.6 140 Z" fill="#5E97BC" stroke="#4a4a4a" stroke-width="1.4" stroke-linejoin="round"/><line x1="1268.6" y1="132" x2="1268.6" y2="211.2" stroke="#4a4a4a" stroke-width="1.4"/><rect x="1266.8" y="168.4" width="3.6" height="22.3" fill="#4a4a4a" rx="0.6"/><circle cx="1268.6" cy="180.5" r="1.1" fill="#fff"/>
<line x1="1347.5" y1="116.2" x2="1347.5" y2="211" stroke="#4a4a4a" stroke-width="1.4"/><path d="M1347.5 128C1347.2 128.5 1345.9 129.7 1345.7 131C1345.5 132.3 1346.3 134.4 1346.5 136C1346.7 137.6 1347.8 138.7 1347 140.4C1346.2 142.1 1344.3 143.5 1341.7 146C1339.1 148.5 1334.5 152.2 1331.5 155.3C1328.5 158.4 1326 161.8 1324 164.6C1322 167.4 1319.9 169.6 1319.8 172.1C1319.7 174.6 1320.9 176.7 1323.3 179.5C1325.7 182.3 1330.9 185.7 1334.3 188.8C1337.7 191.9 1341.4 195.6 1343.6 198.2C1345.8 200.8 1346.8 203.4 1347.5 204.5L1347.5 204.5 L1347.5 128 Z" fill="#E3B33F" stroke="#4a4a4a" stroke-width="1.4" stroke-linejoin="round"/><path d="M1347.5 148C1347.8 149.2 1348.6 152.5 1349 155C1349.4 157.5 1348.8 160 1350.1 162.8C1351.4 165.7 1354 169.3 1356.6 172.1C1359.2 174.9 1362.3 176.7 1365.9 179.5C1369.5 182.3 1377.7 186 1378 188.8C1378.3 191.6 1371.8 194 1367.8 196.3C1363.8 198.6 1357.1 200.6 1353.8 202.8C1350.5 205 1349.2 207.9 1348.2 209.3C1347.2 210.7 1347.6 210.7 1347.5 211L1347.5 211 L1347.5 148 Z" fill="#5E97BC" stroke="#4a4a4a" stroke-width="1.4" stroke-linejoin="round"/><line x1="1347.5" y1="128" x2="1347.5" y2="211" stroke="#4a4a4a" stroke-width="1.4"/><rect x="1345.7" y="168.4" width="3.6" height="20.4" fill="#4a4a4a" rx="0.6"/><circle cx="1347.5" cy="176.7" r="1.1" fill="#fff"/>
<line x1="1426.2" y1="114.7" x2="1426.2" y2="207.7" stroke="#4a4a4a" stroke-width="1.4"/><path d="M1426.2 142.6C1425.2 143.6 1422.8 146.2 1420.3 148.8C1417.8 151.4 1413.2 154.5 1411 158.1C1408.8 161.7 1406.8 166.4 1407.3 170.5C1407.8 174.6 1411.4 178.8 1414.1 182.9C1416.8 187 1421.4 191.5 1423.4 195.3C1425.4 199.2 1425.7 204.2 1426.2 206L1426.2 206 L1426.2 142.6 Z" fill="#E3B33F" stroke="#4a4a4a" stroke-width="1.4" stroke-linejoin="round"/><path d="M1426.2 167.4C1427 168.4 1428 171 1431.2 173.6C1434.4 176.2 1440.7 179.8 1445.1 182.9C1449.5 186 1458 189.6 1457.5 192.2C1457 194.8 1446.9 196.3 1442 198.4C1437.1 200.5 1430.7 203.1 1428.1 204.6C1425.5 206.1 1426.5 207.2 1426.2 207.7L1426.2 207.7 L1426.2 167.4 Z" fill="#5E97BC" stroke="#4a4a4a" stroke-width="1.4" stroke-linejoin="round"/><line x1="1426.2" y1="142.6" x2="1426.2" y2="207.7" stroke="#4a4a4a" stroke-width="1.4"/><rect x="1424.4" y="169" width="3.6" height="23" fill="#4a4a4a" rx="0.6"/><circle cx="1426.2" cy="180.7" r="1.1" fill="#fff"/>
<line x1="1504.9" y1="132.7" x2="1504.9" y2="208" stroke="#4a4a4a" stroke-width="1.4"/><path d="M1504.9 143C1504.6 144 1504.7 145.8 1503 148.8C1501.3 151.8 1498.4 157.1 1494.7 161.2C1491 165.3 1481.2 169.5 1480.7 173.6C1480.2 177.7 1488 181.9 1491.6 186C1495.2 190.1 1500.2 194.8 1502.4 198.4C1504.6 202 1504.5 206.1 1504.9 207.7L1504.9 207.7 L1504.9 143 Z" fill="#E3B33F" stroke="#4a4a4a" stroke-width="1.4" stroke-linejoin="round"/><path d="M1504.9 164.3C1505.7 165.9 1507.2 170.5 1509.6 173.6C1512 176.7 1515 180.1 1519.5 182.9C1524 185.7 1536.5 188 1536.5 190.6C1536.5 193.2 1524.7 195.8 1519.5 198.4C1514.3 201 1507.9 204.5 1505.5 206.1C1503.1 207.7 1505 207.7 1504.9 208L1504.9 208 L1504.9 164.3 Z" fill="#5E97BC" stroke="#4a4a4a" stroke-width="1.4" stroke-linejoin="round"/><line x1="1504.9" y1="143" x2="1504.9" y2="208" stroke="#4a4a4a" stroke-width="1.4"/><rect x="1503.1" y="173.6" width="3.6" height="18.6" fill="#4a4a4a" rx="0.6"/><circle cx="1504.9" cy="182.9" r="1.1" fill="#fff"/>
<line x1="1583.7" y1="128.6" x2="1583.7" y2="207" stroke="#4a4a4a" stroke-width="1.4"/><path d="M1583.7 150C1583.3 150.8 1583.4 152.6 1581.5 155C1579.6 157.4 1575.8 160.7 1572.2 164.3C1568.6 167.9 1559.8 172.6 1559.8 176.7C1559.8 180.8 1568.6 185 1572.2 189.1C1575.8 193.2 1579.6 198.7 1581.5 201.5C1583.4 204.3 1583.3 205.2 1583.7 206L1583.7 206 L1583.7 150 Z" fill="#E3B33F" stroke="#4a4a4a" stroke-width="1.4" stroke-linejoin="round"/><path d="M1583.7 160C1584.4 161.2 1585 164.1 1587.7 167.4C1590.4 170.7 1597.5 176.7 1600.1 179.8C1602.7 182.9 1600.6 183.9 1603.2 186C1605.8 188.1 1615.9 190.1 1615.6 192.2C1615.4 194.3 1606.6 196.3 1601.7 198.4C1596.8 200.5 1589.2 203.2 1586.2 204.6C1583.2 206 1584.1 206.6 1583.7 207L1583.7 207 L1583.7 160 Z" fill="#5E97BC" stroke="#4a4a4a" stroke-width="1.4" stroke-linejoin="round"/><line x1="1583.7" y1="150" x2="1583.7" y2="207" stroke="#4a4a4a" stroke-width="1.4"/><rect x="1581.9" y="175.1" width="3.6" height="17.1" fill="#4a4a4a" rx="0.6"/><circle cx="1583.7" cy="183.5" r="1.1" fill="#fff"/>
<line x1="1662.7" y1="118.7" x2="1662.7" y2="215.4" stroke="#4a4a4a" stroke-width="1.4"/><path d="M1662.7 136.4C1661.8 137.9 1660.1 142.1 1657.4 145.7C1654.7 149.3 1650.7 154 1646.6 158.1C1642.5 162.2 1633.1 166.4 1632.6 170.5C1632.1 174.6 1638.8 178.8 1643.5 182.9C1648.2 187 1657.3 192.2 1660.5 195.3C1663.7 198.4 1662.3 200.5 1662.7 201.5L1662.7 201.5 L1662.7 136.4 Z" fill="#E3B33F" stroke="#4a4a4a" stroke-width="1.4" stroke-linejoin="round"/><path d="M1664.2 130C1664.2 131.7 1663.5 135.8 1663.9 140C1664.3 144.2 1664.4 149.9 1666.7 155C1669 160.1 1673.7 165.8 1677.6 170.5C1681.5 175.2 1687.3 179.8 1690 182.9C1692.7 186 1694.5 186.5 1694 189.1C1693.5 191.7 1690.9 195.3 1686.9 198.4C1682.9 201.5 1673.8 204.9 1669.8 207.7C1665.8 210.5 1663.9 214.1 1662.7 215.4L1662.7 215.4 L1662.7 130 Z" fill="#5E97BC" stroke="#4a4a4a" stroke-width="1.4" stroke-linejoin="round"/><line x1="1662.7" y1="130" x2="1662.7" y2="215.4" stroke="#4a4a4a" stroke-width="1.4"/><rect x="1660.9" y="169" width="3.6" height="21.6" fill="#4a4a4a" rx="0.6"/><circle cx="1662.7" cy="177.6" r="1.1" fill="#fff"/>
<line x1="1741.5" y1="131.8" x2="1741.5" y2="212.4" stroke="#4a4a4a" stroke-width="1.4"/><path d="M1741.5 131.8C1740.9 133.6 1740.7 138.7 1738.1 142.6C1735.5 146.5 1729.8 150.9 1725.7 155C1721.6 159.1 1714.1 163.3 1713.3 167.4C1712.5 171.5 1717.7 175.7 1721 179.8C1724.3 183.9 1730.2 188.1 1733.4 192.2C1736.6 196.3 1739 201.5 1740.3 204.6C1741.6 207.7 1741.3 209.8 1741.5 210.8L1741.5 210.8 L1741.5 131.8 Z" fill="#E3B33F" stroke="#4a4a4a" stroke-width="1.4" stroke-linejoin="round"/><path d="M1741.5 135C1741.7 136.3 1741.5 139.3 1742.5 142.6C1743.5 145.9 1744.5 150.3 1747.4 155C1750.3 159.7 1756.2 165.8 1759.8 170.5C1763.4 175.2 1766.9 180.1 1769.1 182.9C1771.3 185.8 1774.4 185.5 1773.1 187.6C1771.8 189.7 1765.8 192.5 1761.3 195.3C1756.8 198.1 1749.1 201.8 1745.8 204.6C1742.5 207.4 1742.2 211.1 1741.5 212.4L1741.5 212.4 L1741.5 135 Z" fill="#5E97BC" stroke="#4a4a4a" stroke-width="1.4" stroke-linejoin="round"/><line x1="1741.5" y1="131.8" x2="1741.5" y2="212.4" stroke="#4a4a4a" stroke-width="1.4"/><rect x="1739.7" y="164.3" width="3.6" height="23.3" fill="#4a4a4a" rx="0.6"/><circle cx="1741.5" cy="177.6" r="1.1" fill="#fff"/>
<line x1="1820.2" y1="93.9" x2="1820.2" y2="218.5" stroke="#4a4a4a" stroke-width="1.4"/><path d="M1820.2 134C1820 134.4 1820.8 133.9 1818.7 136.4C1816.6 138.9 1810.9 144.7 1807.8 148.8C1804.7 152.9 1801.8 156.5 1800 161.2C1798.2 165.8 1796.5 172 1797 176.7C1797.5 181.3 1800.3 185 1803.1 189.1C1805.9 193.2 1811.2 197.9 1814 201.5C1816.8 205.1 1818.6 208.9 1819.6 210.8C1820.6 212.7 1820.1 212.6 1820.2 213L1820.2 213 L1820.2 134 Z" fill="#E3B33F" stroke="#4a4a4a" stroke-width="1.4" stroke-linejoin="round"/><path d="M1820.2 134C1820.4 134.4 1820.7 132.9 1821.2 136.4C1821.7 139.9 1821.9 149.3 1823.3 155C1824.7 160.7 1826.2 166.6 1829.5 170.5C1832.8 174.4 1839.7 175.5 1843.4 178.3C1847.1 181.2 1852 184.8 1851.8 187.6C1851.5 190.4 1846.1 192 1841.9 195.3C1837.7 198.7 1830 203.8 1826.4 207.7C1822.8 211.6 1821.2 216.7 1820.2 218.5L1820.2 218.5 L1820.2 134 Z" fill="#5E97BC" stroke="#4a4a4a" stroke-width="1.4" stroke-linejoin="round"/><line x1="1820.2" y1="134" x2="1820.2" y2="218.5" stroke="#4a4a4a" stroke-width="1.4"/><rect x="1818.4" y="165.8" width="3.6" height="23.3" fill="#4a4a4a" rx="0.6"/><circle cx="1820.2" cy="183.5" r="1.1" fill="#fff"/>
<line x1="1899" y1="117.8" x2="1899" y2="227.9" stroke="#4a4a4a" stroke-width="1.4"/><path d="M1899 136.4C1897.5 137.9 1892.8 142.6 1890 145.7C1887.2 148.8 1885.9 151.9 1882.3 155C1878.7 158.1 1868.3 161.7 1868.3 164.3C1868.3 166.9 1878.2 167.9 1882.3 170.5C1886.4 173.1 1890.4 177 1893.1 179.8C1895.8 182.7 1897.4 186.1 1898.4 187.6C1899.4 189.1 1898.9 188.8 1899 189L1899 189 L1899 136.4 Z" fill="#E3B33F" stroke="#4a4a4a" stroke-width="1.4" stroke-linejoin="round"/><path d="M1899 117.8C1899.3 118.8 1899.8 120.4 1900.9 124C1902 127.6 1904.5 133.3 1905.5 139.5C1906.5 145.7 1906.4 153.4 1907.1 161.2C1907.8 168.9 1909.5 179.3 1909.5 186C1909.5 192.7 1908.3 196.3 1907.1 201.5C1905.9 206.7 1903.8 212.6 1902.4 217C1901.1 221.4 1899.6 226.1 1899 227.9L1899 227.9 L1899 117.8 Z" fill="#5E97BC" stroke="#4a4a4a" stroke-width="1.4" stroke-linejoin="round"/><line x1="1899" y1="117.8" x2="1899" y2="227.9" stroke="#4a4a4a" stroke-width="1.4"/><rect x="1897.2" y="156.6" width="3.6" height="20.1" fill="#4a4a4a" rx="0.6"/><circle cx="1899" cy="166.5" r="1.1" fill="#fff"/></g>
<g stroke="#333" stroke-width="1.4" fill="none">
<path d="M988.8 31.9 V236.3 H1093.6"/>
<path d="M1150.8 31.9 V236.4 H1938"/>
</g>
<text x="982.5" y="72.4" font-size="19" text-anchor="end">100</text>
<text x="982.5" y="112.1" font-size="19" text-anchor="end">75</text>
<text x="982.5" y="151.3" font-size="19" text-anchor="end">50</text>
<text x="982.5" y="191.2" font-size="19" text-anchor="end">25</text>
<text x="982.5" y="229.8" font-size="19" text-anchor="end">0</text>
<text x="1144.5" y="78.3" font-size="19" text-anchor="end">100</text>
<text x="1144.5" y="145.8" font-size="19" text-anchor="end">50</text>
<text x="1144.5" y="214.2" font-size="19" text-anchor="end">0</text>
<text x="1014.4" y="264" font-size="28.5" text-anchor="middle">A</text>
<text x="1067.6" y="264" font-size="28.5" text-anchor="middle">B</text>
<text x="1189.4" y="267" font-size="27" text-anchor="middle">1</text>
<text x="1268.2" y="267" font-size="27" text-anchor="middle">2</text>
<text x="1347" y="267" font-size="27" text-anchor="middle">3</text>
<text x="1425.8" y="267" font-size="27" text-anchor="middle">4</text>
<text x="1504.6" y="267" font-size="27" text-anchor="middle">5</text>
<text x="1583.4" y="267" font-size="27" text-anchor="middle">6</text>
<text x="1662.2" y="267" font-size="27" text-anchor="middle">7</text>
<text x="1741" y="267" font-size="27" text-anchor="middle">8</text>
<text x="1819.8" y="267" font-size="27" text-anchor="middle">9</text>
<text x="1898.6" y="267" font-size="27" text-anchor="middle">10</text>
<text x="870" y="27.5" font-size="32" text-anchor="start" font-weight="bold">c</text>
<text x="1033.5" y="25.6" font-size="27.5" text-anchor="middle">Compartment</text>
<text x="1541.2" y="24.8" font-size="27.5" text-anchor="middle">Chromosome</text>
<text x="941" y="134" font-size="27.5" text-anchor="middle" transform="rotate(-90 941 134)">Genes / Mb</text>
<rect x="1927.1" y="28.8" width="28.5" height="9.9" fill="#E3B33F" stroke="#8a7a50" stroke-width="0.8"/>
<rect x="1927.1" y="57.4" width="28.5" height="10.1" fill="#5E97BC" stroke="#50606a" stroke-width="0.8"/>
<text x="1961.5" y="41.6" font-size="27" text-anchor="start">A</text>
<text x="1962.5" y="70.4" font-size="27" text-anchor="start">B</text>
<g><line x1="1020.4" y1="340.6" x2="1020.4" y2="522.1" stroke="#4a4a4a" stroke-width="1.4"/><path d="M1020.4 390.8C1020.3 392.4 1020.7 397.1 1019.9 400.2C1019.1 403.3 1017.5 406.4 1015.7 409.5C1013.9 412.6 1011.4 415.7 1009.2 418.8C1007 421.9 1004.5 425 1002.7 428.1C1000.8 431.2 999 434.6 998.1 437.4C997.2 440.2 997 442 997.5 444.8C998 447.6 999.1 450.7 1000.9 454.1C1002.7 457.5 1006 461.6 1008.3 465.3C1010.6 469 1013.1 472.8 1014.8 476.5C1016.4 480.2 1017.3 483.3 1018.2 487.6C1019.1 491.9 1019.6 496.8 1020 502.5C1020.4 508.2 1020.3 518.8 1020.4 522.1L1020.4 522.1 L1020.4 390.8 Z" fill="#E3B33F" stroke="#4a4a4a" stroke-width="1.4" stroke-linejoin="round"/><path d="M1020.4 405C1020.6 406.7 1021.1 411.8 1021.4 415C1021.7 418.2 1021.2 421.3 1022.3 424.4C1023.4 427.5 1025.9 430.6 1027.8 433.7C1029.7 436.8 1031.4 439.9 1033.4 443C1035.4 446.1 1037.9 449.2 1039.9 452.3C1041.9 455.4 1045 458.8 1045.5 461.6C1046 464.4 1044.7 466.2 1042.7 469C1040.7 471.8 1036.2 475.2 1033.4 478.3C1030.6 481.4 1027.8 484.2 1026 487.6C1024.2 491 1023.1 494.8 1022.3 498.8C1021.4 502.8 1021.2 508.6 1020.9 511.8C1020.6 515 1020.5 517 1020.4 518L1020.4 518 L1020.4 405 Z" fill="#5E97BC" stroke="#4a4a4a" stroke-width="1.4" stroke-linejoin="round"/><line x1="1020.4" y1="390.8" x2="1020.4" y2="522.1" stroke="#4a4a4a" stroke-width="1.4"/><rect x="1018.7" y="440.2" width="3.4" height="26" fill="#4a4a4a" rx="0.6"/><circle cx="1020.4" cy="453.2" r="1.1" fill="#fff"/>
<line x1="1083.1" y1="428.1" x2="1083.1" y2="534.2" stroke="#4a4a4a" stroke-width="1.4"/><path d="M1082.6 495.1C1082 496 1081.3 498.8 1079 500.7C1076.7 502.6 1072.4 504.3 1068.8 506.3C1065.2 508.3 1057.9 510.6 1057.6 512.8C1057.3 515 1063.3 517 1066.9 519.3C1070.5 521.6 1076.3 524.2 1079 526.7C1081.7 529.2 1082.4 533 1083.1 534.2L1083.1 534.2 L1083.1 495.1 Z" fill="#E3B33F" stroke="#4a4a4a" stroke-width="1.4" stroke-linejoin="round"/><path d="M1083.1 494C1083.5 494.8 1083.8 496.8 1085.5 498.8C1087.2 500.9 1090.5 504.1 1093 506.3C1095.5 508.5 1098 509.8 1100.4 511.8C1102.8 513.8 1108.1 516.5 1107.5 518.4C1106.9 520.3 1100.4 521.3 1096.7 523C1093 524.7 1087.8 527.1 1085.5 528.6C1083.2 530.1 1083.5 531.7 1083.1 532.3L1083.1 532.3 L1083.1 494 Z" fill="#5E97BC" stroke="#4a4a4a" stroke-width="1.4" stroke-linejoin="round"/><line x1="1083.1" y1="494" x2="1083.1" y2="534.2" stroke="#4a4a4a" stroke-width="1.4"/><rect x="1081.4" y="509" width="3.4" height="12.2" fill="#4a4a4a" rx="0.6"/><circle cx="1083.1" cy="515.2" r="1.1" fill="#fff"/>
<line x1="1146" y1="487.6" x2="1146" y2="535" stroke="#4a4a4a" stroke-width="1.4"/><path d="M1146 509C1145.9 509.5 1146.3 510.4 1145.5 511.8C1144.7 513.2 1143.8 515.2 1141.3 517.4C1138.8 519.6 1131.1 522.7 1130.2 524.9C1129.3 527.1 1134 529 1135.8 530.5C1137.6 532 1139.6 533.5 1141.3 534.2C1143 535 1145.2 534.9 1146 535L1146 535 L1146 509 Z" fill="#E3B33F" stroke="#4a4a4a" stroke-width="1.4" stroke-linejoin="round"/><path d="M1146 511C1146.5 512.1 1147.1 515.4 1148.8 517.4C1150.5 519.4 1152.5 521.1 1156.2 523C1159.9 524.9 1170.8 527.1 1171.1 528.6C1171.4 530.1 1162.1 531.4 1158.1 532.3C1154.1 533.2 1148.9 533.8 1146.9 534.2C1144.9 534.7 1146.2 534.9 1146 535L1146 535 L1146 511 Z" fill="#5E97BC" stroke="#4a4a4a" stroke-width="1.4" stroke-linejoin="round"/><line x1="1146" y1="509" x2="1146" y2="535" stroke="#4a4a4a" stroke-width="1.4"/><rect x="1144.3" y="523" width="3.4" height="9.3" fill="#4a4a4a" rx="0.6"/><circle cx="1146" cy="526.7" r="1.1" fill="#fff"/>
<line x1="1208.8" y1="490.4" x2="1208.8" y2="534.6" stroke="#4a4a4a" stroke-width="1.4"/><path d="M1208.8 504C1208.6 504.4 1209.1 505 1207.8 506.3C1206.5 507.6 1204.2 509.6 1201 511.8C1197.8 514 1189.5 516.8 1188.9 519.3C1188.3 521.8 1194.5 524.4 1197.3 526.7C1200.1 529 1203.7 532 1205.6 533.3C1207.5 534.6 1208.3 534.4 1208.8 534.6L1208.8 534.6 L1208.8 504 Z" fill="#E3B33F" stroke="#4a4a4a" stroke-width="1.4" stroke-linejoin="round"/><path d="M1208.8 508C1209.2 508.3 1209.4 508.6 1211.2 510C1213 511.4 1215.7 514.6 1219.6 516.5C1223.5 518.4 1233.9 519.5 1234.5 521.2C1235.1 522.9 1227.2 524.7 1223.3 526.7C1219.4 528.7 1213.6 532 1211.2 533.3C1208.8 534.6 1209.2 534.4 1208.8 534.6L1208.8 534.6 L1208.8 508 Z" fill="#5E97BC" stroke="#4a4a4a" stroke-width="1.4" stroke-linejoin="round"/><line x1="1208.8" y1="504" x2="1208.8" y2="534.6" stroke="#4a4a4a" stroke-width="1.4"/><rect x="1207.1" y="515.6" width="3.4" height="11.1" fill="#4a4a4a" rx="0.6"/><circle cx="1208.8" cy="521.2" r="1.1" fill="#fff"/>
<line x1="1271.7" y1="498.4" x2="1271.7" y2="535.2" stroke="#4a4a4a" stroke-width="1.4"/><path d="M1271.7 520C1271.5 520.5 1271.9 521.6 1270.7 523C1269.5 524.4 1267.2 527.1 1264.3 528.6C1261.4 530.1 1253.4 531.3 1253.1 532.3C1252.8 533.3 1259.3 534.1 1262.4 534.6C1265.5 535.1 1270.2 535.1 1271.7 535.2L1271.7 535.2 L1271.7 520 Z" fill="#E3B33F" stroke="#4a4a4a" stroke-width="1.4" stroke-linejoin="round"/><path d="M1271.7 521C1272.2 522 1272 525 1274.5 526.7C1277 528.4 1282.9 530.2 1286.6 531.4C1290.3 532.6 1299.3 533.2 1296.8 533.8C1294.3 534.4 1275.9 535 1271.7 535.2L1271.7 535.2 L1271.7 521 Z" fill="#5E97BC" stroke="#4a4a4a" stroke-width="1.4" stroke-linejoin="round"/><line x1="1271.7" y1="520" x2="1271.7" y2="535.2" stroke="#4a4a4a" stroke-width="1.4"/><rect x="1270" y="526.7" width="3.4" height="8.3" fill="#4a4a4a" rx="0.6"/><circle cx="1271.7" cy="532" r="1.1" fill="#fff"/>
<line x1="1334.4" y1="489.5" x2="1334.4" y2="535" stroke="#4a4a4a" stroke-width="1.4"/><path d="M1334.4 528C1334.3 528.2 1335.3 528.9 1333.9 529.5C1332.5 530.1 1330.1 530.8 1326 531.4C1321.9 532 1307.9 532.7 1309.3 533.3C1310.7 533.9 1330.2 534.7 1334.4 535L1334.4 535 L1334.4 528 Z" fill="#E3B33F" stroke="#4a4a4a" stroke-width="1.4" stroke-linejoin="round"/><path d="M1334.4 528C1334.9 528.2 1334.7 528.8 1337.2 529.5C1339.7 530.2 1347.3 531.7 1349.3 532.3C1351.3 532.9 1351.9 533 1349.4 533.3C1346.9 533.6 1336.9 534.1 1334.4 534.3L1334.4 534.3 L1334.4 528 Z" fill="#5E97BC" stroke="#4a4a4a" stroke-width="1.4" stroke-linejoin="round"/><line x1="1334.4" y1="528" x2="1334.4" y2="535" stroke="#4a4a4a" stroke-width="1.4"/><rect x="1332.7" y="530" width="3.4" height="4" fill="#4a4a4a" rx="0.6"/><circle cx="1334.4" cy="533.3" r="1.1" fill="#fff"/>
<line x1="1397.2" y1="517.4" x2="1397.2" y2="534.5" stroke="#4a4a4a" stroke-width="1.4"/><path d="M1397.2 528.5C1394.7 528.8 1386 529.7 1381.9 530.5C1377.8 531.3 1370.1 532.6 1372.6 533.3C1375.2 534 1393.1 534.3 1397.2 534.5L1397.2 534.5 L1397.2 528.5 Z" fill="#E3B33F" stroke="#4a4a4a" stroke-width="1.4" stroke-linejoin="round"/><path d="M1397.2 528.5C1398.4 528.8 1400.5 529.9 1404.2 530.5C1407.9 531.1 1420.4 531.8 1419.2 532.3C1418 532.8 1400.9 533.3 1397.2 533.5L1397.2 533.5 L1397.2 528.5 Z" fill="#5E97BC" stroke="#4a4a4a" stroke-width="1.4" stroke-linejoin="round"/><line x1="1397.2" y1="528.5" x2="1397.2" y2="534.5" stroke="#4a4a4a" stroke-width="1.4"/><rect x="1395.5" y="529" width="3.4" height="5" fill="#4a4a4a" rx="0.6"/><circle cx="1397.2" cy="532.7" r="1.1" fill="#fff"/>
<line x1="1460.5" y1="398.3" x2="1460.5" y2="530.5" stroke="#4a4a4a" stroke-width="1.4"/><path d="M1460.5 483C1460.4 483.1 1461.6 482.2 1460 483.9C1458.4 485.6 1453.9 490.7 1450.8 493.2C1447.7 495.7 1444.1 496.8 1441.5 498.8C1438.9 500.8 1434.6 503.1 1435 505.3C1435.4 507.5 1440.1 509.5 1443.7 511.8C1447.3 514.1 1453.7 517.1 1456.4 519.3C1459.1 521.5 1459.1 523.6 1459.8 524.9C1460.5 526.2 1460.4 526.6 1460.5 527L1460.5 527 L1460.5 483 Z" fill="#E3B33F" stroke="#4a4a4a" stroke-width="1.4" stroke-linejoin="round"/><path d="M1460.5 460C1460.7 461.5 1461.2 465.6 1461.5 469C1461.8 472.4 1461.7 476.8 1462.4 480.2C1463.1 483.6 1464.1 486.7 1465.7 489.5C1467.3 492.3 1469.8 494.5 1472.2 497C1474.6 499.5 1480.2 501.9 1480.2 504.4C1480.2 506.9 1474.9 509.3 1472.2 511.8C1469.5 514.3 1465.9 516.2 1463.9 519.3C1462 522.4 1461.1 528.6 1460.5 530.5L1460.5 530.5 L1460.5 460 Z" fill="#5E97BC" stroke="#4a4a4a" stroke-width="1.4" stroke-linejoin="round"/><line x1="1460.5" y1="460" x2="1460.5" y2="530.5" stroke="#4a4a4a" stroke-width="1.4"/><rect x="1458.8" y="496" width="3.4" height="14" fill="#4a4a4a" rx="0.6"/><circle cx="1460.5" cy="503.8" r="1.1" fill="#fff"/>
<line x1="1523.4" y1="487.6" x2="1523.4" y2="535" stroke="#4a4a4a" stroke-width="1.4"/><path d="M1523.4 518C1523.2 518.5 1524 519.8 1522.4 521.2C1520.9 522.7 1518.1 525 1514.1 526.7C1510.1 528.4 1498.3 530.1 1498.3 531.4C1498.3 532.6 1509.9 533.6 1514.1 534.2C1518.3 534.8 1521.9 534.9 1523.4 535L1523.4 535 L1523.4 518 Z" fill="#E3B33F" stroke="#4a4a4a" stroke-width="1.4" stroke-linejoin="round"/><path d="M1523.4 515C1523.6 515.7 1523.3 517.6 1524.4 519.3C1525.5 520.9 1527.1 523.2 1529.9 524.9C1532.7 526.6 1541.3 528.1 1541.1 529.5C1541 530.9 1532 532.4 1529 533.3C1526 534.2 1524.3 534.7 1523.4 535L1523.4 535 L1523.4 515 Z" fill="#5E97BC" stroke="#4a4a4a" stroke-width="1.4" stroke-linejoin="round"/><line x1="1523.4" y1="515" x2="1523.4" y2="535" stroke="#4a4a4a" stroke-width="1.4"/><rect x="1521.7" y="524" width="3.4" height="9" fill="#4a4a4a" rx="0.6"/><circle cx="1523.4" cy="530.1" r="1.1" fill="#fff"/>
<line x1="1586.1" y1="506.3" x2="1586.1" y2="536" stroke="#4a4a4a" stroke-width="1.4"/><path d="M1586.1 511C1585.9 511.4 1587.2 512.3 1584.8 513.7C1582.4 515.1 1575.7 517.6 1571.8 519.3C1567.9 521 1561.2 522.3 1561.5 523.9C1561.8 525.5 1569.7 526.7 1573.6 528.6C1577.5 530.5 1582.7 533.9 1584.8 535.1C1586.9 536.3 1585.9 535.9 1586.1 536L1586.1 536 L1586.1 511 Z" fill="#E3B33F" stroke="#4a4a4a" stroke-width="1.4" stroke-linejoin="round"/><path d="M1586.1 510C1586.8 510.3 1588.1 510.7 1590.4 511.8C1592.7 512.9 1596.1 515.2 1599.7 516.5C1603.3 517.8 1611.8 518.6 1611.8 519.8C1611.8 521 1603.4 522.1 1599.7 523.9C1596 525.7 1591.8 529 1589.5 530.5C1587.2 532 1586.7 532.6 1586.1 533L1586.1 533 L1586.1 510 Z" fill="#5E97BC" stroke="#4a4a4a" stroke-width="1.4" stroke-linejoin="round"/><line x1="1586.1" y1="510" x2="1586.1" y2="536" stroke="#4a4a4a" stroke-width="1.4"/><rect x="1584.4" y="514" width="3.4" height="14" fill="#4a4a4a" rx="0.6"/><circle cx="1586.1" cy="522.6" r="1.1" fill="#fff"/>
<line x1="1648.9" y1="341" x2="1648.9" y2="534.2" stroke="#4a4a4a" stroke-width="1.4"/><path d="M1648.9 446.7C1648.7 449.8 1647.7 459.1 1647.4 465.3C1647.1 471.5 1647 479.9 1646.9 483.9C1646.8 487.9 1647.2 486.4 1646.7 489.5C1646.2 492.6 1645.5 499.4 1643.9 502.5C1642.4 505.6 1640 506.2 1637.4 508.1C1634.8 510 1630.3 511.8 1628.1 513.7C1625.9 515.6 1623.1 517.4 1624.3 519.3C1625.5 521.2 1632.1 523 1635.5 524.9C1638.9 526.8 1642.6 529 1644.8 530.5C1647 532 1648.2 533.6 1648.9 534.2L1648.9 534.2 L1648.9 446.7 Z" fill="#E3B33F" stroke="#4a4a4a" stroke-width="1.4" stroke-linejoin="round"/><path d="M1648.9 446.7C1649.2 449.8 1650.1 459.1 1650.4 465.3C1650.7 471.5 1650.8 478.9 1650.9 483.9C1651.1 488.9 1650.6 492 1651.3 495.1C1652 498.2 1653.1 500 1655 502.5C1656.9 505 1660.5 507.7 1662.5 510C1664.5 512.3 1667.6 514.3 1667.1 516.5C1666.6 518.7 1662.5 520.7 1659.7 523C1656.9 525.3 1652.2 529 1650.4 530.5C1648.6 532 1649.2 531.8 1648.9 532L1648.9 532 L1648.9 446.7 Z" fill="#5E97BC" stroke="#4a4a4a" stroke-width="1.4" stroke-linejoin="round"/><line x1="1648.9" y1="446.7" x2="1648.9" y2="534.2" stroke="#4a4a4a" stroke-width="1.4"/><rect x="1647.2" y="509" width="3.4" height="13" fill="#4a4a4a" rx="0.6"/><circle cx="1648.9" cy="517" r="1.1" fill="#fff"/>
<line x1="1711.8" y1="384.9" x2="1711.8" y2="535" stroke="#4a4a4a" stroke-width="1.4"/><path d="M1711.8 505C1711.5 506.4 1711.4 511.3 1709.9 513.7C1708.3 516.1 1705.3 517.4 1702.5 519.3C1699.7 521.2 1695.8 523.5 1693.2 524.9C1690.6 526.3 1686.1 526.5 1686.7 527.7C1687.3 528.9 1692.7 531.2 1696.9 532.3C1701.1 533.4 1709.3 533.9 1711.8 534.2L1711.8 534.2 L1711.8 505 Z" fill="#E3B33F" stroke="#4a4a4a" stroke-width="1.4" stroke-linejoin="round"/><path d="M1711.8 500C1712 501.1 1712.4 504 1713.3 506.3C1714.2 508.6 1715.5 511.5 1717.4 513.7C1719.3 515.9 1722.7 517.6 1724.8 519.3C1726.9 521 1730.3 522.3 1730 523.9C1729.7 525.5 1725.9 526.9 1723 528.6C1720.1 530.3 1714.6 533.1 1712.7 534.2C1710.8 535.3 1712 534.9 1711.8 535L1711.8 535 L1711.8 500 Z" fill="#5E97BC" stroke="#4a4a4a" stroke-width="1.4" stroke-linejoin="round"/><line x1="1711.8" y1="500" x2="1711.8" y2="535" stroke="#4a4a4a" stroke-width="1.4"/><rect x="1710.1" y="520.2" width="3.4" height="9.3" fill="#4a4a4a" rx="0.6"/><circle cx="1711.8" cy="524.9" r="1.1" fill="#fff"/>
<line x1="1774.7" y1="408" x2="1774.7" y2="534.2" stroke="#4a4a4a" stroke-width="1.4"/><path d="M1774.7 455C1774.5 456.7 1774.6 461.4 1773.7 465.3C1772.8 469.2 1771.5 474.6 1769.5 478.3C1767.5 482 1765.1 484.8 1762 487.6C1758.9 490.4 1753 493.1 1750.9 495.1C1748.8 497.1 1748.2 497.8 1749.4 499.7C1750.6 501.6 1755.3 504 1758.3 506.3C1761.3 508.6 1765.4 511.2 1767.6 513.7C1769.8 516.2 1770.4 518.1 1771.3 521.2C1772.2 524.3 1772.2 530.1 1772.8 532.3C1773.4 534.5 1774.4 533.9 1774.7 534.2L1774.7 534.2 L1774.7 455 Z" fill="#E3B33F" stroke="#4a4a4a" stroke-width="1.4" stroke-linejoin="round"/><path d="M1774.7 455C1774.9 457.3 1774.5 465.1 1776 469C1777.5 472.9 1780.9 475.2 1783.4 478.3C1785.9 481.4 1788.7 484.5 1790.9 487.6C1793.1 490.7 1796.5 494.2 1796.5 497C1796.5 499.8 1793.2 501.9 1790.9 504.4C1788.6 506.9 1784.7 509 1782.5 511.8C1780.3 514.6 1779.1 517.8 1777.9 521.2C1776.7 524.6 1775.9 530.2 1775.4 532.3C1774.9 534.4 1774.8 533.7 1774.7 534L1774.7 534 L1774.7 455 Z" fill="#5E97BC" stroke="#4a4a4a" stroke-width="1.4" stroke-linejoin="round"/><line x1="1774.7" y1="455" x2="1774.7" y2="534.2" stroke="#4a4a4a" stroke-width="1.4"/><rect x="1773" y="491.4" width="3.4" height="17.6" fill="#4a4a4a" rx="0.6"/><circle cx="1774.7" cy="499.7" r="1.1" fill="#fff"/>
<line x1="1837.6" y1="450.8" x2="1837.6" y2="534.2" stroke="#4a4a4a" stroke-width="1.4"/><path d="M1837.6 470C1837.4 471.4 1837.9 475.4 1836.5 478.3C1835.1 481.2 1832 484.8 1829 487.6C1826 490.4 1821.6 492.8 1818.8 495.1C1816 497.4 1812.2 499.4 1812.3 501.6C1812.4 503.8 1816.9 505.8 1819.7 508.1C1822.5 510.4 1826.8 513.1 1829 515.6C1831.2 518.1 1831.7 520.2 1832.8 523C1833.9 525.8 1834.8 530.4 1835.6 532.3C1836.4 534.2 1837.3 533.9 1837.6 534.2L1837.6 534.2 L1837.6 470 Z" fill="#E3B33F" stroke="#4a4a4a" stroke-width="1.4" stroke-linejoin="round"/><path d="M1837.6 462C1838 463.2 1838.4 466.3 1840.2 469C1842 471.7 1845.6 475.5 1848.6 478.3C1851.5 481.1 1855.9 483.6 1857.9 485.8C1859.9 488 1861.8 489.4 1860.7 491.4C1859.6 493.4 1854.2 495.4 1851.4 497.9C1848.6 500.4 1845.6 503.1 1843.9 506.3C1842.2 509.6 1841.9 513.1 1841.1 517.4C1840.3 521.7 1839.9 529.5 1839.3 532.3C1838.7 535.1 1837.9 533.7 1837.6 534L1837.6 534 L1837.6 462 Z" fill="#5E97BC" stroke="#4a4a4a" stroke-width="1.4" stroke-linejoin="round"/><line x1="1837.6" y1="462" x2="1837.6" y2="534.2" stroke="#4a4a4a" stroke-width="1.4"/><rect x="1835.9" y="488.6" width="3.4" height="20.4" fill="#4a4a4a" rx="0.6"/><circle cx="1837.6" cy="499.2" r="1.1" fill="#fff"/>
<line x1="1900.7" y1="341" x2="1900.7" y2="534.5" stroke="#4a4a4a" stroke-width="1.4"/><path d="M1900.7 503C1900.2 503.9 1900.2 506 1897.9 508.1C1895.6 510.2 1890.5 513.3 1886.7 515.6C1882.9 517.9 1875.5 520.2 1875.2 522.1C1874.9 524 1881.1 524.8 1884.9 526.7C1888.7 528.6 1895.3 532 1897.9 533.3C1900.5 534.6 1900.2 534.3 1900.7 534.5L1900.7 534.5 L1900.7 503 Z" fill="#E3B33F" stroke="#4a4a4a" stroke-width="1.4" stroke-linejoin="round"/><path d="M1900.7 440C1900.8 441.7 1901.1 445.8 1901.3 450C1901.5 454.2 1901.2 460.3 1901.6 465.3C1902 470.3 1902.6 475.2 1903.5 480.2C1904.4 485.2 1906.1 490.5 1907.2 495.1C1908.3 499.8 1909.8 504.4 1910 508.1C1910.2 511.8 1909 514.3 1908.1 517.4C1907.2 520.5 1905.5 524.2 1904.4 526.7C1903.3 529.2 1902.2 531.1 1901.6 532.3C1901 533.5 1900.9 533.7 1900.7 534L1900.7 534 L1900.7 440 Z" fill="#5E97BC" stroke="#4a4a4a" stroke-width="1.4" stroke-linejoin="round"/><line x1="1900.7" y1="440" x2="1900.7" y2="534.5" stroke="#4a4a4a" stroke-width="1.4"/><rect x="1899" y="500.7" width="3.4" height="23.3" fill="#4a4a4a" rx="0.6"/><circle cx="1900.7" cy="516.5" r="1.1" fill="#fff"/></g>
<rect x="989" y="541.2" width="313.5" height="3.2" fill="#F6D98A"/>
<rect x="1303.5" y="541.2" width="628" height="3.2" fill="#A9CDE3"/>
<g stroke="#555" stroke-width="1.4" fill="none"><path d="M988.6 339.8 V545 H1931.9 V339.8"/></g>
<line x1="1303" y1="341" x2="1303" y2="545" stroke="#000" stroke-width="2.2"/>
<text x="984.5" y="345.4" font-size="19" text-anchor="end">600</text>
<text x="984.5" y="409.6" font-size="19" text-anchor="end">400</text>
<text x="984.5" y="474.1" font-size="19" text-anchor="end">200</text>
<text x="984.5" y="537.8" font-size="19" text-anchor="end">0</text>
<text x="1027.6" y="551.7" font-size="20.8" text-anchor="end" transform="rotate(-90 1027.6 551.7)">DNA/Kolobok-T2</text>
<text x="1090.5" y="551.7" font-size="20.8" text-anchor="end" transform="rotate(-90 1090.5 551.7)">DNA/hAT-Charlie</text>
<text x="1153.4" y="551.7" font-size="20.8" text-anchor="end" transform="rotate(-90 1153.4 551.7)">DNA/TcMar-Tc1</text>
<text x="1216.3" y="551.7" font-size="20.8" text-anchor="end" transform="rotate(-90 1216.3 551.7)">Mariner/Tc1</text>
<text x="1279.2" y="551.7" font-size="20.8" text-anchor="end" transform="rotate(-90 1279.2 551.7)">DIRS</text>
<text x="1342.2" y="551.7" font-size="20.8" text-anchor="end" transform="rotate(-90 1342.2 551.7)">LTR_Retrotransposon</text>
<text x="1405.1" y="551.7" font-size="20.8" text-anchor="end" transform="rotate(-90 1405.1 551.7)">Transposable_Element</text>
<text x="1468" y="551.7" font-size="20.8" text-anchor="end" transform="rotate(-90 1468 551.7)">hAT</text>
<text x="1530.9" y="551.7" font-size="20.8" text-anchor="end" transform="rotate(-90 1530.9 551.7)">Ty3-Metaviridae</text>
<text x="1593.8" y="551.7" font-size="20.8" text-anchor="end" transform="rotate(-90 1593.8 551.7)">DNA_transposon</text>
<text x="1656.7" y="551.7" font-size="20.8" text-anchor="end" transform="rotate(-90 1656.7 551.7)">LINE1/CR1</text>
<text x="1719.6" y="551.7" font-size="20.8" text-anchor="end" transform="rotate(-90 1719.6 551.7)">LTR/Ty3-Metaviridae</text>
<text x="1782.5" y="551.7" font-size="20.8" text-anchor="end" transform="rotate(-90 1782.5 551.7)">DNA/TcMAr-Tigger</text>
<text x="1845.4" y="551.7" font-size="20.8" text-anchor="end" transform="rotate(-90 1845.4 551.7)">DNA</text>
<text x="1908.3" y="551.7" font-size="20.8" text-anchor="end" transform="rotate(-90 1908.3 551.7)">DNA/hAT-Ac</text>
<text x="870" y="344.5" font-size="32" text-anchor="start" font-weight="bold">d</text>
<text x="1456.8" y="337.8" font-size="27.5" text-anchor="middle">Repeat class</text>
<text x="943.5" y="436" font-size="27.5" text-anchor="middle" transform="rotate(-90 943.5 436)">Repeats / Mb</text>
<g fill="#60AC82"><path d="M982.2 888.8L982.4 824.2 L983.1 824.2L983.4 821.4 L984.2 821.4L984.4 888.8 ZM1009.4 888.8L1009.5 842.6 L1010.3 842.6L1010.5 888.8 ZM1033.3 888.8L1033.5 818.1 L1034.2 818.1L1034.4 888.8 ZM1039.8 888.8L1040 811.4 L1040.8 811.4L1041.1 807 L1041.9 807L1042.2 810.9 L1043 810.9L1043.3 812 L1044 812L1044.3 807.7 L1045.1 807.7L1045.4 810.1 L1046.2 810.1L1046.5 807.7 L1047.3 807.7L1047.6 811.2 L1048.4 811.2L1048.7 810.6 L1049.5 810.6L1049.8 807.7 L1050.6 807.7L1050.9 808.3 L1051.6 808.3L1052 825.3 L1052.7 825.3L1053 813.7 L1053.8 813.7L1054.1 826.9 L1054.9 826.9L1055.2 826.8 L1056 826.8L1056.3 826.7 L1057.1 826.7L1057.2 888.8 ZM1059.4 888.8L1059.6 823.2 L1060.3 823.2L1060.7 824.1 L1061.4 824.1L1061.7 827.9 L1062.5 827.9L1062.8 825.2 L1063.6 825.2L1063.8 888.8 ZM1065.9 888.8L1066.1 828.5 L1066.9 828.5L1067.2 830.7 L1068 830.7L1068.3 827.9 L1069 827.9L1069.4 832 L1070.1 832L1070.3 888.8 ZM1071.4 888.8L1071.5 802.5 L1072.3 802.5L1072.6 800.7 L1073.4 800.7L1073.7 798.9 L1074.5 798.9L1074.8 800.5 L1075.6 800.5L1075.9 799.7 L1076.7 799.7L1077 804.8 L1077.8 804.8L1078.1 802.3 L1078.8 802.3L1079.1 800.2 L1079.9 800.2L1080.2 799.6 L1081 799.6L1081.3 803.5 L1082.1 803.5L1082.2 888.8 ZM1091 888.8L1091.1 868.9 L1091.9 868.9L1092 888.8 ZM1102.9 888.8L1103.1 807.2 L1103.8 807.2L1104 888.8 ZM1120.3 888.8L1120.5 816.7 L1121.2 816.7L1121.6 822.1 L1122.3 822.1L1122.5 888.8 ZM1135.5 888.8L1135.7 806.6 L1136.5 806.6L1136.8 809.3 L1137.6 809.3L1137.9 805.8 L1138.6 805.8L1139 809.6 L1139.7 809.6L1140 806.7 L1140.8 806.7L1141 888.8 ZM1148.6 888.8L1148.7 808.8 L1149.5 808.8L1149.8 808.6 L1150.6 808.6L1150.9 813.2 L1151.7 813.2L1152 815.2 L1152.8 815.2L1153.1 806.4 L1153.9 806.4L1154.2 807.5 L1155 807.5L1155.3 807.8 L1156 807.8L1156.4 815.4 L1157.1 815.4L1157.4 806.7 L1158.2 806.7L1158.5 816.5 L1159.3 816.5L1159.6 820.1 L1160.4 820.1L1160.5 888.8 ZM1166 888.8L1166.1 869.4 L1166.9 869.4L1167.1 888.8 ZM1173.6 888.8L1173.8 821.3 L1174.5 821.3L1174.8 823.5 L1175.6 823.5L1175.9 813.3 L1176.7 813.3L1177 811.5 L1177.8 811.5L1178.1 825.2 L1178.9 825.2L1179.2 817.2 L1180 817.2L1180.1 888.8 ZM1188.8 888.8L1189 814 L1189.8 814L1190.1 823.7 L1190.8 823.7L1191.2 820 L1191.9 820L1192.1 888.8 ZM1193.2 888.8L1193.3 817.1 L1194.1 817.1L1194.3 888.8 ZM1198.6 888.8L1198.8 846.7 L1199.5 846.7L1199.9 840.8 L1200.6 840.8L1200.8 888.8 ZM1204 888.8L1204.2 833.3 L1205 833.3L1205.1 888.8 ZM1217.1 888.8L1217.2 859 L1218 859L1218.2 888.8 ZM1220.4 888.8L1220.5 807.3 L1221.3 807.3L1221.6 807.3 L1222.4 807.3L1222.7 811.6 L1223.5 811.6L1223.6 888.8 ZM1225.8 888.8L1226 808.9 L1226.7 808.9L1227 811.3 L1227.8 811.3L1228.1 808 L1228.9 808L1229.2 810.5 L1230 810.5L1230.3 806.9 L1231.1 806.9L1231.2 888.8 ZM1232.3 888.8L1232.5 794.3 L1233.3 794.3L1233.6 806.1 L1234.3 806.1L1234.7 800.2 L1235.4 800.2L1235.7 800.4 L1236.5 800.4L1236.8 812.3 L1237.6 812.3L1237.9 795.9 L1238.7 795.9L1239 798.2 L1239.8 798.2L1240.1 800.4 L1240.9 800.4L1241 888.8 ZM1247.5 888.8L1247.7 814.4 L1248.5 814.4L1248.6 888.8 ZM1259.5 888.8L1259.7 812.5 L1260.4 812.5L1260.8 823.4 L1261.5 823.4L1261.7 888.8 ZM1269.3 888.8L1269.5 829.8 L1270.2 829.8L1270.4 888.8 ZM1301.9 888.8L1302.1 815.8 L1302.9 815.8L1303.2 820.2 L1303.9 820.2L1304.2 815.5 L1305 815.5L1305.2 888.8 ZM1322.6 888.8L1322.7 811.5 L1323.5 811.5L1323.8 804.9 L1324.6 804.9L1324.9 813.8 L1325.7 813.8L1325.8 888.8 ZM1326.9 888.8L1327.1 802.1 L1327.9 802.1L1328 888.8 ZM1352 888.8L1352.1 833.8 L1352.9 833.8L1353 888.8 ZM1379.1 888.8L1379.3 829.8 L1380.1 829.8L1380.4 833.8 L1381.2 833.8L1381.5 825.2 L1382.2 825.2L1382.4 888.8 ZM1386.8 888.8L1386.9 815.4 L1387.7 815.4L1388 823.3 L1388.8 823.3L1389.1 814.6 L1389.9 814.6L1390.2 824.4 L1390.9 824.4L1391.1 888.8 ZM1392.2 888.8L1392.3 818.5 L1393.1 818.5L1393.3 888.8 ZM1406.3 888.8L1406.5 809.3 L1407.3 809.3L1407.6 807.3 L1408.3 807.3L1408.7 807.5 L1409.4 807.5L1409.7 806.2 L1410.5 806.2L1410.8 805.4 L1411.6 805.4L1411.9 809.3 L1412.7 809.3L1413 806.2 L1413.8 806.2L1414.1 806.6 L1414.9 806.6L1415.2 807.5 L1416 807.5L1416.3 810.6 L1417 810.6L1417.4 807 L1418.1 807L1418.4 807 L1419.2 807L1419.5 806.8 L1420.3 806.8L1420.6 809.9 L1421.4 809.9L1421.7 804.9 L1422.5 804.9L1422.8 805.3 L1423.6 805.3L1423.9 807.6 L1424.7 807.6L1425 806 L1425.8 806L1426.1 805.7 L1426.8 805.7L1427.1 807.9 L1427.9 807.9L1428.2 807.1 L1429 807.1L1429.3 809.4 L1430.1 809.4L1430.4 805 L1431.2 805L1431.5 807.4 L1432.3 807.4L1432.6 807.3 L1433.4 807.3L1433.7 810 L1434.4 810L1434.8 807.8 L1435.5 807.8L1435.8 805.4 L1436.6 805.4L1436.8 888.8 ZM1442.2 888.8L1442.4 804.3 L1443.1 804.3L1443.5 807.5 L1444.2 807.5L1444.5 807.7 L1445.3 807.7L1445.6 805.9 L1446.4 805.9L1446.7 804.4 L1447.5 804.4L1447.8 801.9 L1448.6 801.9L1448.9 807.8 L1449.7 807.8L1450 805.5 L1450.8 805.5L1451.1 802.2 L1451.8 802.2L1452.2 806.5 L1452.9 806.5L1453.1 888.8 ZM1454.2 888.8L1454.3 804.9 L1455.1 804.9L1455.4 807.8 L1456.2 807.8L1456.5 805.8 L1457.3 805.8L1457.4 888.8 ZM1468.3 888.8L1468.5 817 L1469.2 817L1469.4 888.8 ZM1470.5 888.8L1470.6 808.6 L1471.4 808.6L1471.7 813.3 L1472.5 813.3L1472.8 814.3 L1473.6 814.3L1473.8 888.8 ZM1474.8 888.8L1475 814 L1475.8 814L1476.1 806.7 L1476.9 806.7L1477.2 814.3 L1477.9 814.3L1478.2 812.7 L1479 812.7L1479.2 888.8 ZM1480.3 888.8L1480.4 808.7 L1481.2 808.7L1481.4 888.8 ZM1502 888.8L1502.2 806.2 L1503 806.2L1503.3 815.4 L1504 815.4L1504.4 809.3 L1505.1 809.3L1505.4 810.1 L1506.2 810.1L1506.4 888.8 ZM1532.5 888.8L1532.6 801.7 L1533.4 801.7L1533.7 801.1 L1534.5 801.1L1534.8 802.1 L1535.6 802.1L1535.9 802.1 L1536.7 802.1L1536.8 888.8 ZM1543.3 888.8L1543.5 810.1 L1544.3 810.1L1544.6 819.4 L1545.4 819.4L1545.5 888.8 ZM1546.6 888.8L1546.8 820.5 L1547.5 820.5L1547.7 888.8 ZM1557.5 888.8L1557.6 840.1 L1558.4 840.1L1558.6 888.8 ZM1571.6 888.8L1571.8 828.7 L1572.6 828.7L1572.9 816.2 L1573.6 816.2L1573.8 888.8 ZM1581.4 888.8L1581.6 845.4 L1582.3 845.4L1582.5 888.8 ZM1585.8 888.8L1585.9 802.6 L1586.7 802.6L1587 802.8 L1587.8 802.8L1588.1 811.1 L1588.9 811.1L1589 888.8 ZM1590.1 888.8L1590.3 806.7 L1591 806.7L1591.4 808.8 L1592.1 808.8L1592.4 796.3 L1593.2 796.3L1593.4 888.8 ZM1603.2 888.8L1603.3 812.8 L1604.1 812.8L1604.4 799.1 L1605.2 799.1L1605.5 812 L1606.3 812L1606.6 813 L1607.4 813L1607.7 799.1 L1608.4 799.1L1608.8 812.9 L1609.5 812.9L1609.8 801.4 L1610.6 801.4L1610.9 798 L1611.7 798L1612 804.3 L1612.8 804.3L1613 888.8 ZM1614 888.8L1614.2 807.9 L1615 807.9L1615.1 888.8 ZM1618.4 888.8L1618.5 820.1 L1619.3 820.1L1619.6 814.3 L1620.4 814.3L1620.7 821.9 L1621.5 821.9L1621.8 820.4 L1622.6 820.4L1622.9 812.4 L1623.7 812.4L1624 819.2 L1624.8 819.2L1625.1 812.3 L1625.8 812.3L1626.2 805.5 L1626.9 805.5L1627.1 888.8 ZM1641.2 888.8L1641.4 806 L1642.2 806L1642.5 807.9 L1643.2 807.9L1643.6 809.6 L1644.3 809.6L1644.6 809.8 L1645.4 809.8L1645.7 808.9 L1646.5 808.9L1646.8 810.3 L1647.6 810.3L1647.9 807.8 L1648.7 807.8L1649 809.2 L1649.8 809.2L1650.1 810.4 L1650.9 810.4L1651.2 809.5 L1651.9 809.5L1652.2 809.6 L1653 809.6L1653.3 806.9 L1654.1 806.9L1654.4 807.4 L1655.2 807.4L1655.5 810.5 L1656.3 810.5L1656.6 809.7 L1657.4 809.7L1657.7 806.2 L1658.5 806.2L1658.8 810.2 L1659.6 810.2L1659.9 809.9 L1660.6 809.9L1660.8 888.8 ZM1683.6 888.8L1683.8 813 L1684.6 813L1684.9 810 L1685.7 810L1686 812.1 L1686.8 812.1L1687.1 814.1 L1687.8 814.1L1688.1 812.2 L1688.9 812.2L1689.2 814.3 L1690 814.3L1690.3 812.2 L1691.1 812.2L1691.4 812 L1692.2 812L1692.5 813.6 L1693.3 813.6L1693.6 810.2 L1694.4 810.2L1694.5 888.8 ZM1751.1 888.8L1751.2 813.1 L1752 813.1L1752.3 812.4 L1753.1 812.4L1753.4 815.9 L1754.2 815.9L1754.5 812.3 L1755.3 812.3L1755.6 813 L1756.3 813L1756.5 888.8 ZM1771.7 888.8L1771.9 815 L1772.7 815L1772.8 888.8 ZM1773.9 888.8L1774.1 819.8 L1774.8 819.8L1775 888.8 ZM1777.2 888.8L1777.3 813.6 L1778.1 813.6L1778.2 888.8 ZM1779.3 888.8L1779.5 814.2 L1780.3 814.2L1780.6 811.9 L1781.4 811.9L1781.5 888.8 ZM1782.6 888.8L1782.8 809.2 L1783.5 809.2L1783.7 888.8 ZM1784.8 888.8L1784.9 810.7 L1785.7 810.7L1786 810.8 L1786.8 810.8L1787.1 810.3 L1787.9 810.3L1788.2 807.5 L1789 807.5L1789.3 818.7 L1790.1 818.7L1790.4 817.5 L1791.1 817.5L1791.5 810.4 L1792.2 810.4L1792.5 805.7 L1793.3 805.7L1793.6 809.2 L1794.4 809.2L1794.7 816.1 L1795.5 816.1L1795.7 888.8 ZM1796.7 888.8L1796.9 810.3 L1797.7 810.3L1798 818.7 L1798.8 818.7L1799.1 811.5 L1799.8 811.5L1800.2 814.2 L1800.9 814.2L1801.2 818.9 L1802 818.9L1802.3 811.7 L1803.1 811.7L1803.3 888.8 ZM1804.3 888.8L1804.5 805.9 L1805.3 805.9L1805.4 888.8 ZM1814.1 888.8L1814.3 831.2 L1815.1 831.2L1815.2 888.8 ZM1816.3 888.8L1816.5 831.8 L1817.2 831.8L1817.4 888.8 ZM1829.4 888.8L1829.5 845.5 L1830.3 845.5L1830.4 888.8 ZM1831.5 888.8L1831.7 840.7 L1832.5 840.7L1832.8 848.6 L1833.6 848.6L1833.7 888.8 ZM1834.8 888.8L1835 847.1 L1835.7 847.1L1836 846 L1836.8 846L1837 888.8 ZM1839.2 888.8L1839.3 818.4 L1840.1 818.4L1840.4 815.8 L1841.2 815.8L1841.5 802 L1842.3 802L1842.6 806.2 L1843.3 806.2L1843.7 815 L1844.4 815L1844.7 811.5 L1845.5 811.5L1845.7 888.8 ZM1856.5 888.8L1856.7 824.9 L1857.5 824.9L1857.8 829.5 L1858.6 829.5L1858.9 826.3 L1859.7 826.3L1859.8 888.8 ZM1873.9 888.8L1874.1 796.9 L1874.9 796.9L1875.2 801.8 L1876 801.8L1876.3 801.1 L1877.1 801.1L1877.4 796.8 L1878.1 796.8L1878.5 799.9 L1879.2 799.9L1879.5 796.3 L1880.3 796.3L1880.6 798.1 L1881.4 798.1L1881.6 888.8 ZM1914.2 888.8L1914.3 810.7 L1915.1 810.7L1915.3 888.8 ZM1916.4 888.8L1916.5 804.7 L1917.3 804.7L1917.6 800 L1918.4 800L1918.7 812.6 L1919.5 812.6L1919.6 888.8 ZM1924 888.8L1924.1 812.7 L1924.9 812.7L1925.1 888.8 Z"/>
<path d="M984.4 888.8L984.5 965.3 L985.3 965.3L985.6 964.3 L986.4 964.3L986.7 965.7 L987.5 965.7L987.8 964.3 L988.6 964.3L988.9 966.5 L989.7 966.5L990 966.6 L990.8 966.6L991.1 968.6 L991.8 968.6L992.1 966.3 L992.9 966.3L993.2 967.9 L994 967.9L994.3 966.3 L995.1 966.3L995.4 967.3 L996.2 967.3L996.5 966.4 L997.3 966.4L997.6 965.8 L998.4 965.8L998.7 967.5 L999.5 967.5L999.8 966.7 L1000.5 966.7L1000.8 967 L1001.6 967L1001.9 966.2 L1002.7 966.2L1003 968 L1003.8 968L1004.1 967.9 L1004.9 967.9L1005.2 966 L1006 966L1006.3 965.5 L1007.1 965.5L1007.4 968.1 L1008.2 968.1L1008.5 966.8 L1009.2 966.8L1009.4 888.8 ZM1010.5 888.8L1010.6 964.7 L1011.4 964.7L1011.7 965.2 L1012.5 965.2L1012.8 967.2 L1013.6 967.2L1013.9 969.4 L1014.7 969.4L1015 966.9 L1015.8 966.9L1016.1 967.9 L1016.9 967.9L1017.1 966.2 L1017.9 966.2L1018.2 965.2 L1019 965.2L1019.3 969.6 L1020.1 969.6L1020.4 964.6 L1021.2 964.6L1021.5 968.6 L1022.3 968.6L1022.6 965.4 L1023.4 965.4L1023.7 969.2 L1024.5 969.2L1024.8 966.5 L1025.5 966.5L1025.9 968.3 L1026.6 968.3L1026.9 965.7 L1027.7 965.7L1028 966.6 L1028.8 966.6L1029.1 964.6 L1029.9 964.6L1030.2 968.9 L1031 968.9L1031.3 968.1 L1032.1 968.1L1032.4 964.5 L1033.2 964.5L1033.3 888.8 ZM1035.5 888.8L1035.6 958.4 L1036.4 958.4L1036.7 957.6 L1037.5 957.6L1037.7 888.8 ZM1057.2 888.8L1057.4 928.8 L1058.2 928.8L1058.3 888.8 ZM1082.2 888.8L1082.4 958.5 L1083.2 958.5L1083.5 971.7 L1084.3 971.7L1084.6 965.5 L1085.4 965.5L1085.5 888.8 ZM1087.7 888.8L1087.8 975.2 L1088.6 975.2L1088.9 968.4 L1089.7 968.4L1090 960.8 L1090.8 960.8L1091 888.8 ZM1094.2 888.8L1094.4 969.7 L1095.1 969.7L1095.5 968 L1096.2 968L1096.4 888.8 ZM1097.5 888.8L1097.6 959.2 L1098.4 959.2L1098.7 960.1 L1099.5 960.1L1099.8 961.6 L1100.6 961.6L1100.9 973.4 L1101.7 973.4L1101.8 888.8 ZM1105.1 888.8L1105.2 967.8 L1106 967.8L1106.3 963.3 L1107.1 963.3L1107.4 971.9 L1108.2 971.9L1108.5 968.1 L1109.3 968.1L1109.6 968.6 L1110.4 968.6L1110.7 965.6 L1111.5 965.6L1111.6 888.8 ZM1112.7 888.8L1112.9 961.2 L1113.6 961.2L1113.9 967.8 L1114.7 967.8L1115 965 L1115.8 965L1116.1 968.5 L1116.9 968.5L1117 888.8 ZM1118.1 888.8L1118.3 963.8 L1119.1 963.8L1119.4 957.9 L1120.2 957.9L1120.3 888.8 ZM1122.5 888.8L1122.6 969.2 L1123.4 969.2L1123.7 967 L1124.5 967L1124.8 969.2 L1125.6 969.2L1125.9 971.1 L1126.7 971.1L1127 971.2 L1127.8 971.2L1128.1 969.1 L1128.9 969.1L1129.2 970.1 L1129.9 970.1L1130.2 970 L1131 970L1131.3 971.2 L1132.1 971.2L1132.4 972.1 L1133.2 972.1L1133.5 972.8 L1134.3 972.8L1134.6 968.7 L1135.4 968.7L1135.5 888.8 ZM1141 888.8L1141.1 963.4 L1141.9 963.4L1142.1 888.8 ZM1143.2 888.8L1143.3 962.1 L1144.1 962.1L1144.4 958.1 L1145.2 958.1L1145.3 888.8 ZM1160.5 888.8L1160.7 957.2 L1161.5 957.2L1161.8 954.3 L1162.6 954.3L1162.9 951.5 L1163.7 951.5L1164 967.1 L1164.8 967.1L1165.1 966.5 L1165.8 966.5L1166 888.8 ZM1167.1 888.8L1167.2 953.1 L1168 953.1L1168.2 888.8 ZM1169.2 888.8L1169.4 964 L1170.2 964L1170.5 952.2 L1171.3 952.2L1171.6 963.1 L1172.4 963.1L1172.7 960.5 L1173.4 960.5L1173.6 888.8 ZM1180.1 888.8L1180.3 956.4 L1181.1 956.4L1181.2 888.8 ZM1183.4 888.8L1183.5 957.1 L1184.3 957.1L1184.6 961.3 L1185.4 961.3L1185.7 966.1 L1186.5 966.1L1186.7 888.8 ZM1196.4 888.8L1196.6 955.6 L1197.4 955.6L1197.5 888.8 ZM1201.9 888.8L1202 959.7 L1202.8 959.7L1203 888.8 ZM1208.4 888.8L1208.6 964 L1209.3 964L1209.6 964.2 L1210.4 964.2L1210.6 888.8 ZM1213.8 888.8L1214 949.3 L1214.8 949.3L1215.1 944.3 L1215.9 944.3L1216 888.8 ZM1241 888.8L1241.2 955.5 L1242 955.5L1242.3 942.6 L1243 942.6L1243.2 888.8 ZM1249.7 888.8L1249.9 985.5 L1250.7 985.5L1251 988.5 L1251.8 988.5L1252.1 976.6 L1252.8 976.6L1253.1 982.2 L1253.9 982.2L1254.2 991.7 L1255 991.7L1255.3 972.6 L1256.1 972.6L1256.4 979.8 L1257.2 979.8L1257.5 994.1 L1258.3 994.1L1258.6 987.6 L1259.4 987.6L1259.5 888.8 ZM1261.7 888.8L1261.8 987.5 L1262.6 987.5L1262.9 985.8 L1263.7 985.8L1264 986.9 L1264.8 986.9L1265.1 979.2 L1265.9 979.2L1266.2 944.1 L1267 944.1L1267.3 942.4 L1268.1 942.4L1268.2 888.8 ZM1273.7 888.8L1273.8 982.9 L1274.6 982.9L1274.7 888.8 ZM1279.1 888.8L1279.2 978 L1280 978L1280.2 888.8 ZM1284.5 888.8L1284.7 960.2 L1285.5 960.2L1285.8 972.9 L1286.5 972.9L1286.9 966.5 L1287.6 966.5L1287.9 966.5 L1288.7 966.5L1289 966.3 L1289.8 966.3L1290.1 965.7 L1290.9 965.7L1291.2 979.2 L1292 979.2L1292.3 979.2 L1293.1 979.2L1293.2 888.8 ZM1297.6 888.8L1297.7 963.2 L1298.5 963.2L1298.8 967.2 L1299.6 967.2L1299.8 888.8 ZM1305.2 888.8L1305.3 935.3 L1306.1 935.3L1306.3 888.8 ZM1308.5 888.8L1308.6 980.9 L1309.4 980.9L1309.7 979.6 L1310.5 979.6L1310.8 981.9 L1311.6 981.9L1311.9 979.5 L1312.6 979.5L1313 976.8 L1313.7 976.8L1314 979.7 L1314.8 979.7L1315.1 976.4 L1315.9 976.4L1316.2 979.3 L1317 979.3L1317.3 982.6 L1318.1 982.6L1318.4 976.6 L1319.2 976.6L1319.5 979.4 L1320.3 979.4L1320.6 979.5 L1321.3 979.5L1321.7 978.2 L1322.4 978.2L1322.6 888.8 ZM1330.2 888.8L1330.4 964.8 L1331.1 964.8L1331.3 888.8 ZM1332.4 888.8L1332.5 980.3 L1333.3 980.3L1333.5 888.8 ZM1337.8 888.8L1338 969.4 L1338.8 969.4L1338.9 888.8 ZM1340 888.8L1340.1 968 L1340.9 968L1341.2 975 L1342 975L1342.3 978.6 L1343.1 978.6L1343.2 888.8 ZM1345.4 888.8L1345.6 974.7 L1346.4 974.7L1346.7 972 L1347.4 972L1347.8 969.7 L1348.5 969.7L1348.8 974.1 L1349.6 974.1L1349.9 974.8 L1350.7 974.8L1350.9 888.8 ZM1354.1 888.8L1354.3 972.6 L1355.1 972.6L1355.4 974.7 L1356.1 974.7L1356.5 964.2 L1357.2 964.2L1357.5 963 L1358.3 963L1358.5 888.8 ZM1360.7 888.8L1360.8 963.1 L1361.6 963.1L1361.9 961.1 L1362.7 961.1L1363 962.8 L1363.8 962.8L1364.1 978.6 L1364.8 978.6L1365.2 977 L1365.9 977L1366.1 888.8 ZM1367.2 888.8L1367.3 964.2 L1368.1 964.2L1368.3 888.8 ZM1371.5 888.8L1371.7 970.5 L1372.5 970.5L1372.8 961.5 L1373.5 961.5L1373.9 965.3 L1374.6 965.3L1374.9 975.7 L1375.7 975.7L1375.9 888.8 ZM1377 888.8L1377.1 974.1 L1377.9 974.1L1378 888.8 ZM1395.5 888.8L1395.6 974.7 L1396.4 974.7L1396.7 974.6 L1397.5 974.6L1397.8 971.4 L1398.6 971.4L1398.9 973.4 L1399.6 973.4L1400 970 L1400.7 970L1401 970.4 L1401.8 970.4L1402.1 970.6 L1402.9 970.6L1403.2 972.3 L1404 972.3L1404.3 971.4 L1405.1 971.4L1405.2 888.8 ZM1440 888.8L1440.2 945.2 L1441 945.2L1441.1 888.8 ZM1458.5 888.8L1458.7 964.1 L1459.5 964.1L1459.8 962.6 L1460.5 962.6L1460.9 957.8 L1461.6 957.8L1461.9 955.1 L1462.7 955.1L1463 967.8 L1463.8 967.8L1464 888.8 ZM1481.4 888.8L1481.5 968.8 L1482.3 968.8L1482.6 970.1 L1483.4 970.1L1483.7 969.4 L1484.5 969.4L1484.8 972.4 L1485.6 972.4L1485.9 971.8 L1486.6 971.8L1487 972 L1487.7 972L1488 968.4 L1488.8 968.4L1489.1 970.2 L1489.9 970.2L1490.2 967 L1491 967L1491.3 970.2 L1492.1 970.2L1492.4 969.4 L1493.2 969.4L1493.5 969.9 L1494.3 969.9L1494.6 972 L1495.3 972L1495.7 969.3 L1496.4 969.3L1496.7 967.6 L1497.5 967.6L1497.8 967.1 L1498.6 967.1L1498.8 888.8 ZM1506.4 888.8L1506.5 976 L1507.3 976L1507.6 965 L1508.4 965L1508.7 969.5 L1509.5 969.5L1509.6 888.8 ZM1510.7 888.8L1510.9 973 L1511.7 973L1512 963.9 L1512.8 963.9L1513.1 960.8 L1513.8 960.8L1514.1 963.5 L1514.9 963.5L1515.2 970.4 L1516 970.4L1516.3 960.2 L1517.1 960.2L1517.4 969.9 L1518.2 969.9L1518.5 961.3 L1519.3 961.3L1519.6 960.1 L1520.4 960.1L1520.5 888.8 ZM1521.6 888.8L1521.8 976.2 L1522.5 976.2L1522.8 972.3 L1523.6 972.3L1523.9 959.3 L1524.7 959.3L1525 973.9 L1525.8 973.9L1526.1 960.7 L1526.9 960.7L1527 888.8 ZM1528.1 888.8L1528.3 974.5 L1529.1 974.5L1529.4 963.9 L1530.1 963.9L1530.5 965.7 L1531.2 965.7L1531.5 968.6 L1532.3 968.6L1532.5 888.8 ZM1536.8 888.8L1537 943.8 L1537.8 943.8L1538.1 946 L1538.8 946L1539.2 950 L1539.9 950L1540.2 952.2 L1541 952.2L1541.3 945.1 L1542.1 945.1L1542.3 888.8 ZM1548.8 888.8L1548.9 967.4 L1549.7 967.4L1550 971.1 L1550.8 971.1L1551 888.8 ZM1554.2 888.8L1554.4 963.5 L1555.2 963.5L1555.5 973 L1556.2 973L1556.4 888.8 ZM1560.8 888.8L1560.9 964.4 L1561.7 964.4L1561.8 888.8 ZM1564 888.8L1564.2 961.6 L1564.9 961.6L1565.2 958.9 L1566 958.9L1566.3 965 L1567.1 965L1567.4 961.7 L1568.2 961.7L1568.5 959.9 L1569.3 959.9L1569.5 888.8 ZM1574.9 888.8L1575 979.2 L1575.8 979.2L1576.1 979.1 L1576.9 979.1L1577.2 973.2 L1578 973.2L1578.2 888.8 ZM1579.2 888.8L1579.4 973.7 L1580.2 973.7L1580.3 888.8 ZM1594.5 888.8L1594.6 973.5 L1595.4 973.5L1595.7 968.9 L1596.5 968.9L1596.8 965.7 L1597.6 965.7L1597.9 968.9 L1598.7 968.9L1599 973.7 L1599.8 973.7L1599.9 888.8 ZM1615.1 888.8L1615.3 958.9 L1616.1 958.9L1616.4 949.2 L1617.1 949.2L1617.3 888.8 ZM1627.1 888.8L1627.2 978.3 L1628 978.3L1628.3 979.3 L1629.1 979.3L1629.4 977.2 L1630.2 977.2L1630.5 982.8 L1631.3 982.8L1631.6 979.8 L1632.4 979.8L1632.7 979.1 L1633.5 979.1L1633.8 978.3 L1634.5 978.3L1634.9 983.1 L1635.6 983.1L1635.9 978.1 L1636.7 978.1L1637 978.3 L1637.8 978.3L1638.1 979.1 L1638.9 979.1L1639.2 978.1 L1640 978.1L1640.1 888.8 ZM1663 888.8L1663.1 968.4 L1663.9 968.4L1664.2 965.3 L1665 965.3L1665.3 965.7 L1666.1 965.7L1666.4 965.7 L1667.2 965.7L1667.5 968.7 L1668.3 968.7L1668.6 963.9 L1669.3 963.9L1669.7 966.3 L1670.4 966.3L1670.7 968.1 L1671.5 968.1L1671.8 965.2 L1672.6 965.2L1672.9 963.7 L1673.7 963.7L1674 965.1 L1674.8 965.1L1675.1 967.5 L1675.9 967.5L1676.2 967.5 L1677 967.5L1677.3 967 L1678 967L1678.2 888.8 ZM1695.6 888.8L1695.8 963.1 L1696.5 963.1L1696.8 952.1 L1697.6 952.1L1697.9 953.2 L1698.7 953.2L1699 964.4 L1699.8 964.4L1700.1 953.6 L1700.9 953.6L1701 888.8 ZM1702.1 888.8L1702.3 954 L1703.1 954L1703.4 960.2 L1704.1 960.2L1704.5 952.4 L1705.2 952.4L1705.5 953.2 L1706.3 953.2L1706.6 951.8 L1707.4 951.8L1707.7 959.7 L1708.5 959.7L1708.8 951.3 L1709.6 951.3L1709.9 956.7 L1710.7 956.7L1711 964.8 L1711.8 964.8L1712.1 958.7 L1712.8 958.7L1713.2 960 L1713.9 960L1714.2 966.7 L1715 966.7L1715.3 960.5 L1716.1 960.5L1716.4 955.8 L1717.2 955.8L1717.3 888.8 ZM1718.4 888.8L1718.6 952.3 L1719.4 952.3L1719.7 962.4 L1720.5 962.4L1720.8 964 L1721.5 964L1721.8 965.6 L1722.6 965.6L1722.9 955.8 L1723.7 955.8L1724 954 L1724.8 954L1725.1 961.6 L1725.9 961.6L1726.2 958.3 L1727 958.3L1727.3 955.4 L1728.1 955.4L1728.4 964.8 L1729.2 964.8L1729.5 964.9 L1730.2 964.9L1730.4 888.8 ZM1731.5 888.8L1731.6 953.7 L1732.4 953.7L1732.7 960.7 L1733.5 960.7L1733.7 888.8 ZM1735.8 888.8L1736 968 L1736.8 968L1737.1 954.5 L1737.9 954.5L1738.2 958.1 L1738.9 958.1L1739.2 963.7 L1740 963.7L1740.3 963 L1741.1 963L1741.4 962.1 L1742.2 962.1L1742.5 957.5 L1743.3 957.5L1743.6 953.7 L1744.4 953.7L1744.5 888.8 ZM1745.6 888.8L1745.8 965.6 L1746.6 965.6L1746.7 888.8 ZM1747.8 888.8L1748 957.7 L1748.7 957.7L1749 956.5 L1749.8 956.5L1750 888.8 ZM1757.6 888.8L1757.7 981.5 L1758.5 981.5L1758.8 980.9 L1759.6 980.9L1759.9 976.9 L1760.7 976.9L1761 976.8 L1761.8 976.8L1762.1 980.4 L1762.9 980.4L1763.2 978.2 L1764 978.2L1764.3 980.5 L1765 980.5L1765.3 976.9 L1766.1 976.9L1766.4 976 L1767.2 976L1767.5 978.6 L1768.3 978.6L1768.6 980.8 L1769.4 980.8L1769.7 977.4 L1770.5 977.4L1770.6 888.8 ZM1784.8 888.8L1784.9 934 L1785.7 934L1785.9 888.8 ZM1807.6 888.8L1807.8 966.3 L1808.5 966.3L1808.7 888.8 ZM1810.9 888.8L1811 979.6 L1811.8 979.6L1812.1 964.9 L1812.9 964.9L1813.2 970.8 L1814 970.8L1814.1 888.8 ZM1818.5 888.8L1818.6 975 L1819.4 975L1819.7 965.9 L1820.5 965.9L1820.8 963.7 L1821.6 963.7L1821.9 979.5 L1822.7 979.5L1823 966.5 L1823.8 966.5L1823.9 888.8 ZM1825 888.8L1825.2 978.1 L1825.9 978.1L1826.2 978.9 L1827 978.9L1827.3 982.9 L1828.1 982.9L1828.3 888.8 ZM1834.8 888.8L1835 971.7 L1835.7 971.7L1836 961.8 L1836.8 961.8L1837 888.8 ZM1846.8 888.8L1846.9 961 L1847.7 961L1848 959.7 L1848.8 959.7L1849.1 959.9 L1849.9 959.9L1850.2 975.1 L1851 975.1L1851.3 969.8 L1852 969.8L1852.3 961.2 L1853.1 961.2L1853.4 966.3 L1854.2 966.3L1854.4 888.8 ZM1863.1 888.8L1863.2 963.6 L1864 963.6L1864.3 959.8 L1865.1 959.8L1865.4 974.2 L1866.2 974.2L1866.3 888.8 ZM1867.4 888.8L1867.6 960.1 L1868.4 960.1L1868.7 978.2 L1869.4 978.2L1869.8 967.2 L1870.5 967.2L1870.8 975.3 L1871.6 975.3L1871.9 962.3 L1872.7 962.3L1872.9 888.8 ZM1882.7 888.8L1882.8 988.4 L1883.6 988.4L1883.9 983.7 L1884.7 983.7L1885 982.1 L1885.8 982.1L1886.1 987.2 L1886.8 987.2L1887.2 983 L1887.9 983L1888.2 986.2 L1889 986.2L1889.3 982.4 L1890.1 982.4L1890.4 986.7 L1891.2 986.7L1891.5 984 L1892.3 984L1892.6 986.9 L1893.4 986.9L1893.7 982.3 L1894.5 982.3L1894.8 985.6 L1895.5 985.6L1895.8 983.5 L1896.6 983.5L1896.9 985.1 L1897.7 985.1L1897.9 888.8 ZM1902.2 888.8L1902.4 990.5 L1903.2 990.5L1903.3 888.8 ZM1905.5 888.8L1905.6 989.1 L1906.4 989.1L1906.6 888.8 ZM1908.8 888.8L1908.9 986.4 L1909.7 986.4L1910 986.3 L1910.8 986.3L1910.9 888.8 ZM1927.2 888.8L1927.4 984.2 L1928.2 984.2L1928.3 888.8 ZM1929.4 888.8L1929.6 986.6 L1930.3 986.6L1930.5 888.8 Z"/>
<rect x="1038" y="888.8" width="0.7" height="59" opacity="0.6"/>
<rect x="1058.7" y="888.8" width="0.7" height="25.7" opacity="0.6"/>
<rect x="1065.2" y="888.8" width="0.7" height="17.1" opacity="0.6"/>
<rect x="1096.7" y="888.8" width="0.7" height="45.8" opacity="0.6"/>
<rect x="1102.2" y="831.2" width="0.7" height="57.6" opacity="0.6"/>
<rect x="1112" y="888.8" width="0.7" height="19.8" opacity="0.6"/>
<rect x="1117.4" y="888.8" width="0.7" height="50.3" opacity="0.6"/>
<rect x="1145.7" y="888.8" width="0.7" height="49.5" opacity="0.6"/>
<rect x="1147.8" y="888.8" width="0.7" height="54.7" opacity="0.6"/>
<rect x="1188.1" y="827.3" width="0.7" height="61.5" opacity="0.6"/>
<rect x="1192.4" y="846.9" width="0.7" height="41.9" opacity="0.6"/>
<rect x="1194.6" y="833.7" width="0.7" height="55.1" opacity="0.6"/>
<rect x="1195.7" y="888.8" width="0.7" height="48.6" opacity="0.6"/>
<rect x="1203.3" y="888.8" width="0.7" height="42.7" opacity="0.6"/>
<rect x="1205.5" y="851.7" width="0.7" height="37.1" opacity="0.6"/>
<rect x="1212" y="843.7" width="0.7" height="45.1" opacity="0.6"/>
<rect x="1213.1" y="851.2" width="0.7" height="37.6" opacity="0.6"/>
<rect x="1224" y="888.8" width="0.7" height="27.9" opacity="0.6"/>
<rect x="1246.8" y="829.6" width="0.7" height="59.2" opacity="0.6"/>
<rect x="1271.8" y="848.7" width="0.7" height="40.1" opacity="0.6"/>
<rect x="1275.1" y="888.8" width="0.7" height="75.4" opacity="0.6"/>
<rect x="1276.2" y="888.8" width="0.7" height="57.3" opacity="0.6"/>
<rect x="1277.3" y="888.8" width="0.7" height="53.6" opacity="0.6"/>
<rect x="1282.7" y="854.6" width="0.7" height="34.2" opacity="0.6"/>
<rect x="1306.6" y="888.8" width="0.7" height="33.9" opacity="0.6"/>
<rect x="1326.2" y="859.4" width="0.7" height="29.4" opacity="0.6"/>
<rect x="1334.9" y="888.8" width="0.7" height="50.7" opacity="0.6"/>
<rect x="1343.6" y="888.8" width="0.7" height="64.8" opacity="0.6"/>
<rect x="1351.2" y="868.5" width="0.7" height="20.3" opacity="0.6"/>
<rect x="1353.4" y="864.5" width="0.7" height="24.3" opacity="0.6"/>
<rect x="1366.4" y="888.8" width="0.7" height="55.4" opacity="0.6"/>
<rect x="1370.8" y="888.8" width="0.7" height="24.6" opacity="0.6"/>
<rect x="1376.2" y="888.8" width="0.7" height="40.9" opacity="0.6"/>
<rect x="1383.8" y="888.8" width="0.7" height="25.6" opacity="0.6"/>
<rect x="1453.4" y="845.5" width="0.7" height="43.3" opacity="0.6"/>
<rect x="1464.3" y="888.8" width="0.7" height="61" opacity="0.6"/>
<rect x="1467.6" y="858.9" width="0.7" height="29.9" opacity="0.6"/>
<rect x="1501.3" y="835.6" width="0.7" height="53.2" opacity="0.6"/>
<rect x="1510" y="888.8" width="0.7" height="69.4" opacity="0.6"/>
<rect x="1552.4" y="888.8" width="0.7" height="53.8" opacity="0.6"/>
<rect x="1553.5" y="888.8" width="0.7" height="49.9" opacity="0.6"/>
<rect x="1556.7" y="852.5" width="0.7" height="36.3" opacity="0.6"/>
<rect x="1562.2" y="888.8" width="0.7" height="21" opacity="0.6"/>
<rect x="1578.5" y="888.8" width="0.7" height="71.3" opacity="0.6"/>
<rect x="1582.8" y="876.5" width="0.7" height="12.3" opacity="0.6"/>
<rect x="1613.3" y="857.7" width="0.7" height="31.1" opacity="0.6"/>
<rect x="1617.6" y="888.8" width="0.7" height="35.8" opacity="0.6"/>
<rect x="1678.5" y="851.2" width="0.7" height="37.6" opacity="0.6"/>
<rect x="1701.4" y="888.8" width="0.7" height="23.6" opacity="0.6"/>
<rect x="1717.7" y="888.8" width="0.7" height="33.1" opacity="0.6"/>
<rect x="1734" y="888.8" width="0.7" height="57.8" opacity="0.6"/>
<rect x="1747.1" y="888.8" width="0.7" height="46.6" opacity="0.6"/>
<rect x="1784" y="836.5" width="0.7" height="52.3" opacity="0.6"/>
<rect x="1796" y="857" width="0.7" height="31.8" opacity="0.6"/>
<rect x="1803.6" y="821.2" width="0.7" height="67.6" opacity="0.6"/>
<rect x="1786.2" y="888.8" width="0.7" height="19.1" opacity="0.6"/>
<rect x="1806.9" y="888.8" width="0.7" height="37.1" opacity="0.6"/>
<rect x="1810.1" y="888.8" width="0.7" height="41.8" opacity="0.6"/>
<rect x="1815.6" y="862.4" width="0.7" height="26.4" opacity="0.6"/>
<rect x="1830.8" y="874.9" width="0.7" height="13.9" opacity="0.6"/>
<rect x="1837.3" y="874.2" width="0.7" height="14.6" opacity="0.6"/>
<rect x="1838.4" y="862.1" width="0.7" height="26.7" opacity="0.6"/>
<rect x="1834.1" y="888.8" width="0.7" height="19.2" opacity="0.6"/>
<rect x="1861.2" y="888.8" width="0.7" height="56.4" opacity="0.6"/>
<rect x="1862.3" y="888.8" width="0.7" height="47.9" opacity="0.6"/>
<rect x="1900.4" y="826.7" width="0.7" height="62.1" opacity="0.6"/>
<rect x="1904.7" y="888.8" width="0.7" height="27.8" opacity="0.6"/>
<rect x="1906.9" y="888.8" width="0.7" height="47.4" opacity="0.6"/>
<rect x="1911.3" y="888.8" width="0.7" height="40.2" opacity="0.6"/>
<rect x="1915.6" y="831.2" width="0.7" height="57.6" opacity="0.6"/>
<rect x="1920" y="816.7" width="0.7" height="72.1" opacity="0.6"/>
<rect x="1926.5" y="888.8" width="0.7" height="46.9" opacity="0.6"/></g>
<line x1="983.3" y1="888.8" x2="1931" y2="888.8" stroke="#2f6b45" stroke-width="1.3"/>
<path d="M983.9 883.4C984.2 887.9 984.9 901.1 985.5 910.3C986.2 919.4 986.7 930.9 987.9 938.3C989 945.7 991 948.4 992.5 954.7C994.1 960.9 996 975.3 997.2 975.7C998.4 976.1 998.8 960.9 999.5 957C1000.3 953.1 1001.1 950.8 1001.9 952.3C1002.7 953.9 1003.4 964.8 1004.2 966.4C1005 967.9 1005.6 967.9 1006.6 961.7C1007.5 955.4 1009.1 932.8 1010.1 929C1011 925.1 1011.6 933.6 1012.4 938.3C1013.2 943 1014 954.7 1014.7 957C1015.5 959.3 1016.3 951.2 1017.1 952.3C1017.9 953.5 1018.4 967.1 1019.4 964C1020.4 960.9 1021.9 930.9 1022.9 933.6C1023.9 936.4 1024.6 962.8 1025.3 980.4C1025.9 997.9 1026.3 1034.9 1026.9 1038.8C1027.5 1042.7 1028.1 1019.7 1028.8 1003.8C1029.5 987.8 1030.1 960.5 1031.1 943C1032.1 925.4 1033.8 907.5 1034.6 898.6C1035.4 889.6 1035.1 882 1035.8 889.2C1036.4 896.4 1037.7 941.4 1038.6 941.8C1039.5 942.2 1040.4 905.5 1041.2 891.6C1041.9 877.6 1042.6 860.3 1043.3 858.4C1043.9 856.4 1044.4 871.4 1045.1 879.9C1045.8 888.3 1046.8 907.1 1047.5 909.1C1048.2 911 1048.7 899.1 1049.3 891.6C1049.9 884 1050.4 865.8 1051 863.5C1051.5 861.2 1052 875.6 1052.6 877.5C1053.2 879.5 1053.9 873 1054.5 875.2C1055.1 877.3 1055.6 885.7 1056.3 890.4C1057.1 895.1 1058.3 905.8 1059.2 903.2C1060 900.7 1060.6 879.5 1061.5 875.2C1062.3 870.9 1063.4 872.1 1064.3 877.5C1065.2 883 1065.6 900.5 1066.6 907.9C1067.6 915.3 1069.4 927.4 1070.4 921.9C1071.4 916.5 1071.9 885.9 1072.7 875.2C1073.5 864.5 1074.3 861 1075 857.7C1075.8 854.3 1076.6 854.3 1077.4 855.3C1078.2 856.3 1078.9 856.3 1079.7 863.5C1080.5 870.7 1081.3 887.7 1082.1 898.6C1082.8 909.5 1083.6 929.7 1084.4 929C1085.2 928.2 1085.9 900.9 1086.7 893.9C1087.6 886.9 1088.5 890.8 1089.5 886.9C1090.6 883 1092.1 871.3 1093 870.5C1094 869.7 1094.4 870.1 1095.4 882.2C1096.4 894.3 1097.7 941.4 1098.9 943C1100.1 944.5 1101.5 901.3 1102.4 891.6C1103.3 881.8 1103.4 881 1104 884.5C1104.6 888 1105.1 902.9 1105.9 912.6C1106.7 922.3 1107.9 940.3 1108.7 943C1109.6 945.7 1110.3 932.5 1111 929C1111.8 925.4 1112.6 919.6 1113.4 921.9C1114.2 924.3 1114.6 951.2 1115.7 943C1116.9 934.8 1118.9 868.6 1120.4 872.9C1121.9 877.1 1123.3 957 1124.6 968.7C1125.9 980.4 1126.9 946.5 1128.1 943C1129.3 939.5 1130.4 951.9 1131.6 947.7C1132.8 943.4 1134.1 931.3 1135.1 917.3C1136.2 903.2 1137 875.2 1137.9 863.5C1138.8 851.8 1139.7 849.3 1140.5 847.1C1141.3 845 1142.1 846 1142.8 850.6C1143.6 855.3 1144.4 862.1 1145.2 875.2C1146 888.2 1146.7 927.8 1147.5 929C1148.4 930.1 1149.5 894.1 1150.3 882.2C1151.1 870.3 1151.9 861.6 1152.3 857.7C1152.7 853.8 1152.3 857.1 1152.7 858.8C1153 860.6 1153.8 868 1154.7 868.2C1155.6 868.4 1157.2 856.9 1158.2 860C1159.2 863.1 1159.6 871.7 1160.5 886.9C1161.4 902.1 1162.7 951.5 1163.6 951.2C1164.5 950.8 1165.2 894.1 1165.9 884.5C1166.6 875 1166.8 885.1 1167.5 893.9C1168.3 902.7 1169.6 936 1170.6 937.1C1171.5 938.3 1172.3 916.9 1173.4 900.9C1174.4 884.9 1175.9 848.3 1176.9 841.3C1177.9 834.3 1178.4 852.4 1179.2 858.8C1180 865.3 1180.6 864.1 1181.6 879.9C1182.5 895.6 1183.8 947.8 1185.1 953.5C1186.3 959.1 1188.3 919 1189.3 913.8C1190.2 908.5 1190.2 921.4 1190.9 921.9C1191.6 922.5 1192.3 914 1193.2 917.3C1194.2 920.6 1195.5 947.7 1196.8 941.8C1198 936 1199.9 889.6 1201 882.2C1202 874.8 1202.4 896.6 1203.3 897.4C1204.2 898.2 1205.2 880.4 1206.1 886.9C1207 893.3 1207.3 935.8 1208.4 936C1209.6 936.2 1211.9 892.5 1213.1 888C1214.3 883.6 1214.6 906.7 1215.5 909.1C1216.3 911.4 1217.3 907.7 1218.3 902.1C1219.2 896.4 1220.3 878.9 1221.3 875.2C1222.3 871.5 1223.2 883.8 1224.3 879.9C1225.4 876 1226.6 849.5 1227.8 851.8C1229.1 854.2 1230.8 888.4 1231.8 893.9C1232.9 899.3 1233.1 889.2 1234.2 884.5C1235.2 879.9 1237 863.5 1238.4 865.8C1239.7 868.2 1241 900.7 1242.3 898.6C1243.7 896.4 1245.1 854.5 1246.3 853C1247.5 851.4 1248.3 877.7 1249.3 889.2C1250.4 900.7 1251.6 909.3 1252.9 921.9C1254.1 934.6 1255.7 970.1 1257.1 965.2C1258.4 960.3 1259.7 899.3 1261 892.7C1262.4 886.1 1264.1 927.2 1265.2 925.4C1266.4 923.7 1267.2 892.1 1268 882.2C1268.9 872.3 1269.6 869.5 1270.4 865.8C1271.2 862.1 1271.9 859.2 1272.7 860C1273.5 860.8 1274.2 864.3 1275.1 870.5C1275.9 876.7 1276.7 899 1277.9 897.4C1279 895.8 1281 864.1 1282.1 861.2C1283.2 858.2 1283.4 866.8 1284.4 879.9C1285.4 892.9 1286.7 937.1 1287.9 939.5C1289.1 941.8 1290.4 901.9 1291.4 893.9C1292.4 885.9 1293 894.7 1293.8 891.6C1294.5 888.4 1295.2 877.3 1296.1 875.2C1297 873 1297.9 876.7 1298.9 878.7C1299.9 880.6 1301 887.7 1301.9 886.9C1302.8 886.1 1303.5 876.7 1304.3 874C1305.1 871.3 1305.4 860.4 1306.6 870.5C1307.8 880.6 1309.9 932.5 1311.3 934.8C1312.7 937.1 1313.4 880.6 1314.8 884.5C1316.2 888.4 1317.9 960.5 1319.5 958.2C1321 955.8 1322.6 882.4 1324.1 870.5C1325.7 858.6 1326.8 880.1 1328.5 886.9C1330.2 893.7 1332.7 918.4 1334.4 911.4C1336 904.4 1337.5 855.1 1338.6 844.8C1339.6 834.5 1340 839.9 1340.9 849.5C1341.8 859 1342.5 898.2 1343.7 902.1C1344.9 906 1346.9 881.6 1348.4 872.9C1349.9 864.1 1351.2 845.2 1352.6 849.5C1353.9 853.8 1355.3 894.1 1356.6 898.6C1357.8 903 1358.9 881.4 1360.1 876.4C1361.2 871.3 1362.3 872.5 1363.6 868.2C1364.8 863.9 1366.4 852.4 1367.5 850.6C1368.7 848.9 1369.4 852.8 1370.6 857.7C1371.8 862.5 1373.3 882.2 1374.6 879.9C1375.8 877.5 1377 849.5 1378.3 843.6C1379.6 837.8 1381.2 843.6 1382.3 844.8C1383.3 846 1383.4 852 1384.6 850.6C1385.8 849.3 1387.9 835.3 1389.3 836.6C1390.6 838 1391.3 846.7 1392.8 858.8C1394.2 870.9 1396.4 906.6 1397.9 909.1C1399.5 911.6 1401 875.6 1402.1 874C1403.2 872.5 1403.5 902.1 1404.5 899.7C1405.5 897.4 1406.8 865.1 1408 860C1409.2 854.9 1410.5 870.3 1411.5 869.3C1412.5 868.4 1412.9 857.5 1413.8 854.2C1414.8 850.8 1416.2 848.7 1417.3 849.5C1418.5 850.3 1419.7 858.6 1420.8 858.8C1422 859 1423.4 848.3 1424.3 850.6C1425.3 853 1425.7 871.5 1426.7 872.9C1427.7 874.2 1429 860.4 1430.2 858.8C1431.4 857.3 1432.7 864.7 1433.7 863.5C1434.7 862.3 1435.1 848.1 1436 851.8C1437 855.5 1438.4 884.7 1439.5 885.7C1440.7 886.7 1441.9 860.4 1443 857.7C1444.2 854.9 1445.6 868.6 1446.6 869.3C1447.5 870.1 1447.9 865.3 1448.9 862.3C1449.9 859.4 1451.2 850.1 1452.4 851.8C1453.6 853.6 1454.5 865.3 1455.9 872.9C1457.3 880.4 1459.2 895.4 1460.6 897.4C1461.9 899.3 1463.1 891.2 1464.1 884.5C1465.1 877.9 1465.3 864.7 1466.4 857.7C1467.6 850.6 1469.5 843.6 1471.1 842.5C1472.7 841.3 1474.4 848.1 1475.8 850.6C1477.1 853.2 1477.9 851.4 1479.3 857.7C1480.6 863.9 1482.2 871.5 1484 888C1485.7 904.6 1488 953.3 1489.8 957C1491.5 960.7 1492.9 923.1 1494.5 910.3C1496 897.4 1497.6 889.8 1499.1 879.9C1500.7 869.9 1502.2 849.5 1503.5 850.6C1504.8 851.8 1505.8 875 1507 886.9C1508.2 898.8 1509.3 919.2 1510.5 921.9C1511.8 924.7 1513.1 899.5 1514.5 903.2C1515.9 906.9 1517.2 946.1 1518.7 944.1C1520.2 942.2 1521.7 888 1523.4 891.6C1525 895.1 1527 966.7 1528.5 965.2C1530.1 963.6 1531.6 902.3 1532.7 882.2C1533.9 862.1 1534.4 844.2 1535.5 844.8C1536.6 845.4 1538.2 882.2 1539.3 885.7C1540.4 889.2 1541.2 871.7 1542.1 865.8C1542.9 860 1543.6 850.3 1544.4 850.6C1545.2 851 1545.5 854.9 1546.8 868.2C1548 881.4 1550.2 928.4 1551.9 930.1C1553.6 931.9 1555.1 881.2 1556.8 878.7C1558.5 876.2 1560.5 914.7 1561.9 914.9C1563.4 915.1 1564.5 887.7 1565.5 879.9C1566.4 872.1 1566.8 869.3 1567.8 868.2C1568.8 867 1570.1 869.7 1571.3 872.9C1572.5 876 1573.6 878.1 1574.8 886.9C1576 895.6 1577.1 925.4 1578.3 925.4C1579.5 925.4 1580.6 893.9 1581.8 886.9C1583 879.9 1584 890.4 1585.3 883.4C1586.7 876.4 1588.8 849.7 1590 844.8C1591.2 839.9 1591.2 839 1592.3 854.2C1593.5 869.3 1595.3 932.5 1597 936C1598.8 939.5 1600.9 891.6 1602.9 875.2C1604.8 858.8 1607.1 844.2 1608.7 837.8C1610.3 831.4 1610.9 831 1612.2 836.6C1613.5 842.3 1615.2 868.8 1616.4 871.7C1617.6 874.6 1618 857.7 1619.2 854.2C1620.5 850.6 1622.5 844.8 1623.9 850.6C1625.3 856.5 1626 871.5 1627.4 889.2C1628.8 906.9 1630.5 957.6 1632.1 957C1633.6 956.4 1635.5 891.9 1636.7 885.7C1638 879.5 1638.6 929.5 1639.8 919.6C1641 909.7 1642.5 841.5 1643.8 826.1C1645 810.7 1646.3 824 1647.3 827.3C1648.2 830.6 1648.8 845.8 1649.6 846C1650.4 846.2 1651 828.4 1651.9 828.4C1652.9 828.4 1654.3 844.4 1655.4 846C1656.6 847.5 1657.8 832.5 1659 837.8C1660.1 843 1661.1 864.9 1662.5 877.5C1663.8 890.2 1665.8 912.2 1667.1 913.8C1668.4 915.3 1669 884.7 1670.2 886.9C1671.3 889 1673 918.8 1674.1 926.6C1675.3 934.4 1676.4 945.3 1677.3 933.6C1678.3 921.9 1678.9 870.3 1679.7 856.5C1680.5 842.7 1681.2 854.2 1682 850.6C1682.8 847.1 1683.5 840.1 1684.4 835.5C1685.2 830.8 1686.3 823.2 1687.2 822.6C1688 822 1688.6 829.8 1689.5 831.9C1690.4 834.1 1691.6 831 1692.5 835.5C1693.4 839.9 1694.1 847.5 1694.9 858.8C1695.6 870.1 1696.2 900.9 1697.2 903.2C1698.2 905.6 1699.7 876.7 1700.7 872.9C1701.7 869 1702.1 881.2 1703.1 879.9C1704 878.5 1705.4 858.4 1706.6 864.7C1707.7 870.9 1708.9 914.7 1710.1 917.3C1711.2 919.8 1712.3 877.9 1713.6 879.9C1714.8 881.8 1716.4 927.6 1717.5 929C1718.7 930.3 1719.7 893.9 1720.6 888C1721.5 882.2 1722.1 890.2 1722.9 893.9C1723.7 897.6 1724.4 905.4 1725.3 910.3C1726.2 915.1 1727.3 928.4 1728.3 923.1C1729.3 917.8 1730.2 887.5 1731.1 878.7C1732 869.9 1732.6 872.7 1733.4 870.5C1734.3 868.4 1735.2 862.7 1736.2 865.8C1737.3 869 1738.7 877.9 1740 889.2C1741.3 900.5 1742.9 930.1 1744 933.6C1745 937.1 1745.3 915.7 1746.3 910.3C1747.3 904.8 1748.6 907.9 1749.8 900.9C1751 893.9 1752.2 868.2 1753.3 868.2C1754.4 868.2 1755.2 887.7 1756.3 900.9C1757.5 914.1 1758.9 944.5 1760.3 947.7C1761.8 950.8 1763.6 919.8 1765 919.6C1766.4 919.4 1767.2 951.9 1768.5 946.5C1769.8 941 1771.3 903.4 1772.7 886.9C1774.1 870.3 1775.6 853 1776.7 847.1C1777.7 841.3 1778 845.6 1779 851.8C1780 858 1781.4 882.6 1782.5 884.5C1783.7 886.5 1785.1 865.4 1786 863.5C1787 861.6 1787.4 873.4 1788.4 872.9C1789.3 872.3 1790.7 858 1791.9 860C1793 861.9 1794.2 884 1795.4 884.5C1796.6 885.1 1797.6 860.2 1798.9 863.5C1800.2 866.8 1801.9 902.3 1803.1 904.4C1804.3 906.6 1804.9 879.9 1805.9 876.4C1807 872.9 1808.2 879.3 1809.4 883.4C1810.6 887.5 1811.6 906.4 1812.9 900.9C1814.2 895.4 1815.8 850.6 1817.1 850.6C1818.5 850.6 1819.9 877.7 1821.1 900.9C1822.3 924.1 1823 981.5 1824.1 989.7C1825.3 997.9 1826.7 967.5 1828.1 950C1829.6 932.5 1831.4 890.8 1832.8 884.5C1834.1 878.3 1835.1 910.6 1836.3 912.6C1837.5 914.5 1838.3 905.2 1839.8 896.2C1841.3 887.3 1843 852.6 1845.2 858.8C1847.3 865.1 1850.6 931.7 1852.6 933.6C1854.6 935.6 1855.8 881.4 1857.3 870.5C1858.7 859.6 1859.9 860.4 1861.2 868.2C1862.6 876 1864.4 911 1865.5 917.3C1866.5 923.5 1866.9 901.3 1867.8 905.6C1868.7 909.9 1869.7 947.3 1870.8 943C1872 938.7 1873.6 894.3 1874.8 879.9C1876 865.4 1877.3 857.1 1878.3 856.5C1879.3 855.9 1879.7 867 1880.6 876.4C1881.6 885.7 1883 892.9 1884.2 912.6C1885.3 932.3 1886.3 973.4 1887.7 994.4C1889 1015.4 1891 1039.2 1892.3 1038.8C1893.7 1038.4 1894.5 1022.1 1895.8 992.1C1897.2 962.1 1899.2 880.6 1900.5 858.8C1901.9 837 1902.9 859.2 1904 861.2C1905.2 863.1 1906.4 864.7 1907.5 870.5C1908.7 876.4 1909.9 888.4 1911 896.2C1912.2 904 1913.4 918 1914.5 917.3C1915.7 916.5 1916.7 899.3 1918 891.6C1919.4 883.8 1921.2 869.3 1922.7 870.5C1924.3 871.7 1925.9 897 1927.4 898.6C1928.9 900.1 1930.9 883 1931.6 879.9" fill="none" stroke="#C254AB" stroke-width="2" stroke-linejoin="round"/>
<circle cx="1370.3" cy="889.1" r="4.4" fill="#000"/>
<text x="978.6" y="792.6" font-size="18.5" text-anchor="end">21</text>
<text x="978.6" y="843.6" font-size="18.5" text-anchor="end">10</text>
<text x="978.6" y="894.6" font-size="18.5" text-anchor="end">0</text>
<rect x="982" y="1062.7" width="920" height="10.8" fill="#DCDCDC"/>
<g stroke="#8a8a8a" stroke-width="1.1"><line x1="982.2" y1="1050.8" x2="982.2" y2="1089.3"/><line x1="1025.7" y1="1050.8" x2="1025.7" y2="1089.3"/><line x1="1069.2" y1="1050.8" x2="1069.2" y2="1089.3"/><line x1="1112.7" y1="1050.8" x2="1112.7" y2="1089.3"/><line x1="1156.2" y1="1050.8" x2="1156.2" y2="1089.3"/><line x1="1199.7" y1="1050.8" x2="1199.7" y2="1089.3"/><line x1="1243.2" y1="1050.8" x2="1243.2" y2="1089.3"/><line x1="1286.7" y1="1050.8" x2="1286.7" y2="1089.3"/><line x1="1330.2" y1="1050.8" x2="1330.2" y2="1089.3"/><line x1="1373.7" y1="1050.8" x2="1373.7" y2="1089.3"/><line x1="1417.2" y1="1050.8" x2="1417.2" y2="1089.3"/><line x1="1460.7" y1="1050.8" x2="1460.7" y2="1089.3"/><line x1="1504.2" y1="1050.8" x2="1504.2" y2="1089.3"/><line x1="1547.7" y1="1050.8" x2="1547.7" y2="1089.3"/><line x1="1591.2" y1="1050.8" x2="1591.2" y2="1089.3"/><line x1="1634.7" y1="1050.8" x2="1634.7" y2="1089.3"/><line x1="1678.2" y1="1050.8" x2="1678.2" y2="1089.3"/><line x1="1721.7" y1="1050.8" x2="1721.7" y2="1089.3"/><line x1="1765.2" y1="1050.8" x2="1765.2" y2="1089.3"/><line x1="1808.7" y1="1050.8" x2="1808.7" y2="1089.3"/><line x1="1852.2" y1="1050.8" x2="1852.2" y2="1089.3"/><line x1="1895.7" y1="1050.8" x2="1895.7" y2="1089.3"/></g>
<rect x="983.3" y="1059.8" width="47.4" height="16.2" fill="#7B247C"/>
<rect x="1902.6" y="1059.8" width="28.8" height="16.2" fill="#7B247C"/>
<rect x="1354.8" y="1059.8" width="36" height="16.2" fill="#E3221F"/>
<circle cx="1370.3" cy="1067.7" r="4.4" fill="#000"/>
<text x="982.2" y="1116.5" font-size="18.5" text-anchor="middle">0</text>
<text x="1069.2" y="1116.5" font-size="18.5" text-anchor="middle">20</text>
<text x="1156.2" y="1116.5" font-size="18.5" text-anchor="middle">40</text>
<text x="1243.2" y="1116.5" font-size="18.5" text-anchor="middle">60</text>
<text x="1330.2" y="1116.5" font-size="18.5" text-anchor="middle">80</text>
<text x="1417.2" y="1116.5" font-size="18.5" text-anchor="middle">100</text>
<text x="1504.2" y="1116.5" font-size="18.5" text-anchor="middle">120</text>
<text x="1591.2" y="1116.5" font-size="18.5" text-anchor="middle">140</text>
<text x="1678.2" y="1116.5" font-size="18.5" text-anchor="middle">160</text>
<text x="1765.2" y="1116.5" font-size="18.5" text-anchor="middle">180</text>
<text x="1852.2" y="1116.5" font-size="18.5" text-anchor="middle">200</text>
<text x="1442.7" y="1142" font-size="27.5" text-anchor="middle">Position (Mb)</text>
<text x="869" y="769.5" font-size="32" text-anchor="start" font-weight="bold">e</text>
<text x="914" y="891" font-size="27.5" text-anchor="middle" transform="rotate(-90 914 891)">−1 × Eigenvector</text>
<text x="941" y="891" font-size="27.5" text-anchor="middle" transform="rotate(-90 941 891)">(PC3: Repeat density)</text>
<text x="1968.5" y="894" font-size="27.5" text-anchor="middle" transform="rotate(-90 1968.5 894)">Eigenvector</text>
<text x="1992" y="894" font-size="27.5" text-anchor="middle" transform="rotate(-90 1992 894)">(HiC)</text>
</svg></body></html>
